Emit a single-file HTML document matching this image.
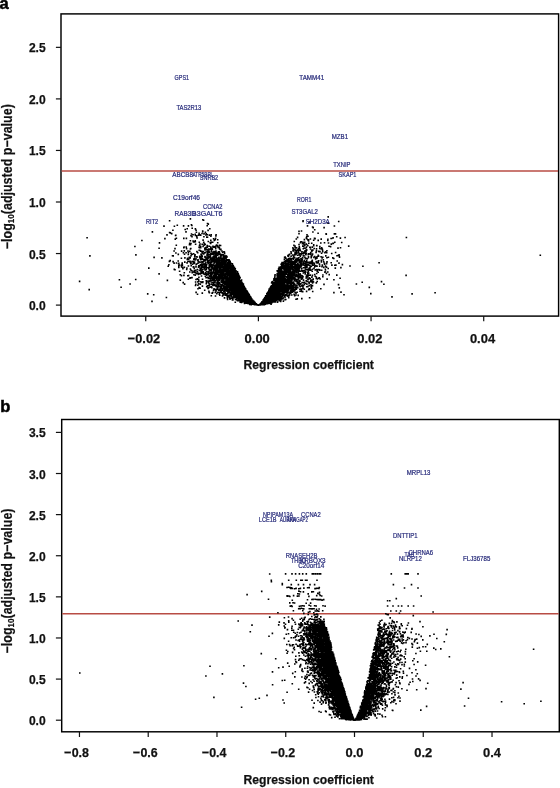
<!DOCTYPE html>
<html><head><meta charset="utf-8"><style>
html,body{margin:0;padding:0;background:#fff;width:560px;height:788px;overflow:hidden}
svg{display:block;will-change:transform}
text{font-family:"Liberation Sans",sans-serif}
.tk{font-size:13.6px;font-weight:bold;fill:#111;stroke:#111;stroke-width:0.25px}
.tt{font-size:13.5px;font-weight:bold;fill:#111;stroke:#111;stroke-width:0.25px}
.yt{font-size:14px;font-weight:bold;fill:#111;stroke:#111;stroke-width:0.2px}
.pl{font-size:16.5px;font-weight:bold;fill:#000;stroke:#000;stroke-width:0.5px}
.gn{font-size:7px;fill:#262a7a;stroke:#262a7a;stroke-width:0.22px}
</style></head><body>
<svg width="560" height="788" viewBox="0 0 560 788">
<rect x="61.0" y="13.9" width="497.60" height="302.20" fill="none" stroke="#000" stroke-width="1.45"/>
<line x1="55.9" x2="61.0" y1="305.10" y2="305.10" stroke="#111" stroke-width="1.2"/>
<text x="45.7" y="310.10" text-anchor="end" class="tk" textLength="16.8" lengthAdjust="spacingAndGlyphs">0.0</text>
<line x1="55.9" x2="61.0" y1="253.55" y2="253.55" stroke="#111" stroke-width="1.2"/>
<text x="45.7" y="258.55" text-anchor="end" class="tk" textLength="16.8" lengthAdjust="spacingAndGlyphs">0.5</text>
<line x1="55.9" x2="61.0" y1="202.00" y2="202.00" stroke="#111" stroke-width="1.2"/>
<text x="45.7" y="207.00" text-anchor="end" class="tk" textLength="16.8" lengthAdjust="spacingAndGlyphs">1.0</text>
<line x1="55.9" x2="61.0" y1="150.45" y2="150.45" stroke="#111" stroke-width="1.2"/>
<text x="45.7" y="155.45" text-anchor="end" class="tk" textLength="16.8" lengthAdjust="spacingAndGlyphs">1.5</text>
<line x1="55.9" x2="61.0" y1="98.90" y2="98.90" stroke="#111" stroke-width="1.2"/>
<text x="45.7" y="103.90" text-anchor="end" class="tk" textLength="16.8" lengthAdjust="spacingAndGlyphs">2.0</text>
<line x1="55.9" x2="61.0" y1="47.35" y2="47.35" stroke="#111" stroke-width="1.2"/>
<text x="45.7" y="52.35" text-anchor="end" class="tk" textLength="16.8" lengthAdjust="spacingAndGlyphs">2.5</text>
<line x1="145.74" x2="145.74" y1="316.1" y2="321.30" stroke="#111" stroke-width="1.2"/>
<text x="143.94" y="343.3" text-anchor="middle" class="tk" textLength="32.4" lengthAdjust="spacingAndGlyphs">−0.02</text>
<line x1="258.40" x2="258.40" y1="316.1" y2="321.30" stroke="#111" stroke-width="1.2"/>
<text x="257.20" y="343.3" text-anchor="middle" class="tk" textLength="25.2" lengthAdjust="spacingAndGlyphs">0.00</text>
<line x1="371.06" x2="371.06" y1="316.1" y2="321.30" stroke="#111" stroke-width="1.2"/>
<text x="369.86" y="343.3" text-anchor="middle" class="tk" textLength="25.2" lengthAdjust="spacingAndGlyphs">0.02</text>
<line x1="483.72" x2="483.72" y1="316.1" y2="321.30" stroke="#111" stroke-width="1.2"/>
<text x="482.52" y="343.3" text-anchor="middle" class="tk" textLength="25.2" lengthAdjust="spacingAndGlyphs">0.04</text>
<text x="308.7" y="369.3" text-anchor="middle" class="tt" textLength="130.4" lengthAdjust="spacingAndGlyphs">Regression coefficient</text>
<text transform="translate(11.7 176.7) rotate(-90)" x="0" y="0" text-anchor="middle" class="yt" textLength="145" lengthAdjust="spacingAndGlyphs">−log<tspan font-size="9px" dy="2.4">10</tspan><tspan dy="-2.4">(adjusted p−value)</tspan></text>
<line x1="61.6" x2="558.0" y1="170.96" y2="170.96" stroke="#b84c44" stroke-width="1.6"/>
<rect x="61.7" y="419.5" width="497.60" height="312.30" fill="none" stroke="#000" stroke-width="1.45"/>
<line x1="55.9" x2="61.7" y1="720.20" y2="720.20" stroke="#111" stroke-width="1.2"/>
<text x="45.7" y="725.20" text-anchor="end" class="tk" textLength="16.8" lengthAdjust="spacingAndGlyphs">0.0</text>
<line x1="55.9" x2="61.7" y1="679.09" y2="679.09" stroke="#111" stroke-width="1.2"/>
<text x="45.7" y="684.09" text-anchor="end" class="tk" textLength="16.8" lengthAdjust="spacingAndGlyphs">0.5</text>
<line x1="55.9" x2="61.7" y1="637.97" y2="637.97" stroke="#111" stroke-width="1.2"/>
<text x="45.7" y="642.97" text-anchor="end" class="tk" textLength="16.8" lengthAdjust="spacingAndGlyphs">1.0</text>
<line x1="55.9" x2="61.7" y1="596.86" y2="596.86" stroke="#111" stroke-width="1.2"/>
<text x="45.7" y="601.86" text-anchor="end" class="tk" textLength="16.8" lengthAdjust="spacingAndGlyphs">1.5</text>
<line x1="55.9" x2="61.7" y1="555.74" y2="555.74" stroke="#111" stroke-width="1.2"/>
<text x="45.7" y="560.74" text-anchor="end" class="tk" textLength="16.8" lengthAdjust="spacingAndGlyphs">2.0</text>
<line x1="55.9" x2="61.7" y1="514.62" y2="514.62" stroke="#111" stroke-width="1.2"/>
<text x="45.7" y="519.62" text-anchor="end" class="tk" textLength="16.8" lengthAdjust="spacingAndGlyphs">2.5</text>
<line x1="55.9" x2="61.7" y1="473.51" y2="473.51" stroke="#111" stroke-width="1.2"/>
<text x="45.7" y="478.51" text-anchor="end" class="tk" textLength="16.8" lengthAdjust="spacingAndGlyphs">3.0</text>
<line x1="55.9" x2="61.7" y1="432.40" y2="432.40" stroke="#111" stroke-width="1.2"/>
<text x="45.7" y="437.40" text-anchor="end" class="tk" textLength="16.8" lengthAdjust="spacingAndGlyphs">3.5</text>
<line x1="79.46" x2="79.46" y1="731.8" y2="737.00" stroke="#111" stroke-width="1.2"/>
<text x="76.66" y="756.9" text-anchor="middle" class="tk" textLength="24.6" lengthAdjust="spacingAndGlyphs">−0.8</text>
<line x1="148.22" x2="148.22" y1="731.8" y2="737.00" stroke="#111" stroke-width="1.2"/>
<text x="145.42" y="756.9" text-anchor="middle" class="tk" textLength="24.6" lengthAdjust="spacingAndGlyphs">−0.6</text>
<line x1="216.98" x2="216.98" y1="731.8" y2="737.00" stroke="#111" stroke-width="1.2"/>
<text x="214.18" y="756.9" text-anchor="middle" class="tk" textLength="24.6" lengthAdjust="spacingAndGlyphs">−0.4</text>
<line x1="285.74" x2="285.74" y1="731.8" y2="737.00" stroke="#111" stroke-width="1.2"/>
<text x="282.94" y="756.9" text-anchor="middle" class="tk" textLength="24.6" lengthAdjust="spacingAndGlyphs">−0.2</text>
<line x1="354.50" x2="354.50" y1="731.8" y2="737.00" stroke="#111" stroke-width="1.2"/>
<text x="354.50" y="756.9" text-anchor="middle" class="tk" textLength="18.0" lengthAdjust="spacingAndGlyphs">0.0</text>
<line x1="423.26" x2="423.26" y1="731.8" y2="737.00" stroke="#111" stroke-width="1.2"/>
<text x="423.26" y="756.9" text-anchor="middle" class="tk" textLength="18.0" lengthAdjust="spacingAndGlyphs">0.2</text>
<line x1="492.02" x2="492.02" y1="731.8" y2="737.00" stroke="#111" stroke-width="1.2"/>
<text x="492.02" y="756.9" text-anchor="middle" class="tk" textLength="18.0" lengthAdjust="spacingAndGlyphs">0.4</text>
<text x="308.7" y="783.6" text-anchor="middle" class="tt" textLength="130.4" lengthAdjust="spacingAndGlyphs">Regression coefficient</text>
<text transform="translate(11.7 581.0) rotate(-90)" x="0" y="0" text-anchor="middle" class="yt" textLength="145" lengthAdjust="spacingAndGlyphs">−log<tspan font-size="9px" dy="2.4">10</tspan><tspan dy="-2.4">(adjusted p−value)</tspan></text>
<line x1="62.300000000000004" x2="558.6999999999999" y1="613.72" y2="613.72" stroke="#b84c44" stroke-width="1.6"/>
<text x="-0.6" y="8.8" class="pl">a</text>
<text x="0.2" y="411.6" class="pl">b</text>
<path d="M212.8 277.6h1.6v1.6h-1.6zM215.4 258.9h1.6v1.6h-1.6zM205.6 268.3h1.6v1.6h-1.6zM240.6 296.2h1.6v1.6h-1.6zM230.8 293.2h1.6v1.6h-1.6zM202.5 261.2h1.6v1.6h-1.6zM256.8 304.2h1.6v1.6h-1.6zM226.9 265.2h1.6v1.6h-1.6zM225.4 266.9h1.6v1.6h-1.6zM230.9 285.7h1.6v1.6h-1.6zM245.8 293.1h1.6v1.6h-1.6zM245.5 294.1h1.6v1.6h-1.6zM242.5 295.0h1.6v1.6h-1.6zM198.3 286.8h1.6v1.6h-1.6zM223.7 283.9h1.6v1.6h-1.6zM241.1 281.4h1.6v1.6h-1.6zM186.4 227.9h1.6v1.6h-1.6zM215.3 267.2h1.6v1.6h-1.6zM231.4 277.7h1.6v1.6h-1.6zM210.1 235.5h1.6v1.6h-1.6zM243.0 296.6h1.6v1.6h-1.6zM234.7 298.7h1.6v1.6h-1.6zM216.2 278.3h1.6v1.6h-1.6zM253.8 302.9h1.6v1.6h-1.6zM254.4 303.1h1.6v1.6h-1.6zM227.2 283.4h1.6v1.6h-1.6zM230.3 285.8h1.6v1.6h-1.6zM188.5 256.5h1.6v1.6h-1.6zM228.1 277.3h1.6v1.6h-1.6zM234.7 283.5h1.6v1.6h-1.6zM237.8 284.3h1.6v1.6h-1.6zM245.2 295.3h1.6v1.6h-1.6zM256.3 303.9h1.6v1.6h-1.6zM248.5 297.5h1.6v1.6h-1.6zM236.7 273.7h1.6v1.6h-1.6zM247.8 297.2h1.6v1.6h-1.6zM234.7 290.2h1.6v1.6h-1.6zM256.4 304.2h1.6v1.6h-1.6zM220.6 264.5h1.6v1.6h-1.6zM235.7 298.9h1.6v1.6h-1.6zM229.5 294.5h1.6v1.6h-1.6zM229.4 260.6h1.6v1.6h-1.6zM231.3 283.7h1.6v1.6h-1.6zM217.1 263.3h1.6v1.6h-1.6zM220.2 276.7h1.6v1.6h-1.6zM205.6 270.6h1.6v1.6h-1.6zM251.5 301.2h1.6v1.6h-1.6zM219.0 282.1h1.6v1.6h-1.6zM242.1 283.8h1.6v1.6h-1.6zM208.3 261.4h1.6v1.6h-1.6zM244.5 290.6h1.6v1.6h-1.6zM237.8 279.1h1.6v1.6h-1.6zM249.7 302.3h1.6v1.6h-1.6zM241.7 289.4h1.6v1.6h-1.6zM235.2 292.2h1.6v1.6h-1.6zM247.9 299.1h1.6v1.6h-1.6zM216.7 265.5h1.6v1.6h-1.6zM240.4 289.8h1.6v1.6h-1.6zM216.9 241.9h1.6v1.6h-1.6zM211.1 279.5h1.6v1.6h-1.6zM210.1 278.7h1.6v1.6h-1.6zM226.6 276.8h1.6v1.6h-1.6zM227.6 274.6h1.6v1.6h-1.6zM249.8 299.0h1.6v1.6h-1.6zM241.2 287.0h1.6v1.6h-1.6zM247.4 295.6h1.6v1.6h-1.6zM243.7 288.8h1.6v1.6h-1.6zM250.6 301.0h1.6v1.6h-1.6zM183.3 246.2h1.6v1.6h-1.6zM246.6 296.6h1.6v1.6h-1.6zM221.1 274.9h1.6v1.6h-1.6zM237.4 293.2h1.6v1.6h-1.6zM224.1 261.1h1.6v1.6h-1.6zM218.1 275.4h1.6v1.6h-1.6zM248.6 299.7h1.6v1.6h-1.6zM191.7 263.4h1.6v1.6h-1.6zM185.3 252.0h1.6v1.6h-1.6zM217.7 258.1h1.6v1.6h-1.6zM232.6 280.6h1.6v1.6h-1.6zM236.8 299.2h1.6v1.6h-1.6zM171.7 254.9h1.6v1.6h-1.6zM212.8 281.5h1.6v1.6h-1.6zM247.9 297.9h1.6v1.6h-1.6zM217.3 260.2h1.6v1.6h-1.6zM215.3 276.6h1.6v1.6h-1.6zM238.2 280.6h1.6v1.6h-1.6zM243.3 289.9h1.6v1.6h-1.6zM227.5 288.4h1.6v1.6h-1.6zM241.5 295.6h1.6v1.6h-1.6zM252.8 303.1h1.6v1.6h-1.6zM232.1 285.7h1.6v1.6h-1.6zM234.9 281.7h1.6v1.6h-1.6zM230.8 292.3h1.6v1.6h-1.6zM214.7 269.9h1.6v1.6h-1.6zM255.1 303.5h1.6v1.6h-1.6zM243.2 290.1h1.6v1.6h-1.6zM253.4 303.3h1.6v1.6h-1.6zM250.0 300.1h1.6v1.6h-1.6zM214.7 246.5h1.6v1.6h-1.6zM232.8 275.7h1.6v1.6h-1.6zM219.3 287.6h1.6v1.6h-1.6zM233.6 283.0h1.6v1.6h-1.6zM213.6 261.2h1.6v1.6h-1.6zM245.5 291.3h1.6v1.6h-1.6zM238.3 279.5h1.6v1.6h-1.6zM237.2 274.2h1.6v1.6h-1.6zM238.0 290.8h1.6v1.6h-1.6zM237.2 283.2h1.6v1.6h-1.6zM174.2 269.0h1.6v1.6h-1.6zM213.4 257.5h1.6v1.6h-1.6zM194.3 254.1h1.6v1.6h-1.6zM218.4 269.8h1.6v1.6h-1.6zM192.9 265.9h1.6v1.6h-1.6zM228.6 288.0h1.6v1.6h-1.6zM228.0 265.6h1.6v1.6h-1.6zM236.0 277.4h1.6v1.6h-1.6zM217.7 267.1h1.6v1.6h-1.6zM232.2 283.5h1.6v1.6h-1.6zM229.3 271.6h1.6v1.6h-1.6zM241.6 296.2h1.6v1.6h-1.6zM237.8 297.2h1.6v1.6h-1.6zM242.7 298.0h1.6v1.6h-1.6zM230.4 291.3h1.6v1.6h-1.6zM204.9 251.4h1.6v1.6h-1.6zM223.6 280.4h1.6v1.6h-1.6zM241.2 291.5h1.6v1.6h-1.6zM247.0 294.4h1.6v1.6h-1.6zM189.0 250.5h1.6v1.6h-1.6zM240.3 286.8h1.6v1.6h-1.6zM193.4 241.1h1.6v1.6h-1.6zM212.0 283.4h1.6v1.6h-1.6zM218.1 283.1h1.6v1.6h-1.6zM212.3 258.9h1.6v1.6h-1.6zM220.9 270.5h1.6v1.6h-1.6zM214.0 280.0h1.6v1.6h-1.6zM220.4 287.7h1.6v1.6h-1.6zM225.5 260.8h1.6v1.6h-1.6zM243.7 288.3h1.6v1.6h-1.6zM208.2 255.7h1.6v1.6h-1.6zM235.4 287.5h1.6v1.6h-1.6zM231.4 283.2h1.6v1.6h-1.6zM214.2 250.7h1.6v1.6h-1.6zM241.6 295.2h1.6v1.6h-1.6zM231.6 266.2h1.6v1.6h-1.6zM219.7 274.6h1.6v1.6h-1.6zM210.8 272.1h1.6v1.6h-1.6zM221.1 277.3h1.6v1.6h-1.6zM215.3 244.9h1.6v1.6h-1.6zM242.2 291.8h1.6v1.6h-1.6zM234.8 289.0h1.6v1.6h-1.6zM245.6 297.1h1.6v1.6h-1.6zM252.2 302.6h1.6v1.6h-1.6zM242.6 296.7h1.6v1.6h-1.6zM222.9 256.7h1.6v1.6h-1.6zM212.2 263.8h1.6v1.6h-1.6zM234.9 278.7h1.6v1.6h-1.6zM230.8 285.2h1.6v1.6h-1.6zM227.4 279.2h1.6v1.6h-1.6zM212.7 275.6h1.6v1.6h-1.6zM235.7 292.9h1.6v1.6h-1.6zM189.6 248.2h1.6v1.6h-1.6zM237.3 285.8h1.6v1.6h-1.6zM214.5 277.4h1.6v1.6h-1.6zM218.2 277.0h1.6v1.6h-1.6zM237.7 297.8h1.6v1.6h-1.6zM247.3 302.2h1.6v1.6h-1.6zM241.5 288.4h1.6v1.6h-1.6zM230.7 269.1h1.6v1.6h-1.6zM225.0 265.6h1.6v1.6h-1.6zM200.2 271.3h1.6v1.6h-1.6zM248.0 300.4h1.6v1.6h-1.6zM225.1 257.0h1.6v1.6h-1.6zM222.6 266.5h1.6v1.6h-1.6zM228.0 260.8h1.6v1.6h-1.6zM197.8 283.0h1.6v1.6h-1.6zM204.6 256.7h1.6v1.6h-1.6zM254.6 302.8h1.6v1.6h-1.6zM253.5 303.3h1.6v1.6h-1.6zM249.0 303.7h1.6v1.6h-1.6zM239.8 295.1h1.6v1.6h-1.6zM248.0 295.3h1.6v1.6h-1.6zM247.2 297.7h1.6v1.6h-1.6zM221.1 280.7h1.6v1.6h-1.6zM248.5 303.0h1.6v1.6h-1.6zM218.6 279.5h1.6v1.6h-1.6zM243.2 298.5h1.6v1.6h-1.6zM234.6 274.5h1.6v1.6h-1.6zM253.9 303.6h1.6v1.6h-1.6zM223.9 292.8h1.6v1.6h-1.6zM219.2 253.2h1.6v1.6h-1.6zM237.5 282.2h1.6v1.6h-1.6zM227.8 265.9h1.6v1.6h-1.6zM221.6 275.7h1.6v1.6h-1.6zM229.6 278.4h1.6v1.6h-1.6zM231.4 297.5h1.6v1.6h-1.6zM208.4 280.3h1.6v1.6h-1.6zM251.9 303.0h1.6v1.6h-1.6zM215.5 266.5h1.6v1.6h-1.6zM220.1 248.5h1.6v1.6h-1.6zM220.2 262.8h1.6v1.6h-1.6zM252.7 302.6h1.6v1.6h-1.6zM220.4 291.6h1.6v1.6h-1.6zM239.6 292.4h1.6v1.6h-1.6zM243.5 300.4h1.6v1.6h-1.6zM221.8 277.5h1.6v1.6h-1.6zM210.4 266.8h1.6v1.6h-1.6zM242.5 292.6h1.6v1.6h-1.6zM228.4 262.1h1.6v1.6h-1.6zM207.0 266.9h1.6v1.6h-1.6zM242.4 299.8h1.6v1.6h-1.6zM234.2 268.9h1.6v1.6h-1.6zM221.0 260.3h1.6v1.6h-1.6zM220.3 280.4h1.6v1.6h-1.6zM236.6 276.8h1.6v1.6h-1.6zM187.5 278.4h1.6v1.6h-1.6zM220.1 275.5h1.6v1.6h-1.6zM227.4 277.2h1.6v1.6h-1.6zM198.0 265.0h1.6v1.6h-1.6zM208.4 266.4h1.6v1.6h-1.6zM229.0 292.1h1.6v1.6h-1.6zM227.6 271.8h1.6v1.6h-1.6zM211.0 261.7h1.6v1.6h-1.6zM204.1 259.3h1.6v1.6h-1.6zM226.8 298.6h1.6v1.6h-1.6zM226.2 276.1h1.6v1.6h-1.6zM232.2 296.6h1.6v1.6h-1.6zM234.7 280.9h1.6v1.6h-1.6zM202.1 252.0h1.6v1.6h-1.6zM233.8 289.8h1.6v1.6h-1.6zM244.6 295.1h1.6v1.6h-1.6zM235.8 286.3h1.6v1.6h-1.6zM219.6 275.7h1.6v1.6h-1.6zM252.8 300.9h1.6v1.6h-1.6zM236.0 289.7h1.6v1.6h-1.6zM252.2 299.7h1.6v1.6h-1.6zM238.5 275.4h1.6v1.6h-1.6zM201.2 264.5h1.6v1.6h-1.6zM237.8 289.9h1.6v1.6h-1.6zM230.5 290.1h1.6v1.6h-1.6zM226.6 282.2h1.6v1.6h-1.6zM233.8 296.6h1.6v1.6h-1.6zM243.7 295.3h1.6v1.6h-1.6zM236.5 286.2h1.6v1.6h-1.6zM253.8 301.5h1.6v1.6h-1.6zM210.6 269.8h1.6v1.6h-1.6zM240.3 280.1h1.6v1.6h-1.6zM248.5 301.7h1.6v1.6h-1.6zM232.0 269.2h1.6v1.6h-1.6zM251.2 299.8h1.6v1.6h-1.6zM251.5 299.7h1.6v1.6h-1.6zM250.9 299.8h1.6v1.6h-1.6zM251.7 301.6h1.6v1.6h-1.6zM221.3 257.8h1.6v1.6h-1.6zM244.6 294.5h1.6v1.6h-1.6zM245.1 292.9h1.6v1.6h-1.6zM181.6 264.3h1.6v1.6h-1.6zM227.4 277.9h1.6v1.6h-1.6zM248.2 297.7h1.6v1.6h-1.6zM241.9 287.3h1.6v1.6h-1.6zM208.1 260.2h1.6v1.6h-1.6zM237.4 290.0h1.6v1.6h-1.6zM211.9 272.5h1.6v1.6h-1.6zM250.1 301.0h1.6v1.6h-1.6zM213.7 271.5h1.6v1.6h-1.6zM228.0 268.3h1.6v1.6h-1.6zM225.3 264.8h1.6v1.6h-1.6zM221.6 269.5h1.6v1.6h-1.6zM238.2 294.6h1.6v1.6h-1.6zM233.1 282.3h1.6v1.6h-1.6zM220.9 270.1h1.6v1.6h-1.6zM203.1 258.9h1.6v1.6h-1.6zM249.6 300.0h1.6v1.6h-1.6zM202.7 266.7h1.6v1.6h-1.6zM231.2 276.5h1.6v1.6h-1.6zM225.2 271.9h1.6v1.6h-1.6zM173.6 225.5h1.6v1.6h-1.6zM213.7 253.1h1.6v1.6h-1.6zM223.6 263.6h1.6v1.6h-1.6zM189.6 268.2h1.6v1.6h-1.6zM231.3 289.1h1.6v1.6h-1.6zM235.4 276.7h1.6v1.6h-1.6zM245.6 297.8h1.6v1.6h-1.6zM227.9 269.4h1.6v1.6h-1.6zM224.9 269.5h1.6v1.6h-1.6zM200.4 271.9h1.6v1.6h-1.6zM243.4 286.8h1.6v1.6h-1.6zM245.0 289.8h1.6v1.6h-1.6zM230.9 288.0h1.6v1.6h-1.6zM254.8 303.2h1.6v1.6h-1.6zM225.8 263.5h1.6v1.6h-1.6zM240.1 282.0h1.6v1.6h-1.6zM221.4 289.4h1.6v1.6h-1.6zM213.8 281.7h1.6v1.6h-1.6zM226.6 271.8h1.6v1.6h-1.6zM241.6 289.7h1.6v1.6h-1.6zM209.6 264.5h1.6v1.6h-1.6zM196.4 256.2h1.6v1.6h-1.6zM248.3 299.5h1.6v1.6h-1.6zM231.9 269.3h1.6v1.6h-1.6zM195.6 231.5h1.6v1.6h-1.6zM232.1 299.1h1.6v1.6h-1.6zM232.5 272.4h1.6v1.6h-1.6zM230.8 264.9h1.6v1.6h-1.6zM214.9 256.0h1.6v1.6h-1.6zM243.3 300.0h1.6v1.6h-1.6zM245.5 301.2h1.6v1.6h-1.6zM206.7 236.4h1.6v1.6h-1.6zM250.6 300.3h1.6v1.6h-1.6zM235.7 298.1h1.6v1.6h-1.6zM227.7 280.3h1.6v1.6h-1.6zM225.7 286.7h1.6v1.6h-1.6zM224.4 270.0h1.6v1.6h-1.6zM241.2 297.5h1.6v1.6h-1.6zM212.2 256.8h1.6v1.6h-1.6zM234.2 296.5h1.6v1.6h-1.6zM229.8 268.8h1.6v1.6h-1.6zM253.8 302.0h1.6v1.6h-1.6zM228.5 285.5h1.6v1.6h-1.6zM255.6 303.2h1.6v1.6h-1.6zM236.6 292.6h1.6v1.6h-1.6zM230.0 292.7h1.6v1.6h-1.6zM217.9 272.0h1.6v1.6h-1.6zM233.1 286.3h1.6v1.6h-1.6zM250.6 302.4h1.6v1.6h-1.6zM194.6 228.1h1.6v1.6h-1.6zM227.1 259.7h1.6v1.6h-1.6zM214.4 256.6h1.6v1.6h-1.6zM246.9 295.4h1.6v1.6h-1.6zM218.9 289.1h1.6v1.6h-1.6zM238.8 296.1h1.6v1.6h-1.6zM249.1 300.0h1.6v1.6h-1.6zM235.0 284.0h1.6v1.6h-1.6zM240.8 300.1h1.6v1.6h-1.6zM249.0 298.1h1.6v1.6h-1.6zM197.2 262.3h1.6v1.6h-1.6zM240.0 284.9h1.6v1.6h-1.6zM222.9 275.0h1.6v1.6h-1.6zM217.4 282.8h1.6v1.6h-1.6zM243.8 293.9h1.6v1.6h-1.6zM238.4 283.3h1.6v1.6h-1.6zM227.7 277.4h1.6v1.6h-1.6zM239.8 289.1h1.6v1.6h-1.6zM230.4 267.3h1.6v1.6h-1.6zM242.0 298.0h1.6v1.6h-1.6zM246.0 300.4h1.6v1.6h-1.6zM202.9 241.5h1.6v1.6h-1.6zM217.3 252.6h1.6v1.6h-1.6zM240.3 296.0h1.6v1.6h-1.6zM217.0 245.5h1.6v1.6h-1.6zM247.8 296.9h1.6v1.6h-1.6zM220.5 283.8h1.6v1.6h-1.6zM231.3 284.3h1.6v1.6h-1.6zM199.9 256.8h1.6v1.6h-1.6zM245.9 292.6h1.6v1.6h-1.6zM232.7 279.0h1.6v1.6h-1.6zM248.2 302.1h1.6v1.6h-1.6zM244.1 295.8h1.6v1.6h-1.6zM224.9 285.9h1.6v1.6h-1.6zM215.2 260.5h1.6v1.6h-1.6zM204.2 264.6h1.6v1.6h-1.6zM225.7 269.3h1.6v1.6h-1.6zM196.8 272.7h1.6v1.6h-1.6zM219.6 263.1h1.6v1.6h-1.6zM231.3 274.3h1.6v1.6h-1.6zM227.9 270.9h1.6v1.6h-1.6zM238.7 293.1h1.6v1.6h-1.6zM251.1 298.4h1.6v1.6h-1.6zM226.8 269.6h1.6v1.6h-1.6zM241.1 298.5h1.6v1.6h-1.6zM212.2 256.2h1.6v1.6h-1.6zM216.0 279.1h1.6v1.6h-1.6zM221.0 292.0h1.6v1.6h-1.6zM218.1 253.5h1.6v1.6h-1.6zM241.7 298.9h1.6v1.6h-1.6zM238.5 283.4h1.6v1.6h-1.6zM253.5 301.2h1.6v1.6h-1.6zM198.7 247.0h1.6v1.6h-1.6zM236.3 280.3h1.6v1.6h-1.6zM183.6 266.4h1.6v1.6h-1.6zM236.1 293.9h1.6v1.6h-1.6zM233.0 266.5h1.6v1.6h-1.6zM225.0 273.0h1.6v1.6h-1.6zM232.9 276.5h1.6v1.6h-1.6zM196.1 250.8h1.6v1.6h-1.6zM237.4 287.3h1.6v1.6h-1.6zM221.8 288.2h1.6v1.6h-1.6zM216.6 273.7h1.6v1.6h-1.6zM235.5 291.7h1.6v1.6h-1.6zM232.0 275.0h1.6v1.6h-1.6zM245.0 296.8h1.6v1.6h-1.6zM236.9 281.5h1.6v1.6h-1.6zM231.3 268.8h1.6v1.6h-1.6zM251.3 302.1h1.6v1.6h-1.6zM216.6 271.4h1.6v1.6h-1.6zM255.7 303.8h1.6v1.6h-1.6zM207.2 249.0h1.6v1.6h-1.6zM240.5 285.7h1.6v1.6h-1.6zM240.8 288.5h1.6v1.6h-1.6zM241.7 283.0h1.6v1.6h-1.6zM229.6 271.3h1.6v1.6h-1.6zM253.0 301.4h1.6v1.6h-1.6zM234.2 281.0h1.6v1.6h-1.6zM206.2 254.3h1.6v1.6h-1.6zM250.4 303.0h1.6v1.6h-1.6zM236.3 286.4h1.6v1.6h-1.6zM222.7 277.2h1.6v1.6h-1.6zM230.6 281.6h1.6v1.6h-1.6zM249.1 301.8h1.6v1.6h-1.6zM229.3 279.3h1.6v1.6h-1.6zM249.2 296.3h1.6v1.6h-1.6zM232.1 297.4h1.6v1.6h-1.6zM242.2 297.3h1.6v1.6h-1.6zM226.5 286.4h1.6v1.6h-1.6zM233.4 270.0h1.6v1.6h-1.6zM229.9 272.7h1.6v1.6h-1.6zM219.7 266.2h1.6v1.6h-1.6zM226.3 285.8h1.6v1.6h-1.6zM237.6 277.8h1.6v1.6h-1.6zM222.6 265.3h1.6v1.6h-1.6zM214.3 274.5h1.6v1.6h-1.6zM214.1 276.6h1.6v1.6h-1.6zM226.0 288.6h1.6v1.6h-1.6zM194.8 281.2h1.6v1.6h-1.6zM239.1 289.0h1.6v1.6h-1.6zM232.3 270.4h1.6v1.6h-1.6zM226.6 289.7h1.6v1.6h-1.6zM235.8 285.8h1.6v1.6h-1.6zM212.9 269.7h1.6v1.6h-1.6zM239.7 284.0h1.6v1.6h-1.6zM246.2 291.6h1.6v1.6h-1.6zM214.6 264.8h1.6v1.6h-1.6zM219.8 289.7h1.6v1.6h-1.6zM224.3 263.5h1.6v1.6h-1.6zM231.8 267.7h1.6v1.6h-1.6zM230.8 286.7h1.6v1.6h-1.6zM220.5 272.4h1.6v1.6h-1.6zM244.5 289.3h1.6v1.6h-1.6zM190.1 262.3h1.6v1.6h-1.6zM234.0 280.1h1.6v1.6h-1.6zM210.4 281.2h1.6v1.6h-1.6zM237.0 275.3h1.6v1.6h-1.6zM223.5 274.5h1.6v1.6h-1.6zM236.4 279.8h1.6v1.6h-1.6zM238.4 287.9h1.6v1.6h-1.6zM243.6 297.8h1.6v1.6h-1.6zM243.2 293.5h1.6v1.6h-1.6zM233.8 287.5h1.6v1.6h-1.6zM202.8 219.5h1.6v1.6h-1.6zM245.1 291.0h1.6v1.6h-1.6zM241.2 286.7h1.6v1.6h-1.6zM237.9 280.0h1.6v1.6h-1.6zM223.7 251.4h1.6v1.6h-1.6zM204.4 259.7h1.6v1.6h-1.6zM228.1 289.9h1.6v1.6h-1.6zM247.4 294.6h1.6v1.6h-1.6zM207.7 260.2h1.6v1.6h-1.6zM238.4 284.5h1.6v1.6h-1.6zM235.1 274.1h1.6v1.6h-1.6zM250.0 301.8h1.6v1.6h-1.6zM226.8 261.8h1.6v1.6h-1.6zM236.2 292.7h1.6v1.6h-1.6zM234.7 284.4h1.6v1.6h-1.6zM249.4 297.3h1.6v1.6h-1.6zM226.7 288.0h1.6v1.6h-1.6zM226.7 264.7h1.6v1.6h-1.6zM223.6 264.7h1.6v1.6h-1.6zM228.7 285.4h1.6v1.6h-1.6zM204.4 268.8h1.6v1.6h-1.6zM238.8 286.2h1.6v1.6h-1.6zM238.5 290.1h1.6v1.6h-1.6zM238.2 281.8h1.6v1.6h-1.6zM243.6 297.1h1.6v1.6h-1.6zM205.8 272.8h1.6v1.6h-1.6zM224.7 268.7h1.6v1.6h-1.6zM245.4 302.4h1.6v1.6h-1.6zM232.0 271.1h1.6v1.6h-1.6zM233.2 286.8h1.6v1.6h-1.6zM254.4 302.2h1.6v1.6h-1.6zM220.5 274.2h1.6v1.6h-1.6zM244.0 295.4h1.6v1.6h-1.6zM244.9 289.9h1.6v1.6h-1.6zM239.9 294.9h1.6v1.6h-1.6zM227.9 285.3h1.6v1.6h-1.6zM231.4 282.9h1.6v1.6h-1.6zM218.9 277.2h1.6v1.6h-1.6zM226.5 297.1h1.6v1.6h-1.6zM209.9 248.0h1.6v1.6h-1.6zM246.7 293.6h1.6v1.6h-1.6zM216.0 292.9h1.6v1.6h-1.6zM247.6 302.0h1.6v1.6h-1.6zM232.5 287.8h1.6v1.6h-1.6zM214.6 272.6h1.6v1.6h-1.6zM230.3 297.4h1.6v1.6h-1.6zM238.0 292.3h1.6v1.6h-1.6zM221.3 268.8h1.6v1.6h-1.6zM212.7 284.7h1.6v1.6h-1.6zM201.3 255.6h1.6v1.6h-1.6zM221.4 275.8h1.6v1.6h-1.6zM217.9 277.8h1.6v1.6h-1.6zM226.8 268.9h1.6v1.6h-1.6zM225.4 270.0h1.6v1.6h-1.6zM244.6 291.3h1.6v1.6h-1.6zM238.0 295.0h1.6v1.6h-1.6zM235.3 287.1h1.6v1.6h-1.6zM225.5 284.7h1.6v1.6h-1.6zM249.0 299.4h1.6v1.6h-1.6zM240.7 287.0h1.6v1.6h-1.6zM233.3 276.7h1.6v1.6h-1.6zM236.5 299.6h1.6v1.6h-1.6zM241.3 299.5h1.6v1.6h-1.6zM240.4 298.2h1.6v1.6h-1.6zM230.7 293.9h1.6v1.6h-1.6zM210.0 248.1h1.6v1.6h-1.6zM254.6 303.5h1.6v1.6h-1.6zM250.0 297.8h1.6v1.6h-1.6zM219.6 285.4h1.6v1.6h-1.6zM209.4 286.2h1.6v1.6h-1.6zM249.9 298.6h1.6v1.6h-1.6zM242.9 294.4h1.6v1.6h-1.6zM219.2 267.2h1.6v1.6h-1.6zM238.8 297.8h1.6v1.6h-1.6zM209.0 278.0h1.6v1.6h-1.6zM241.4 288.6h1.6v1.6h-1.6zM248.9 298.7h1.6v1.6h-1.6zM200.0 255.6h1.6v1.6h-1.6zM217.7 259.3h1.6v1.6h-1.6zM214.1 275.1h1.6v1.6h-1.6zM253.3 302.7h1.6v1.6h-1.6zM235.1 278.9h1.6v1.6h-1.6zM219.3 268.6h1.6v1.6h-1.6zM240.5 296.7h1.6v1.6h-1.6zM208.1 250.2h1.6v1.6h-1.6zM221.9 260.0h1.6v1.6h-1.6zM242.4 292.6h1.6v1.6h-1.6zM221.7 264.5h1.6v1.6h-1.6zM206.6 256.8h1.6v1.6h-1.6zM194.6 234.7h1.6v1.6h-1.6zM231.4 278.3h1.6v1.6h-1.6zM225.9 275.2h1.6v1.6h-1.6zM235.5 274.5h1.6v1.6h-1.6zM232.1 280.6h1.6v1.6h-1.6zM210.4 250.4h1.6v1.6h-1.6zM227.9 278.5h1.6v1.6h-1.6zM243.7 291.7h1.6v1.6h-1.6zM237.5 283.5h1.6v1.6h-1.6zM230.3 271.7h1.6v1.6h-1.6zM234.0 273.5h1.6v1.6h-1.6zM244.8 287.9h1.6v1.6h-1.6zM224.3 263.0h1.6v1.6h-1.6zM209.0 269.7h1.6v1.6h-1.6zM221.3 291.7h1.6v1.6h-1.6zM254.0 301.7h1.6v1.6h-1.6zM239.0 299.7h1.6v1.6h-1.6zM235.4 286.7h1.6v1.6h-1.6zM214.3 254.9h1.6v1.6h-1.6zM234.8 294.1h1.6v1.6h-1.6zM217.3 258.7h1.6v1.6h-1.6zM228.5 274.4h1.6v1.6h-1.6zM217.5 262.8h1.6v1.6h-1.6zM231.7 288.7h1.6v1.6h-1.6zM220.1 267.6h1.6v1.6h-1.6zM239.1 295.4h1.6v1.6h-1.6zM242.9 299.3h1.6v1.6h-1.6zM211.2 266.7h1.6v1.6h-1.6zM224.3 274.0h1.6v1.6h-1.6zM218.2 253.1h1.6v1.6h-1.6zM227.7 294.5h1.6v1.6h-1.6zM236.1 273.0h1.6v1.6h-1.6zM242.9 299.8h1.6v1.6h-1.6zM200.6 265.6h1.6v1.6h-1.6zM247.1 300.3h1.6v1.6h-1.6zM236.1 283.4h1.6v1.6h-1.6zM225.6 281.6h1.6v1.6h-1.6zM216.8 263.3h1.6v1.6h-1.6zM224.9 269.1h1.6v1.6h-1.6zM238.0 292.7h1.6v1.6h-1.6zM210.3 286.3h1.6v1.6h-1.6zM221.2 262.1h1.6v1.6h-1.6zM242.1 293.5h1.6v1.6h-1.6zM193.6 269.5h1.6v1.6h-1.6zM215.2 277.0h1.6v1.6h-1.6zM231.6 270.6h1.6v1.6h-1.6zM230.8 289.8h1.6v1.6h-1.6zM231.5 271.6h1.6v1.6h-1.6zM219.4 273.3h1.6v1.6h-1.6zM203.9 289.4h1.6v1.6h-1.6zM190.0 247.7h1.6v1.6h-1.6zM216.1 272.3h1.6v1.6h-1.6zM233.2 297.0h1.6v1.6h-1.6zM228.4 271.3h1.6v1.6h-1.6zM240.8 294.1h1.6v1.6h-1.6zM226.5 285.6h1.6v1.6h-1.6zM181.4 262.3h1.6v1.6h-1.6zM238.5 286.7h1.6v1.6h-1.6zM238.9 293.7h1.6v1.6h-1.6zM233.7 293.0h1.6v1.6h-1.6zM247.3 296.4h1.6v1.6h-1.6zM240.1 294.4h1.6v1.6h-1.6zM245.5 298.2h1.6v1.6h-1.6zM238.7 285.8h1.6v1.6h-1.6zM245.8 296.6h1.6v1.6h-1.6zM193.4 270.7h1.6v1.6h-1.6zM215.4 255.7h1.6v1.6h-1.6zM233.2 280.5h1.6v1.6h-1.6zM235.9 283.8h1.6v1.6h-1.6zM252.2 301.8h1.6v1.6h-1.6zM240.0 300.0h1.6v1.6h-1.6zM222.2 260.1h1.6v1.6h-1.6zM241.7 285.4h1.6v1.6h-1.6zM197.7 266.3h1.6v1.6h-1.6zM222.1 279.2h1.6v1.6h-1.6zM213.5 261.9h1.6v1.6h-1.6zM209.4 261.7h1.6v1.6h-1.6zM228.7 283.1h1.6v1.6h-1.6zM244.8 290.3h1.6v1.6h-1.6zM221.1 269.4h1.6v1.6h-1.6zM253.1 301.8h1.6v1.6h-1.6zM240.0 294.6h1.6v1.6h-1.6zM218.3 265.8h1.6v1.6h-1.6zM215.6 285.6h1.6v1.6h-1.6zM240.1 286.4h1.6v1.6h-1.6zM215.0 246.0h1.6v1.6h-1.6zM244.7 292.4h1.6v1.6h-1.6zM242.7 289.2h1.6v1.6h-1.6zM250.1 298.9h1.6v1.6h-1.6zM248.3 301.5h1.6v1.6h-1.6zM221.1 250.2h1.6v1.6h-1.6zM236.8 280.1h1.6v1.6h-1.6zM225.6 276.3h1.6v1.6h-1.6zM245.7 292.2h1.6v1.6h-1.6zM229.5 280.5h1.6v1.6h-1.6zM229.2 269.9h1.6v1.6h-1.6zM217.2 279.5h1.6v1.6h-1.6zM222.3 266.5h1.6v1.6h-1.6zM201.9 281.6h1.6v1.6h-1.6zM235.8 279.9h1.6v1.6h-1.6zM232.4 284.6h1.6v1.6h-1.6zM247.5 298.5h1.6v1.6h-1.6zM232.8 277.9h1.6v1.6h-1.6zM167.4 265.5h1.6v1.6h-1.6zM217.3 281.9h1.6v1.6h-1.6zM207.3 271.1h1.6v1.6h-1.6zM242.0 288.7h1.6v1.6h-1.6zM244.7 294.4h1.6v1.6h-1.6zM243.8 290.1h1.6v1.6h-1.6zM216.6 282.0h1.6v1.6h-1.6zM193.1 274.0h1.6v1.6h-1.6zM233.6 281.1h1.6v1.6h-1.6zM249.6 300.6h1.6v1.6h-1.6zM223.5 265.4h1.6v1.6h-1.6zM207.1 255.5h1.6v1.6h-1.6zM249.2 300.8h1.6v1.6h-1.6zM240.8 295.3h1.6v1.6h-1.6zM243.5 298.2h1.6v1.6h-1.6zM215.7 263.1h1.6v1.6h-1.6zM216.3 257.4h1.6v1.6h-1.6zM249.6 302.8h1.6v1.6h-1.6zM236.0 291.8h1.6v1.6h-1.6zM215.4 285.6h1.6v1.6h-1.6zM213.2 255.9h1.6v1.6h-1.6zM246.5 298.3h1.6v1.6h-1.6zM208.4 284.8h1.6v1.6h-1.6zM205.5 283.0h1.6v1.6h-1.6zM222.3 270.3h1.6v1.6h-1.6zM236.1 287.1h1.6v1.6h-1.6zM248.7 299.4h1.6v1.6h-1.6zM234.1 290.9h1.6v1.6h-1.6zM192.3 240.2h1.6v1.6h-1.6zM234.7 270.0h1.6v1.6h-1.6zM251.3 300.3h1.6v1.6h-1.6zM195.2 266.1h1.6v1.6h-1.6zM238.9 292.7h1.6v1.6h-1.6zM233.7 267.9h1.6v1.6h-1.6zM223.8 261.4h1.6v1.6h-1.6zM248.2 298.6h1.6v1.6h-1.6zM240.5 286.3h1.6v1.6h-1.6zM230.3 275.5h1.6v1.6h-1.6zM239.5 283.8h1.6v1.6h-1.6zM250.3 299.5h1.6v1.6h-1.6zM234.4 293.8h1.6v1.6h-1.6zM236.9 290.8h1.6v1.6h-1.6zM233.4 279.7h1.6v1.6h-1.6zM232.8 294.0h1.6v1.6h-1.6zM208.6 291.9h1.6v1.6h-1.6zM219.6 269.7h1.6v1.6h-1.6zM235.0 288.7h1.6v1.6h-1.6zM200.5 269.7h1.6v1.6h-1.6zM234.6 288.6h1.6v1.6h-1.6zM219.9 259.9h1.6v1.6h-1.6zM223.3 256.4h1.6v1.6h-1.6zM222.0 292.8h1.6v1.6h-1.6zM201.8 270.9h1.6v1.6h-1.6zM229.0 295.1h1.6v1.6h-1.6zM225.1 278.8h1.6v1.6h-1.6zM219.9 253.7h1.6v1.6h-1.6zM204.4 272.4h1.6v1.6h-1.6zM237.5 285.4h1.6v1.6h-1.6zM203.2 244.5h1.6v1.6h-1.6zM236.5 273.4h1.6v1.6h-1.6zM246.0 299.8h1.6v1.6h-1.6zM223.0 257.9h1.6v1.6h-1.6zM243.3 300.8h1.6v1.6h-1.6zM252.9 301.2h1.6v1.6h-1.6zM245.2 291.9h1.6v1.6h-1.6zM215.9 253.3h1.6v1.6h-1.6zM255.3 303.2h1.6v1.6h-1.6zM221.8 278.3h1.6v1.6h-1.6zM252.2 302.1h1.6v1.6h-1.6zM224.6 280.6h1.6v1.6h-1.6zM232.8 286.2h1.6v1.6h-1.6zM230.5 280.9h1.6v1.6h-1.6zM228.9 274.5h1.6v1.6h-1.6zM176.5 224.5h1.6v1.6h-1.6zM242.1 298.8h1.6v1.6h-1.6zM211.5 265.8h1.6v1.6h-1.6zM241.3 288.4h1.6v1.6h-1.6zM200.4 267.8h1.6v1.6h-1.6zM222.4 259.4h1.6v1.6h-1.6zM198.3 232.5h1.6v1.6h-1.6zM226.2 294.6h1.6v1.6h-1.6zM243.4 286.4h1.6v1.6h-1.6zM209.9 252.4h1.6v1.6h-1.6zM196.9 251.8h1.6v1.6h-1.6zM240.1 290.1h1.6v1.6h-1.6zM223.8 252.9h1.6v1.6h-1.6zM227.5 288.6h1.6v1.6h-1.6zM225.0 290.0h1.6v1.6h-1.6zM194.9 269.6h1.6v1.6h-1.6zM242.9 286.7h1.6v1.6h-1.6zM234.9 289.5h1.6v1.6h-1.6zM207.2 287.4h1.6v1.6h-1.6zM248.9 302.3h1.6v1.6h-1.6zM228.4 269.8h1.6v1.6h-1.6zM223.1 280.9h1.6v1.6h-1.6zM215.6 274.9h1.6v1.6h-1.6zM224.4 266.5h1.6v1.6h-1.6zM228.1 296.0h1.6v1.6h-1.6zM222.8 294.1h1.6v1.6h-1.6zM244.1 293.0h1.6v1.6h-1.6zM245.4 290.0h1.6v1.6h-1.6zM229.8 292.2h1.6v1.6h-1.6zM224.6 276.9h1.6v1.6h-1.6zM251.4 300.7h1.6v1.6h-1.6zM230.1 273.4h1.6v1.6h-1.6zM200.1 269.6h1.6v1.6h-1.6zM236.6 293.3h1.6v1.6h-1.6zM239.3 276.9h1.6v1.6h-1.6zM244.1 288.7h1.6v1.6h-1.6zM225.9 280.1h1.6v1.6h-1.6zM242.0 295.1h1.6v1.6h-1.6zM232.6 278.4h1.6v1.6h-1.6zM232.5 279.5h1.6v1.6h-1.6zM249.3 298.9h1.6v1.6h-1.6zM212.1 245.6h1.6v1.6h-1.6zM250.2 297.1h1.6v1.6h-1.6zM237.2 295.1h1.6v1.6h-1.6zM249.5 297.2h1.6v1.6h-1.6zM205.5 233.1h1.6v1.6h-1.6zM241.8 293.8h1.6v1.6h-1.6zM232.5 278.7h1.6v1.6h-1.6zM215.3 234.0h1.6v1.6h-1.6zM201.3 250.9h1.6v1.6h-1.6zM251.5 302.9h1.6v1.6h-1.6zM230.8 283.1h1.6v1.6h-1.6zM226.1 273.0h1.6v1.6h-1.6zM212.0 291.7h1.6v1.6h-1.6zM244.0 292.0h1.6v1.6h-1.6zM257.1 304.2h1.6v1.6h-1.6zM252.0 303.2h1.6v1.6h-1.6zM201.1 281.6h1.6v1.6h-1.6zM247.2 301.7h1.6v1.6h-1.6zM244.9 297.1h1.6v1.6h-1.6zM218.7 291.8h1.6v1.6h-1.6zM252.6 301.9h1.6v1.6h-1.6zM225.2 255.1h1.6v1.6h-1.6zM225.8 287.3h1.6v1.6h-1.6zM245.0 297.0h1.6v1.6h-1.6zM202.5 272.7h1.6v1.6h-1.6zM208.0 248.3h1.6v1.6h-1.6zM224.3 277.0h1.6v1.6h-1.6zM251.0 301.1h1.6v1.6h-1.6zM233.3 292.4h1.6v1.6h-1.6zM241.2 296.4h1.6v1.6h-1.6zM252.4 303.5h1.6v1.6h-1.6zM189.7 277.1h1.6v1.6h-1.6zM205.7 258.2h1.6v1.6h-1.6zM235.0 291.7h1.6v1.6h-1.6zM236.8 291.8h1.6v1.6h-1.6zM207.5 266.9h1.6v1.6h-1.6zM196.5 278.0h1.6v1.6h-1.6zM250.1 300.9h1.6v1.6h-1.6zM239.0 279.8h1.6v1.6h-1.6zM200.9 250.5h1.6v1.6h-1.6zM229.2 265.5h1.6v1.6h-1.6zM237.5 276.7h1.6v1.6h-1.6zM222.0 259.5h1.6v1.6h-1.6zM210.0 273.6h1.6v1.6h-1.6zM219.8 265.8h1.6v1.6h-1.6zM216.4 267.6h1.6v1.6h-1.6zM240.8 286.5h1.6v1.6h-1.6zM249.9 298.1h1.6v1.6h-1.6zM221.2 263.0h1.6v1.6h-1.6zM188.9 242.4h1.6v1.6h-1.6zM244.6 295.5h1.6v1.6h-1.6zM216.2 261.8h1.6v1.6h-1.6zM229.6 288.8h1.6v1.6h-1.6zM247.4 292.7h1.6v1.6h-1.6zM246.0 297.2h1.6v1.6h-1.6zM235.2 272.4h1.6v1.6h-1.6zM226.0 284.0h1.6v1.6h-1.6zM238.6 294.0h1.6v1.6h-1.6zM202.9 253.1h1.6v1.6h-1.6zM225.3 284.0h1.6v1.6h-1.6zM205.1 234.2h1.6v1.6h-1.6zM217.8 280.1h1.6v1.6h-1.6zM250.3 302.5h1.6v1.6h-1.6zM227.2 283.6h1.6v1.6h-1.6zM221.7 283.9h1.6v1.6h-1.6zM199.0 287.3h1.6v1.6h-1.6zM212.2 251.2h1.6v1.6h-1.6zM248.6 300.0h1.6v1.6h-1.6zM250.6 299.0h1.6v1.6h-1.6zM233.7 288.5h1.6v1.6h-1.6zM215.0 264.2h1.6v1.6h-1.6zM210.1 277.6h1.6v1.6h-1.6zM218.8 271.3h1.6v1.6h-1.6zM238.1 280.2h1.6v1.6h-1.6zM244.3 296.8h1.6v1.6h-1.6zM218.4 265.4h1.6v1.6h-1.6zM223.9 273.3h1.6v1.6h-1.6zM247.2 297.4h1.6v1.6h-1.6zM232.6 285.6h1.6v1.6h-1.6zM201.4 243.5h1.6v1.6h-1.6zM238.2 282.2h1.6v1.6h-1.6zM234.5 287.6h1.6v1.6h-1.6zM210.9 275.6h1.6v1.6h-1.6zM251.9 302.4h1.6v1.6h-1.6zM230.3 282.1h1.6v1.6h-1.6zM236.5 284.0h1.6v1.6h-1.6zM230.1 293.4h1.6v1.6h-1.6zM225.0 275.8h1.6v1.6h-1.6zM211.7 257.8h1.6v1.6h-1.6zM208.8 248.5h1.6v1.6h-1.6zM197.1 284.5h1.6v1.6h-1.6zM239.9 285.8h1.6v1.6h-1.6zM207.8 262.3h1.6v1.6h-1.6zM230.4 293.6h1.6v1.6h-1.6zM210.6 266.4h1.6v1.6h-1.6zM246.0 293.7h1.6v1.6h-1.6zM222.1 271.9h1.6v1.6h-1.6zM232.0 278.8h1.6v1.6h-1.6zM201.5 255.3h1.6v1.6h-1.6zM204.8 266.2h1.6v1.6h-1.6zM205.7 282.0h1.6v1.6h-1.6zM229.9 289.8h1.6v1.6h-1.6zM240.6 291.1h1.6v1.6h-1.6zM244.3 302.0h1.6v1.6h-1.6zM238.5 277.7h1.6v1.6h-1.6zM252.1 301.0h1.6v1.6h-1.6zM222.0 275.0h1.6v1.6h-1.6zM204.6 247.9h1.6v1.6h-1.6zM193.0 240.9h1.6v1.6h-1.6zM208.0 259.7h1.6v1.6h-1.6zM227.0 266.2h1.6v1.6h-1.6zM247.6 298.0h1.6v1.6h-1.6zM199.7 245.4h1.6v1.6h-1.6zM228.8 297.1h1.6v1.6h-1.6zM199.1 261.6h1.6v1.6h-1.6zM191.2 260.8h1.6v1.6h-1.6zM218.4 277.7h1.6v1.6h-1.6zM232.9 283.1h1.6v1.6h-1.6zM240.0 283.2h1.6v1.6h-1.6zM241.2 293.6h1.6v1.6h-1.6zM232.0 266.6h1.6v1.6h-1.6zM226.1 255.8h1.6v1.6h-1.6zM251.8 299.4h1.6v1.6h-1.6zM226.8 294.7h1.6v1.6h-1.6zM243.2 299.6h1.6v1.6h-1.6zM241.9 297.6h1.6v1.6h-1.6zM222.7 279.9h1.6v1.6h-1.6zM242.9 287.9h1.6v1.6h-1.6zM199.3 287.5h1.6v1.6h-1.6zM224.6 275.3h1.6v1.6h-1.6zM231.1 285.9h1.6v1.6h-1.6zM195.2 258.1h1.6v1.6h-1.6zM234.3 272.0h1.6v1.6h-1.6zM222.9 292.8h1.6v1.6h-1.6zM194.3 259.2h1.6v1.6h-1.6zM243.9 289.1h1.6v1.6h-1.6zM172.3 260.8h1.6v1.6h-1.6zM229.5 274.8h1.6v1.6h-1.6zM247.4 299.6h1.6v1.6h-1.6zM192.3 233.9h1.6v1.6h-1.6zM232.5 293.2h1.6v1.6h-1.6zM210.7 248.8h1.6v1.6h-1.6zM251.1 298.6h1.6v1.6h-1.6zM239.4 301.4h1.6v1.6h-1.6zM227.5 285.5h1.6v1.6h-1.6zM210.5 279.4h1.6v1.6h-1.6zM237.3 292.4h1.6v1.6h-1.6zM248.2 300.6h1.6v1.6h-1.6zM232.7 265.9h1.6v1.6h-1.6zM225.5 266.4h1.6v1.6h-1.6zM232.6 281.0h1.6v1.6h-1.6zM244.1 299.5h1.6v1.6h-1.6zM232.7 282.0h1.6v1.6h-1.6zM238.3 277.3h1.6v1.6h-1.6zM244.0 287.6h1.6v1.6h-1.6zM220.1 262.0h1.6v1.6h-1.6zM236.3 289.3h1.6v1.6h-1.6zM195.0 283.6h1.6v1.6h-1.6zM251.9 300.4h1.6v1.6h-1.6zM235.3 280.9h1.6v1.6h-1.6zM227.7 268.9h1.6v1.6h-1.6zM192.2 271.2h1.6v1.6h-1.6zM201.2 232.7h1.6v1.6h-1.6zM217.1 271.9h1.6v1.6h-1.6zM223.2 287.8h1.6v1.6h-1.6zM235.5 288.2h1.6v1.6h-1.6zM212.2 268.1h1.6v1.6h-1.6zM250.7 298.1h1.6v1.6h-1.6zM210.6 276.7h1.6v1.6h-1.6zM213.1 272.0h1.6v1.6h-1.6zM183.8 283.3h1.6v1.6h-1.6zM216.8 261.2h1.6v1.6h-1.6zM216.1 285.7h1.6v1.6h-1.6zM223.2 285.9h1.6v1.6h-1.6zM226.2 256.2h1.6v1.6h-1.6zM231.5 292.5h1.6v1.6h-1.6zM224.9 273.5h1.6v1.6h-1.6zM215.8 288.4h1.6v1.6h-1.6zM209.8 253.7h1.6v1.6h-1.6zM221.8 251.4h1.6v1.6h-1.6zM195.3 229.4h1.6v1.6h-1.6zM222.3 278.7h1.6v1.6h-1.6zM232.6 284.3h1.6v1.6h-1.6zM239.1 281.7h1.6v1.6h-1.6zM245.3 297.7h1.6v1.6h-1.6zM226.5 278.8h1.6v1.6h-1.6zM201.5 265.1h1.6v1.6h-1.6zM206.7 253.6h1.6v1.6h-1.6zM241.7 292.0h1.6v1.6h-1.6zM198.1 280.6h1.6v1.6h-1.6zM238.2 290.1h1.6v1.6h-1.6zM204.1 248.4h1.6v1.6h-1.6zM219.2 261.5h1.6v1.6h-1.6zM223.4 276.0h1.6v1.6h-1.6zM244.1 293.5h1.6v1.6h-1.6zM214.7 268.2h1.6v1.6h-1.6zM248.1 293.6h1.6v1.6h-1.6zM221.5 259.1h1.6v1.6h-1.6zM226.9 270.0h1.6v1.6h-1.6zM222.8 286.6h1.6v1.6h-1.6zM243.5 299.2h1.6v1.6h-1.6zM238.8 283.5h1.6v1.6h-1.6zM208.0 281.7h1.6v1.6h-1.6zM228.6 270.4h1.6v1.6h-1.6zM220.6 262.6h1.6v1.6h-1.6zM238.3 279.4h1.6v1.6h-1.6zM202.3 239.3h1.6v1.6h-1.6zM217.3 286.1h1.6v1.6h-1.6zM185.9 268.7h1.6v1.6h-1.6zM193.7 261.2h1.6v1.6h-1.6zM237.7 279.9h1.6v1.6h-1.6zM169.4 259.8h1.6v1.6h-1.6zM211.9 267.6h1.6v1.6h-1.6zM217.2 261.5h1.6v1.6h-1.6zM252.8 302.4h1.6v1.6h-1.6zM214.9 272.2h1.6v1.6h-1.6zM236.6 294.6h1.6v1.6h-1.6zM227.1 292.2h1.6v1.6h-1.6zM212.3 279.4h1.6v1.6h-1.6zM212.0 277.4h1.6v1.6h-1.6zM254.1 303.9h1.6v1.6h-1.6zM233.6 290.6h1.6v1.6h-1.6zM230.0 265.4h1.6v1.6h-1.6zM240.0 281.6h1.6v1.6h-1.6zM233.9 283.6h1.6v1.6h-1.6zM220.3 269.4h1.6v1.6h-1.6zM228.8 275.9h1.6v1.6h-1.6zM245.4 301.3h1.6v1.6h-1.6zM229.6 286.0h1.6v1.6h-1.6zM215.7 279.1h1.6v1.6h-1.6zM233.5 287.0h1.6v1.6h-1.6zM221.4 279.7h1.6v1.6h-1.6zM213.2 250.7h1.6v1.6h-1.6zM238.8 291.6h1.6v1.6h-1.6zM224.8 288.5h1.6v1.6h-1.6zM225.2 278.2h1.6v1.6h-1.6zM212.9 260.0h1.6v1.6h-1.6zM195.3 272.8h1.6v1.6h-1.6zM234.6 285.6h1.6v1.6h-1.6zM198.6 265.6h1.6v1.6h-1.6zM228.8 284.9h1.6v1.6h-1.6zM211.2 247.6h1.6v1.6h-1.6zM245.0 299.9h1.6v1.6h-1.6zM180.4 264.5h1.6v1.6h-1.6zM244.6 293.3h1.6v1.6h-1.6zM227.1 263.3h1.6v1.6h-1.6zM201.7 278.4h1.6v1.6h-1.6zM219.5 283.7h1.6v1.6h-1.6zM249.2 301.4h1.6v1.6h-1.6zM218.6 247.1h1.6v1.6h-1.6zM198.0 260.9h1.6v1.6h-1.6zM241.2 293.1h1.6v1.6h-1.6zM247.6 299.9h1.6v1.6h-1.6zM218.4 260.0h1.6v1.6h-1.6zM238.6 285.1h1.6v1.6h-1.6zM224.3 284.2h1.6v1.6h-1.6zM248.9 295.4h1.6v1.6h-1.6zM243.3 288.5h1.6v1.6h-1.6zM214.8 276.7h1.6v1.6h-1.6zM178.0 266.6h1.6v1.6h-1.6zM239.4 285.3h1.6v1.6h-1.6zM195.9 235.0h1.6v1.6h-1.6zM228.3 283.6h1.6v1.6h-1.6zM198.9 256.8h1.6v1.6h-1.6zM244.6 288.9h1.6v1.6h-1.6zM242.8 292.4h1.6v1.6h-1.6zM172.4 255.1h1.6v1.6h-1.6zM234.5 301.5h1.6v1.6h-1.6zM226.7 272.4h1.6v1.6h-1.6zM240.1 293.5h1.6v1.6h-1.6zM213.7 258.5h1.6v1.6h-1.6zM211.1 259.2h1.6v1.6h-1.6zM177.5 253.6h1.6v1.6h-1.6zM234.4 295.0h1.6v1.6h-1.6zM257.6 304.3h1.6v1.6h-1.6zM235.6 289.4h1.6v1.6h-1.6zM214.9 247.8h1.6v1.6h-1.6zM215.2 269.1h1.6v1.6h-1.6zM231.1 273.0h1.6v1.6h-1.6zM209.7 256.5h1.6v1.6h-1.6zM212.8 246.3h1.6v1.6h-1.6zM234.5 272.2h1.6v1.6h-1.6zM217.1 262.1h1.6v1.6h-1.6zM226.7 263.7h1.6v1.6h-1.6zM232.3 290.7h1.6v1.6h-1.6zM248.7 300.9h1.6v1.6h-1.6zM233.5 271.5h1.6v1.6h-1.6zM245.7 299.6h1.6v1.6h-1.6zM229.4 289.6h1.6v1.6h-1.6zM191.4 227.5h1.6v1.6h-1.6zM231.2 281.1h1.6v1.6h-1.6zM234.6 283.1h1.6v1.6h-1.6zM239.5 293.9h1.6v1.6h-1.6zM189.6 218.1h1.6v1.6h-1.6zM215.6 257.1h1.6v1.6h-1.6zM243.8 290.5h1.6v1.6h-1.6zM242.0 292.1h1.6v1.6h-1.6zM206.4 256.7h1.6v1.6h-1.6zM243.3 297.7h1.6v1.6h-1.6zM223.0 259.6h1.6v1.6h-1.6zM226.6 279.1h1.6v1.6h-1.6zM209.5 274.9h1.6v1.6h-1.6zM222.5 271.1h1.6v1.6h-1.6zM255.3 302.9h1.6v1.6h-1.6zM238.6 284.2h1.6v1.6h-1.6zM243.7 302.6h1.6v1.6h-1.6zM235.3 283.9h1.6v1.6h-1.6zM230.6 270.9h1.6v1.6h-1.6zM237.2 275.7h1.6v1.6h-1.6zM248.9 302.8h1.6v1.6h-1.6zM246.7 295.8h1.6v1.6h-1.6zM206.4 258.8h1.6v1.6h-1.6zM235.5 282.5h1.6v1.6h-1.6zM250.5 302.6h1.6v1.6h-1.6zM214.4 253.1h1.6v1.6h-1.6zM248.8 298.3h1.6v1.6h-1.6zM240.2 288.4h1.6v1.6h-1.6zM226.9 281.8h1.6v1.6h-1.6zM183.5 272.0h1.6v1.6h-1.6zM191.5 253.4h1.6v1.6h-1.6zM229.5 270.9h1.6v1.6h-1.6zM237.7 291.2h1.6v1.6h-1.6zM232.2 272.7h1.6v1.6h-1.6zM218.7 244.6h1.6v1.6h-1.6zM226.6 268.4h1.6v1.6h-1.6zM236.6 278.2h1.6v1.6h-1.6zM190.2 235.0h1.6v1.6h-1.6zM233.8 273.9h1.6v1.6h-1.6zM242.4 289.2h1.6v1.6h-1.6zM208.3 272.2h1.6v1.6h-1.6zM233.9 285.8h1.6v1.6h-1.6zM217.2 288.3h1.6v1.6h-1.6zM230.1 284.5h1.6v1.6h-1.6zM233.1 294.0h1.6v1.6h-1.6zM240.3 295.5h1.6v1.6h-1.6zM235.0 293.5h1.6v1.6h-1.6zM229.5 264.0h1.6v1.6h-1.6zM229.8 263.2h1.6v1.6h-1.6zM243.7 291.3h1.6v1.6h-1.6zM187.9 258.3h1.6v1.6h-1.6zM240.0 290.7h1.6v1.6h-1.6zM217.1 281.4h1.6v1.6h-1.6zM230.9 276.1h1.6v1.6h-1.6zM211.6 248.6h1.6v1.6h-1.6zM183.0 247.0h1.6v1.6h-1.6zM236.6 275.2h1.6v1.6h-1.6zM200.6 267.0h1.6v1.6h-1.6zM223.4 277.0h1.6v1.6h-1.6zM205.1 261.4h1.6v1.6h-1.6zM243.8 292.1h1.6v1.6h-1.6zM248.2 294.7h1.6v1.6h-1.6zM233.2 283.7h1.6v1.6h-1.6zM221.2 274.3h1.6v1.6h-1.6zM228.7 267.3h1.6v1.6h-1.6zM223.4 266.0h1.6v1.6h-1.6zM230.6 275.2h1.6v1.6h-1.6zM247.1 292.3h1.6v1.6h-1.6zM217.5 275.7h1.6v1.6h-1.6zM235.6 280.2h1.6v1.6h-1.6zM238.6 278.0h1.6v1.6h-1.6zM225.4 286.7h1.6v1.6h-1.6zM245.0 296.2h1.6v1.6h-1.6zM218.6 271.6h1.6v1.6h-1.6zM229.7 285.9h1.6v1.6h-1.6zM219.0 270.3h1.6v1.6h-1.6zM242.6 290.5h1.6v1.6h-1.6zM248.9 301.3h1.6v1.6h-1.6zM233.9 277.7h1.6v1.6h-1.6zM222.6 255.8h1.6v1.6h-1.6zM221.8 259.8h1.6v1.6h-1.6zM249.0 302.4h1.6v1.6h-1.6zM222.8 268.6h1.6v1.6h-1.6zM229.5 273.3h1.6v1.6h-1.6zM237.3 289.8h1.6v1.6h-1.6zM224.4 292.3h1.6v1.6h-1.6zM208.6 284.7h1.6v1.6h-1.6zM222.6 282.6h1.6v1.6h-1.6zM226.4 274.5h1.6v1.6h-1.6zM205.8 274.5h1.6v1.6h-1.6zM235.5 291.3h1.6v1.6h-1.6zM235.5 278.5h1.6v1.6h-1.6zM241.4 286.1h1.6v1.6h-1.6zM227.7 281.0h1.6v1.6h-1.6zM220.9 284.2h1.6v1.6h-1.6zM246.3 296.4h1.6v1.6h-1.6zM243.9 289.5h1.6v1.6h-1.6zM249.5 301.8h1.6v1.6h-1.6zM234.0 275.7h1.6v1.6h-1.6zM216.6 259.3h1.6v1.6h-1.6zM237.2 290.9h1.6v1.6h-1.6zM251.9 300.7h1.6v1.6h-1.6zM222.7 277.8h1.6v1.6h-1.6zM196.8 259.5h1.6v1.6h-1.6zM230.8 290.6h1.6v1.6h-1.6zM240.0 284.4h1.6v1.6h-1.6zM246.4 294.2h1.6v1.6h-1.6zM222.0 272.4h1.6v1.6h-1.6zM185.6 237.6h1.6v1.6h-1.6zM186.1 267.3h1.6v1.6h-1.6zM243.0 287.4h1.6v1.6h-1.6zM217.4 265.1h1.6v1.6h-1.6zM230.4 270.3h1.6v1.6h-1.6zM225.1 293.5h1.6v1.6h-1.6zM224.6 265.3h1.6v1.6h-1.6zM169.5 232.1h1.6v1.6h-1.6zM218.1 278.3h1.6v1.6h-1.6zM218.4 261.3h1.6v1.6h-1.6zM216.9 238.9h1.6v1.6h-1.6zM224.6 270.6h1.6v1.6h-1.6zM233.9 276.5h1.6v1.6h-1.6zM242.1 296.4h1.6v1.6h-1.6zM241.3 290.2h1.6v1.6h-1.6zM229.8 277.7h1.6v1.6h-1.6zM219.7 255.2h1.6v1.6h-1.6zM243.8 293.1h1.6v1.6h-1.6zM233.1 289.1h1.6v1.6h-1.6zM206.6 273.4h1.6v1.6h-1.6zM228.7 286.9h1.6v1.6h-1.6zM232.9 266.8h1.6v1.6h-1.6zM231.8 274.8h1.6v1.6h-1.6zM246.3 297.6h1.6v1.6h-1.6zM241.8 288.7h1.6v1.6h-1.6zM228.1 270.3h1.6v1.6h-1.6zM224.0 286.0h1.6v1.6h-1.6zM213.5 266.6h1.6v1.6h-1.6zM230.4 265.5h1.6v1.6h-1.6zM218.4 251.9h1.6v1.6h-1.6zM221.3 263.8h1.6v1.6h-1.6zM238.8 276.3h1.6v1.6h-1.6zM249.8 297.7h1.6v1.6h-1.6zM190.4 265.0h1.6v1.6h-1.6zM212.2 271.4h1.6v1.6h-1.6zM208.5 270.2h1.6v1.6h-1.6zM217.1 273.3h1.6v1.6h-1.6zM224.9 264.5h1.6v1.6h-1.6zM222.5 293.3h1.6v1.6h-1.6zM180.7 274.8h1.6v1.6h-1.6zM239.7 283.3h1.6v1.6h-1.6zM239.5 291.6h1.6v1.6h-1.6zM240.6 292.1h1.6v1.6h-1.6zM247.4 298.9h1.6v1.6h-1.6zM221.9 284.6h1.6v1.6h-1.6zM235.6 274.3h1.6v1.6h-1.6zM194.5 274.4h1.6v1.6h-1.6zM214.5 239.0h1.6v1.6h-1.6zM234.3 283.8h1.6v1.6h-1.6zM223.2 250.9h1.6v1.6h-1.6zM231.3 269.5h1.6v1.6h-1.6zM210.2 261.9h1.6v1.6h-1.6zM229.8 283.7h1.6v1.6h-1.6zM233.7 266.8h1.6v1.6h-1.6zM242.5 287.0h1.6v1.6h-1.6zM239.3 290.9h1.6v1.6h-1.6zM225.3 283.9h1.6v1.6h-1.6zM240.2 297.4h1.6v1.6h-1.6zM237.5 292.9h1.6v1.6h-1.6zM196.0 235.9h1.6v1.6h-1.6zM204.8 246.9h1.6v1.6h-1.6zM204.9 262.8h1.6v1.6h-1.6zM232.0 276.3h1.6v1.6h-1.6zM236.4 287.6h1.6v1.6h-1.6zM242.5 288.5h1.6v1.6h-1.6zM214.3 255.6h1.6v1.6h-1.6zM225.4 282.3h1.6v1.6h-1.6zM206.5 234.0h1.6v1.6h-1.6zM223.2 271.9h1.6v1.6h-1.6zM231.6 299.2h1.6v1.6h-1.6zM236.1 281.4h1.6v1.6h-1.6zM175.1 252.2h1.6v1.6h-1.6zM237.7 291.6h1.6v1.6h-1.6zM234.5 276.0h1.6v1.6h-1.6zM235.3 286.0h1.6v1.6h-1.6zM255.2 304.0h1.6v1.6h-1.6zM222.5 272.2h1.6v1.6h-1.6zM247.0 295.0h1.6v1.6h-1.6zM232.8 268.0h1.6v1.6h-1.6zM228.4 282.4h1.6v1.6h-1.6zM239.2 286.2h1.6v1.6h-1.6zM232.2 274.6h1.6v1.6h-1.6zM199.9 234.5h1.6v1.6h-1.6zM205.6 266.8h1.6v1.6h-1.6zM248.5 295.9h1.6v1.6h-1.6zM206.1 248.6h1.6v1.6h-1.6zM214.6 270.4h1.6v1.6h-1.6zM219.3 262.8h1.6v1.6h-1.6zM224.3 273.2h1.6v1.6h-1.6zM221.8 292.5h1.6v1.6h-1.6zM229.9 289.3h1.6v1.6h-1.6zM220.7 287.0h1.6v1.6h-1.6zM218.5 293.5h1.6v1.6h-1.6zM173.5 268.6h1.6v1.6h-1.6zM230.0 294.2h1.6v1.6h-1.6zM235.2 285.2h1.6v1.6h-1.6zM183.1 274.6h1.6v1.6h-1.6zM206.5 276.4h1.6v1.6h-1.6zM231.4 271.6h1.6v1.6h-1.6zM247.2 300.7h1.6v1.6h-1.6zM242.4 297.9h1.6v1.6h-1.6zM243.9 292.8h1.6v1.6h-1.6zM239.8 294.0h1.6v1.6h-1.6zM228.5 269.7h1.6v1.6h-1.6zM202.0 231.0h1.6v1.6h-1.6zM226.5 274.2h1.6v1.6h-1.6zM181.4 266.5h1.6v1.6h-1.6zM224.1 255.5h1.6v1.6h-1.6zM242.5 291.1h1.6v1.6h-1.6zM224.0 290.9h1.6v1.6h-1.6zM231.7 277.1h1.6v1.6h-1.6zM221.8 262.0h1.6v1.6h-1.6zM217.6 291.5h1.6v1.6h-1.6zM210.0 263.0h1.6v1.6h-1.6zM225.1 277.6h1.6v1.6h-1.6zM210.4 234.0h1.6v1.6h-1.6zM214.6 267.0h1.6v1.6h-1.6zM235.4 275.5h1.6v1.6h-1.6zM225.7 288.8h1.6v1.6h-1.6zM234.7 276.9h1.6v1.6h-1.6zM226.3 273.9h1.6v1.6h-1.6zM228.0 286.5h1.6v1.6h-1.6zM205.0 246.8h1.6v1.6h-1.6zM245.6 301.6h1.6v1.6h-1.6zM241.1 295.8h1.6v1.6h-1.6zM249.2 297.5h1.6v1.6h-1.6zM241.2 297.2h1.6v1.6h-1.6zM211.4 292.3h1.6v1.6h-1.6zM235.5 290.5h1.6v1.6h-1.6zM201.2 265.5h1.6v1.6h-1.6zM241.7 300.8h1.6v1.6h-1.6zM215.0 266.1h1.6v1.6h-1.6zM232.9 287.1h1.6v1.6h-1.6zM243.8 294.5h1.6v1.6h-1.6zM228.9 282.0h1.6v1.6h-1.6zM217.7 262.4h1.6v1.6h-1.6zM225.0 265.0h1.6v1.6h-1.6zM218.4 259.9h1.6v1.6h-1.6zM231.5 293.3h1.6v1.6h-1.6zM214.9 275.7h1.6v1.6h-1.6zM230.3 266.8h1.6v1.6h-1.6zM192.8 262.1h1.6v1.6h-1.6zM236.4 284.7h1.6v1.6h-1.6zM228.5 263.6h1.6v1.6h-1.6zM239.5 286.0h1.6v1.6h-1.6zM215.1 285.1h1.6v1.6h-1.6zM231.7 291.7h1.6v1.6h-1.6zM220.5 268.9h1.6v1.6h-1.6zM229.4 264.4h1.6v1.6h-1.6zM202.1 252.6h1.6v1.6h-1.6zM214.0 246.5h1.6v1.6h-1.6zM221.5 271.3h1.6v1.6h-1.6zM233.5 274.6h1.6v1.6h-1.6zM245.9 290.1h1.6v1.6h-1.6zM215.8 264.3h1.6v1.6h-1.6zM235.5 294.2h1.6v1.6h-1.6zM211.3 292.5h1.6v1.6h-1.6zM221.5 271.7h1.6v1.6h-1.6zM210.1 258.9h1.6v1.6h-1.6zM229.1 262.7h1.6v1.6h-1.6zM229.2 277.3h1.6v1.6h-1.6zM225.1 281.2h1.6v1.6h-1.6zM248.0 296.3h1.6v1.6h-1.6zM201.3 261.0h1.6v1.6h-1.6zM240.1 283.5h1.6v1.6h-1.6zM238.1 289.8h1.6v1.6h-1.6zM234.2 291.9h1.6v1.6h-1.6zM237.2 293.7h1.6v1.6h-1.6zM225.5 289.6h1.6v1.6h-1.6zM236.6 289.9h1.6v1.6h-1.6zM230.0 277.9h1.6v1.6h-1.6zM212.1 284.3h1.6v1.6h-1.6zM238.3 297.3h1.6v1.6h-1.6zM231.2 267.0h1.6v1.6h-1.6zM236.7 283.5h1.6v1.6h-1.6zM219.5 272.4h1.6v1.6h-1.6zM221.6 263.1h1.6v1.6h-1.6zM231.3 265.9h1.6v1.6h-1.6zM221.0 275.0h1.6v1.6h-1.6zM232.3 271.9h1.6v1.6h-1.6zM243.7 298.8h1.6v1.6h-1.6zM233.0 273.2h1.6v1.6h-1.6zM221.7 295.1h1.6v1.6h-1.6zM230.0 294.9h1.6v1.6h-1.6zM241.3 300.2h1.6v1.6h-1.6zM245.0 289.0h1.6v1.6h-1.6zM208.7 275.7h1.6v1.6h-1.6zM222.2 268.3h1.6v1.6h-1.6zM249.9 299.8h1.6v1.6h-1.6zM168.1 263.9h1.6v1.6h-1.6zM241.9 298.2h1.6v1.6h-1.6zM234.4 282.2h1.6v1.6h-1.6zM235.3 291.3h1.6v1.6h-1.6zM213.5 275.9h1.6v1.6h-1.6zM229.4 282.6h1.6v1.6h-1.6zM210.7 274.0h1.6v1.6h-1.6zM234.2 272.7h1.6v1.6h-1.6zM221.3 271.0h1.6v1.6h-1.6zM233.3 271.8h1.6v1.6h-1.6zM201.3 251.8h1.6v1.6h-1.6zM229.9 280.2h1.6v1.6h-1.6zM239.1 294.3h1.6v1.6h-1.6zM242.6 283.3h1.6v1.6h-1.6zM234.2 283.3h1.6v1.6h-1.6zM227.1 268.0h1.6v1.6h-1.6zM224.8 287.2h1.6v1.6h-1.6zM227.8 286.5h1.6v1.6h-1.6zM190.2 242.7h1.6v1.6h-1.6zM247.0 293.5h1.6v1.6h-1.6zM226.0 282.3h1.6v1.6h-1.6zM223.5 290.7h1.6v1.6h-1.6zM193.0 258.5h1.6v1.6h-1.6zM220.4 253.7h1.6v1.6h-1.6zM226.3 288.1h1.6v1.6h-1.6zM229.2 275.5h1.6v1.6h-1.6zM208.0 267.9h1.6v1.6h-1.6zM219.1 269.4h1.6v1.6h-1.6zM236.4 296.0h1.6v1.6h-1.6zM216.6 283.4h1.6v1.6h-1.6zM207.9 273.0h1.6v1.6h-1.6zM220.5 263.8h1.6v1.6h-1.6zM242.5 293.6h1.6v1.6h-1.6zM168.8 231.7h1.6v1.6h-1.6zM227.3 296.1h1.6v1.6h-1.6zM244.1 288.1h1.6v1.6h-1.6zM233.3 276.2h1.6v1.6h-1.6zM246.1 298.9h1.6v1.6h-1.6zM181.2 263.8h1.6v1.6h-1.6zM235.1 272.9h1.6v1.6h-1.6zM250.5 298.6h1.6v1.6h-1.6zM192.6 260.4h1.6v1.6h-1.6zM227.2 271.2h1.6v1.6h-1.6zM210.4 263.9h1.6v1.6h-1.6zM235.4 279.7h1.6v1.6h-1.6zM218.3 285.2h1.6v1.6h-1.6zM227.2 267.9h1.6v1.6h-1.6zM227.2 285.9h1.6v1.6h-1.6zM240.5 284.8h1.6v1.6h-1.6zM231.6 286.4h1.6v1.6h-1.6zM246.6 298.7h1.6v1.6h-1.6zM232.0 293.4h1.6v1.6h-1.6zM246.2 295.3h1.6v1.6h-1.6zM203.4 267.8h1.6v1.6h-1.6zM231.9 282.8h1.6v1.6h-1.6zM234.5 292.7h1.6v1.6h-1.6zM239.3 295.6h1.6v1.6h-1.6zM227.1 284.1h1.6v1.6h-1.6zM227.0 274.7h1.6v1.6h-1.6zM216.4 244.7h1.6v1.6h-1.6zM230.4 286.5h1.6v1.6h-1.6zM243.1 288.2h1.6v1.6h-1.6zM230.5 295.7h1.6v1.6h-1.6zM206.3 250.6h1.6v1.6h-1.6zM246.5 297.0h1.6v1.6h-1.6zM225.9 275.5h1.6v1.6h-1.6zM211.2 253.5h1.6v1.6h-1.6zM236.4 288.4h1.6v1.6h-1.6zM240.8 279.2h1.6v1.6h-1.6zM244.5 301.2h1.6v1.6h-1.6zM222.7 259.5h1.6v1.6h-1.6zM246.1 300.8h1.6v1.6h-1.6zM224.1 289.1h1.6v1.6h-1.6zM211.1 260.1h1.6v1.6h-1.6zM215.7 252.0h1.6v1.6h-1.6zM206.2 258.1h1.6v1.6h-1.6zM224.0 264.7h1.6v1.6h-1.6zM248.0 295.9h1.6v1.6h-1.6zM233.9 286.5h1.6v1.6h-1.6zM246.8 302.2h1.6v1.6h-1.6zM208.8 248.4h1.6v1.6h-1.6zM238.8 292.1h1.6v1.6h-1.6zM223.8 258.6h1.6v1.6h-1.6zM228.8 273.9h1.6v1.6h-1.6zM215.2 290.2h1.6v1.6h-1.6zM216.3 263.7h1.6v1.6h-1.6zM227.4 266.9h1.6v1.6h-1.6zM246.2 292.1h1.6v1.6h-1.6zM195.8 263.3h1.6v1.6h-1.6zM194.0 254.7h1.6v1.6h-1.6zM223.6 277.9h1.6v1.6h-1.6zM241.6 291.0h1.6v1.6h-1.6zM205.0 258.5h1.6v1.6h-1.6zM190.2 252.4h1.6v1.6h-1.6zM238.0 291.2h1.6v1.6h-1.6zM221.5 261.7h1.6v1.6h-1.6zM226.8 275.3h1.6v1.6h-1.6zM247.5 295.9h1.6v1.6h-1.6zM227.3 280.7h1.6v1.6h-1.6zM220.1 256.2h1.6v1.6h-1.6zM219.3 291.4h1.6v1.6h-1.6zM215.1 235.1h1.6v1.6h-1.6zM244.7 296.5h1.6v1.6h-1.6zM206.4 244.7h1.6v1.6h-1.6zM241.9 293.4h1.6v1.6h-1.6zM249.9 301.0h1.6v1.6h-1.6zM207.3 254.9h1.6v1.6h-1.6zM221.0 264.2h1.6v1.6h-1.6zM248.1 299.3h1.6v1.6h-1.6zM236.1 279.4h1.6v1.6h-1.6zM235.9 281.3h1.6v1.6h-1.6zM229.0 273.6h1.6v1.6h-1.6zM241.4 292.9h1.6v1.6h-1.6zM235.6 289.6h1.6v1.6h-1.6zM240.5 298.1h1.6v1.6h-1.6zM209.5 258.1h1.6v1.6h-1.6zM216.9 259.9h1.6v1.6h-1.6zM238.9 290.6h1.6v1.6h-1.6zM228.2 284.6h1.6v1.6h-1.6zM248.5 294.0h1.6v1.6h-1.6zM246.6 291.1h1.6v1.6h-1.6zM243.2 291.4h1.6v1.6h-1.6zM232.3 280.1h1.6v1.6h-1.6zM218.5 252.0h1.6v1.6h-1.6zM236.4 293.3h1.6v1.6h-1.6zM229.4 266.0h1.6v1.6h-1.6zM219.1 271.1h1.6v1.6h-1.6zM192.4 266.2h1.6v1.6h-1.6zM202.2 264.0h1.6v1.6h-1.6zM204.4 243.6h1.6v1.6h-1.6zM214.1 272.5h1.6v1.6h-1.6zM209.9 242.6h1.6v1.6h-1.6zM242.1 294.1h1.6v1.6h-1.6zM223.7 283.1h1.6v1.6h-1.6zM238.5 287.1h1.6v1.6h-1.6zM218.7 272.0h1.6v1.6h-1.6zM213.3 268.1h1.6v1.6h-1.6zM212.8 252.5h1.6v1.6h-1.6zM213.3 264.4h1.6v1.6h-1.6zM221.3 259.2h1.6v1.6h-1.6zM226.4 270.9h1.6v1.6h-1.6zM238.0 286.0h1.6v1.6h-1.6zM227.4 264.2h1.6v1.6h-1.6zM241.1 290.8h1.6v1.6h-1.6zM223.7 266.3h1.6v1.6h-1.6zM240.3 285.7h1.6v1.6h-1.6zM227.8 258.9h1.6v1.6h-1.6zM220.4 270.0h1.6v1.6h-1.6zM233.3 291.9h1.6v1.6h-1.6zM232.2 282.6h1.6v1.6h-1.6zM236.0 278.6h1.6v1.6h-1.6zM224.0 282.3h1.6v1.6h-1.6zM203.2 233.1h1.6v1.6h-1.6zM217.3 246.6h1.6v1.6h-1.6zM204.0 252.1h1.6v1.6h-1.6zM246.6 300.0h1.6v1.6h-1.6zM219.0 265.2h1.6v1.6h-1.6zM197.7 272.4h1.6v1.6h-1.6zM216.5 264.7h1.6v1.6h-1.6zM217.8 282.2h1.6v1.6h-1.6zM210.2 265.1h1.6v1.6h-1.6zM214.9 273.5h1.6v1.6h-1.6zM222.3 257.4h1.6v1.6h-1.6zM247.5 294.4h1.6v1.6h-1.6zM214.2 267.7h1.6v1.6h-1.6zM202.3 261.2h1.6v1.6h-1.6zM239.4 288.4h1.6v1.6h-1.6zM241.7 291.9h1.6v1.6h-1.6zM241.4 287.6h1.6v1.6h-1.6zM245.3 293.8h1.6v1.6h-1.6zM230.0 269.8h1.6v1.6h-1.6zM212.8 279.1h1.6v1.6h-1.6zM236.8 287.8h1.6v1.6h-1.6zM236.8 281.3h1.6v1.6h-1.6zM200.0 258.8h1.6v1.6h-1.6zM239.3 294.5h1.6v1.6h-1.6zM217.8 283.2h1.6v1.6h-1.6zM227.3 274.0h1.6v1.6h-1.6zM227.5 284.2h1.6v1.6h-1.6zM243.0 295.4h1.6v1.6h-1.6zM226.9 269.3h1.6v1.6h-1.6zM229.7 265.6h1.6v1.6h-1.6zM234.4 277.3h1.6v1.6h-1.6zM218.0 256.6h1.6v1.6h-1.6zM226.8 282.8h1.6v1.6h-1.6zM225.7 270.5h1.6v1.6h-1.6zM200.6 256.5h1.6v1.6h-1.6zM198.1 276.6h1.6v1.6h-1.6zM226.0 280.5h1.6v1.6h-1.6zM213.6 258.0h1.6v1.6h-1.6zM232.5 264.7h1.6v1.6h-1.6zM207.9 270.8h1.6v1.6h-1.6zM210.6 268.7h1.6v1.6h-1.6zM231.9 269.9h1.6v1.6h-1.6zM246.4 293.4h1.6v1.6h-1.6zM233.4 285.7h1.6v1.6h-1.6zM231.2 264.9h1.6v1.6h-1.6zM225.9 293.6h1.6v1.6h-1.6zM234.9 284.7h1.6v1.6h-1.6zM220.5 263.0h1.6v1.6h-1.6zM241.0 294.4h1.6v1.6h-1.6zM178.0 265.0h1.6v1.6h-1.6zM226.2 281.4h1.6v1.6h-1.6zM232.0 275.9h1.6v1.6h-1.6zM203.1 260.6h1.6v1.6h-1.6zM168.6 260.6h1.6v1.6h-1.6zM237.5 295.2h1.6v1.6h-1.6zM229.7 270.3h1.6v1.6h-1.6zM226.0 277.0h1.6v1.6h-1.6zM239.3 289.5h1.6v1.6h-1.6zM231.1 268.3h1.6v1.6h-1.6zM204.6 258.8h1.6v1.6h-1.6zM216.9 285.2h1.6v1.6h-1.6zM204.3 256.6h1.6v1.6h-1.6zM237.9 299.9h1.6v1.6h-1.6zM224.3 269.1h1.6v1.6h-1.6zM246.5 293.0h1.6v1.6h-1.6zM228.3 279.8h1.6v1.6h-1.6zM214.8 284.3h1.6v1.6h-1.6zM212.6 270.6h1.6v1.6h-1.6zM240.2 299.2h1.6v1.6h-1.6zM241.2 294.8h1.6v1.6h-1.6zM221.5 266.6h1.6v1.6h-1.6zM189.4 257.1h1.6v1.6h-1.6zM213.8 284.1h1.6v1.6h-1.6zM242.0 290.3h1.6v1.6h-1.6zM248.4 298.1h1.6v1.6h-1.6zM241.7 284.4h1.6v1.6h-1.6zM247.9 296.0h1.6v1.6h-1.6zM228.8 289.7h1.6v1.6h-1.6zM203.4 273.4h1.6v1.6h-1.6zM194.8 243.5h1.6v1.6h-1.6zM226.1 260.0h1.6v1.6h-1.6zM212.5 258.8h1.6v1.6h-1.6zM235.8 286.8h1.6v1.6h-1.6zM211.9 241.4h1.6v1.6h-1.6zM197.8 279.0h1.6v1.6h-1.6zM226.8 283.8h1.6v1.6h-1.6zM226.8 267.5h1.6v1.6h-1.6zM219.6 264.5h1.6v1.6h-1.6zM246.2 294.9h1.6v1.6h-1.6zM238.2 293.2h1.6v1.6h-1.6zM227.0 280.3h1.6v1.6h-1.6zM208.3 273.0h1.6v1.6h-1.6zM208.6 268.5h1.6v1.6h-1.6zM242.9 289.6h1.6v1.6h-1.6zM238.1 296.4h1.6v1.6h-1.6zM177.8 262.9h1.6v1.6h-1.6zM244.1 296.0h1.6v1.6h-1.6zM232.5 271.4h1.6v1.6h-1.6zM229.0 280.9h1.6v1.6h-1.6zM239.4 283.1h1.6v1.6h-1.6zM227.4 273.6h1.6v1.6h-1.6zM214.1 277.5h1.6v1.6h-1.6zM239.3 291.7h1.6v1.6h-1.6zM214.9 267.9h1.6v1.6h-1.6zM213.2 266.9h1.6v1.6h-1.6zM211.8 258.5h1.6v1.6h-1.6zM190.1 255.2h1.6v1.6h-1.6zM230.1 279.3h1.6v1.6h-1.6zM240.6 281.8h1.6v1.6h-1.6zM195.2 278.7h1.6v1.6h-1.6zM220.3 290.8h1.6v1.6h-1.6zM245.2 301.8h1.6v1.6h-1.6zM221.2 285.1h1.6v1.6h-1.6zM235.4 294.7h1.6v1.6h-1.6zM232.8 269.0h1.6v1.6h-1.6zM182.8 225.1h1.6v1.6h-1.6zM232.5 292.7h1.6v1.6h-1.6zM241.7 283.7h1.6v1.6h-1.6zM237.6 296.8h1.6v1.6h-1.6zM241.6 296.8h1.6v1.6h-1.6zM233.0 288.8h1.6v1.6h-1.6zM224.2 267.4h1.6v1.6h-1.6zM202.8 264.0h1.6v1.6h-1.6zM208.6 234.3h1.6v1.6h-1.6zM238.3 281.1h1.6v1.6h-1.6zM227.3 290.6h1.6v1.6h-1.6zM249.5 295.9h1.6v1.6h-1.6zM218.7 262.9h1.6v1.6h-1.6zM199.9 267.6h1.6v1.6h-1.6zM236.7 271.0h1.6v1.6h-1.6zM220.0 274.8h1.6v1.6h-1.6zM175.7 262.2h1.6v1.6h-1.6zM207.4 287.6h1.6v1.6h-1.6zM210.6 276.4h1.6v1.6h-1.6zM246.8 301.4h1.6v1.6h-1.6zM243.2 298.0h1.6v1.6h-1.6zM231.8 278.6h1.6v1.6h-1.6zM244.4 297.3h1.6v1.6h-1.6zM227.5 273.3h1.6v1.6h-1.6zM243.4 294.4h1.6v1.6h-1.6zM223.1 286.7h1.6v1.6h-1.6zM240.8 300.7h1.6v1.6h-1.6zM218.4 276.0h1.6v1.6h-1.6zM201.1 270.5h1.6v1.6h-1.6zM229.7 290.2h1.6v1.6h-1.6zM237.0 296.9h1.6v1.6h-1.6zM226.5 280.0h1.6v1.6h-1.6zM207.1 254.0h1.6v1.6h-1.6zM250.8 303.0h1.6v1.6h-1.6zM225.3 257.6h1.6v1.6h-1.6zM198.2 233.9h1.6v1.6h-1.6zM232.4 291.2h1.6v1.6h-1.6zM210.1 271.6h1.6v1.6h-1.6zM236.0 276.1h1.6v1.6h-1.6zM237.7 293.7h1.6v1.6h-1.6zM237.3 277.7h1.6v1.6h-1.6zM214.0 260.9h1.6v1.6h-1.6zM201.0 263.4h1.6v1.6h-1.6zM213.6 268.1h1.6v1.6h-1.6zM251.0 302.8h1.6v1.6h-1.6zM223.5 270.3h1.6v1.6h-1.6zM219.4 273.7h1.6v1.6h-1.6zM246.8 299.9h1.6v1.6h-1.6zM235.4 282.9h1.6v1.6h-1.6zM222.6 273.8h1.6v1.6h-1.6zM216.6 291.7h1.6v1.6h-1.6zM232.2 284.0h1.6v1.6h-1.6zM199.2 243.2h1.6v1.6h-1.6zM234.6 277.0h1.6v1.6h-1.6zM238.2 284.1h1.6v1.6h-1.6zM189.9 263.0h1.6v1.6h-1.6zM221.5 270.5h1.6v1.6h-1.6zM231.6 264.2h1.6v1.6h-1.6zM209.3 280.1h1.6v1.6h-1.6zM238.1 282.6h1.6v1.6h-1.6zM196.6 271.0h1.6v1.6h-1.6zM238.2 291.9h1.6v1.6h-1.6zM229.3 284.3h1.6v1.6h-1.6zM238.3 285.6h1.6v1.6h-1.6zM231.9 275.5h1.6v1.6h-1.6zM247.9 301.3h1.6v1.6h-1.6zM246.3 298.0h1.6v1.6h-1.6zM178.0 262.5h1.6v1.6h-1.6zM228.8 272.1h1.6v1.6h-1.6zM216.4 270.0h1.6v1.6h-1.6zM207.2 286.8h1.6v1.6h-1.6zM210.8 285.8h1.6v1.6h-1.6zM186.3 262.1h1.6v1.6h-1.6zM232.9 283.7h1.6v1.6h-1.6zM230.9 277.2h1.6v1.6h-1.6zM246.0 290.0h1.6v1.6h-1.6zM246.9 299.1h1.6v1.6h-1.6zM227.9 277.5h1.6v1.6h-1.6zM229.0 284.9h1.6v1.6h-1.6zM243.1 294.9h1.6v1.6h-1.6zM227.3 273.4h1.6v1.6h-1.6zM230.4 280.3h1.6v1.6h-1.6zM244.3 294.8h1.6v1.6h-1.6zM220.7 255.0h1.6v1.6h-1.6zM203.3 263.8h1.6v1.6h-1.6zM227.4 289.5h1.6v1.6h-1.6zM203.1 236.0h1.6v1.6h-1.6zM209.5 264.4h1.6v1.6h-1.6zM202.5 271.1h1.6v1.6h-1.6zM239.6 300.0h1.6v1.6h-1.6zM191.2 235.8h1.6v1.6h-1.6zM247.1 299.4h1.6v1.6h-1.6zM245.3 295.5h1.6v1.6h-1.6zM210.5 248.4h1.6v1.6h-1.6zM184.4 228.7h1.6v1.6h-1.6zM232.0 269.9h1.6v1.6h-1.6zM237.6 290.5h1.6v1.6h-1.6zM189.1 277.3h1.6v1.6h-1.6zM223.5 268.5h1.6v1.6h-1.6zM207.3 257.7h1.6v1.6h-1.6zM244.1 290.4h1.6v1.6h-1.6zM242.4 293.3h1.6v1.6h-1.6zM192.9 253.0h1.6v1.6h-1.6zM208.4 256.3h1.6v1.6h-1.6zM222.3 262.2h1.6v1.6h-1.6zM237.5 272.9h1.6v1.6h-1.6zM195.4 273.0h1.6v1.6h-1.6zM208.9 263.8h1.6v1.6h-1.6zM222.6 282.3h1.6v1.6h-1.6zM236.2 283.8h1.6v1.6h-1.6zM239.6 290.3h1.6v1.6h-1.6zM220.1 261.9h1.6v1.6h-1.6zM224.1 258.4h1.6v1.6h-1.6zM242.6 298.7h1.6v1.6h-1.6zM234.6 280.4h1.6v1.6h-1.6zM238.7 295.5h1.6v1.6h-1.6zM244.7 300.9h1.6v1.6h-1.6zM227.5 268.4h1.6v1.6h-1.6zM231.9 285.0h1.6v1.6h-1.6zM225.5 293.4h1.6v1.6h-1.6zM201.8 257.8h1.6v1.6h-1.6zM207.3 229.6h1.6v1.6h-1.6zM231.6 263.1h1.6v1.6h-1.6zM234.7 286.5h1.6v1.6h-1.6zM229.2 298.3h1.6v1.6h-1.6zM222.3 285.1h1.6v1.6h-1.6zM208.5 255.7h1.6v1.6h-1.6zM214.8 260.8h1.6v1.6h-1.6zM244.4 289.3h1.6v1.6h-1.6zM175.6 237.5h1.6v1.6h-1.6zM212.0 283.6h1.6v1.6h-1.6zM246.8 296.2h1.6v1.6h-1.6zM224.1 281.9h1.6v1.6h-1.6zM237.4 273.4h1.6v1.6h-1.6zM242.4 285.0h1.6v1.6h-1.6zM234.7 291.0h1.6v1.6h-1.6zM236.4 295.3h1.6v1.6h-1.6zM249.3 302.7h1.6v1.6h-1.6zM187.2 250.3h1.6v1.6h-1.6zM199.3 267.4h1.6v1.6h-1.6zM219.9 288.7h1.6v1.6h-1.6zM235.6 279.2h1.6v1.6h-1.6zM232.3 296.4h1.6v1.6h-1.6zM220.0 275.1h1.6v1.6h-1.6zM232.8 272.7h1.6v1.6h-1.6zM230.3 271.0h1.6v1.6h-1.6zM232.9 284.6h1.6v1.6h-1.6zM206.8 245.3h1.6v1.6h-1.6zM201.4 261.8h1.6v1.6h-1.6zM231.6 280.4h1.6v1.6h-1.6zM236.5 274.2h1.6v1.6h-1.6zM233.7 294.2h1.6v1.6h-1.6zM238.0 276.4h1.6v1.6h-1.6zM197.3 259.1h1.6v1.6h-1.6zM189.6 240.0h1.6v1.6h-1.6zM239.1 282.6h1.6v1.6h-1.6zM189.9 269.1h1.6v1.6h-1.6zM234.0 289.6h1.6v1.6h-1.6zM244.8 297.5h1.6v1.6h-1.6zM203.1 263.1h1.6v1.6h-1.6zM214.5 291.7h1.6v1.6h-1.6zM213.2 262.6h1.6v1.6h-1.6zM221.6 274.0h1.6v1.6h-1.6zM223.1 273.0h1.6v1.6h-1.6zM194.4 233.4h1.6v1.6h-1.6zM229.6 275.3h1.6v1.6h-1.6zM225.5 270.4h1.6v1.6h-1.6zM217.8 270.1h1.6v1.6h-1.6zM207.6 272.3h1.6v1.6h-1.6zM250.9 301.5h1.6v1.6h-1.6zM214.1 268.5h1.6v1.6h-1.6zM213.7 278.3h1.6v1.6h-1.6zM237.8 294.7h1.6v1.6h-1.6zM254.1 304.0h1.6v1.6h-1.6zM229.8 282.5h1.6v1.6h-1.6zM227.6 270.1h1.6v1.6h-1.6zM242.9 291.5h1.6v1.6h-1.6zM218.6 268.0h1.6v1.6h-1.6zM197.1 281.1h1.6v1.6h-1.6zM236.6 295.8h1.6v1.6h-1.6zM185.8 247.8h1.6v1.6h-1.6zM221.0 262.7h1.6v1.6h-1.6zM223.5 289.8h1.6v1.6h-1.6zM218.8 252.5h1.6v1.6h-1.6zM239.5 293.3h1.6v1.6h-1.6zM235.5 293.6h1.6v1.6h-1.6zM243.2 287.8h1.6v1.6h-1.6zM205.3 276.9h1.6v1.6h-1.6zM244.8 296.3h1.6v1.6h-1.6zM229.3 270.7h1.6v1.6h-1.6zM250.0 296.4h1.6v1.6h-1.6zM215.5 284.2h1.6v1.6h-1.6zM190.7 253.8h1.6v1.6h-1.6zM225.9 283.8h1.6v1.6h-1.6zM233.5 276.1h1.6v1.6h-1.6zM240.7 301.6h1.6v1.6h-1.6zM213.0 256.1h1.6v1.6h-1.6zM225.1 269.3h1.6v1.6h-1.6zM236.7 282.5h1.6v1.6h-1.6zM194.4 240.1h1.6v1.6h-1.6zM223.2 255.1h1.6v1.6h-1.6zM208.6 264.8h1.6v1.6h-1.6zM222.3 282.6h1.6v1.6h-1.6zM239.4 293.2h1.6v1.6h-1.6zM232.9 276.0h1.6v1.6h-1.6zM226.9 278.0h1.6v1.6h-1.6zM219.0 268.0h1.6v1.6h-1.6zM211.4 264.2h1.6v1.6h-1.6zM225.4 263.3h1.6v1.6h-1.6zM209.7 255.0h1.6v1.6h-1.6zM214.8 258.9h1.6v1.6h-1.6zM245.0 294.5h1.6v1.6h-1.6zM250.1 298.1h1.6v1.6h-1.6zM229.7 269.4h1.6v1.6h-1.6zM206.5 246.3h1.6v1.6h-1.6zM217.7 269.2h1.6v1.6h-1.6zM249.4 299.6h1.6v1.6h-1.6zM224.6 294.5h1.6v1.6h-1.6zM207.5 240.7h1.6v1.6h-1.6zM213.2 267.3h1.6v1.6h-1.6zM236.3 272.8h1.6v1.6h-1.6zM227.9 262.3h1.6v1.6h-1.6zM208.8 259.5h1.6v1.6h-1.6zM223.5 274.2h1.6v1.6h-1.6zM235.5 270.2h1.6v1.6h-1.6zM239.8 290.9h1.6v1.6h-1.6zM215.6 258.6h1.6v1.6h-1.6zM214.8 237.5h1.6v1.6h-1.6zM234.0 286.9h1.6v1.6h-1.6zM216.2 268.3h1.6v1.6h-1.6zM200.7 254.1h1.6v1.6h-1.6zM206.4 225.0h1.6v1.6h-1.6zM196.7 293.4h1.6v1.6h-1.6zM215.7 275.9h1.6v1.6h-1.6zM227.4 289.3h1.6v1.6h-1.6zM205.9 285.9h1.6v1.6h-1.6zM233.8 268.9h1.6v1.6h-1.6zM226.5 273.4h1.6v1.6h-1.6zM220.8 279.2h1.6v1.6h-1.6zM200.2 253.5h1.6v1.6h-1.6zM236.4 285.5h1.6v1.6h-1.6zM223.0 279.2h1.6v1.6h-1.6zM204.3 249.2h1.6v1.6h-1.6zM228.1 261.6h1.6v1.6h-1.6zM218.4 258.7h1.6v1.6h-1.6zM239.5 288.4h1.6v1.6h-1.6zM230.6 294.7h1.6v1.6h-1.6zM224.7 261.4h1.6v1.6h-1.6zM222.7 267.5h1.6v1.6h-1.6zM227.3 295.6h1.6v1.6h-1.6zM217.6 261.4h1.6v1.6h-1.6zM205.4 256.2h1.6v1.6h-1.6zM235.6 290.3h1.6v1.6h-1.6zM220.9 261.1h1.6v1.6h-1.6zM220.1 286.7h1.6v1.6h-1.6zM239.0 280.8h1.6v1.6h-1.6zM225.6 283.4h1.6v1.6h-1.6zM182.1 268.0h1.6v1.6h-1.6zM216.6 286.9h1.6v1.6h-1.6zM218.3 276.6h1.6v1.6h-1.6zM237.3 288.5h1.6v1.6h-1.6zM230.1 280.9h1.6v1.6h-1.6zM206.4 259.4h1.6v1.6h-1.6zM228.9 264.3h1.6v1.6h-1.6zM205.8 281.6h1.6v1.6h-1.6zM243.4 285.5h1.6v1.6h-1.6zM216.2 273.2h1.6v1.6h-1.6zM204.7 266.8h1.6v1.6h-1.6zM249.9 296.5h1.6v1.6h-1.6zM200.2 264.3h1.6v1.6h-1.6zM229.2 275.1h1.6v1.6h-1.6zM224.7 263.0h1.6v1.6h-1.6zM231.4 288.6h1.6v1.6h-1.6zM195.7 256.1h1.6v1.6h-1.6zM215.5 260.5h1.6v1.6h-1.6zM232.5 282.7h1.6v1.6h-1.6zM245.2 298.2h1.6v1.6h-1.6zM210.8 259.5h1.6v1.6h-1.6zM244.5 298.7h1.6v1.6h-1.6zM235.3 273.5h1.6v1.6h-1.6zM224.2 256.5h1.6v1.6h-1.6zM234.7 285.2h1.6v1.6h-1.6zM233.7 294.5h1.6v1.6h-1.6zM234.5 267.9h1.6v1.6h-1.6zM244.2 291.6h1.6v1.6h-1.6zM230.0 283.5h1.6v1.6h-1.6zM231.8 289.0h1.6v1.6h-1.6zM200.7 275.2h1.6v1.6h-1.6zM211.1 271.8h1.6v1.6h-1.6zM214.7 295.2h1.6v1.6h-1.6zM250.2 302.2h1.6v1.6h-1.6zM212.6 260.6h1.6v1.6h-1.6zM221.8 253.7h1.6v1.6h-1.6zM226.2 276.5h1.6v1.6h-1.6zM209.3 272.8h1.6v1.6h-1.6zM197.2 288.0h1.6v1.6h-1.6zM194.7 284.7h1.6v1.6h-1.6zM238.8 287.6h1.6v1.6h-1.6zM236.8 289.2h1.6v1.6h-1.6zM247.7 293.8h1.6v1.6h-1.6zM219.2 277.1h1.6v1.6h-1.6zM220.9 265.8h1.6v1.6h-1.6zM233.0 278.2h1.6v1.6h-1.6zM230.1 275.3h1.6v1.6h-1.6zM210.5 295.0h1.6v1.6h-1.6zM219.8 263.5h1.6v1.6h-1.6zM214.8 251.8h1.6v1.6h-1.6zM239.6 297.9h1.6v1.6h-1.6zM255.7 304.0h1.6v1.6h-1.6zM229.9 262.3h1.6v1.6h-1.6zM229.3 278.5h1.6v1.6h-1.6zM202.1 265.5h1.6v1.6h-1.6zM193.5 258.0h1.6v1.6h-1.6zM232.2 286.8h1.6v1.6h-1.6zM217.9 274.9h1.6v1.6h-1.6zM225.9 272.3h1.6v1.6h-1.6zM200.4 272.6h1.6v1.6h-1.6zM200.5 266.4h1.6v1.6h-1.6zM216.5 287.8h1.6v1.6h-1.6zM175.0 234.5h1.6v1.6h-1.6zM237.8 277.2h1.6v1.6h-1.6zM215.5 269.6h1.6v1.6h-1.6zM210.1 260.8h1.6v1.6h-1.6zM238.7 277.4h1.6v1.6h-1.6zM237.2 287.5h1.6v1.6h-1.6zM215.1 272.9h1.6v1.6h-1.6zM220.9 275.1h1.6v1.6h-1.6zM232.9 273.5h1.6v1.6h-1.6zM233.6 282.1h1.6v1.6h-1.6zM220.5 264.3h1.6v1.6h-1.6zM246.3 296.7h1.6v1.6h-1.6zM232.9 295.4h1.6v1.6h-1.6zM234.6 279.7h1.6v1.6h-1.6zM219.1 260.8h1.6v1.6h-1.6zM193.2 262.7h1.6v1.6h-1.6zM214.7 245.9h1.6v1.6h-1.6zM225.2 260.2h1.6v1.6h-1.6zM244.2 299.4h1.6v1.6h-1.6zM208.1 249.6h1.6v1.6h-1.6zM239.3 296.1h1.6v1.6h-1.6zM236.4 277.7h1.6v1.6h-1.6zM228.6 265.5h1.6v1.6h-1.6zM248.6 297.2h1.6v1.6h-1.6zM173.3 262.3h1.6v1.6h-1.6zM241.7 292.6h1.6v1.6h-1.6zM229.7 262.5h1.6v1.6h-1.6zM204.3 269.1h1.6v1.6h-1.6zM229.1 271.0h1.6v1.6h-1.6zM191.1 224.7h1.6v1.6h-1.6zM229.3 281.1h1.6v1.6h-1.6zM197.0 278.4h1.6v1.6h-1.6zM216.5 286.1h1.6v1.6h-1.6zM223.8 280.9h1.6v1.6h-1.6zM217.5 266.0h1.6v1.6h-1.6zM195.2 265.4h1.6v1.6h-1.6zM223.2 262.3h1.6v1.6h-1.6zM224.7 268.4h1.6v1.6h-1.6zM239.5 281.5h1.6v1.6h-1.6zM199.7 258.6h1.6v1.6h-1.6zM241.1 300.7h1.6v1.6h-1.6zM228.7 294.3h1.6v1.6h-1.6zM223.9 275.7h1.6v1.6h-1.6zM235.2 289.8h1.6v1.6h-1.6zM240.4 287.8h1.6v1.6h-1.6zM247.1 302.7h1.6v1.6h-1.6zM234.3 292.2h1.6v1.6h-1.6zM209.0 253.8h1.6v1.6h-1.6zM222.3 277.5h1.6v1.6h-1.6zM210.4 269.2h1.6v1.6h-1.6zM183.5 250.1h1.6v1.6h-1.6zM217.6 251.0h1.6v1.6h-1.6zM223.7 285.9h1.6v1.6h-1.6zM215.1 251.4h1.6v1.6h-1.6zM244.4 297.8h1.6v1.6h-1.6zM226.6 259.1h1.6v1.6h-1.6zM237.5 288.4h1.6v1.6h-1.6zM199.9 246.1h1.6v1.6h-1.6zM238.4 295.9h1.6v1.6h-1.6zM232.1 283.2h1.6v1.6h-1.6zM213.5 260.0h1.6v1.6h-1.6zM250.2 299.0h1.6v1.6h-1.6zM212.0 278.6h1.6v1.6h-1.6zM218.7 267.9h1.6v1.6h-1.6zM232.2 285.1h1.6v1.6h-1.6zM253.3 303.7h1.6v1.6h-1.6zM207.5 223.3h1.6v1.6h-1.6zM214.0 251.7h1.6v1.6h-1.6zM241.3 284.5h1.6v1.6h-1.6zM236.4 281.7h1.6v1.6h-1.6zM236.6 285.4h1.6v1.6h-1.6zM247.5 294.5h1.6v1.6h-1.6zM220.4 271.0h1.6v1.6h-1.6zM198.2 272.8h1.6v1.6h-1.6zM234.7 291.8h1.6v1.6h-1.6zM242.7 290.2h1.6v1.6h-1.6zM235.5 283.3h1.6v1.6h-1.6zM200.8 257.4h1.6v1.6h-1.6zM233.0 279.2h1.6v1.6h-1.6zM241.9 299.0h1.6v1.6h-1.6zM234.4 288.6h1.6v1.6h-1.6zM250.5 303.8h1.6v1.6h-1.6zM199.9 246.9h1.6v1.6h-1.6zM197.2 260.1h1.6v1.6h-1.6zM174.5 238.3h1.6v1.6h-1.6zM216.1 265.5h1.6v1.6h-1.6zM238.7 282.9h1.6v1.6h-1.6zM217.4 260.7h1.6v1.6h-1.6zM198.3 246.4h1.6v1.6h-1.6zM210.6 257.3h1.6v1.6h-1.6zM236.5 291.4h1.6v1.6h-1.6zM250.8 300.5h1.6v1.6h-1.6zM244.6 292.8h1.6v1.6h-1.6zM207.8 272.9h1.6v1.6h-1.6zM220.9 275.8h1.6v1.6h-1.6zM187.8 274.8h1.6v1.6h-1.6zM210.4 272.5h1.6v1.6h-1.6zM204.9 271.9h1.6v1.6h-1.6zM204.5 275.4h1.6v1.6h-1.6zM225.3 281.5h1.6v1.6h-1.6zM246.7 301.5h1.6v1.6h-1.6zM248.6 296.7h1.6v1.6h-1.6zM227.7 282.6h1.6v1.6h-1.6zM242.0 287.4h1.6v1.6h-1.6zM178.4 264.2h1.6v1.6h-1.6zM233.0 287.0h1.6v1.6h-1.6zM189.4 261.5h1.6v1.6h-1.6zM231.7 273.6h1.6v1.6h-1.6zM194.5 241.0h1.6v1.6h-1.6zM207.7 281.6h1.6v1.6h-1.6zM204.5 263.6h1.6v1.6h-1.6zM233.0 278.6h1.6v1.6h-1.6zM211.8 267.4h1.6v1.6h-1.6zM209.2 272.2h1.6v1.6h-1.6zM214.8 253.6h1.6v1.6h-1.6zM218.5 285.7h1.6v1.6h-1.6zM219.5 257.2h1.6v1.6h-1.6zM230.3 288.4h1.6v1.6h-1.6zM224.9 264.2h1.6v1.6h-1.6zM230.1 287.9h1.6v1.6h-1.6zM195.3 291.6h1.6v1.6h-1.6zM235.0 294.1h1.6v1.6h-1.6zM247.2 296.7h1.6v1.6h-1.6zM234.4 287.4h1.6v1.6h-1.6zM245.3 298.6h1.6v1.6h-1.6zM218.9 264.7h1.6v1.6h-1.6zM188.7 243.8h1.6v1.6h-1.6zM219.7 254.3h1.6v1.6h-1.6zM238.0 274.4h1.6v1.6h-1.6zM215.3 261.9h1.6v1.6h-1.6zM227.0 275.9h1.6v1.6h-1.6zM216.5 277.3h1.6v1.6h-1.6zM206.9 257.3h1.6v1.6h-1.6zM236.7 282.2h1.6v1.6h-1.6zM200.8 263.8h1.6v1.6h-1.6zM222.0 276.7h1.6v1.6h-1.6zM239.9 284.7h1.6v1.6h-1.6zM234.9 274.3h1.6v1.6h-1.6zM213.4 284.6h1.6v1.6h-1.6zM236.2 271.6h1.6v1.6h-1.6zM201.5 292.3h1.6v1.6h-1.6zM200.3 261.2h1.6v1.6h-1.6zM214.6 289.1h1.6v1.6h-1.6zM208.4 263.6h1.6v1.6h-1.6zM207.7 253.3h1.6v1.6h-1.6zM222.7 280.1h1.6v1.6h-1.6zM252.4 300.8h1.6v1.6h-1.6zM234.2 275.2h1.6v1.6h-1.6zM243.1 296.1h1.6v1.6h-1.6zM218.6 278.4h1.6v1.6h-1.6zM207.4 277.7h1.6v1.6h-1.6zM207.9 287.0h1.6v1.6h-1.6zM187.6 265.2h1.6v1.6h-1.6zM193.9 256.2h1.6v1.6h-1.6zM218.5 246.4h1.6v1.6h-1.6zM227.5 279.6h1.6v1.6h-1.6zM199.4 249.7h1.6v1.6h-1.6zM221.7 283.4h1.6v1.6h-1.6zM215.5 289.0h1.6v1.6h-1.6zM241.5 294.4h1.6v1.6h-1.6zM211.6 281.4h1.6v1.6h-1.6zM243.8 286.8h1.6v1.6h-1.6zM236.2 272.4h1.6v1.6h-1.6zM215.2 250.3h1.6v1.6h-1.6zM212.7 289.6h1.6v1.6h-1.6zM210.4 275.5h1.6v1.6h-1.6zM202.2 266.3h1.6v1.6h-1.6zM228.9 289.0h1.6v1.6h-1.6zM220.6 277.2h1.6v1.6h-1.6zM253.1 300.5h1.6v1.6h-1.6zM241.6 282.6h1.6v1.6h-1.6zM198.7 244.7h1.6v1.6h-1.6zM242.0 294.8h1.6v1.6h-1.6zM246.0 299.2h1.6v1.6h-1.6zM211.4 283.2h1.6v1.6h-1.6zM239.6 287.0h1.6v1.6h-1.6zM244.2 289.8h1.6v1.6h-1.6zM196.6 268.8h1.6v1.6h-1.6zM237.0 272.6h1.6v1.6h-1.6zM239.8 281.0h1.6v1.6h-1.6zM236.8 277.8h1.6v1.6h-1.6zM218.0 279.9h1.6v1.6h-1.6zM212.9 274.6h1.6v1.6h-1.6zM187.7 251.7h1.6v1.6h-1.6zM211.0 241.5h1.6v1.6h-1.6zM219.1 262.3h1.6v1.6h-1.6zM223.1 278.6h1.6v1.6h-1.6zM239.6 297.0h1.6v1.6h-1.6zM237.5 288.9h1.6v1.6h-1.6zM237.5 287.8h1.6v1.6h-1.6zM193.6 262.2h1.6v1.6h-1.6zM226.9 292.4h1.6v1.6h-1.6zM226.7 281.1h1.6v1.6h-1.6zM227.6 278.4h1.6v1.6h-1.6zM243.1 297.2h1.6v1.6h-1.6zM234.1 284.4h1.6v1.6h-1.6zM219.0 294.5h1.6v1.6h-1.6zM200.1 281.1h1.6v1.6h-1.6zM187.1 260.7h1.6v1.6h-1.6zM180.7 265.9h1.6v1.6h-1.6zM207.3 273.4h1.6v1.6h-1.6zM208.3 256.7h1.6v1.6h-1.6zM251.0 301.8h1.6v1.6h-1.6zM223.4 286.3h1.6v1.6h-1.6zM225.9 258.9h1.6v1.6h-1.6zM182.4 281.8h1.6v1.6h-1.6zM254.1 302.6h1.6v1.6h-1.6zM239.4 287.5h1.6v1.6h-1.6zM236.4 290.0h1.6v1.6h-1.6zM209.0 227.9h1.6v1.6h-1.6zM219.4 288.6h1.6v1.6h-1.6zM201.9 268.9h1.6v1.6h-1.6zM213.5 265.5h1.6v1.6h-1.6zM187.0 274.9h1.6v1.6h-1.6zM223.4 289.0h1.6v1.6h-1.6zM240.6 299.3h1.6v1.6h-1.6zM231.4 288.1h1.6v1.6h-1.6zM212.2 264.9h1.6v1.6h-1.6zM217.4 284.1h1.6v1.6h-1.6zM209.4 241.8h1.6v1.6h-1.6zM193.2 258.3h1.6v1.6h-1.6zM213.0 279.6h1.6v1.6h-1.6zM225.8 279.9h1.6v1.6h-1.6zM233.3 290.6h1.6v1.6h-1.6zM237.4 295.7h1.6v1.6h-1.6zM223.0 290.2h1.6v1.6h-1.6zM209.5 268.7h1.6v1.6h-1.6zM222.3 281.5h1.6v1.6h-1.6zM219.0 265.7h1.6v1.6h-1.6zM217.0 254.4h1.6v1.6h-1.6zM233.0 281.3h1.6v1.6h-1.6zM228.7 264.9h1.6v1.6h-1.6zM213.0 283.1h1.6v1.6h-1.6zM237.7 293.3h1.6v1.6h-1.6zM230.0 288.8h1.6v1.6h-1.6zM210.0 239.6h1.6v1.6h-1.6zM230.2 274.5h1.6v1.6h-1.6zM246.6 300.9h1.6v1.6h-1.6zM215.0 270.8h1.6v1.6h-1.6zM190.7 233.2h1.6v1.6h-1.6zM237.8 290.1h1.6v1.6h-1.6zM220.2 259.1h1.6v1.6h-1.6zM208.2 282.9h1.6v1.6h-1.6zM233.8 272.3h1.6v1.6h-1.6zM240.6 284.3h1.6v1.6h-1.6zM212.9 259.3h1.6v1.6h-1.6zM223.1 285.3h1.6v1.6h-1.6zM244.0 300.1h1.6v1.6h-1.6zM211.0 259.9h1.6v1.6h-1.6zM224.4 275.9h1.6v1.6h-1.6zM215.0 256.7h1.6v1.6h-1.6zM247.9 295.1h1.6v1.6h-1.6zM230.2 292.1h1.6v1.6h-1.6zM236.6 279.8h1.6v1.6h-1.6zM228.1 290.2h1.6v1.6h-1.6zM228.9 280.6h1.6v1.6h-1.6zM193.5 271.7h1.6v1.6h-1.6zM234.9 272.9h1.6v1.6h-1.6zM231.7 284.7h1.6v1.6h-1.6zM226.1 292.9h1.6v1.6h-1.6zM236.6 277.4h1.6v1.6h-1.6zM219.7 248.8h1.6v1.6h-1.6zM239.1 297.1h1.6v1.6h-1.6zM209.2 265.7h1.6v1.6h-1.6zM186.5 258.6h1.6v1.6h-1.6zM198.9 255.4h1.6v1.6h-1.6zM223.2 255.8h1.6v1.6h-1.6zM232.6 274.4h1.6v1.6h-1.6zM199.9 250.3h1.6v1.6h-1.6zM225.2 279.2h1.6v1.6h-1.6zM205.4 279.9h1.6v1.6h-1.6zM243.9 295.6h1.6v1.6h-1.6zM217.8 289.4h1.6v1.6h-1.6zM215.7 244.3h1.6v1.6h-1.6zM191.2 276.8h1.6v1.6h-1.6zM239.0 298.2h1.6v1.6h-1.6zM242.6 293.0h1.6v1.6h-1.6zM207.1 260.8h1.6v1.6h-1.6zM245.7 300.2h1.6v1.6h-1.6zM180.8 250.3h1.6v1.6h-1.6zM239.6 287.6h1.6v1.6h-1.6zM235.0 283.4h1.6v1.6h-1.6zM217.7 285.6h1.6v1.6h-1.6zM211.5 273.1h1.6v1.6h-1.6zM232.5 286.7h1.6v1.6h-1.6zM224.3 267.7h1.6v1.6h-1.6zM227.7 289.0h1.6v1.6h-1.6zM229.6 268.0h1.6v1.6h-1.6zM244.5 291.6h1.6v1.6h-1.6zM199.8 264.1h1.6v1.6h-1.6zM215.8 268.9h1.6v1.6h-1.6zM236.4 282.8h1.6v1.6h-1.6zM197.7 234.5h1.6v1.6h-1.6zM234.2 274.7h1.6v1.6h-1.6zM237.1 281.8h1.6v1.6h-1.6zM231.8 287.5h1.6v1.6h-1.6zM231.1 279.2h1.6v1.6h-1.6zM208.4 251.3h1.6v1.6h-1.6zM212.8 278.6h1.6v1.6h-1.6zM185.2 231.1h1.6v1.6h-1.6zM243.8 296.1h1.6v1.6h-1.6zM220.9 281.5h1.6v1.6h-1.6zM216.9 272.4h1.6v1.6h-1.6zM197.5 273.7h1.6v1.6h-1.6zM219.8 244.7h1.6v1.6h-1.6zM211.3 257.3h1.6v1.6h-1.6zM217.1 266.9h1.6v1.6h-1.6zM235.3 277.3h1.6v1.6h-1.6zM240.1 292.6h1.6v1.6h-1.6zM204.3 264.0h1.6v1.6h-1.6zM200.6 258.2h1.6v1.6h-1.6zM222.8 281.2h1.6v1.6h-1.6zM235.9 287.8h1.6v1.6h-1.6zM203.4 242.8h1.6v1.6h-1.6zM239.3 291.0h1.6v1.6h-1.6zM226.1 271.5h1.6v1.6h-1.6zM199.8 269.6h1.6v1.6h-1.6zM233.3 269.9h1.6v1.6h-1.6zM211.6 264.7h1.6v1.6h-1.6zM237.8 284.9h1.6v1.6h-1.6zM234.5 296.3h1.6v1.6h-1.6zM233.9 277.2h1.6v1.6h-1.6zM221.1 257.4h1.6v1.6h-1.6zM232.0 292.8h1.6v1.6h-1.6zM216.2 254.2h1.6v1.6h-1.6zM232.8 289.6h1.6v1.6h-1.6zM217.9 273.7h1.6v1.6h-1.6zM213.7 272.8h1.6v1.6h-1.6zM239.0 287.3h1.6v1.6h-1.6zM189.0 271.2h1.6v1.6h-1.6zM239.4 282.0h1.6v1.6h-1.6zM179.5 279.3h1.6v1.6h-1.6zM222.3 260.7h1.6v1.6h-1.6zM236.1 282.2h1.6v1.6h-1.6zM238.5 291.1h1.6v1.6h-1.6zM212.1 278.3h1.6v1.6h-1.6zM244.3 294.0h1.6v1.6h-1.6zM183.0 237.6h1.6v1.6h-1.6zM238.1 283.9h1.6v1.6h-1.6zM242.5 296.2h1.6v1.6h-1.6zM223.1 256.8h1.6v1.6h-1.6zM244.9 298.3h1.6v1.6h-1.6zM234.1 278.8h1.6v1.6h-1.6zM227.2 288.6h1.6v1.6h-1.6zM225.3 276.6h1.6v1.6h-1.6zM228.9 260.9h1.6v1.6h-1.6zM207.0 260.3h1.6v1.6h-1.6zM225.8 278.4h1.6v1.6h-1.6zM232.2 287.8h1.6v1.6h-1.6zM237.1 294.9h1.6v1.6h-1.6zM178.8 270.4h1.6v1.6h-1.6zM246.8 291.9h1.6v1.6h-1.6zM223.8 290.4h1.6v1.6h-1.6zM180.6 257.5h1.6v1.6h-1.6zM224.4 259.9h1.6v1.6h-1.6zM237.0 294.2h1.6v1.6h-1.6zM228.2 260.4h1.6v1.6h-1.6zM246.5 292.3h1.6v1.6h-1.6zM187.6 225.1h1.6v1.6h-1.6zM217.9 263.3h1.6v1.6h-1.6zM235.9 296.5h1.6v1.6h-1.6zM226.0 269.9h1.6v1.6h-1.6zM218.4 264.8h1.6v1.6h-1.6zM231.4 296.2h1.6v1.6h-1.6zM241.9 297.0h1.6v1.6h-1.6zM238.4 299.5h1.6v1.6h-1.6zM222.2 277.4h1.6v1.6h-1.6zM244.7 300.3h1.6v1.6h-1.6zM187.5 253.6h1.6v1.6h-1.6zM208.6 275.2h1.6v1.6h-1.6zM175.5 244.4h1.6v1.6h-1.6zM219.5 267.1h1.6v1.6h-1.6zM221.0 276.3h1.6v1.6h-1.6zM231.9 289.8h1.6v1.6h-1.6zM247.6 293.1h1.6v1.6h-1.6zM211.3 266.2h1.6v1.6h-1.6zM224.0 266.4h1.6v1.6h-1.6zM209.6 276.0h1.6v1.6h-1.6zM249.2 295.6h1.6v1.6h-1.6zM245.9 296.1h1.6v1.6h-1.6zM184.1 257.1h1.6v1.6h-1.6zM183.2 266.6h1.6v1.6h-1.6zM201.7 258.6h1.6v1.6h-1.6zM222.4 266.3h1.6v1.6h-1.6zM244.1 287.2h1.6v1.6h-1.6zM198.9 246.9h1.6v1.6h-1.6zM189.3 260.6h1.6v1.6h-1.6zM239.2 298.5h1.6v1.6h-1.6zM213.8 268.8h1.6v1.6h-1.6zM208.4 265.0h1.6v1.6h-1.6zM240.6 288.0h1.6v1.6h-1.6zM191.4 271.8h1.6v1.6h-1.6zM202.1 281.0h1.6v1.6h-1.6zM226.5 295.7h1.6v1.6h-1.6zM218.8 248.2h1.6v1.6h-1.6zM229.6 276.4h1.6v1.6h-1.6zM216.1 269.3h1.6v1.6h-1.6zM218.7 261.5h1.6v1.6h-1.6zM221.3 269.7h1.6v1.6h-1.6zM244.8 293.5h1.6v1.6h-1.6zM217.5 252.0h1.6v1.6h-1.6zM233.4 277.4h1.6v1.6h-1.6zM223.0 263.5h1.6v1.6h-1.6zM201.6 285.3h1.6v1.6h-1.6zM221.4 287.7h1.6v1.6h-1.6zM221.8 292.1h1.6v1.6h-1.6zM238.2 298.0h1.6v1.6h-1.6zM236.0 285.4h1.6v1.6h-1.6zM228.4 259.3h1.6v1.6h-1.6zM206.3 246.3h1.6v1.6h-1.6zM242.1 289.6h1.6v1.6h-1.6zM239.3 280.0h1.6v1.6h-1.6zM217.4 285.8h1.6v1.6h-1.6zM227.0 264.5h1.6v1.6h-1.6zM223.7 297.1h1.6v1.6h-1.6zM219.8 257.9h1.6v1.6h-1.6zM251.2 303.3h1.6v1.6h-1.6zM238.3 285.0h1.6v1.6h-1.6zM227.4 285.2h1.6v1.6h-1.6zM206.1 285.7h1.6v1.6h-1.6zM225.0 256.3h1.6v1.6h-1.6zM208.2 291.2h1.6v1.6h-1.6zM236.9 288.9h1.6v1.6h-1.6zM201.5 272.1h1.6v1.6h-1.6zM201.0 271.1h1.6v1.6h-1.6zM205.6 265.2h1.6v1.6h-1.6zM219.0 266.1h1.6v1.6h-1.6zM233.7 278.5h1.6v1.6h-1.6zM238.2 288.2h1.6v1.6h-1.6zM242.1 284.7h1.6v1.6h-1.6zM182.6 252.0h1.6v1.6h-1.6zM229.2 286.6h1.6v1.6h-1.6zM198.9 264.7h1.6v1.6h-1.6zM228.4 289.2h1.6v1.6h-1.6zM248.1 296.5h1.6v1.6h-1.6zM236.8 284.9h1.6v1.6h-1.6zM226.7 271.4h1.6v1.6h-1.6zM247.2 298.4h1.6v1.6h-1.6zM228.3 290.6h1.6v1.6h-1.6zM229.6 263.5h1.6v1.6h-1.6zM234.4 270.6h1.6v1.6h-1.6zM194.8 271.4h1.6v1.6h-1.6zM225.7 268.6h1.6v1.6h-1.6zM198.6 269.6h1.6v1.6h-1.6zM212.5 251.9h1.6v1.6h-1.6zM216.7 280.7h1.6v1.6h-1.6zM212.0 276.4h1.6v1.6h-1.6zM233.6 292.3h1.6v1.6h-1.6zM217.0 270.4h1.6v1.6h-1.6zM231.1 265.2h1.6v1.6h-1.6zM211.7 277.5h1.6v1.6h-1.6zM230.3 290.4h1.6v1.6h-1.6zM204.0 247.4h1.6v1.6h-1.6zM211.3 267.3h1.6v1.6h-1.6zM214.7 256.6h1.6v1.6h-1.6zM231.5 279.0h1.6v1.6h-1.6zM227.2 269.6h1.6v1.6h-1.6zM210.5 250.7h1.6v1.6h-1.6zM233.4 267.0h1.6v1.6h-1.6zM245.7 295.9h1.6v1.6h-1.6zM225.0 276.1h1.6v1.6h-1.6zM231.5 274.4h1.6v1.6h-1.6zM218.8 257.5h1.6v1.6h-1.6zM184.0 261.3h1.6v1.6h-1.6zM220.4 287.1h1.6v1.6h-1.6zM207.6 273.8h1.6v1.6h-1.6zM239.4 297.9h1.6v1.6h-1.6zM218.1 257.8h1.6v1.6h-1.6zM236.7 283.3h1.6v1.6h-1.6zM218.2 271.3h1.6v1.6h-1.6zM207.8 280.6h1.6v1.6h-1.6zM226.9 290.5h1.6v1.6h-1.6zM230.2 263.0h1.6v1.6h-1.6zM239.0 290.2h1.6v1.6h-1.6zM210.7 258.1h1.6v1.6h-1.6zM225.9 266.7h1.6v1.6h-1.6zM215.8 267.1h1.6v1.6h-1.6zM225.7 264.3h1.6v1.6h-1.6zM196.3 237.2h1.6v1.6h-1.6zM174.8 234.7h1.6v1.6h-1.6zM230.4 284.1h1.6v1.6h-1.6zM225.9 271.1h1.6v1.6h-1.6zM185.4 246.2h1.6v1.6h-1.6zM236.6 285.9h1.6v1.6h-1.6zM228.1 259.9h1.6v1.6h-1.6zM231.7 290.0h1.6v1.6h-1.6zM210.9 283.3h1.6v1.6h-1.6zM209.1 283.5h1.6v1.6h-1.6zM241.2 301.1h1.6v1.6h-1.6zM207.0 262.0h1.6v1.6h-1.6zM246.8 297.9h1.6v1.6h-1.6zM216.5 262.9h1.6v1.6h-1.6zM215.3 282.2h1.6v1.6h-1.6zM233.4 272.7h1.6v1.6h-1.6zM208.6 245.5h1.6v1.6h-1.6zM213.9 276.5h1.6v1.6h-1.6zM238.9 300.0h1.6v1.6h-1.6zM253.0 302.1h1.6v1.6h-1.6zM224.7 270.2h1.6v1.6h-1.6zM203.1 266.2h1.6v1.6h-1.6zM212.8 254.2h1.6v1.6h-1.6zM218.5 260.6h1.6v1.6h-1.6zM222.4 254.1h1.6v1.6h-1.6zM221.5 268.8h1.6v1.6h-1.6zM218.1 257.1h1.6v1.6h-1.6zM232.5 288.0h1.6v1.6h-1.6zM226.5 284.7h1.6v1.6h-1.6zM221.2 273.3h1.6v1.6h-1.6zM179.5 273.9h1.6v1.6h-1.6zM214.4 273.6h1.6v1.6h-1.6zM215.6 277.6h1.6v1.6h-1.6zM214.5 268.9h1.6v1.6h-1.6zM241.6 294.7h1.6v1.6h-1.6zM217.5 257.5h1.6v1.6h-1.6zM195.4 263.4h1.6v1.6h-1.6zM204.1 255.8h1.6v1.6h-1.6zM211.1 252.4h1.6v1.6h-1.6zM221.8 277.3h1.6v1.6h-1.6zM227.9 272.9h1.6v1.6h-1.6zM245.2 290.6h1.6v1.6h-1.6zM227.6 266.2h1.6v1.6h-1.6zM223.8 257.0h1.6v1.6h-1.6zM218.1 273.9h1.6v1.6h-1.6zM206.8 285.0h1.6v1.6h-1.6zM213.1 259.0h1.6v1.6h-1.6zM201.9 230.3h1.6v1.6h-1.6zM240.2 281.3h1.6v1.6h-1.6zM215.9 278.4h1.6v1.6h-1.6zM222.9 291.0h1.6v1.6h-1.6zM217.6 264.4h1.6v1.6h-1.6zM223.7 268.3h1.6v1.6h-1.6zM238.8 299.5h1.6v1.6h-1.6zM200.6 264.4h1.6v1.6h-1.6zM229.2 282.2h1.6v1.6h-1.6zM212.8 238.0h1.6v1.6h-1.6zM239.8 291.4h1.6v1.6h-1.6zM226.6 277.9h1.6v1.6h-1.6zM240.1 288.7h1.6v1.6h-1.6zM229.0 261.8h1.6v1.6h-1.6zM225.9 288.3h1.6v1.6h-1.6zM210.1 257.6h1.6v1.6h-1.6zM202.3 245.6h1.6v1.6h-1.6zM221.3 270.4h1.6v1.6h-1.6zM236.6 297.3h1.6v1.6h-1.6zM213.1 245.7h1.6v1.6h-1.6zM231.2 275.7h1.6v1.6h-1.6zM210.8 252.5h1.6v1.6h-1.6zM188.9 257.1h1.6v1.6h-1.6zM234.5 296.7h1.6v1.6h-1.6zM206.0 236.3h1.6v1.6h-1.6zM191.1 270.0h1.6v1.6h-1.6zM225.6 279.3h1.6v1.6h-1.6zM206.5 253.1h1.6v1.6h-1.6zM251.2 303.5h1.6v1.6h-1.6zM227.5 267.6h1.6v1.6h-1.6zM228.5 291.9h1.6v1.6h-1.6zM207.3 271.5h1.6v1.6h-1.6zM233.0 287.9h1.6v1.6h-1.6zM226.1 263.8h1.6v1.6h-1.6zM221.2 264.5h1.6v1.6h-1.6zM249.2 296.5h1.6v1.6h-1.6zM206.9 251.3h1.6v1.6h-1.6zM246.6 294.6h1.6v1.6h-1.6zM244.3 298.4h1.6v1.6h-1.6zM193.4 267.4h1.6v1.6h-1.6zM228.7 278.2h1.6v1.6h-1.6zM183.7 253.5h1.6v1.6h-1.6zM231.4 287.1h1.6v1.6h-1.6zM198.4 249.5h1.6v1.6h-1.6zM232.3 273.9h1.6v1.6h-1.6zM199.4 273.1h1.6v1.6h-1.6zM233.2 295.1h1.6v1.6h-1.6zM215.5 254.2h1.6v1.6h-1.6zM172.1 229.4h1.6v1.6h-1.6zM231.3 278.7h1.6v1.6h-1.6zM237.0 300.0h1.6v1.6h-1.6zM232.2 289.3h1.6v1.6h-1.6zM248.3 297.4h1.6v1.6h-1.6zM230.0 276.3h1.6v1.6h-1.6zM225.2 267.2h1.6v1.6h-1.6zM235.7 293.2h1.6v1.6h-1.6zM214.0 288.4h1.6v1.6h-1.6zM225.0 261.8h1.6v1.6h-1.6zM243.1 289.3h1.6v1.6h-1.6zM232.0 268.9h1.6v1.6h-1.6zM206.0 263.7h1.6v1.6h-1.6zM210.0 246.3h1.6v1.6h-1.6zM213.7 277.8h1.6v1.6h-1.6zM215.0 277.7h1.6v1.6h-1.6zM199.2 234.1h1.6v1.6h-1.6zM250.5 297.9h1.6v1.6h-1.6zM230.6 281.1h1.6v1.6h-1.6zM222.4 274.7h1.6v1.6h-1.6zM219.3 289.5h1.6v1.6h-1.6zM198.5 241.4h1.6v1.6h-1.6zM231.1 293.9h1.6v1.6h-1.6zM226.3 263.2h1.6v1.6h-1.6zM228.1 280.6h1.6v1.6h-1.6zM238.8 289.6h1.6v1.6h-1.6zM218.5 275.6h1.6v1.6h-1.6zM192.7 241.2h1.6v1.6h-1.6zM214.7 280.1h1.6v1.6h-1.6zM223.0 267.6h1.6v1.6h-1.6zM188.1 260.4h1.6v1.6h-1.6zM221.7 264.4h1.6v1.6h-1.6zM174.2 247.8h1.6v1.6h-1.6zM219.9 278.2h1.6v1.6h-1.6zM202.0 219.0h1.6v1.6h-1.6zM200.9 267.9h1.6v1.6h-1.6zM245.1 293.2h1.6v1.6h-1.6zM213.2 288.0h1.6v1.6h-1.6zM244.5 299.8h1.6v1.6h-1.6zM247.2 293.2h1.6v1.6h-1.6zM213.0 275.1h1.6v1.6h-1.6zM228.5 280.2h1.6v1.6h-1.6zM205.1 248.6h1.6v1.6h-1.6zM240.8 282.8h1.6v1.6h-1.6zM228.8 277.9h1.6v1.6h-1.6zM235.6 287.0h1.6v1.6h-1.6zM228.4 288.4h1.6v1.6h-1.6zM203.9 265.8h1.6v1.6h-1.6zM216.6 276.2h1.6v1.6h-1.6zM247.9 300.7h1.6v1.6h-1.6zM224.8 266.3h1.6v1.6h-1.6zM242.4 287.9h1.6v1.6h-1.6zM237.2 289.0h1.6v1.6h-1.6zM189.7 244.0h1.6v1.6h-1.6zM199.8 268.9h1.6v1.6h-1.6zM227.4 282.0h1.6v1.6h-1.6zM204.6 231.6h1.6v1.6h-1.6zM242.0 295.7h1.6v1.6h-1.6zM240.5 293.8h1.6v1.6h-1.6zM199.5 283.3h1.6v1.6h-1.6zM228.6 279.5h1.6v1.6h-1.6zM202.6 250.7h1.6v1.6h-1.6zM232.7 291.2h1.6v1.6h-1.6zM208.0 276.7h1.6v1.6h-1.6zM247.4 301.2h1.6v1.6h-1.6zM211.1 287.0h1.6v1.6h-1.6zM220.6 286.3h1.6v1.6h-1.6zM237.4 292.7h1.6v1.6h-1.6zM221.0 284.8h1.6v1.6h-1.6zM190.6 223.9h1.6v1.6h-1.6zM230.5 287.5h1.6v1.6h-1.6zM215.6 255.7h1.6v1.6h-1.6zM214.6 257.1h1.6v1.6h-1.6zM219.4 263.3h1.6v1.6h-1.6zM208.1 290.6h1.6v1.6h-1.6zM240.6 291.9h1.6v1.6h-1.6zM242.1 286.4h1.6v1.6h-1.6zM244.7 301.5h1.6v1.6h-1.6zM215.5 255.2h1.6v1.6h-1.6zM233.3 285.3h1.6v1.6h-1.6zM226.3 290.4h1.6v1.6h-1.6zM229.0 273.3h1.6v1.6h-1.6zM232.1 297.6h1.6v1.6h-1.6zM222.6 262.2h1.6v1.6h-1.6zM245.7 298.7h1.6v1.6h-1.6zM206.7 222.7h1.6v1.6h-1.6zM222.1 278.2h1.6v1.6h-1.6zM238.8 294.7h1.6v1.6h-1.6zM241.0 284.4h1.6v1.6h-1.6zM225.8 278.7h1.6v1.6h-1.6zM222.9 287.2h1.6v1.6h-1.6zM218.6 250.9h1.6v1.6h-1.6zM234.6 295.7h1.6v1.6h-1.6zM244.0 292.6h1.6v1.6h-1.6zM204.8 273.4h1.6v1.6h-1.6zM186.8 257.6h1.6v1.6h-1.6zM212.3 252.8h1.6v1.6h-1.6zM177.4 260.2h1.6v1.6h-1.6zM221.1 272.6h1.6v1.6h-1.6zM173.3 250.2h1.6v1.6h-1.6zM234.7 295.3h1.6v1.6h-1.6zM216.1 257.6h1.6v1.6h-1.6zM213.5 239.6h1.6v1.6h-1.6zM207.2 280.3h1.6v1.6h-1.6zM219.7 287.8h1.6v1.6h-1.6zM220.7 280.1h1.6v1.6h-1.6zM271.1 292.9h1.6v1.6h-1.6zM271.4 289.5h1.6v1.6h-1.6zM278.4 272.1h1.6v1.6h-1.6zM264.7 300.8h1.6v1.6h-1.6zM272.3 294.7h1.6v1.6h-1.6zM302.0 245.3h1.6v1.6h-1.6zM305.8 290.6h1.6v1.6h-1.6zM259.8 303.6h1.6v1.6h-1.6zM305.2 261.5h1.6v1.6h-1.6zM258.3 304.1h1.6v1.6h-1.6zM275.1 289.8h1.6v1.6h-1.6zM282.7 272.4h1.6v1.6h-1.6zM305.7 252.7h1.6v1.6h-1.6zM295.5 259.4h1.6v1.6h-1.6zM311.2 253.6h1.6v1.6h-1.6zM273.5 279.3h1.6v1.6h-1.6zM309.0 246.5h1.6v1.6h-1.6zM271.9 295.9h1.6v1.6h-1.6zM279.5 292.3h1.6v1.6h-1.6zM286.3 276.0h1.6v1.6h-1.6zM339.3 277.4h1.6v1.6h-1.6zM290.1 265.2h1.6v1.6h-1.6zM269.9 300.1h1.6v1.6h-1.6zM269.2 290.1h1.6v1.6h-1.6zM276.1 277.5h1.6v1.6h-1.6zM262.6 301.4h1.6v1.6h-1.6zM278.7 283.9h1.6v1.6h-1.6zM288.4 260.8h1.6v1.6h-1.6zM260.5 303.5h1.6v1.6h-1.6zM307.4 264.2h1.6v1.6h-1.6zM285.1 272.0h1.6v1.6h-1.6zM277.2 287.5h1.6v1.6h-1.6zM276.6 296.5h1.6v1.6h-1.6zM284.2 267.9h1.6v1.6h-1.6zM290.5 290.8h1.6v1.6h-1.6zM276.2 277.4h1.6v1.6h-1.6zM269.0 299.9h1.6v1.6h-1.6zM304.1 256.4h1.6v1.6h-1.6zM307.7 256.0h1.6v1.6h-1.6zM300.1 240.9h1.6v1.6h-1.6zM262.6 302.2h1.6v1.6h-1.6zM325.1 265.9h1.6v1.6h-1.6zM270.3 295.5h1.6v1.6h-1.6zM261.9 300.6h1.6v1.6h-1.6zM280.8 267.0h1.6v1.6h-1.6zM301.4 259.1h1.6v1.6h-1.6zM260.7 302.0h1.6v1.6h-1.6zM265.0 296.9h1.6v1.6h-1.6zM283.3 285.4h1.6v1.6h-1.6zM282.6 261.8h1.6v1.6h-1.6zM275.2 286.0h1.6v1.6h-1.6zM260.8 302.7h1.6v1.6h-1.6zM278.5 271.2h1.6v1.6h-1.6zM292.7 250.1h1.6v1.6h-1.6zM265.4 298.7h1.6v1.6h-1.6zM300.1 265.0h1.6v1.6h-1.6zM321.8 249.4h1.6v1.6h-1.6zM285.0 288.1h1.6v1.6h-1.6zM331.1 264.3h1.6v1.6h-1.6zM318.5 277.0h1.6v1.6h-1.6zM340.9 241.7h1.6v1.6h-1.6zM291.8 274.9h1.6v1.6h-1.6zM281.5 293.6h1.6v1.6h-1.6zM282.5 272.7h1.6v1.6h-1.6zM283.0 291.8h1.6v1.6h-1.6zM283.0 290.9h1.6v1.6h-1.6zM267.2 301.6h1.6v1.6h-1.6zM269.7 297.7h1.6v1.6h-1.6zM290.8 275.1h1.6v1.6h-1.6zM277.1 283.2h1.6v1.6h-1.6zM271.7 289.0h1.6v1.6h-1.6zM279.4 278.4h1.6v1.6h-1.6zM286.3 292.4h1.6v1.6h-1.6zM268.1 292.0h1.6v1.6h-1.6zM295.1 278.4h1.6v1.6h-1.6zM294.4 270.1h1.6v1.6h-1.6zM278.0 270.7h1.6v1.6h-1.6zM280.9 281.5h1.6v1.6h-1.6zM299.6 241.8h1.6v1.6h-1.6zM306.2 234.1h1.6v1.6h-1.6zM337.3 254.7h1.6v1.6h-1.6zM274.3 293.4h1.6v1.6h-1.6zM311.4 270.5h1.6v1.6h-1.6zM262.6 300.6h1.6v1.6h-1.6zM298.2 232.9h1.6v1.6h-1.6zM278.0 280.5h1.6v1.6h-1.6zM266.4 299.9h1.6v1.6h-1.6zM277.1 276.3h1.6v1.6h-1.6zM336.0 274.3h1.6v1.6h-1.6zM283.4 290.2h1.6v1.6h-1.6zM289.6 286.7h1.6v1.6h-1.6zM305.2 266.0h1.6v1.6h-1.6zM280.4 267.8h1.6v1.6h-1.6zM287.4 269.6h1.6v1.6h-1.6zM276.9 289.9h1.6v1.6h-1.6zM275.3 291.1h1.6v1.6h-1.6zM292.1 275.6h1.6v1.6h-1.6zM263.0 301.1h1.6v1.6h-1.6zM307.3 274.6h1.6v1.6h-1.6zM279.7 273.9h1.6v1.6h-1.6zM286.9 268.9h1.6v1.6h-1.6zM271.0 295.4h1.6v1.6h-1.6zM284.2 291.4h1.6v1.6h-1.6zM266.2 295.5h1.6v1.6h-1.6zM273.7 287.0h1.6v1.6h-1.6zM273.9 276.9h1.6v1.6h-1.6zM274.4 286.3h1.6v1.6h-1.6zM287.0 260.6h1.6v1.6h-1.6zM299.0 279.8h1.6v1.6h-1.6zM284.1 267.0h1.6v1.6h-1.6zM292.5 248.1h1.6v1.6h-1.6zM302.6 266.9h1.6v1.6h-1.6zM278.1 296.6h1.6v1.6h-1.6zM281.4 291.5h1.6v1.6h-1.6zM261.0 302.7h1.6v1.6h-1.6zM280.8 288.7h1.6v1.6h-1.6zM271.9 286.8h1.6v1.6h-1.6zM273.1 292.2h1.6v1.6h-1.6zM282.4 289.9h1.6v1.6h-1.6zM278.9 297.1h1.6v1.6h-1.6zM283.1 265.2h1.6v1.6h-1.6zM272.5 289.1h1.6v1.6h-1.6zM260.1 303.7h1.6v1.6h-1.6zM291.6 286.8h1.6v1.6h-1.6zM279.8 290.3h1.6v1.6h-1.6zM267.7 297.9h1.6v1.6h-1.6zM282.5 273.1h1.6v1.6h-1.6zM294.7 288.2h1.6v1.6h-1.6zM298.0 268.0h1.6v1.6h-1.6zM316.7 278.2h1.6v1.6h-1.6zM296.2 249.6h1.6v1.6h-1.6zM265.6 303.0h1.6v1.6h-1.6zM266.9 297.8h1.6v1.6h-1.6zM268.8 297.4h1.6v1.6h-1.6zM277.3 279.3h1.6v1.6h-1.6zM265.3 300.4h1.6v1.6h-1.6zM311.3 262.7h1.6v1.6h-1.6zM274.8 289.5h1.6v1.6h-1.6zM271.5 293.5h1.6v1.6h-1.6zM297.6 259.7h1.6v1.6h-1.6zM289.3 273.0h1.6v1.6h-1.6zM282.7 278.8h1.6v1.6h-1.6zM306.4 257.9h1.6v1.6h-1.6zM281.9 266.2h1.6v1.6h-1.6zM258.7 304.1h1.6v1.6h-1.6zM271.8 297.3h1.6v1.6h-1.6zM317.4 271.5h1.6v1.6h-1.6zM270.5 293.2h1.6v1.6h-1.6zM275.6 293.3h1.6v1.6h-1.6zM282.4 287.8h1.6v1.6h-1.6zM259.3 304.1h1.6v1.6h-1.6zM280.3 263.5h1.6v1.6h-1.6zM273.5 294.6h1.6v1.6h-1.6zM300.5 276.9h1.6v1.6h-1.6zM269.5 299.3h1.6v1.6h-1.6zM261.8 301.0h1.6v1.6h-1.6zM259.1 303.7h1.6v1.6h-1.6zM283.5 284.8h1.6v1.6h-1.6zM287.6 288.1h1.6v1.6h-1.6zM289.2 271.9h1.6v1.6h-1.6zM273.1 283.8h1.6v1.6h-1.6zM285.0 280.6h1.6v1.6h-1.6zM272.7 299.2h1.6v1.6h-1.6zM287.8 290.0h1.6v1.6h-1.6zM335.1 264.3h1.6v1.6h-1.6zM305.9 236.1h1.6v1.6h-1.6zM272.3 284.8h1.6v1.6h-1.6zM268.5 292.7h1.6v1.6h-1.6zM288.0 262.8h1.6v1.6h-1.6zM271.0 281.8h1.6v1.6h-1.6zM261.7 302.9h1.6v1.6h-1.6zM281.7 276.7h1.6v1.6h-1.6zM282.9 282.7h1.6v1.6h-1.6zM294.3 246.6h1.6v1.6h-1.6zM272.4 283.2h1.6v1.6h-1.6zM273.2 286.4h1.6v1.6h-1.6zM286.5 282.9h1.6v1.6h-1.6zM300.2 264.0h1.6v1.6h-1.6zM258.6 303.9h1.6v1.6h-1.6zM290.4 263.6h1.6v1.6h-1.6zM269.4 298.5h1.6v1.6h-1.6zM265.9 296.5h1.6v1.6h-1.6zM316.4 280.7h1.6v1.6h-1.6zM306.3 274.2h1.6v1.6h-1.6zM288.8 267.0h1.6v1.6h-1.6zM277.3 285.1h1.6v1.6h-1.6zM280.1 270.0h1.6v1.6h-1.6zM269.4 290.7h1.6v1.6h-1.6zM285.0 290.8h1.6v1.6h-1.6zM304.8 282.4h1.6v1.6h-1.6zM280.3 275.6h1.6v1.6h-1.6zM289.7 268.7h1.6v1.6h-1.6zM269.9 291.7h1.6v1.6h-1.6zM273.2 277.9h1.6v1.6h-1.6zM265.8 295.0h1.6v1.6h-1.6zM278.1 273.0h1.6v1.6h-1.6zM274.0 288.7h1.6v1.6h-1.6zM325.0 255.1h1.6v1.6h-1.6zM277.7 271.3h1.6v1.6h-1.6zM262.1 301.7h1.6v1.6h-1.6zM298.1 276.8h1.6v1.6h-1.6zM276.0 289.8h1.6v1.6h-1.6zM267.4 292.2h1.6v1.6h-1.6zM266.7 296.8h1.6v1.6h-1.6zM304.4 273.1h1.6v1.6h-1.6zM280.9 262.8h1.6v1.6h-1.6zM297.0 286.8h1.6v1.6h-1.6zM301.7 284.3h1.6v1.6h-1.6zM273.9 291.8h1.6v1.6h-1.6zM280.4 265.9h1.6v1.6h-1.6zM330.3 237.7h1.6v1.6h-1.6zM274.9 286.5h1.6v1.6h-1.6zM294.4 286.6h1.6v1.6h-1.6zM270.7 297.6h1.6v1.6h-1.6zM269.1 293.8h1.6v1.6h-1.6zM276.2 289.2h1.6v1.6h-1.6zM288.1 288.2h1.6v1.6h-1.6zM266.8 298.4h1.6v1.6h-1.6zM277.1 290.7h1.6v1.6h-1.6zM268.0 302.3h1.6v1.6h-1.6zM275.3 294.0h1.6v1.6h-1.6zM290.7 275.8h1.6v1.6h-1.6zM333.0 257.7h1.6v1.6h-1.6zM272.7 296.5h1.6v1.6h-1.6zM286.5 273.2h1.6v1.6h-1.6zM265.3 296.0h1.6v1.6h-1.6zM325.1 251.1h1.6v1.6h-1.6zM287.1 295.3h1.6v1.6h-1.6zM321.9 251.0h1.6v1.6h-1.6zM271.8 291.2h1.6v1.6h-1.6zM273.5 286.3h1.6v1.6h-1.6zM307.5 263.5h1.6v1.6h-1.6zM273.9 289.2h1.6v1.6h-1.6zM289.4 286.2h1.6v1.6h-1.6zM291.5 272.4h1.6v1.6h-1.6zM273.1 279.4h1.6v1.6h-1.6zM275.9 290.8h1.6v1.6h-1.6zM328.2 245.5h1.6v1.6h-1.6zM263.7 301.8h1.6v1.6h-1.6zM311.1 279.3h1.6v1.6h-1.6zM281.4 274.6h1.6v1.6h-1.6zM263.1 299.0h1.6v1.6h-1.6zM297.2 263.5h1.6v1.6h-1.6zM272.9 287.2h1.6v1.6h-1.6zM288.2 291.7h1.6v1.6h-1.6zM302.5 272.2h1.6v1.6h-1.6zM272.6 288.5h1.6v1.6h-1.6zM274.0 298.6h1.6v1.6h-1.6zM269.5 287.5h1.6v1.6h-1.6zM264.9 303.0h1.6v1.6h-1.6zM275.5 292.8h1.6v1.6h-1.6zM283.6 279.8h1.6v1.6h-1.6zM261.3 301.6h1.6v1.6h-1.6zM277.2 287.2h1.6v1.6h-1.6zM271.1 285.1h1.6v1.6h-1.6zM259.8 303.1h1.6v1.6h-1.6zM271.5 296.8h1.6v1.6h-1.6zM266.1 302.8h1.6v1.6h-1.6zM279.1 283.1h1.6v1.6h-1.6zM280.1 276.7h1.6v1.6h-1.6zM295.2 280.7h1.6v1.6h-1.6zM316.3 262.1h1.6v1.6h-1.6zM275.4 279.3h1.6v1.6h-1.6zM280.2 292.3h1.6v1.6h-1.6zM264.5 299.3h1.6v1.6h-1.6zM308.2 261.5h1.6v1.6h-1.6zM323.8 263.3h1.6v1.6h-1.6zM290.0 258.3h1.6v1.6h-1.6zM273.4 295.2h1.6v1.6h-1.6zM302.6 261.2h1.6v1.6h-1.6zM289.1 257.4h1.6v1.6h-1.6zM286.0 260.2h1.6v1.6h-1.6zM279.7 277.0h1.6v1.6h-1.6zM283.5 282.8h1.6v1.6h-1.6zM282.8 262.6h1.6v1.6h-1.6zM292.4 263.0h1.6v1.6h-1.6zM300.2 259.7h1.6v1.6h-1.6zM278.3 283.4h1.6v1.6h-1.6zM267.9 300.8h1.6v1.6h-1.6zM273.2 291.4h1.6v1.6h-1.6zM266.2 293.3h1.6v1.6h-1.6zM291.5 277.6h1.6v1.6h-1.6zM271.2 294.5h1.6v1.6h-1.6zM290.2 281.2h1.6v1.6h-1.6zM307.0 285.8h1.6v1.6h-1.6zM284.0 276.7h1.6v1.6h-1.6zM291.6 265.5h1.6v1.6h-1.6zM261.7 303.0h1.6v1.6h-1.6zM283.2 286.5h1.6v1.6h-1.6zM289.7 292.2h1.6v1.6h-1.6zM293.2 277.3h1.6v1.6h-1.6zM280.7 272.0h1.6v1.6h-1.6zM292.2 272.4h1.6v1.6h-1.6zM268.5 298.8h1.6v1.6h-1.6zM262.5 299.1h1.6v1.6h-1.6zM287.6 261.9h1.6v1.6h-1.6zM272.3 292.7h1.6v1.6h-1.6zM290.6 273.4h1.6v1.6h-1.6zM262.6 303.8h1.6v1.6h-1.6zM280.4 279.1h1.6v1.6h-1.6zM267.2 295.9h1.6v1.6h-1.6zM299.4 275.1h1.6v1.6h-1.6zM298.4 260.3h1.6v1.6h-1.6zM278.2 273.9h1.6v1.6h-1.6zM284.0 285.5h1.6v1.6h-1.6zM289.2 267.0h1.6v1.6h-1.6zM279.7 287.1h1.6v1.6h-1.6zM276.6 289.1h1.6v1.6h-1.6zM302.1 286.1h1.6v1.6h-1.6zM289.8 266.5h1.6v1.6h-1.6zM288.9 276.6h1.6v1.6h-1.6zM264.1 301.3h1.6v1.6h-1.6zM262.7 303.2h1.6v1.6h-1.6zM277.8 298.2h1.6v1.6h-1.6zM293.4 277.5h1.6v1.6h-1.6zM268.3 293.0h1.6v1.6h-1.6zM275.9 295.4h1.6v1.6h-1.6zM310.4 261.3h1.6v1.6h-1.6zM260.0 304.0h1.6v1.6h-1.6zM282.0 265.2h1.6v1.6h-1.6zM272.2 291.1h1.6v1.6h-1.6zM300.3 266.1h1.6v1.6h-1.6zM293.5 293.6h1.6v1.6h-1.6zM281.7 283.3h1.6v1.6h-1.6zM263.9 299.4h1.6v1.6h-1.6zM277.1 294.1h1.6v1.6h-1.6zM281.7 276.4h1.6v1.6h-1.6zM283.6 274.5h1.6v1.6h-1.6zM265.7 298.3h1.6v1.6h-1.6zM300.2 276.7h1.6v1.6h-1.6zM320.0 242.2h1.6v1.6h-1.6zM285.2 278.7h1.6v1.6h-1.6zM267.1 294.0h1.6v1.6h-1.6zM279.4 274.3h1.6v1.6h-1.6zM279.5 279.7h1.6v1.6h-1.6zM297.3 275.6h1.6v1.6h-1.6zM307.7 264.0h1.6v1.6h-1.6zM294.7 253.8h1.6v1.6h-1.6zM267.8 299.0h1.6v1.6h-1.6zM269.6 295.4h1.6v1.6h-1.6zM267.5 299.7h1.6v1.6h-1.6zM323.3 226.8h1.6v1.6h-1.6zM312.9 239.5h1.6v1.6h-1.6zM298.7 269.8h1.6v1.6h-1.6zM279.7 277.6h1.6v1.6h-1.6zM278.4 293.0h1.6v1.6h-1.6zM271.3 299.7h1.6v1.6h-1.6zM286.5 290.6h1.6v1.6h-1.6zM261.1 302.4h1.6v1.6h-1.6zM275.1 286.9h1.6v1.6h-1.6zM272.0 298.6h1.6v1.6h-1.6zM267.5 302.4h1.6v1.6h-1.6zM284.7 269.8h1.6v1.6h-1.6zM288.6 269.1h1.6v1.6h-1.6zM296.4 252.2h1.6v1.6h-1.6zM295.5 266.5h1.6v1.6h-1.6zM304.1 251.3h1.6v1.6h-1.6zM292.3 276.0h1.6v1.6h-1.6zM276.6 282.6h1.6v1.6h-1.6zM270.8 288.2h1.6v1.6h-1.6zM276.9 291.8h1.6v1.6h-1.6zM262.4 303.8h1.6v1.6h-1.6zM283.7 272.6h1.6v1.6h-1.6zM290.0 292.4h1.6v1.6h-1.6zM292.6 271.1h1.6v1.6h-1.6zM320.8 252.5h1.6v1.6h-1.6zM293.8 267.3h1.6v1.6h-1.6zM337.7 283.8h1.6v1.6h-1.6zM280.6 281.2h1.6v1.6h-1.6zM284.8 260.0h1.6v1.6h-1.6zM271.3 295.6h1.6v1.6h-1.6zM291.1 279.6h1.6v1.6h-1.6zM291.2 279.1h1.6v1.6h-1.6zM294.7 278.8h1.6v1.6h-1.6zM288.5 293.6h1.6v1.6h-1.6zM288.8 286.2h1.6v1.6h-1.6zM281.3 283.9h1.6v1.6h-1.6zM298.2 267.2h1.6v1.6h-1.6zM298.7 247.2h1.6v1.6h-1.6zM290.6 266.9h1.6v1.6h-1.6zM311.7 284.8h1.6v1.6h-1.6zM281.3 276.4h1.6v1.6h-1.6zM290.5 282.1h1.6v1.6h-1.6zM309.3 266.4h1.6v1.6h-1.6zM287.6 288.5h1.6v1.6h-1.6zM271.3 289.0h1.6v1.6h-1.6zM287.7 281.6h1.6v1.6h-1.6zM319.0 245.8h1.6v1.6h-1.6zM273.4 287.9h1.6v1.6h-1.6zM269.3 287.8h1.6v1.6h-1.6zM272.0 283.8h1.6v1.6h-1.6zM311.8 226.2h1.6v1.6h-1.6zM264.9 298.7h1.6v1.6h-1.6zM279.7 279.0h1.6v1.6h-1.6zM286.4 278.4h1.6v1.6h-1.6zM320.5 259.6h1.6v1.6h-1.6zM273.9 291.2h1.6v1.6h-1.6zM279.8 278.1h1.6v1.6h-1.6zM274.2 295.1h1.6v1.6h-1.6zM290.9 289.4h1.6v1.6h-1.6zM262.7 301.8h1.6v1.6h-1.6zM273.7 294.0h1.6v1.6h-1.6zM286.2 289.4h1.6v1.6h-1.6zM267.6 293.3h1.6v1.6h-1.6zM273.0 288.2h1.6v1.6h-1.6zM271.3 293.7h1.6v1.6h-1.6zM272.6 295.0h1.6v1.6h-1.6zM296.3 291.4h1.6v1.6h-1.6zM301.3 274.9h1.6v1.6h-1.6zM315.5 277.7h1.6v1.6h-1.6zM334.0 241.5h1.6v1.6h-1.6zM265.4 299.6h1.6v1.6h-1.6zM266.7 301.6h1.6v1.6h-1.6zM264.8 296.1h1.6v1.6h-1.6zM284.4 284.2h1.6v1.6h-1.6zM261.6 303.9h1.6v1.6h-1.6zM291.7 276.4h1.6v1.6h-1.6zM315.5 276.2h1.6v1.6h-1.6zM263.8 301.1h1.6v1.6h-1.6zM274.5 277.8h1.6v1.6h-1.6zM279.1 287.6h1.6v1.6h-1.6zM307.6 261.6h1.6v1.6h-1.6zM286.5 280.2h1.6v1.6h-1.6zM281.5 282.9h1.6v1.6h-1.6zM333.6 233.1h1.6v1.6h-1.6zM278.4 294.2h1.6v1.6h-1.6zM289.1 268.5h1.6v1.6h-1.6zM277.6 271.7h1.6v1.6h-1.6zM288.9 294.1h1.6v1.6h-1.6zM316.1 245.0h1.6v1.6h-1.6zM263.5 302.1h1.6v1.6h-1.6zM316.3 256.0h1.6v1.6h-1.6zM269.0 292.5h1.6v1.6h-1.6zM294.5 262.1h1.6v1.6h-1.6zM274.3 289.0h1.6v1.6h-1.6zM275.6 288.1h1.6v1.6h-1.6zM281.3 271.3h1.6v1.6h-1.6zM266.7 294.6h1.6v1.6h-1.6zM272.9 291.7h1.6v1.6h-1.6zM278.8 273.9h1.6v1.6h-1.6zM267.1 301.2h1.6v1.6h-1.6zM284.9 286.7h1.6v1.6h-1.6zM278.1 269.5h1.6v1.6h-1.6zM309.5 246.4h1.6v1.6h-1.6zM286.2 283.8h1.6v1.6h-1.6zM277.1 298.4h1.6v1.6h-1.6zM271.0 298.0h1.6v1.6h-1.6zM283.6 282.2h1.6v1.6h-1.6zM267.6 301.2h1.6v1.6h-1.6zM269.9 298.6h1.6v1.6h-1.6zM315.7 249.8h1.6v1.6h-1.6zM320.6 261.1h1.6v1.6h-1.6zM280.5 278.1h1.6v1.6h-1.6zM280.9 270.1h1.6v1.6h-1.6zM295.2 294.2h1.6v1.6h-1.6zM265.0 300.7h1.6v1.6h-1.6zM312.4 226.8h1.6v1.6h-1.6zM327.1 238.6h1.6v1.6h-1.6zM283.1 282.2h1.6v1.6h-1.6zM302.7 284.7h1.6v1.6h-1.6zM264.5 299.9h1.6v1.6h-1.6zM272.3 289.1h1.6v1.6h-1.6zM279.1 291.1h1.6v1.6h-1.6zM284.7 273.4h1.6v1.6h-1.6zM307.8 240.2h1.6v1.6h-1.6zM277.0 292.2h1.6v1.6h-1.6zM292.1 247.1h1.6v1.6h-1.6zM274.4 284.9h1.6v1.6h-1.6zM275.1 288.4h1.6v1.6h-1.6zM296.8 269.4h1.6v1.6h-1.6zM291.9 276.6h1.6v1.6h-1.6zM275.8 282.2h1.6v1.6h-1.6zM296.6 266.8h1.6v1.6h-1.6zM267.4 295.4h1.6v1.6h-1.6zM300.6 278.5h1.6v1.6h-1.6zM264.1 297.6h1.6v1.6h-1.6zM268.8 295.9h1.6v1.6h-1.6zM284.3 277.6h1.6v1.6h-1.6zM298.6 270.3h1.6v1.6h-1.6zM315.9 244.8h1.6v1.6h-1.6zM322.1 274.2h1.6v1.6h-1.6zM277.9 276.9h1.6v1.6h-1.6zM284.5 279.0h1.6v1.6h-1.6zM268.0 293.6h1.6v1.6h-1.6zM307.6 256.8h1.6v1.6h-1.6zM287.8 280.0h1.6v1.6h-1.6zM263.2 302.5h1.6v1.6h-1.6zM281.6 285.3h1.6v1.6h-1.6zM291.6 291.5h1.6v1.6h-1.6zM284.3 298.8h1.6v1.6h-1.6zM279.2 273.7h1.6v1.6h-1.6zM285.5 266.1h1.6v1.6h-1.6zM298.6 258.9h1.6v1.6h-1.6zM301.8 261.2h1.6v1.6h-1.6zM313.7 237.6h1.6v1.6h-1.6zM286.9 280.6h1.6v1.6h-1.6zM295.6 288.5h1.6v1.6h-1.6zM287.2 271.5h1.6v1.6h-1.6zM328.4 273.8h1.6v1.6h-1.6zM269.4 301.8h1.6v1.6h-1.6zM276.2 296.4h1.6v1.6h-1.6zM264.7 301.9h1.6v1.6h-1.6zM268.2 294.3h1.6v1.6h-1.6zM273.3 285.1h1.6v1.6h-1.6zM272.6 292.7h1.6v1.6h-1.6zM270.2 299.1h1.6v1.6h-1.6zM270.1 302.1h1.6v1.6h-1.6zM281.5 295.5h1.6v1.6h-1.6zM278.6 274.2h1.6v1.6h-1.6zM271.1 288.6h1.6v1.6h-1.6zM265.7 301.7h1.6v1.6h-1.6zM298.4 253.5h1.6v1.6h-1.6zM294.3 264.8h1.6v1.6h-1.6zM276.4 288.1h1.6v1.6h-1.6zM284.9 264.5h1.6v1.6h-1.6zM268.6 294.1h1.6v1.6h-1.6zM260.9 301.8h1.6v1.6h-1.6zM284.0 262.9h1.6v1.6h-1.6zM274.0 289.9h1.6v1.6h-1.6zM281.1 285.0h1.6v1.6h-1.6zM272.2 293.8h1.6v1.6h-1.6zM283.4 291.1h1.6v1.6h-1.6zM307.1 239.1h1.6v1.6h-1.6zM287.2 285.8h1.6v1.6h-1.6zM280.1 299.4h1.6v1.6h-1.6zM319.1 269.3h1.6v1.6h-1.6zM264.6 296.7h1.6v1.6h-1.6zM286.2 282.4h1.6v1.6h-1.6zM283.3 267.7h1.6v1.6h-1.6zM291.5 271.3h1.6v1.6h-1.6zM287.2 255.2h1.6v1.6h-1.6zM290.7 274.6h1.6v1.6h-1.6zM291.6 254.2h1.6v1.6h-1.6zM273.3 285.8h1.6v1.6h-1.6zM273.9 297.0h1.6v1.6h-1.6zM287.9 291.8h1.6v1.6h-1.6zM283.5 266.9h1.6v1.6h-1.6zM288.7 253.7h1.6v1.6h-1.6zM282.1 294.5h1.6v1.6h-1.6zM284.1 265.1h1.6v1.6h-1.6zM320.9 269.4h1.6v1.6h-1.6zM271.8 296.2h1.6v1.6h-1.6zM291.0 265.0h1.6v1.6h-1.6zM275.3 287.9h1.6v1.6h-1.6zM285.2 281.0h1.6v1.6h-1.6zM274.6 295.1h1.6v1.6h-1.6zM270.8 282.2h1.6v1.6h-1.6zM304.8 249.9h1.6v1.6h-1.6zM267.4 297.2h1.6v1.6h-1.6zM281.1 281.5h1.6v1.6h-1.6zM280.8 283.5h1.6v1.6h-1.6zM270.5 298.3h1.6v1.6h-1.6zM283.0 278.5h1.6v1.6h-1.6zM275.2 295.3h1.6v1.6h-1.6zM288.6 257.8h1.6v1.6h-1.6zM296.6 262.6h1.6v1.6h-1.6zM273.4 282.7h1.6v1.6h-1.6zM265.0 299.3h1.6v1.6h-1.6zM277.5 296.0h1.6v1.6h-1.6zM273.9 282.8h1.6v1.6h-1.6zM275.6 279.8h1.6v1.6h-1.6zM288.7 270.1h1.6v1.6h-1.6zM305.9 243.7h1.6v1.6h-1.6zM282.8 289.1h1.6v1.6h-1.6zM295.1 286.0h1.6v1.6h-1.6zM287.2 267.3h1.6v1.6h-1.6zM299.1 288.4h1.6v1.6h-1.6zM277.8 267.9h1.6v1.6h-1.6zM287.6 282.2h1.6v1.6h-1.6zM268.7 300.3h1.6v1.6h-1.6zM314.8 258.1h1.6v1.6h-1.6zM292.5 258.6h1.6v1.6h-1.6zM271.7 299.9h1.6v1.6h-1.6zM270.7 291.9h1.6v1.6h-1.6zM306.3 280.7h1.6v1.6h-1.6zM268.8 300.7h1.6v1.6h-1.6zM277.0 288.7h1.6v1.6h-1.6zM286.3 285.0h1.6v1.6h-1.6zM338.3 254.9h1.6v1.6h-1.6zM325.8 266.4h1.6v1.6h-1.6zM299.6 274.3h1.6v1.6h-1.6zM292.4 249.2h1.6v1.6h-1.6zM272.4 295.1h1.6v1.6h-1.6zM271.9 284.4h1.6v1.6h-1.6zM259.5 304.0h1.6v1.6h-1.6zM283.5 285.1h1.6v1.6h-1.6zM262.3 302.2h1.6v1.6h-1.6zM280.6 282.6h1.6v1.6h-1.6zM264.3 297.2h1.6v1.6h-1.6zM264.9 297.2h1.6v1.6h-1.6zM330.9 252.7h1.6v1.6h-1.6zM280.2 287.2h1.6v1.6h-1.6zM277.4 281.8h1.6v1.6h-1.6zM317.9 250.6h1.6v1.6h-1.6zM278.4 279.7h1.6v1.6h-1.6zM280.8 293.4h1.6v1.6h-1.6zM305.5 275.4h1.6v1.6h-1.6zM286.2 276.5h1.6v1.6h-1.6zM286.8 284.9h1.6v1.6h-1.6zM302.6 287.7h1.6v1.6h-1.6zM272.5 301.1h1.6v1.6h-1.6zM298.1 269.4h1.6v1.6h-1.6zM261.6 302.2h1.6v1.6h-1.6zM282.7 277.6h1.6v1.6h-1.6zM288.5 261.2h1.6v1.6h-1.6zM283.6 258.6h1.6v1.6h-1.6zM288.5 265.6h1.6v1.6h-1.6zM270.4 297.5h1.6v1.6h-1.6zM282.7 286.0h1.6v1.6h-1.6zM296.4 282.6h1.6v1.6h-1.6zM315.0 256.8h1.6v1.6h-1.6zM290.6 284.3h1.6v1.6h-1.6zM300.8 290.6h1.6v1.6h-1.6zM285.1 286.0h1.6v1.6h-1.6zM301.0 297.8h1.6v1.6h-1.6zM284.5 271.9h1.6v1.6h-1.6zM269.9 298.1h1.6v1.6h-1.6zM282.7 285.0h1.6v1.6h-1.6zM262.3 301.2h1.6v1.6h-1.6zM292.2 271.8h1.6v1.6h-1.6zM280.6 290.5h1.6v1.6h-1.6zM327.4 267.7h1.6v1.6h-1.6zM264.0 298.4h1.6v1.6h-1.6zM288.4 261.2h1.6v1.6h-1.6zM269.6 296.9h1.6v1.6h-1.6zM276.7 279.1h1.6v1.6h-1.6zM303.9 241.6h1.6v1.6h-1.6zM290.3 273.0h1.6v1.6h-1.6zM283.1 274.3h1.6v1.6h-1.6zM332.6 242.4h1.6v1.6h-1.6zM277.8 288.6h1.6v1.6h-1.6zM316.1 257.4h1.6v1.6h-1.6zM277.3 296.6h1.6v1.6h-1.6zM308.3 276.9h1.6v1.6h-1.6zM286.5 258.5h1.6v1.6h-1.6zM270.8 287.7h1.6v1.6h-1.6zM288.0 257.7h1.6v1.6h-1.6zM273.5 278.2h1.6v1.6h-1.6zM317.3 232.5h1.6v1.6h-1.6zM300.9 268.1h1.6v1.6h-1.6zM294.2 275.3h1.6v1.6h-1.6zM286.2 285.5h1.6v1.6h-1.6zM298.0 265.1h1.6v1.6h-1.6zM267.9 290.8h1.6v1.6h-1.6zM260.3 302.4h1.6v1.6h-1.6zM294.5 270.7h1.6v1.6h-1.6zM306.0 238.0h1.6v1.6h-1.6zM288.6 270.9h1.6v1.6h-1.6zM268.1 298.2h1.6v1.6h-1.6zM294.3 291.4h1.6v1.6h-1.6zM268.9 293.0h1.6v1.6h-1.6zM288.4 271.8h1.6v1.6h-1.6zM271.9 294.1h1.6v1.6h-1.6zM278.2 294.9h1.6v1.6h-1.6zM306.4 275.8h1.6v1.6h-1.6zM284.9 266.6h1.6v1.6h-1.6zM302.5 248.0h1.6v1.6h-1.6zM300.6 252.7h1.6v1.6h-1.6zM313.4 247.7h1.6v1.6h-1.6zM309.2 267.9h1.6v1.6h-1.6zM273.3 290.2h1.6v1.6h-1.6zM279.1 270.3h1.6v1.6h-1.6zM305.6 246.3h1.6v1.6h-1.6zM289.9 291.0h1.6v1.6h-1.6zM300.1 257.8h1.6v1.6h-1.6zM306.2 266.9h1.6v1.6h-1.6zM268.3 300.1h1.6v1.6h-1.6zM269.6 293.6h1.6v1.6h-1.6zM276.2 291.2h1.6v1.6h-1.6zM290.5 252.5h1.6v1.6h-1.6zM266.0 292.7h1.6v1.6h-1.6zM298.4 280.2h1.6v1.6h-1.6zM307.5 270.4h1.6v1.6h-1.6zM278.4 272.7h1.6v1.6h-1.6zM268.3 291.2h1.6v1.6h-1.6zM314.8 264.7h1.6v1.6h-1.6zM296.5 298.1h1.6v1.6h-1.6zM285.6 286.5h1.6v1.6h-1.6zM289.1 267.5h1.6v1.6h-1.6zM266.1 297.0h1.6v1.6h-1.6zM272.6 284.7h1.6v1.6h-1.6zM304.2 250.6h1.6v1.6h-1.6zM264.6 303.5h1.6v1.6h-1.6zM306.2 266.3h1.6v1.6h-1.6zM274.2 282.6h1.6v1.6h-1.6zM289.3 278.1h1.6v1.6h-1.6zM272.5 294.8h1.6v1.6h-1.6zM281.6 272.9h1.6v1.6h-1.6zM265.9 302.2h1.6v1.6h-1.6zM295.7 251.8h1.6v1.6h-1.6zM273.0 293.6h1.6v1.6h-1.6zM279.8 287.9h1.6v1.6h-1.6zM275.8 295.9h1.6v1.6h-1.6zM269.2 294.0h1.6v1.6h-1.6zM285.9 263.7h1.6v1.6h-1.6zM304.9 271.5h1.6v1.6h-1.6zM272.0 297.8h1.6v1.6h-1.6zM284.1 290.0h1.6v1.6h-1.6zM285.0 298.7h1.6v1.6h-1.6zM326.1 257.0h1.6v1.6h-1.6zM268.5 302.5h1.6v1.6h-1.6zM290.3 277.9h1.6v1.6h-1.6zM312.8 264.5h1.6v1.6h-1.6zM287.7 258.8h1.6v1.6h-1.6zM278.6 280.3h1.6v1.6h-1.6zM292.9 270.5h1.6v1.6h-1.6zM296.6 259.2h1.6v1.6h-1.6zM304.7 270.6h1.6v1.6h-1.6zM270.3 285.9h1.6v1.6h-1.6zM296.3 264.7h1.6v1.6h-1.6zM278.1 277.4h1.6v1.6h-1.6zM261.2 303.3h1.6v1.6h-1.6zM295.1 269.1h1.6v1.6h-1.6zM281.2 267.4h1.6v1.6h-1.6zM286.0 268.0h1.6v1.6h-1.6zM281.5 297.5h1.6v1.6h-1.6zM290.0 262.6h1.6v1.6h-1.6zM284.0 281.2h1.6v1.6h-1.6zM297.5 250.3h1.6v1.6h-1.6zM311.5 254.1h1.6v1.6h-1.6zM299.6 265.7h1.6v1.6h-1.6zM291.7 282.8h1.6v1.6h-1.6zM279.6 283.6h1.6v1.6h-1.6zM284.6 291.2h1.6v1.6h-1.6zM294.1 289.5h1.6v1.6h-1.6zM270.3 300.5h1.6v1.6h-1.6zM280.0 278.6h1.6v1.6h-1.6zM300.2 264.6h1.6v1.6h-1.6zM269.1 289.5h1.6v1.6h-1.6zM276.9 292.5h1.6v1.6h-1.6zM297.2 258.1h1.6v1.6h-1.6zM283.9 277.2h1.6v1.6h-1.6zM330.5 243.3h1.6v1.6h-1.6zM279.9 273.2h1.6v1.6h-1.6zM279.0 298.8h1.6v1.6h-1.6zM299.6 276.8h1.6v1.6h-1.6zM269.6 296.0h1.6v1.6h-1.6zM329.8 245.8h1.6v1.6h-1.6zM279.1 293.4h1.6v1.6h-1.6zM291.2 272.1h1.6v1.6h-1.6zM315.9 272.7h1.6v1.6h-1.6zM277.3 282.1h1.6v1.6h-1.6zM341.6 263.8h1.6v1.6h-1.6zM272.5 297.1h1.6v1.6h-1.6zM292.2 267.1h1.6v1.6h-1.6zM281.9 291.3h1.6v1.6h-1.6zM275.0 297.2h1.6v1.6h-1.6zM306.1 283.3h1.6v1.6h-1.6zM289.1 273.9h1.6v1.6h-1.6zM281.1 266.6h1.6v1.6h-1.6zM338.7 256.3h1.6v1.6h-1.6zM290.1 279.9h1.6v1.6h-1.6zM300.7 274.8h1.6v1.6h-1.6zM289.0 280.5h1.6v1.6h-1.6zM276.1 293.2h1.6v1.6h-1.6zM268.3 295.3h1.6v1.6h-1.6zM307.0 271.8h1.6v1.6h-1.6zM308.9 288.6h1.6v1.6h-1.6zM290.4 290.1h1.6v1.6h-1.6zM285.5 259.5h1.6v1.6h-1.6zM273.3 282.3h1.6v1.6h-1.6zM267.3 294.6h1.6v1.6h-1.6zM264.9 302.3h1.6v1.6h-1.6zM287.1 274.2h1.6v1.6h-1.6zM276.8 293.2h1.6v1.6h-1.6zM293.5 257.0h1.6v1.6h-1.6zM272.2 294.4h1.6v1.6h-1.6zM283.7 280.3h1.6v1.6h-1.6zM334.7 233.1h1.6v1.6h-1.6zM294.1 266.6h1.6v1.6h-1.6zM292.9 272.5h1.6v1.6h-1.6zM271.8 299.3h1.6v1.6h-1.6zM269.3 302.3h1.6v1.6h-1.6zM264.5 300.0h1.6v1.6h-1.6zM300.7 258.6h1.6v1.6h-1.6zM282.3 298.0h1.6v1.6h-1.6zM293.5 273.7h1.6v1.6h-1.6zM264.3 301.7h1.6v1.6h-1.6zM305.9 259.8h1.6v1.6h-1.6zM284.6 268.7h1.6v1.6h-1.6zM294.2 263.5h1.6v1.6h-1.6zM327.7 242.2h1.6v1.6h-1.6zM290.0 276.2h1.6v1.6h-1.6zM336.4 260.2h1.6v1.6h-1.6zM306.7 225.1h1.6v1.6h-1.6zM274.7 301.2h1.6v1.6h-1.6zM285.7 270.5h1.6v1.6h-1.6zM278.7 279.8h1.6v1.6h-1.6zM268.8 295.4h1.6v1.6h-1.6zM311.6 274.6h1.6v1.6h-1.6zM279.2 275.6h1.6v1.6h-1.6zM262.4 302.6h1.6v1.6h-1.6zM330.7 237.7h1.6v1.6h-1.6zM273.6 282.0h1.6v1.6h-1.6zM265.9 301.0h1.6v1.6h-1.6zM340.1 266.8h1.6v1.6h-1.6zM292.4 260.9h1.6v1.6h-1.6zM271.9 290.1h1.6v1.6h-1.6zM288.5 273.1h1.6v1.6h-1.6zM305.4 243.3h1.6v1.6h-1.6zM273.1 294.5h1.6v1.6h-1.6zM278.8 289.1h1.6v1.6h-1.6zM288.8 274.9h1.6v1.6h-1.6zM286.3 287.2h1.6v1.6h-1.6zM300.7 230.2h1.6v1.6h-1.6zM284.7 267.8h1.6v1.6h-1.6zM282.8 287.4h1.6v1.6h-1.6zM278.6 273.0h1.6v1.6h-1.6zM274.8 291.8h1.6v1.6h-1.6zM269.1 291.5h1.6v1.6h-1.6zM285.9 284.8h1.6v1.6h-1.6zM266.0 298.7h1.6v1.6h-1.6zM274.1 278.9h1.6v1.6h-1.6zM297.9 251.8h1.6v1.6h-1.6zM279.5 285.0h1.6v1.6h-1.6zM273.2 284.3h1.6v1.6h-1.6zM299.5 255.3h1.6v1.6h-1.6zM273.6 298.4h1.6v1.6h-1.6zM299.5 285.8h1.6v1.6h-1.6zM321.2 266.0h1.6v1.6h-1.6zM289.3 282.6h1.6v1.6h-1.6zM267.4 291.8h1.6v1.6h-1.6zM280.2 289.9h1.6v1.6h-1.6zM270.3 297.3h1.6v1.6h-1.6zM282.7 275.0h1.6v1.6h-1.6zM306.2 263.5h1.6v1.6h-1.6zM278.4 271.4h1.6v1.6h-1.6zM265.7 302.7h1.6v1.6h-1.6zM297.5 270.2h1.6v1.6h-1.6zM321.5 248.2h1.6v1.6h-1.6zM308.4 282.0h1.6v1.6h-1.6zM279.3 273.0h1.6v1.6h-1.6zM293.9 256.7h1.6v1.6h-1.6zM283.6 268.5h1.6v1.6h-1.6zM317.5 261.8h1.6v1.6h-1.6zM307.0 244.7h1.6v1.6h-1.6zM262.3 303.1h1.6v1.6h-1.6zM301.0 260.3h1.6v1.6h-1.6zM283.3 282.6h1.6v1.6h-1.6zM263.6 304.0h1.6v1.6h-1.6zM332.3 237.1h1.6v1.6h-1.6zM273.1 299.1h1.6v1.6h-1.6zM280.3 277.8h1.6v1.6h-1.6zM273.1 278.4h1.6v1.6h-1.6zM265.4 302.8h1.6v1.6h-1.6zM304.0 244.5h1.6v1.6h-1.6zM327.2 222.3h1.6v1.6h-1.6zM277.5 283.1h1.6v1.6h-1.6zM282.6 263.6h1.6v1.6h-1.6zM276.9 279.9h1.6v1.6h-1.6zM330.4 262.0h1.6v1.6h-1.6zM276.2 287.5h1.6v1.6h-1.6zM311.1 281.1h1.6v1.6h-1.6zM339.7 246.9h1.6v1.6h-1.6zM282.7 282.1h1.6v1.6h-1.6zM284.6 265.4h1.6v1.6h-1.6zM294.3 251.4h1.6v1.6h-1.6zM282.7 263.1h1.6v1.6h-1.6zM269.2 296.8h1.6v1.6h-1.6zM272.6 297.5h1.6v1.6h-1.6zM278.9 270.6h1.6v1.6h-1.6zM293.0 274.6h1.6v1.6h-1.6zM304.3 250.0h1.6v1.6h-1.6zM272.5 290.7h1.6v1.6h-1.6zM273.7 288.0h1.6v1.6h-1.6zM280.1 281.8h1.6v1.6h-1.6zM274.1 292.6h1.6v1.6h-1.6zM287.7 271.2h1.6v1.6h-1.6zM269.6 300.7h1.6v1.6h-1.6zM288.0 273.1h1.6v1.6h-1.6zM282.0 287.2h1.6v1.6h-1.6zM315.4 260.8h1.6v1.6h-1.6zM278.8 266.4h1.6v1.6h-1.6zM316.0 268.8h1.6v1.6h-1.6zM262.5 302.7h1.6v1.6h-1.6zM280.6 282.4h1.6v1.6h-1.6zM270.0 290.9h1.6v1.6h-1.6zM278.1 284.6h1.6v1.6h-1.6zM295.3 269.9h1.6v1.6h-1.6zM311.8 268.4h1.6v1.6h-1.6zM287.7 269.7h1.6v1.6h-1.6zM289.0 271.2h1.6v1.6h-1.6zM260.2 303.0h1.6v1.6h-1.6zM288.9 280.1h1.6v1.6h-1.6zM320.9 247.1h1.6v1.6h-1.6zM277.4 283.6h1.6v1.6h-1.6zM305.9 285.9h1.6v1.6h-1.6zM294.0 262.2h1.6v1.6h-1.6zM268.9 290.1h1.6v1.6h-1.6zM266.9 296.3h1.6v1.6h-1.6zM319.2 250.8h1.6v1.6h-1.6zM265.2 298.1h1.6v1.6h-1.6zM273.6 295.3h1.6v1.6h-1.6zM302.2 252.9h1.6v1.6h-1.6zM286.8 274.8h1.6v1.6h-1.6zM291.4 281.7h1.6v1.6h-1.6zM264.1 300.6h1.6v1.6h-1.6zM292.7 255.2h1.6v1.6h-1.6zM292.3 287.2h1.6v1.6h-1.6zM262.1 300.9h1.6v1.6h-1.6zM286.9 281.8h1.6v1.6h-1.6zM293.9 262.9h1.6v1.6h-1.6zM273.3 288.6h1.6v1.6h-1.6zM274.1 293.6h1.6v1.6h-1.6zM268.4 296.9h1.6v1.6h-1.6zM278.3 297.5h1.6v1.6h-1.6zM281.9 278.8h1.6v1.6h-1.6zM302.5 281.8h1.6v1.6h-1.6zM284.3 260.9h1.6v1.6h-1.6zM285.1 270.8h1.6v1.6h-1.6zM275.0 282.1h1.6v1.6h-1.6zM292.7 287.5h1.6v1.6h-1.6zM267.7 291.3h1.6v1.6h-1.6zM283.6 288.0h1.6v1.6h-1.6zM276.7 281.6h1.6v1.6h-1.6zM279.0 293.5h1.6v1.6h-1.6zM281.5 286.8h1.6v1.6h-1.6zM279.9 286.5h1.6v1.6h-1.6zM282.2 291.2h1.6v1.6h-1.6zM284.9 281.6h1.6v1.6h-1.6zM286.8 270.6h1.6v1.6h-1.6zM292.0 273.1h1.6v1.6h-1.6zM294.0 271.5h1.6v1.6h-1.6zM300.1 283.0h1.6v1.6h-1.6zM290.1 264.5h1.6v1.6h-1.6zM305.4 280.1h1.6v1.6h-1.6zM311.8 264.4h1.6v1.6h-1.6zM286.9 271.1h1.6v1.6h-1.6zM305.6 249.3h1.6v1.6h-1.6zM299.6 275.6h1.6v1.6h-1.6zM278.9 267.5h1.6v1.6h-1.6zM283.6 288.8h1.6v1.6h-1.6zM295.1 286.9h1.6v1.6h-1.6zM285.3 265.0h1.6v1.6h-1.6zM272.0 296.2h1.6v1.6h-1.6zM324.7 270.2h1.6v1.6h-1.6zM279.9 281.6h1.6v1.6h-1.6zM275.6 283.3h1.6v1.6h-1.6zM325.9 252.0h1.6v1.6h-1.6zM263.8 299.7h1.6v1.6h-1.6zM283.2 283.1h1.6v1.6h-1.6zM276.0 299.7h1.6v1.6h-1.6zM334.8 251.7h1.6v1.6h-1.6zM283.7 283.8h1.6v1.6h-1.6zM268.7 294.9h1.6v1.6h-1.6zM275.5 292.1h1.6v1.6h-1.6zM271.6 297.9h1.6v1.6h-1.6zM313.4 263.8h1.6v1.6h-1.6zM281.2 281.1h1.6v1.6h-1.6zM290.2 286.5h1.6v1.6h-1.6zM285.7 269.5h1.6v1.6h-1.6zM288.2 275.5h1.6v1.6h-1.6zM310.1 284.1h1.6v1.6h-1.6zM284.2 288.2h1.6v1.6h-1.6zM280.0 271.3h1.6v1.6h-1.6zM298.2 243.7h1.6v1.6h-1.6zM280.4 284.1h1.6v1.6h-1.6zM279.2 281.7h1.6v1.6h-1.6zM307.9 272.3h1.6v1.6h-1.6zM286.3 267.6h1.6v1.6h-1.6zM266.4 300.3h1.6v1.6h-1.6zM277.7 291.6h1.6v1.6h-1.6zM279.5 284.5h1.6v1.6h-1.6zM281.1 280.1h1.6v1.6h-1.6zM283.6 284.4h1.6v1.6h-1.6zM298.5 264.8h1.6v1.6h-1.6zM266.4 298.1h1.6v1.6h-1.6zM310.9 249.5h1.6v1.6h-1.6zM283.5 269.5h1.6v1.6h-1.6zM270.7 300.6h1.6v1.6h-1.6zM319.3 278.2h1.6v1.6h-1.6zM282.3 280.9h1.6v1.6h-1.6zM284.5 295.0h1.6v1.6h-1.6zM281.9 274.7h1.6v1.6h-1.6zM294.9 267.5h1.6v1.6h-1.6zM327.0 271.2h1.6v1.6h-1.6zM263.2 302.0h1.6v1.6h-1.6zM294.2 278.2h1.6v1.6h-1.6zM286.2 280.6h1.6v1.6h-1.6zM283.1 275.1h1.6v1.6h-1.6zM268.7 299.1h1.6v1.6h-1.6zM290.2 268.7h1.6v1.6h-1.6zM274.9 288.8h1.6v1.6h-1.6zM300.8 277.3h1.6v1.6h-1.6zM299.3 283.3h1.6v1.6h-1.6zM281.4 272.3h1.6v1.6h-1.6zM297.7 283.1h1.6v1.6h-1.6zM271.0 298.8h1.6v1.6h-1.6zM290.9 277.3h1.6v1.6h-1.6zM285.9 288.1h1.6v1.6h-1.6zM288.2 268.2h1.6v1.6h-1.6zM303.9 262.6h1.6v1.6h-1.6zM281.1 263.5h1.6v1.6h-1.6zM277.8 270.6h1.6v1.6h-1.6zM298.5 245.8h1.6v1.6h-1.6zM307.2 235.4h1.6v1.6h-1.6zM279.5 274.7h1.6v1.6h-1.6zM268.2 298.8h1.6v1.6h-1.6zM277.7 277.3h1.6v1.6h-1.6zM286.6 261.1h1.6v1.6h-1.6zM278.6 298.6h1.6v1.6h-1.6zM272.1 281.1h1.6v1.6h-1.6zM297.8 277.8h1.6v1.6h-1.6zM274.2 279.3h1.6v1.6h-1.6zM307.3 279.0h1.6v1.6h-1.6zM275.0 287.1h1.6v1.6h-1.6zM295.6 264.8h1.6v1.6h-1.6zM283.3 271.0h1.6v1.6h-1.6zM296.6 275.9h1.6v1.6h-1.6zM263.2 298.7h1.6v1.6h-1.6zM290.1 261.5h1.6v1.6h-1.6zM290.3 285.6h1.6v1.6h-1.6zM267.2 293.4h1.6v1.6h-1.6zM291.4 277.5h1.6v1.6h-1.6zM283.7 286.9h1.6v1.6h-1.6zM318.9 265.3h1.6v1.6h-1.6zM267.3 300.1h1.6v1.6h-1.6zM285.6 262.8h1.6v1.6h-1.6zM267.8 297.3h1.6v1.6h-1.6zM277.4 292.9h1.6v1.6h-1.6zM288.3 270.8h1.6v1.6h-1.6zM259.1 303.4h1.6v1.6h-1.6zM293.7 283.2h1.6v1.6h-1.6zM295.2 292.3h1.6v1.6h-1.6zM311.8 253.3h1.6v1.6h-1.6zM282.8 283.4h1.6v1.6h-1.6zM283.8 276.5h1.6v1.6h-1.6zM299.1 266.6h1.6v1.6h-1.6zM285.9 279.5h1.6v1.6h-1.6zM274.4 296.7h1.6v1.6h-1.6zM289.5 272.0h1.6v1.6h-1.6zM297.8 271.0h1.6v1.6h-1.6zM302.2 241.4h1.6v1.6h-1.6zM309.9 251.7h1.6v1.6h-1.6zM266.5 295.8h1.6v1.6h-1.6zM273.4 289.6h1.6v1.6h-1.6zM284.8 270.2h1.6v1.6h-1.6zM263.4 303.7h1.6v1.6h-1.6zM282.9 275.8h1.6v1.6h-1.6zM279.1 292.9h1.6v1.6h-1.6zM295.8 260.7h1.6v1.6h-1.6zM288.1 285.8h1.6v1.6h-1.6zM314.0 265.8h1.6v1.6h-1.6zM313.1 256.6h1.6v1.6h-1.6zM275.4 299.2h1.6v1.6h-1.6zM324.1 251.8h1.6v1.6h-1.6zM274.3 274.0h1.6v1.6h-1.6zM285.0 284.6h1.6v1.6h-1.6zM289.5 261.4h1.6v1.6h-1.6zM325.5 233.5h1.6v1.6h-1.6zM277.6 286.3h1.6v1.6h-1.6zM288.4 261.9h1.6v1.6h-1.6zM274.9 298.3h1.6v1.6h-1.6zM308.4 285.0h1.6v1.6h-1.6zM298.3 264.2h1.6v1.6h-1.6zM283.4 266.3h1.6v1.6h-1.6zM287.6 276.0h1.6v1.6h-1.6zM272.7 286.4h1.6v1.6h-1.6zM281.0 275.1h1.6v1.6h-1.6zM272.4 291.5h1.6v1.6h-1.6zM336.2 255.0h1.6v1.6h-1.6zM283.1 273.8h1.6v1.6h-1.6zM288.1 277.2h1.6v1.6h-1.6zM323.2 283.6h1.6v1.6h-1.6zM272.4 293.4h1.6v1.6h-1.6zM278.0 287.0h1.6v1.6h-1.6zM287.4 259.5h1.6v1.6h-1.6zM280.9 263.1h1.6v1.6h-1.6zM283.5 267.6h1.6v1.6h-1.6zM296.3 275.0h1.6v1.6h-1.6zM290.0 275.9h1.6v1.6h-1.6zM268.6 292.3h1.6v1.6h-1.6zM299.2 253.0h1.6v1.6h-1.6zM272.1 280.8h1.6v1.6h-1.6zM281.8 263.5h1.6v1.6h-1.6zM271.8 283.9h1.6v1.6h-1.6zM266.9 291.9h1.6v1.6h-1.6zM274.3 299.7h1.6v1.6h-1.6zM288.1 286.7h1.6v1.6h-1.6zM272.9 292.2h1.6v1.6h-1.6zM297.7 274.2h1.6v1.6h-1.6zM267.6 295.3h1.6v1.6h-1.6zM270.8 291.3h1.6v1.6h-1.6zM277.0 297.7h1.6v1.6h-1.6zM322.9 260.9h1.6v1.6h-1.6zM291.4 290.0h1.6v1.6h-1.6zM276.4 270.0h1.6v1.6h-1.6zM267.1 299.4h1.6v1.6h-1.6zM295.2 278.8h1.6v1.6h-1.6zM274.9 298.5h1.6v1.6h-1.6zM274.2 290.4h1.6v1.6h-1.6zM309.5 277.7h1.6v1.6h-1.6zM267.1 298.5h1.6v1.6h-1.6zM283.7 289.3h1.6v1.6h-1.6zM276.9 280.7h1.6v1.6h-1.6zM287.6 255.3h1.6v1.6h-1.6zM279.3 268.9h1.6v1.6h-1.6zM294.4 269.3h1.6v1.6h-1.6zM291.7 275.5h1.6v1.6h-1.6zM298.2 282.7h1.6v1.6h-1.6zM280.4 296.8h1.6v1.6h-1.6zM290.2 280.7h1.6v1.6h-1.6zM290.2 250.9h1.6v1.6h-1.6zM299.5 282.9h1.6v1.6h-1.6zM275.7 285.2h1.6v1.6h-1.6zM301.2 251.1h1.6v1.6h-1.6zM269.8 293.4h1.6v1.6h-1.6zM300.3 253.9h1.6v1.6h-1.6zM332.0 257.1h1.6v1.6h-1.6zM271.7 298.4h1.6v1.6h-1.6zM291.6 287.5h1.6v1.6h-1.6zM286.0 289.5h1.6v1.6h-1.6zM312.7 281.2h1.6v1.6h-1.6zM275.2 288.7h1.6v1.6h-1.6zM314.4 275.4h1.6v1.6h-1.6zM297.4 277.7h1.6v1.6h-1.6zM289.8 284.1h1.6v1.6h-1.6zM274.3 294.7h1.6v1.6h-1.6zM272.0 289.9h1.6v1.6h-1.6zM283.4 272.3h1.6v1.6h-1.6zM292.4 290.6h1.6v1.6h-1.6zM282.1 272.6h1.6v1.6h-1.6zM272.8 282.9h1.6v1.6h-1.6zM283.6 260.7h1.6v1.6h-1.6zM301.6 277.7h1.6v1.6h-1.6zM300.7 264.6h1.6v1.6h-1.6zM266.3 297.9h1.6v1.6h-1.6zM288.7 288.1h1.6v1.6h-1.6zM273.9 296.9h1.6v1.6h-1.6zM263.6 300.2h1.6v1.6h-1.6zM282.1 273.6h1.6v1.6h-1.6zM284.5 288.7h1.6v1.6h-1.6zM303.5 288.4h1.6v1.6h-1.6zM293.3 263.6h1.6v1.6h-1.6zM276.5 296.1h1.6v1.6h-1.6zM261.0 303.7h1.6v1.6h-1.6zM264.8 297.5h1.6v1.6h-1.6zM295.9 271.0h1.6v1.6h-1.6zM303.5 281.6h1.6v1.6h-1.6zM307.5 254.0h1.6v1.6h-1.6zM311.5 259.4h1.6v1.6h-1.6zM265.4 302.4h1.6v1.6h-1.6zM294.9 252.4h1.6v1.6h-1.6zM276.7 270.7h1.6v1.6h-1.6zM277.0 286.4h1.6v1.6h-1.6zM269.9 286.2h1.6v1.6h-1.6zM271.7 291.8h1.6v1.6h-1.6zM284.8 278.2h1.6v1.6h-1.6zM292.3 274.2h1.6v1.6h-1.6zM281.3 273.7h1.6v1.6h-1.6zM283.5 277.9h1.6v1.6h-1.6zM278.9 292.3h1.6v1.6h-1.6zM288.6 274.2h1.6v1.6h-1.6zM292.5 289.5h1.6v1.6h-1.6zM306.1 276.5h1.6v1.6h-1.6zM285.9 276.1h1.6v1.6h-1.6zM267.9 298.3h1.6v1.6h-1.6zM287.7 264.2h1.6v1.6h-1.6zM324.7 265.2h1.6v1.6h-1.6zM282.7 281.5h1.6v1.6h-1.6zM274.5 294.9h1.6v1.6h-1.6zM285.9 291.4h1.6v1.6h-1.6zM279.1 299.1h1.6v1.6h-1.6zM295.0 270.3h1.6v1.6h-1.6zM294.6 249.5h1.6v1.6h-1.6zM282.6 300.3h1.6v1.6h-1.6zM265.1 301.9h1.6v1.6h-1.6zM292.8 287.3h1.6v1.6h-1.6zM306.9 244.9h1.6v1.6h-1.6zM273.3 296.9h1.6v1.6h-1.6zM268.4 297.0h1.6v1.6h-1.6zM289.3 280.3h1.6v1.6h-1.6zM263.3 300.6h1.6v1.6h-1.6zM273.2 301.2h1.6v1.6h-1.6zM292.8 284.5h1.6v1.6h-1.6zM302.9 251.4h1.6v1.6h-1.6zM270.5 296.1h1.6v1.6h-1.6zM267.1 296.2h1.6v1.6h-1.6zM264.7 301.4h1.6v1.6h-1.6zM277.2 279.6h1.6v1.6h-1.6zM270.3 298.6h1.6v1.6h-1.6zM305.1 257.4h1.6v1.6h-1.6zM299.2 280.6h1.6v1.6h-1.6zM280.0 266.4h1.6v1.6h-1.6zM267.2 299.9h1.6v1.6h-1.6zM296.9 265.5h1.6v1.6h-1.6zM275.9 288.5h1.6v1.6h-1.6zM270.0 291.9h1.6v1.6h-1.6zM294.2 260.7h1.6v1.6h-1.6zM287.9 287.0h1.6v1.6h-1.6zM285.2 293.5h1.6v1.6h-1.6zM284.2 279.5h1.6v1.6h-1.6zM283.6 295.5h1.6v1.6h-1.6zM274.3 292.0h1.6v1.6h-1.6zM264.3 299.9h1.6v1.6h-1.6zM260.9 303.4h1.6v1.6h-1.6zM321.6 265.0h1.6v1.6h-1.6zM286.4 258.8h1.6v1.6h-1.6zM280.0 293.8h1.6v1.6h-1.6zM316.7 269.1h1.6v1.6h-1.6zM290.7 288.5h1.6v1.6h-1.6zM272.7 291.1h1.6v1.6h-1.6zM277.2 291.9h1.6v1.6h-1.6zM276.8 290.9h1.6v1.6h-1.6zM286.9 265.0h1.6v1.6h-1.6zM286.0 287.8h1.6v1.6h-1.6zM300.2 288.3h1.6v1.6h-1.6zM280.3 285.3h1.6v1.6h-1.6zM301.0 270.0h1.6v1.6h-1.6zM274.2 284.2h1.6v1.6h-1.6zM308.3 269.1h1.6v1.6h-1.6zM294.4 265.7h1.6v1.6h-1.6zM272.2 299.0h1.6v1.6h-1.6zM275.1 290.4h1.6v1.6h-1.6zM276.4 273.0h1.6v1.6h-1.6zM307.1 275.5h1.6v1.6h-1.6zM282.3 276.6h1.6v1.6h-1.6zM266.3 293.5h1.6v1.6h-1.6zM274.1 297.9h1.6v1.6h-1.6zM281.4 290.0h1.6v1.6h-1.6zM292.2 250.0h1.6v1.6h-1.6zM293.1 256.2h1.6v1.6h-1.6zM295.4 263.9h1.6v1.6h-1.6zM323.0 266.6h1.6v1.6h-1.6zM290.6 257.9h1.6v1.6h-1.6zM272.2 284.2h1.6v1.6h-1.6zM288.0 267.7h1.6v1.6h-1.6zM300.7 253.0h1.6v1.6h-1.6zM269.0 291.2h1.6v1.6h-1.6zM273.7 297.6h1.6v1.6h-1.6zM306.6 269.0h1.6v1.6h-1.6zM293.0 266.4h1.6v1.6h-1.6zM277.8 289.1h1.6v1.6h-1.6zM290.3 255.6h1.6v1.6h-1.6zM291.2 260.6h1.6v1.6h-1.6zM303.2 254.7h1.6v1.6h-1.6zM305.3 264.3h1.6v1.6h-1.6zM298.3 265.7h1.6v1.6h-1.6zM267.5 294.6h1.6v1.6h-1.6zM293.6 279.0h1.6v1.6h-1.6zM266.1 299.2h1.6v1.6h-1.6zM295.0 261.3h1.6v1.6h-1.6zM281.1 298.2h1.6v1.6h-1.6zM279.6 276.0h1.6v1.6h-1.6zM277.5 272.5h1.6v1.6h-1.6zM291.0 282.6h1.6v1.6h-1.6zM277.3 284.1h1.6v1.6h-1.6zM277.8 274.3h1.6v1.6h-1.6zM337.2 247.3h1.6v1.6h-1.6zM285.2 278.4h1.6v1.6h-1.6zM287.7 285.3h1.6v1.6h-1.6zM284.9 294.3h1.6v1.6h-1.6zM309.5 278.0h1.6v1.6h-1.6zM271.4 297.5h1.6v1.6h-1.6zM292.8 273.1h1.6v1.6h-1.6zM266.7 301.4h1.6v1.6h-1.6zM295.7 273.4h1.6v1.6h-1.6zM303.4 259.8h1.6v1.6h-1.6zM274.8 289.4h1.6v1.6h-1.6zM265.2 295.6h1.6v1.6h-1.6zM298.7 275.8h1.6v1.6h-1.6zM305.0 263.0h1.6v1.6h-1.6zM281.9 283.9h1.6v1.6h-1.6zM276.9 274.3h1.6v1.6h-1.6zM290.9 280.8h1.6v1.6h-1.6zM308.4 277.8h1.6v1.6h-1.6zM334.5 267.3h1.6v1.6h-1.6zM274.4 287.5h1.6v1.6h-1.6zM284.6 287.4h1.6v1.6h-1.6zM277.8 287.6h1.6v1.6h-1.6zM286.9 290.2h1.6v1.6h-1.6zM302.5 255.1h1.6v1.6h-1.6zM276.3 274.4h1.6v1.6h-1.6zM283.7 290.0h1.6v1.6h-1.6zM316.2 265.3h1.6v1.6h-1.6zM271.7 288.1h1.6v1.6h-1.6zM295.3 280.4h1.6v1.6h-1.6zM284.4 286.4h1.6v1.6h-1.6zM285.6 269.3h1.6v1.6h-1.6zM288.1 259.0h1.6v1.6h-1.6zM268.1 289.7h1.6v1.6h-1.6zM277.1 297.1h1.6v1.6h-1.6zM285.0 294.0h1.6v1.6h-1.6zM284.4 275.3h1.6v1.6h-1.6zM317.9 268.8h1.6v1.6h-1.6zM278.0 286.4h1.6v1.6h-1.6zM289.3 269.5h1.6v1.6h-1.6zM307.2 273.3h1.6v1.6h-1.6zM298.9 280.4h1.6v1.6h-1.6zM338.3 253.9h1.6v1.6h-1.6zM323.5 262.5h1.6v1.6h-1.6zM287.1 263.8h1.6v1.6h-1.6zM307.7 239.0h1.6v1.6h-1.6zM305.1 253.9h1.6v1.6h-1.6zM306.3 261.6h1.6v1.6h-1.6zM273.5 300.1h1.6v1.6h-1.6zM295.8 275.7h1.6v1.6h-1.6zM315.8 261.6h1.6v1.6h-1.6zM308.4 264.5h1.6v1.6h-1.6zM268.4 288.3h1.6v1.6h-1.6zM271.0 290.8h1.6v1.6h-1.6zM280.9 273.2h1.6v1.6h-1.6zM310.7 262.9h1.6v1.6h-1.6zM276.4 294.0h1.6v1.6h-1.6zM300.4 263.2h1.6v1.6h-1.6zM279.3 290.5h1.6v1.6h-1.6zM268.6 296.3h1.6v1.6h-1.6zM309.7 248.2h1.6v1.6h-1.6zM267.6 295.8h1.6v1.6h-1.6zM338.2 262.3h1.6v1.6h-1.6zM262.8 300.4h1.6v1.6h-1.6zM270.3 303.4h1.6v1.6h-1.6zM293.1 284.7h1.6v1.6h-1.6zM334.0 264.5h1.6v1.6h-1.6zM280.0 281.3h1.6v1.6h-1.6zM292.0 285.1h1.6v1.6h-1.6zM295.3 253.1h1.6v1.6h-1.6zM281.9 288.0h1.6v1.6h-1.6zM307.8 274.5h1.6v1.6h-1.6zM308.4 268.8h1.6v1.6h-1.6zM295.7 246.9h1.6v1.6h-1.6zM263.2 298.3h1.6v1.6h-1.6zM317.4 254.6h1.6v1.6h-1.6zM274.8 284.2h1.6v1.6h-1.6zM317.4 239.6h1.6v1.6h-1.6zM304.6 257.9h1.6v1.6h-1.6zM280.5 284.8h1.6v1.6h-1.6zM304.2 266.2h1.6v1.6h-1.6zM277.7 273.9h1.6v1.6h-1.6zM296.1 268.2h1.6v1.6h-1.6zM284.2 296.7h1.6v1.6h-1.6zM274.2 280.6h1.6v1.6h-1.6zM301.9 257.1h1.6v1.6h-1.6zM284.7 289.1h1.6v1.6h-1.6zM296.5 268.2h1.6v1.6h-1.6zM292.5 278.1h1.6v1.6h-1.6zM317.6 277.5h1.6v1.6h-1.6zM290.9 263.9h1.6v1.6h-1.6zM293.2 282.8h1.6v1.6h-1.6zM290.3 276.7h1.6v1.6h-1.6zM297.5 273.3h1.6v1.6h-1.6zM271.3 290.4h1.6v1.6h-1.6zM275.3 283.3h1.6v1.6h-1.6zM291.0 294.2h1.6v1.6h-1.6zM294.1 259.9h1.6v1.6h-1.6zM289.3 291.4h1.6v1.6h-1.6zM277.6 297.0h1.6v1.6h-1.6zM297.3 279.2h1.6v1.6h-1.6zM299.4 270.5h1.6v1.6h-1.6zM285.3 273.3h1.6v1.6h-1.6zM284.2 285.3h1.6v1.6h-1.6zM296.8 236.6h1.6v1.6h-1.6zM269.2 299.0h1.6v1.6h-1.6zM301.3 270.5h1.6v1.6h-1.6zM271.4 300.1h1.6v1.6h-1.6zM292.8 258.4h1.6v1.6h-1.6zM261.6 301.5h1.6v1.6h-1.6zM274.3 300.7h1.6v1.6h-1.6zM291.9 263.6h1.6v1.6h-1.6zM273.9 285.2h1.6v1.6h-1.6zM321.5 264.3h1.6v1.6h-1.6zM296.0 278.9h1.6v1.6h-1.6zM288.1 268.8h1.6v1.6h-1.6zM279.4 299.8h1.6v1.6h-1.6zM294.1 276.9h1.6v1.6h-1.6zM278.3 266.6h1.6v1.6h-1.6zM280.8 264.5h1.6v1.6h-1.6zM290.5 260.8h1.6v1.6h-1.6zM309.0 264.6h1.6v1.6h-1.6zM270.5 287.2h1.6v1.6h-1.6zM301.7 277.2h1.6v1.6h-1.6zM281.3 280.5h1.6v1.6h-1.6zM279.4 276.6h1.6v1.6h-1.6zM290.8 278.2h1.6v1.6h-1.6zM278.9 276.2h1.6v1.6h-1.6zM263.5 303.3h1.6v1.6h-1.6zM285.2 270.0h1.6v1.6h-1.6zM289.0 281.3h1.6v1.6h-1.6zM285.0 267.6h1.6v1.6h-1.6zM276.4 291.6h1.6v1.6h-1.6zM279.1 283.8h1.6v1.6h-1.6zM275.0 296.1h1.6v1.6h-1.6zM282.3 279.5h1.6v1.6h-1.6zM280.2 273.8h1.6v1.6h-1.6zM281.3 267.5h1.6v1.6h-1.6zM267.6 300.1h1.6v1.6h-1.6zM308.4 288.1h1.6v1.6h-1.6zM300.6 241.1h1.6v1.6h-1.6zM290.3 266.9h1.6v1.6h-1.6zM310.4 257.0h1.6v1.6h-1.6zM272.9 284.1h1.6v1.6h-1.6zM326.2 261.1h1.6v1.6h-1.6zM302.9 262.6h1.6v1.6h-1.6zM297.5 284.0h1.6v1.6h-1.6zM271.9 295.1h1.6v1.6h-1.6zM286.1 282.7h1.6v1.6h-1.6zM299.1 261.9h1.6v1.6h-1.6zM297.4 272.0h1.6v1.6h-1.6zM291.0 278.7h1.6v1.6h-1.6zM301.6 287.9h1.6v1.6h-1.6zM288.5 259.7h1.6v1.6h-1.6zM279.4 285.3h1.6v1.6h-1.6zM288.8 253.4h1.6v1.6h-1.6zM275.0 285.2h1.6v1.6h-1.6zM290.5 271.2h1.6v1.6h-1.6zM291.0 273.6h1.6v1.6h-1.6zM273.2 287.3h1.6v1.6h-1.6zM279.1 280.4h1.6v1.6h-1.6zM305.2 265.5h1.6v1.6h-1.6zM274.3 295.7h1.6v1.6h-1.6zM295.2 284.7h1.6v1.6h-1.6zM271.5 290.6h1.6v1.6h-1.6zM299.2 290.4h1.6v1.6h-1.6zM284.6 280.7h1.6v1.6h-1.6zM263.8 302.7h1.6v1.6h-1.6zM284.6 263.0h1.6v1.6h-1.6zM278.2 275.7h1.6v1.6h-1.6zM264.3 303.4h1.6v1.6h-1.6zM287.2 261.0h1.6v1.6h-1.6zM280.6 285.2h1.6v1.6h-1.6zM323.7 241.9h1.6v1.6h-1.6zM285.7 260.2h1.6v1.6h-1.6zM286.5 279.9h1.6v1.6h-1.6zM276.5 286.8h1.6v1.6h-1.6zM295.5 284.4h1.6v1.6h-1.6zM279.0 296.7h1.6v1.6h-1.6zM295.5 238.2h1.6v1.6h-1.6zM288.2 294.9h1.6v1.6h-1.6zM276.3 284.3h1.6v1.6h-1.6zM298.2 268.6h1.6v1.6h-1.6zM282.8 283.6h1.6v1.6h-1.6zM269.6 286.9h1.6v1.6h-1.6zM266.7 299.1h1.6v1.6h-1.6zM290.7 267.2h1.6v1.6h-1.6zM268.8 293.5h1.6v1.6h-1.6zM301.5 276.2h1.6v1.6h-1.6zM276.4 279.4h1.6v1.6h-1.6zM281.2 273.2h1.6v1.6h-1.6zM270.8 294.3h1.6v1.6h-1.6zM266.9 298.7h1.6v1.6h-1.6zM294.0 261.5h1.6v1.6h-1.6zM278.5 284.5h1.6v1.6h-1.6zM288.5 272.2h1.6v1.6h-1.6zM279.0 286.9h1.6v1.6h-1.6zM274.1 299.2h1.6v1.6h-1.6zM277.5 272.2h1.6v1.6h-1.6zM305.5 248.5h1.6v1.6h-1.6zM294.2 245.3h1.6v1.6h-1.6zM275.7 291.1h1.6v1.6h-1.6zM322.5 259.1h1.6v1.6h-1.6zM313.9 229.0h1.6v1.6h-1.6zM266.5 293.4h1.6v1.6h-1.6zM273.1 293.4h1.6v1.6h-1.6zM277.4 277.2h1.6v1.6h-1.6zM277.2 288.0h1.6v1.6h-1.6zM276.0 283.1h1.6v1.6h-1.6zM281.4 262.0h1.6v1.6h-1.6zM297.5 276.5h1.6v1.6h-1.6zM298.5 261.9h1.6v1.6h-1.6zM298.5 254.1h1.6v1.6h-1.6zM280.6 292.9h1.6v1.6h-1.6zM267.9 296.5h1.6v1.6h-1.6zM278.4 288.3h1.6v1.6h-1.6zM308.4 274.5h1.6v1.6h-1.6zM271.1 291.7h1.6v1.6h-1.6zM278.3 274.8h1.6v1.6h-1.6zM311.9 290.7h1.6v1.6h-1.6zM273.0 294.2h1.6v1.6h-1.6zM277.9 293.7h1.6v1.6h-1.6zM274.6 287.3h1.6v1.6h-1.6zM283.4 294.3h1.6v1.6h-1.6zM304.5 250.2h1.6v1.6h-1.6zM287.9 254.3h1.6v1.6h-1.6zM310.3 286.1h1.6v1.6h-1.6zM306.0 249.2h1.6v1.6h-1.6zM274.8 278.3h1.6v1.6h-1.6zM309.1 262.4h1.6v1.6h-1.6zM282.6 281.1h1.6v1.6h-1.6zM298.3 281.1h1.6v1.6h-1.6zM286.8 277.5h1.6v1.6h-1.6zM289.5 263.8h1.6v1.6h-1.6zM279.1 272.3h1.6v1.6h-1.6zM302.3 220.1h1.6v1.6h-1.6zM292.2 273.9h1.6v1.6h-1.6zM276.6 290.2h1.6v1.6h-1.6zM302.7 279.3h1.6v1.6h-1.6zM315.6 265.2h1.6v1.6h-1.6zM309.9 252.1h1.6v1.6h-1.6zM290.1 271.7h1.6v1.6h-1.6zM312.5 262.2h1.6v1.6h-1.6zM303.6 269.5h1.6v1.6h-1.6zM290.4 258.8h1.6v1.6h-1.6zM302.2 275.8h1.6v1.6h-1.6zM289.0 272.2h1.6v1.6h-1.6zM290.5 287.3h1.6v1.6h-1.6zM287.7 262.9h1.6v1.6h-1.6zM297.5 264.0h1.6v1.6h-1.6zM295.7 268.3h1.6v1.6h-1.6zM305.0 253.1h1.6v1.6h-1.6zM310.1 269.3h1.6v1.6h-1.6zM325.8 262.8h1.6v1.6h-1.6zM287.6 277.7h1.6v1.6h-1.6zM271.1 297.4h1.6v1.6h-1.6zM291.9 268.6h1.6v1.6h-1.6zM324.1 271.3h1.6v1.6h-1.6zM283.0 268.0h1.6v1.6h-1.6zM332.2 242.6h1.6v1.6h-1.6zM285.8 278.7h1.6v1.6h-1.6zM320.4 238.3h1.6v1.6h-1.6zM337.9 220.7h1.6v1.6h-1.6zM276.7 284.1h1.6v1.6h-1.6zM277.2 274.1h1.6v1.6h-1.6zM279.9 294.1h1.6v1.6h-1.6zM302.9 269.9h1.6v1.6h-1.6zM289.5 264.4h1.6v1.6h-1.6zM279.4 289.0h1.6v1.6h-1.6zM310.9 260.4h1.6v1.6h-1.6zM287.9 259.6h1.6v1.6h-1.6zM293.0 290.5h1.6v1.6h-1.6zM269.3 297.1h1.6v1.6h-1.6zM299.8 262.2h1.6v1.6h-1.6zM266.5 294.0h1.6v1.6h-1.6zM289.3 276.1h1.6v1.6h-1.6zM296.8 254.4h1.6v1.6h-1.6zM284.3 269.2h1.6v1.6h-1.6zM291.3 267.7h1.6v1.6h-1.6zM276.7 291.1h1.6v1.6h-1.6zM298.8 265.4h1.6v1.6h-1.6zM268.9 296.8h1.6v1.6h-1.6zM286.3 271.5h1.6v1.6h-1.6zM286.8 266.0h1.6v1.6h-1.6zM278.9 297.6h1.6v1.6h-1.6zM310.9 242.4h1.6v1.6h-1.6zM322.0 276.0h1.6v1.6h-1.6zM290.1 287.3h1.6v1.6h-1.6zM286.0 266.0h1.6v1.6h-1.6zM278.8 276.8h1.6v1.6h-1.6zM270.5 285.2h1.6v1.6h-1.6zM320.5 248.2h1.6v1.6h-1.6zM311.1 250.7h1.6v1.6h-1.6zM274.9 282.7h1.6v1.6h-1.6zM270.2 293.4h1.6v1.6h-1.6zM306.2 264.9h1.6v1.6h-1.6zM278.6 290.6h1.6v1.6h-1.6zM291.3 275.7h1.6v1.6h-1.6zM293.5 240.7h1.6v1.6h-1.6zM308.5 267.2h1.6v1.6h-1.6zM282.1 292.5h1.6v1.6h-1.6zM317.8 255.3h1.6v1.6h-1.6zM287.9 296.8h1.6v1.6h-1.6zM280.2 280.9h1.6v1.6h-1.6zM270.1 292.7h1.6v1.6h-1.6zM312.9 243.9h1.6v1.6h-1.6zM305.1 268.7h1.6v1.6h-1.6zM291.6 288.3h1.6v1.6h-1.6zM267.5 298.5h1.6v1.6h-1.6zM260.2 302.8h1.6v1.6h-1.6zM272.9 295.7h1.6v1.6h-1.6zM296.9 282.3h1.6v1.6h-1.6zM271.2 301.2h1.6v1.6h-1.6zM296.4 260.2h1.6v1.6h-1.6zM299.2 248.7h1.6v1.6h-1.6zM287.9 254.7h1.6v1.6h-1.6zM273.9 283.6h1.6v1.6h-1.6zM289.1 260.0h1.6v1.6h-1.6zM280.2 269.8h1.6v1.6h-1.6zM282.4 282.6h1.6v1.6h-1.6zM312.4 278.3h1.6v1.6h-1.6zM327.4 216.1h1.6v1.6h-1.6zM320.3 256.0h1.6v1.6h-1.6zM275.6 289.2h1.6v1.6h-1.6zM302.0 270.1h1.6v1.6h-1.6zM287.1 265.3h1.6v1.6h-1.6zM282.5 288.5h1.6v1.6h-1.6zM274.6 281.8h1.6v1.6h-1.6zM288.2 282.3h1.6v1.6h-1.6zM287.0 281.4h1.6v1.6h-1.6zM267.5 292.4h1.6v1.6h-1.6zM270.3 301.2h1.6v1.6h-1.6zM274.2 282.1h1.6v1.6h-1.6zM303.6 238.8h1.6v1.6h-1.6zM274.5 293.2h1.6v1.6h-1.6zM292.9 285.7h1.6v1.6h-1.6zM290.4 280.1h1.6v1.6h-1.6zM298.2 256.9h1.6v1.6h-1.6zM272.0 296.6h1.6v1.6h-1.6zM271.5 294.7h1.6v1.6h-1.6zM264.9 294.9h1.6v1.6h-1.6zM268.9 291.0h1.6v1.6h-1.6zM295.4 250.7h1.6v1.6h-1.6zM263.5 298.0h1.6v1.6h-1.6zM271.1 302.0h1.6v1.6h-1.6zM300.2 261.9h1.6v1.6h-1.6zM273.7 293.7h1.6v1.6h-1.6zM302.4 264.1h1.6v1.6h-1.6zM293.3 293.6h1.6v1.6h-1.6zM272.6 300.8h1.6v1.6h-1.6zM326.3 278.3h1.6v1.6h-1.6zM293.1 244.6h1.6v1.6h-1.6zM279.5 276.9h1.6v1.6h-1.6zM290.4 283.5h1.6v1.6h-1.6zM310.8 255.6h1.6v1.6h-1.6zM290.9 262.5h1.6v1.6h-1.6zM335.9 236.0h1.6v1.6h-1.6zM296.8 263.5h1.6v1.6h-1.6zM294.1 264.4h1.6v1.6h-1.6zM285.9 259.2h1.6v1.6h-1.6zM306.1 274.5h1.6v1.6h-1.6zM266.0 301.6h1.6v1.6h-1.6zM274.4 287.1h1.6v1.6h-1.6zM311.5 246.3h1.6v1.6h-1.6zM279.1 288.9h1.6v1.6h-1.6zM317.9 259.9h1.6v1.6h-1.6zM290.0 290.7h1.6v1.6h-1.6zM269.9 289.2h1.6v1.6h-1.6zM280.3 282.3h1.6v1.6h-1.6zM297.0 274.6h1.6v1.6h-1.6zM274.8 280.5h1.6v1.6h-1.6zM271.4 281.0h1.6v1.6h-1.6zM274.5 291.0h1.6v1.6h-1.6zM289.6 275.0h1.6v1.6h-1.6zM307.9 281.2h1.6v1.6h-1.6zM266.8 300.6h1.6v1.6h-1.6zM305.3 277.2h1.6v1.6h-1.6zM307.9 253.0h1.6v1.6h-1.6zM277.5 277.7h1.6v1.6h-1.6zM267.6 301.8h1.6v1.6h-1.6zM292.8 281.5h1.6v1.6h-1.6zM265.8 298.5h1.6v1.6h-1.6zM322.0 256.4h1.6v1.6h-1.6zM324.6 268.5h1.6v1.6h-1.6zM310.4 280.5h1.6v1.6h-1.6zM279.9 293.3h1.6v1.6h-1.6zM325.6 272.6h1.6v1.6h-1.6zM273.1 295.6h1.6v1.6h-1.6zM296.2 257.6h1.6v1.6h-1.6zM285.4 260.8h1.6v1.6h-1.6zM264.3 298.6h1.6v1.6h-1.6zM333.6 225.2h1.6v1.6h-1.6zM303.0 245.9h1.6v1.6h-1.6zM303.7 283.6h1.6v1.6h-1.6zM272.8 293.6h1.6v1.6h-1.6zM276.8 277.3h1.6v1.6h-1.6zM305.6 263.8h1.6v1.6h-1.6zM270.3 290.4h1.6v1.6h-1.6zM279.0 272.6h1.6v1.6h-1.6zM265.6 300.5h1.6v1.6h-1.6zM270.4 294.4h1.6v1.6h-1.6zM280.7 268.9h1.6v1.6h-1.6zM308.9 281.5h1.6v1.6h-1.6zM286.2 280.2h1.6v1.6h-1.6zM279.2 279.4h1.6v1.6h-1.6zM293.5 279.8h1.6v1.6h-1.6zM274.8 296.4h1.6v1.6h-1.6zM295.7 271.7h1.6v1.6h-1.6zM270.9 300.0h1.6v1.6h-1.6zM278.1 282.5h1.6v1.6h-1.6zM318.7 263.3h1.6v1.6h-1.6zM284.4 288.8h1.6v1.6h-1.6zM318.9 247.7h1.6v1.6h-1.6zM272.5 286.6h1.6v1.6h-1.6zM307.8 268.4h1.6v1.6h-1.6zM298.3 284.0h1.6v1.6h-1.6zM270.6 292.4h1.6v1.6h-1.6zM289.2 279.7h1.6v1.6h-1.6zM284.8 267.1h1.6v1.6h-1.6zM294.1 283.7h1.6v1.6h-1.6zM271.1 296.5h1.6v1.6h-1.6zM277.1 291.3h1.6v1.6h-1.6zM270.0 293.7h1.6v1.6h-1.6zM281.3 270.6h1.6v1.6h-1.6zM303.6 264.4h1.6v1.6h-1.6zM308.0 242.4h1.6v1.6h-1.6zM283.3 292.4h1.6v1.6h-1.6zM309.4 274.3h1.6v1.6h-1.6zM294.2 252.7h1.6v1.6h-1.6zM295.5 279.5h1.6v1.6h-1.6zM293.9 289.0h1.6v1.6h-1.6zM278.5 296.0h1.6v1.6h-1.6zM290.4 275.1h1.6v1.6h-1.6zM308.3 283.0h1.6v1.6h-1.6zM313.9 255.8h1.6v1.6h-1.6zM292.5 262.3h1.6v1.6h-1.6zM267.4 298.1h1.6v1.6h-1.6zM267.3 302.2h1.6v1.6h-1.6zM311.1 276.3h1.6v1.6h-1.6zM282.3 296.8h1.6v1.6h-1.6zM327.6 256.5h1.6v1.6h-1.6zM293.0 271.2h1.6v1.6h-1.6zM276.5 275.7h1.6v1.6h-1.6zM296.0 270.4h1.6v1.6h-1.6zM289.8 269.9h1.6v1.6h-1.6zM312.0 249.3h1.6v1.6h-1.6zM298.8 285.1h1.6v1.6h-1.6zM310.7 285.6h1.6v1.6h-1.6zM312.1 231.2h1.6v1.6h-1.6zM289.9 266.1h1.6v1.6h-1.6zM299.5 260.7h1.6v1.6h-1.6zM285.1 294.9h1.6v1.6h-1.6zM266.9 302.8h1.6v1.6h-1.6zM264.2 302.0h1.6v1.6h-1.6zM286.8 294.6h1.6v1.6h-1.6zM272.8 282.0h1.6v1.6h-1.6zM292.0 257.6h1.6v1.6h-1.6zM292.4 261.4h1.6v1.6h-1.6zM262.4 300.4h1.6v1.6h-1.6zM291.6 264.4h1.6v1.6h-1.6zM275.7 290.4h1.6v1.6h-1.6zM282.6 268.1h1.6v1.6h-1.6zM325.3 233.1h1.6v1.6h-1.6zM272.0 282.1h1.6v1.6h-1.6zM269.8 288.6h1.6v1.6h-1.6zM280.6 295.5h1.6v1.6h-1.6zM289.4 272.9h1.6v1.6h-1.6zM276.0 297.7h1.6v1.6h-1.6zM278.9 277.6h1.6v1.6h-1.6zM316.4 270.3h1.6v1.6h-1.6zM266.2 302.1h1.6v1.6h-1.6zM266.2 300.7h1.6v1.6h-1.6zM278.9 268.2h1.6v1.6h-1.6zM309.4 269.4h1.6v1.6h-1.6zM279.9 289.4h1.6v1.6h-1.6zM282.9 274.3h1.6v1.6h-1.6zM287.2 283.7h1.6v1.6h-1.6zM274.7 296.9h1.6v1.6h-1.6zM320.0 287.9h1.6v1.6h-1.6zM281.6 264.0h1.6v1.6h-1.6zM282.4 271.5h1.6v1.6h-1.6zM268.3 297.9h1.6v1.6h-1.6zM292.4 277.4h1.6v1.6h-1.6zM264.3 300.2h1.6v1.6h-1.6zM296.7 262.4h1.6v1.6h-1.6zM293.0 290.4h1.6v1.6h-1.6zM278.5 278.8h1.6v1.6h-1.6zM310.0 279.8h1.6v1.6h-1.6zM297.4 294.6h1.6v1.6h-1.6zM313.2 267.4h1.6v1.6h-1.6zM309.6 261.3h1.6v1.6h-1.6zM303.3 252.4h1.6v1.6h-1.6zM277.8 278.7h1.6v1.6h-1.6zM299.3 272.9h1.6v1.6h-1.6zM295.3 247.2h1.6v1.6h-1.6zM273.4 286.7h1.6v1.6h-1.6zM286.8 283.6h1.6v1.6h-1.6zM269.9 291.1h1.6v1.6h-1.6zM300.5 289.0h1.6v1.6h-1.6zM276.8 301.3h1.6v1.6h-1.6zM309.4 253.3h1.6v1.6h-1.6zM308.2 221.9h1.6v1.6h-1.6zM281.3 261.7h1.6v1.6h-1.6zM277.1 278.0h1.6v1.6h-1.6zM294.1 248.7h1.6v1.6h-1.6zM289.2 268.1h1.6v1.6h-1.6zM279.3 284.1h1.6v1.6h-1.6zM289.9 277.3h1.6v1.6h-1.6zM303.4 271.5h1.6v1.6h-1.6zM283.4 281.7h1.6v1.6h-1.6zM278.2 290.9h1.6v1.6h-1.6zM263.1 301.7h1.6v1.6h-1.6zM270.2 289.0h1.6v1.6h-1.6zM279.9 289.7h1.6v1.6h-1.6zM290.6 261.2h1.6v1.6h-1.6zM293.5 266.6h1.6v1.6h-1.6zM299.1 273.7h1.6v1.6h-1.6zM310.8 287.6h1.6v1.6h-1.6zM296.6 281.1h1.6v1.6h-1.6zM267.8 294.0h1.6v1.6h-1.6zM293.2 268.9h1.6v1.6h-1.6zM270.0 289.7h1.6v1.6h-1.6zM291.9 288.8h1.6v1.6h-1.6zM275.5 298.6h1.6v1.6h-1.6zM287.8 260.9h1.6v1.6h-1.6zM290.8 280.3h1.6v1.6h-1.6zM309.6 238.2h1.6v1.6h-1.6zM314.4 269.1h1.6v1.6h-1.6zM298.3 282.0h1.6v1.6h-1.6zM264.1 299.2h1.6v1.6h-1.6zM274.1 275.3h1.6v1.6h-1.6zM288.0 275.1h1.6v1.6h-1.6zM307.9 289.0h1.6v1.6h-1.6zM268.4 296.2h1.6v1.6h-1.6zM293.5 254.1h1.6v1.6h-1.6zM284.9 280.2h1.6v1.6h-1.6zM282.5 276.0h1.6v1.6h-1.6zM300.3 260.6h1.6v1.6h-1.6zM303.1 242.7h1.6v1.6h-1.6zM273.6 295.7h1.6v1.6h-1.6zM279.3 295.8h1.6v1.6h-1.6zM301.2 263.0h1.6v1.6h-1.6zM284.0 283.7h1.6v1.6h-1.6zM279.0 297.4h1.6v1.6h-1.6zM312.9 244.9h1.6v1.6h-1.6zM281.6 290.1h1.6v1.6h-1.6zM268.3 290.7h1.6v1.6h-1.6zM269.4 296.1h1.6v1.6h-1.6zM275.7 286.5h1.6v1.6h-1.6zM295.4 279.0h1.6v1.6h-1.6zM286.8 291.5h1.6v1.6h-1.6zM277.8 269.4h1.6v1.6h-1.6zM296.9 281.9h1.6v1.6h-1.6zM274.2 291.4h1.6v1.6h-1.6zM289.4 284.7h1.6v1.6h-1.6zM274.4 300.3h1.6v1.6h-1.6zM279.3 295.1h1.6v1.6h-1.6zM284.4 256.3h1.6v1.6h-1.6zM270.6 299.4h1.6v1.6h-1.6zM291.8 270.7h1.6v1.6h-1.6zM288.9 277.0h1.6v1.6h-1.6zM308.3 268.1h1.6v1.6h-1.6zM263.1 299.7h1.6v1.6h-1.6zM270.2 296.3h1.6v1.6h-1.6zM264.7 295.9h1.6v1.6h-1.6zM297.7 247.7h1.6v1.6h-1.6zM287.3 289.7h1.6v1.6h-1.6zM283.7 270.1h1.6v1.6h-1.6zM288.3 284.6h1.6v1.6h-1.6zM282.1 283.7h1.6v1.6h-1.6zM267.0 297.9h1.6v1.6h-1.6zM307.0 272.4h1.6v1.6h-1.6zM292.9 261.5h1.6v1.6h-1.6zM312.2 280.5h1.6v1.6h-1.6zM311.6 261.1h1.6v1.6h-1.6zM261.2 301.0h1.6v1.6h-1.6zM275.4 293.6h1.6v1.6h-1.6zM294.0 273.1h1.6v1.6h-1.6zM298.2 259.8h1.6v1.6h-1.6zM272.7 285.4h1.6v1.6h-1.6zM305.5 266.4h1.6v1.6h-1.6zM267.3 291.3h1.6v1.6h-1.6zM299.7 263.5h1.6v1.6h-1.6zM308.8 296.9h1.6v1.6h-1.6zM281.6 288.6h1.6v1.6h-1.6zM303.3 244.0h1.6v1.6h-1.6zM270.7 301.9h1.6v1.6h-1.6zM305.5 237.2h1.6v1.6h-1.6zM269.7 294.2h1.6v1.6h-1.6zM287.1 288.1h1.6v1.6h-1.6zM286.6 262.9h1.6v1.6h-1.6zM278.4 299.8h1.6v1.6h-1.6zM313.9 273.7h1.6v1.6h-1.6zM282.0 286.5h1.6v1.6h-1.6zM327.6 222.5h1.6v1.6h-1.6zM274.4 288.4h1.6v1.6h-1.6zM294.0 273.5h1.6v1.6h-1.6zM289.4 270.2h1.6v1.6h-1.6zM270.7 295.6h1.6v1.6h-1.6zM275.3 289.3h1.6v1.6h-1.6zM317.4 260.3h1.6v1.6h-1.6zM304.7 264.0h1.6v1.6h-1.6zM298.1 275.9h1.6v1.6h-1.6zM301.9 290.8h1.6v1.6h-1.6zM275.5 289.5h1.6v1.6h-1.6zM277.7 285.9h1.6v1.6h-1.6zM284.5 291.5h1.6v1.6h-1.6zM286.1 269.8h1.6v1.6h-1.6zM304.3 260.7h1.6v1.6h-1.6zM291.5 261.1h1.6v1.6h-1.6zM295.9 280.0h1.6v1.6h-1.6zM280.0 298.2h1.6v1.6h-1.6zM284.5 260.7h1.6v1.6h-1.6zM293.2 265.8h1.6v1.6h-1.6zM313.6 262.4h1.6v1.6h-1.6zM298.4 259.1h1.6v1.6h-1.6zM309.0 221.3h1.6v1.6h-1.6zM284.2 279.0h1.6v1.6h-1.6zM282.8 267.3h1.6v1.6h-1.6zM269.6 288.3h1.6v1.6h-1.6zM282.8 264.2h1.6v1.6h-1.6zM298.6 267.6h1.6v1.6h-1.6zM275.4 292.6h1.6v1.6h-1.6zM298.9 264.3h1.6v1.6h-1.6zM270.3 294.6h1.6v1.6h-1.6zM270.7 302.0h1.6v1.6h-1.6zM278.4 299.4h1.6v1.6h-1.6zM268.0 290.3h1.6v1.6h-1.6zM285.8 287.9h1.6v1.6h-1.6zM267.6 291.6h1.6v1.6h-1.6zM281.1 283.4h1.6v1.6h-1.6zM295.1 252.1h1.6v1.6h-1.6zM287.5 274.1h1.6v1.6h-1.6zM272.1 290.3h1.6v1.6h-1.6zM278.2 277.8h1.6v1.6h-1.6zM277.0 294.7h1.6v1.6h-1.6zM295.2 298.4h1.6v1.6h-1.6zM296.0 285.1h1.6v1.6h-1.6zM263.3 300.0h1.6v1.6h-1.6zM273.2 297.5h1.6v1.6h-1.6zM279.6 271.4h1.6v1.6h-1.6zM277.8 274.8h1.6v1.6h-1.6zM277.0 278.7h1.6v1.6h-1.6zM289.8 280.7h1.6v1.6h-1.6zM293.7 263.3h1.6v1.6h-1.6zM282.9 292.6h1.6v1.6h-1.6zM289.9 261.7h1.6v1.6h-1.6zM283.9 283.1h1.6v1.6h-1.6zM280.0 278.2h1.6v1.6h-1.6zM277.3 275.0h1.6v1.6h-1.6zM326.1 249.9h1.6v1.6h-1.6zM310.4 255.3h1.6v1.6h-1.6zM268.7 299.5h1.6v1.6h-1.6zM288.0 263.3h1.6v1.6h-1.6zM281.9 262.2h1.6v1.6h-1.6zM288.4 273.9h1.6v1.6h-1.6zM282.6 267.9h1.6v1.6h-1.6zM287.1 254.8h1.6v1.6h-1.6zM289.9 289.3h1.6v1.6h-1.6zM315.3 251.6h1.6v1.6h-1.6zM299.6 249.9h1.6v1.6h-1.6zM270.3 299.5h1.6v1.6h-1.6zM297.9 257.2h1.6v1.6h-1.6zM287.9 278.7h1.6v1.6h-1.6zM264.5 302.5h1.6v1.6h-1.6zM290.7 285.4h1.6v1.6h-1.6zM282.8 293.6h1.6v1.6h-1.6zM283.6 264.7h1.6v1.6h-1.6zM279.7 297.4h1.6v1.6h-1.6zM285.0 257.3h1.6v1.6h-1.6zM295.2 260.8h1.6v1.6h-1.6zM315.7 247.9h1.6v1.6h-1.6zM275.4 284.9h1.6v1.6h-1.6zM284.5 262.4h1.6v1.6h-1.6zM265.6 294.9h1.6v1.6h-1.6zM279.6 299.5h1.6v1.6h-1.6zM282.4 270.8h1.6v1.6h-1.6zM275.2 280.6h1.6v1.6h-1.6zM311.5 262.9h1.6v1.6h-1.6zM281.9 281.5h1.6v1.6h-1.6zM314.3 237.8h1.6v1.6h-1.6zM318.4 268.9h1.6v1.6h-1.6zM298.2 230.6h1.6v1.6h-1.6zM277.9 292.1h1.6v1.6h-1.6zM310.1 265.7h1.6v1.6h-1.6zM277.1 298.8h1.6v1.6h-1.6zM278.5 280.9h1.6v1.6h-1.6zM272.8 293.4h1.6v1.6h-1.6zM279.9 300.6h1.6v1.6h-1.6zM281.1 277.8h1.6v1.6h-1.6zM270.8 289.2h1.6v1.6h-1.6zM276.0 292.9h1.6v1.6h-1.6zM286.9 273.5h1.6v1.6h-1.6zM292.4 287.9h1.6v1.6h-1.6zM273.2 292.6h1.6v1.6h-1.6zM283.8 256.6h1.6v1.6h-1.6zM265.9 300.1h1.6v1.6h-1.6zM297.2 249.0h1.6v1.6h-1.6zM293.1 261.2h1.6v1.6h-1.6zM278.6 267.4h1.6v1.6h-1.6zM301.7 243.0h1.6v1.6h-1.6zM305.4 243.5h1.6v1.6h-1.6zM286.6 283.4h1.6v1.6h-1.6zM295.0 258.4h1.6v1.6h-1.6zM289.5 280.1h1.6v1.6h-1.6zM274.8 285.8h1.6v1.6h-1.6zM283.3 270.2h1.6v1.6h-1.6zM282.7 279.6h1.6v1.6h-1.6zM292.2 269.5h1.6v1.6h-1.6zM300.9 285.1h1.6v1.6h-1.6zM305.3 251.0h1.6v1.6h-1.6zM287.3 278.4h1.6v1.6h-1.6zM285.7 285.9h1.6v1.6h-1.6zM288.7 285.8h1.6v1.6h-1.6zM294.7 278.3h1.6v1.6h-1.6zM273.7 290.2h1.6v1.6h-1.6zM301.3 281.7h1.6v1.6h-1.6zM275.7 278.5h1.6v1.6h-1.6zM295.8 287.1h1.6v1.6h-1.6zM269.4 302.6h1.6v1.6h-1.6zM291.3 273.2h1.6v1.6h-1.6zM304.2 247.5h1.6v1.6h-1.6zM278.6 291.4h1.6v1.6h-1.6zM294.7 274.4h1.6v1.6h-1.6zM306.7 278.2h1.6v1.6h-1.6zM285.7 272.4h1.6v1.6h-1.6zM293.7 284.1h1.6v1.6h-1.6zM273.6 284.9h1.6v1.6h-1.6zM270.6 295.1h1.6v1.6h-1.6zM279.7 266.2h1.6v1.6h-1.6zM298.4 249.5h1.6v1.6h-1.6zM311.8 282.2h1.6v1.6h-1.6zM286.0 293.9h1.6v1.6h-1.6zM276.4 293.9h1.6v1.6h-1.6zM304.3 267.2h1.6v1.6h-1.6zM300.8 278.0h1.6v1.6h-1.6zM289.3 261.5h1.6v1.6h-1.6zM300.6 257.7h1.6v1.6h-1.6zM315.5 282.1h1.6v1.6h-1.6zM321.3 257.1h1.6v1.6h-1.6zM327.0 239.7h1.6v1.6h-1.6zM291.0 272.5h1.6v1.6h-1.6zM293.9 295.0h1.6v1.6h-1.6zM263.9 297.1h1.6v1.6h-1.6zM310.6 265.5h1.6v1.6h-1.6zM275.3 280.3h1.6v1.6h-1.6zM275.4 294.5h1.6v1.6h-1.6zM86.3 236.9h1.6v1.6h-1.6zM89.1 255.1h1.6v1.6h-1.6zM78.8 280.6h1.6v1.6h-1.6zM88.4 288.8h1.6v1.6h-1.6zM141.1 239.7h1.6v1.6h-1.6zM134.1 245.7h1.6v1.6h-1.6zM135.1 254.1h1.6v1.6h-1.6zM118.6 278.9h1.6v1.6h-1.6zM120.3 286.4h1.6v1.6h-1.6zM129.3 283.2h1.6v1.6h-1.6zM134.9 278.7h1.6v1.6h-1.6zM148.0 267.3h1.6v1.6h-1.6zM153.3 256.6h1.6v1.6h-1.6zM151.6 231.1h1.6v1.6h-1.6zM158.7 242.1h1.6v1.6h-1.6zM158.3 247.4h1.6v1.6h-1.6zM163.2 225.3h1.6v1.6h-1.6zM168.8 220.0h1.6v1.6h-1.6zM158.3 273.1h1.6v1.6h-1.6zM146.9 293.1h1.6v1.6h-1.6zM152.9 293.9h1.6v1.6h-1.6zM151.2 300.6h1.6v1.6h-1.6zM165.6 296.7h1.6v1.6h-1.6zM166.6 279.6h1.6v1.6h-1.6zM161.1 257.1h1.6v1.6h-1.6zM164.1 237.8h1.6v1.6h-1.6zM166.2 234.1h1.6v1.6h-1.6zM170.9 232.8h1.6v1.6h-1.6zM405.6 236.7h1.6v1.6h-1.6zM405.3 274.6h1.6v1.6h-1.6zM378.3 262.0h1.6v1.6h-1.6zM362.1 265.4h1.6v1.6h-1.6zM349.2 265.2h1.6v1.6h-1.6zM355.6 283.2h1.6v1.6h-1.6zM361.4 281.5h1.6v1.6h-1.6zM368.5 286.6h1.6v1.6h-1.6zM370.0 292.8h1.6v1.6h-1.6zM380.7 280.8h1.6v1.6h-1.6zM383.1 283.4h1.6v1.6h-1.6zM391.2 296.1h1.6v1.6h-1.6zM411.3 293.1h1.6v1.6h-1.6zM434.3 292.0h1.6v1.6h-1.6zM539.5 254.4h1.6v1.6h-1.6zM344.3 236.7h1.6v1.6h-1.6zM347.9 245.3h1.6v1.6h-1.6zM339.6 237.3h1.6v1.6h-1.6zM333.1 278.9h1.6v1.6h-1.6zM338.5 287.1h1.6v1.6h-1.6zM340.2 291.3h1.6v1.6h-1.6zM343.2 293.9h1.6v1.6h-1.6zM333.1 291.8h1.6v1.6h-1.6zM302.2 220.7h1.6v1.6h-1.6z" fill="#000"/>
<path d="M334.8 691.5h1.6v1.6h-1.6zM334.1 673.9h1.6v1.6h-1.6zM337.4 671.3h1.6v1.6h-1.6zM307.8 629.3h1.6v1.6h-1.6zM344.4 697.4h1.6v1.6h-1.6zM334.8 675.1h1.6v1.6h-1.6zM330.6 682.1h1.6v1.6h-1.6zM319.5 635.5h1.6v1.6h-1.6zM322.9 627.2h1.6v1.6h-1.6zM336.2 704.2h1.6v1.6h-1.6zM334.7 668.6h1.6v1.6h-1.6zM331.1 672.3h1.6v1.6h-1.6zM347.5 707.9h1.6v1.6h-1.6zM337.0 679.3h1.6v1.6h-1.6zM345.7 706.5h1.6v1.6h-1.6zM345.1 697.6h1.6v1.6h-1.6zM341.2 682.8h1.6v1.6h-1.6zM347.5 711.3h1.6v1.6h-1.6zM344.3 696.8h1.6v1.6h-1.6zM339.5 690.3h1.6v1.6h-1.6zM345.7 716.9h1.6v1.6h-1.6zM319.2 634.9h1.6v1.6h-1.6zM317.2 626.3h1.6v1.6h-1.6zM327.6 661.7h1.6v1.6h-1.6zM328.4 652.0h1.6v1.6h-1.6zM345.7 704.9h1.6v1.6h-1.6zM336.7 678.8h1.6v1.6h-1.6zM340.8 715.6h1.6v1.6h-1.6zM321.3 700.0h1.6v1.6h-1.6zM349.3 713.1h1.6v1.6h-1.6zM308.4 647.8h1.6v1.6h-1.6zM320.2 638.5h1.6v1.6h-1.6zM342.8 706.3h1.6v1.6h-1.6zM320.2 711.5h1.6v1.6h-1.6zM347.0 709.2h1.6v1.6h-1.6zM318.3 630.8h1.6v1.6h-1.6zM336.8 697.3h1.6v1.6h-1.6zM321.4 684.9h1.6v1.6h-1.6zM326.3 638.1h1.6v1.6h-1.6zM350.7 718.8h1.6v1.6h-1.6zM333.4 670.2h1.6v1.6h-1.6zM336.1 676.5h1.6v1.6h-1.6zM346.0 705.4h1.6v1.6h-1.6zM333.2 667.3h1.6v1.6h-1.6zM326.0 641.4h1.6v1.6h-1.6zM334.3 707.0h1.6v1.6h-1.6zM343.9 706.9h1.6v1.6h-1.6zM337.3 671.7h1.6v1.6h-1.6zM333.1 656.6h1.6v1.6h-1.6zM324.6 647.4h1.6v1.6h-1.6zM318.1 625.2h1.6v1.6h-1.6zM329.9 642.1h1.6v1.6h-1.6zM331.1 676.9h1.6v1.6h-1.6zM337.0 678.3h1.6v1.6h-1.6zM331.5 673.4h1.6v1.6h-1.6zM326.3 686.6h1.6v1.6h-1.6zM321.0 646.7h1.6v1.6h-1.6zM330.1 654.5h1.6v1.6h-1.6zM348.1 708.2h1.6v1.6h-1.6zM332.5 696.9h1.6v1.6h-1.6zM333.8 678.9h1.6v1.6h-1.6zM312.5 632.8h1.6v1.6h-1.6zM318.1 627.7h1.6v1.6h-1.6zM318.7 646.3h1.6v1.6h-1.6zM333.1 674.4h1.6v1.6h-1.6zM331.9 661.9h1.6v1.6h-1.6zM347.5 705.7h1.6v1.6h-1.6zM299.1 666.1h1.6v1.6h-1.6zM301.3 638.7h1.6v1.6h-1.6zM330.9 666.5h1.6v1.6h-1.6zM332.2 678.8h1.6v1.6h-1.6zM340.6 690.2h1.6v1.6h-1.6zM339.1 683.8h1.6v1.6h-1.6zM336.2 686.5h1.6v1.6h-1.6zM335.4 672.1h1.6v1.6h-1.6zM320.7 630.4h1.6v1.6h-1.6zM337.2 687.0h1.6v1.6h-1.6zM304.5 675.4h1.6v1.6h-1.6zM329.6 654.7h1.6v1.6h-1.6zM342.1 702.3h1.6v1.6h-1.6zM331.2 668.4h1.6v1.6h-1.6zM335.5 673.4h1.6v1.6h-1.6zM285.6 649.5h1.6v1.6h-1.6zM325.7 658.1h1.6v1.6h-1.6zM350.9 717.5h1.6v1.6h-1.6zM336.8 695.6h1.6v1.6h-1.6zM342.7 717.8h1.6v1.6h-1.6zM327.9 658.8h1.6v1.6h-1.6zM322.4 662.5h1.6v1.6h-1.6zM334.5 669.1h1.6v1.6h-1.6zM310.1 644.0h1.6v1.6h-1.6zM324.7 635.9h1.6v1.6h-1.6zM341.8 692.4h1.6v1.6h-1.6zM321.4 642.4h1.6v1.6h-1.6zM336.9 676.6h1.6v1.6h-1.6zM292.9 631.4h1.6v1.6h-1.6zM349.0 714.8h1.6v1.6h-1.6zM348.4 707.9h1.6v1.6h-1.6zM334.6 662.8h1.6v1.6h-1.6zM347.3 706.0h1.6v1.6h-1.6zM325.9 662.9h1.6v1.6h-1.6zM342.7 708.5h1.6v1.6h-1.6zM302.0 640.8h1.6v1.6h-1.6zM327.6 675.0h1.6v1.6h-1.6zM349.8 717.0h1.6v1.6h-1.6zM334.1 694.4h1.6v1.6h-1.6zM327.2 678.8h1.6v1.6h-1.6zM321.2 657.7h1.6v1.6h-1.6zM341.7 695.7h1.6v1.6h-1.6zM326.7 659.1h1.6v1.6h-1.6zM329.4 662.9h1.6v1.6h-1.6zM319.5 638.3h1.6v1.6h-1.6zM322.1 686.8h1.6v1.6h-1.6zM345.5 709.4h1.6v1.6h-1.6zM337.5 701.2h1.6v1.6h-1.6zM329.5 646.3h1.6v1.6h-1.6zM337.5 679.0h1.6v1.6h-1.6zM331.6 672.1h1.6v1.6h-1.6zM342.1 692.9h1.6v1.6h-1.6zM316.2 645.1h1.6v1.6h-1.6zM349.2 715.1h1.6v1.6h-1.6zM318.3 618.1h1.6v1.6h-1.6zM328.0 654.0h1.6v1.6h-1.6zM336.3 701.0h1.6v1.6h-1.6zM323.4 659.7h1.6v1.6h-1.6zM346.2 699.8h1.6v1.6h-1.6zM338.0 696.2h1.6v1.6h-1.6zM337.6 670.4h1.6v1.6h-1.6zM321.4 673.3h1.6v1.6h-1.6zM308.8 648.4h1.6v1.6h-1.6zM327.8 663.1h1.6v1.6h-1.6zM353.2 719.3h1.6v1.6h-1.6zM344.7 705.4h1.6v1.6h-1.6zM351.4 718.2h1.6v1.6h-1.6zM318.1 657.2h1.6v1.6h-1.6zM319.1 665.4h1.6v1.6h-1.6zM314.6 627.7h1.6v1.6h-1.6zM336.0 674.2h1.6v1.6h-1.6zM310.2 667.2h1.6v1.6h-1.6zM322.2 660.2h1.6v1.6h-1.6zM345.9 701.6h1.6v1.6h-1.6zM338.1 684.4h1.6v1.6h-1.6zM309.7 660.9h1.6v1.6h-1.6zM339.5 684.9h1.6v1.6h-1.6zM325.2 674.5h1.6v1.6h-1.6zM351.7 718.1h1.6v1.6h-1.6zM329.4 687.9h1.6v1.6h-1.6zM336.5 686.0h1.6v1.6h-1.6zM318.6 654.1h1.6v1.6h-1.6zM331.2 652.3h1.6v1.6h-1.6zM325.2 642.7h1.6v1.6h-1.6zM322.9 658.8h1.6v1.6h-1.6zM332.1 680.5h1.6v1.6h-1.6zM305.4 662.0h1.6v1.6h-1.6zM332.7 678.5h1.6v1.6h-1.6zM337.9 682.9h1.6v1.6h-1.6zM338.3 690.1h1.6v1.6h-1.6zM329.2 640.3h1.6v1.6h-1.6zM342.5 698.6h1.6v1.6h-1.6zM345.5 713.0h1.6v1.6h-1.6zM347.7 717.2h1.6v1.6h-1.6zM334.8 696.4h1.6v1.6h-1.6zM349.3 715.5h1.6v1.6h-1.6zM321.1 654.5h1.6v1.6h-1.6zM343.8 697.2h1.6v1.6h-1.6zM330.4 659.6h1.6v1.6h-1.6zM321.3 640.0h1.6v1.6h-1.6zM330.0 653.0h1.6v1.6h-1.6zM325.0 665.6h1.6v1.6h-1.6zM328.8 657.6h1.6v1.6h-1.6zM341.1 692.9h1.6v1.6h-1.6zM320.3 626.1h1.6v1.6h-1.6zM317.0 684.5h1.6v1.6h-1.6zM319.5 662.3h1.6v1.6h-1.6zM333.8 677.6h1.6v1.6h-1.6zM334.4 684.5h1.6v1.6h-1.6zM345.2 702.0h1.6v1.6h-1.6zM315.5 624.7h1.6v1.6h-1.6zM332.8 664.5h1.6v1.6h-1.6zM323.8 649.0h1.6v1.6h-1.6zM335.6 672.9h1.6v1.6h-1.6zM340.9 691.5h1.6v1.6h-1.6zM330.7 674.1h1.6v1.6h-1.6zM327.5 667.1h1.6v1.6h-1.6zM333.6 690.0h1.6v1.6h-1.6zM348.5 716.2h1.6v1.6h-1.6zM314.4 640.1h1.6v1.6h-1.6zM326.9 692.9h1.6v1.6h-1.6zM317.5 630.5h1.6v1.6h-1.6zM326.5 639.4h1.6v1.6h-1.6zM310.8 632.7h1.6v1.6h-1.6zM337.8 714.6h1.6v1.6h-1.6zM336.5 670.7h1.6v1.6h-1.6zM316.5 652.3h1.6v1.6h-1.6zM347.9 709.0h1.6v1.6h-1.6zM318.7 666.3h1.6v1.6h-1.6zM322.5 640.5h1.6v1.6h-1.6zM324.0 647.8h1.6v1.6h-1.6zM320.0 616.1h1.6v1.6h-1.6zM320.9 642.5h1.6v1.6h-1.6zM348.7 706.5h1.6v1.6h-1.6zM337.4 672.8h1.6v1.6h-1.6zM332.5 684.6h1.6v1.6h-1.6zM325.5 659.9h1.6v1.6h-1.6zM329.3 652.9h1.6v1.6h-1.6zM331.5 655.8h1.6v1.6h-1.6zM317.0 614.2h1.6v1.6h-1.6zM336.7 674.0h1.6v1.6h-1.6zM321.5 641.7h1.6v1.6h-1.6zM336.1 665.4h1.6v1.6h-1.6zM327.4 663.0h1.6v1.6h-1.6zM344.4 709.9h1.6v1.6h-1.6zM330.2 656.5h1.6v1.6h-1.6zM318.2 648.0h1.6v1.6h-1.6zM321.4 695.5h1.6v1.6h-1.6zM311.7 666.3h1.6v1.6h-1.6zM329.1 670.5h1.6v1.6h-1.6zM349.6 712.5h1.6v1.6h-1.6zM336.2 689.4h1.6v1.6h-1.6zM331.6 655.0h1.6v1.6h-1.6zM345.2 707.2h1.6v1.6h-1.6zM339.7 680.8h1.6v1.6h-1.6zM317.1 663.8h1.6v1.6h-1.6zM313.1 664.2h1.6v1.6h-1.6zM343.1 700.0h1.6v1.6h-1.6zM340.6 685.3h1.6v1.6h-1.6zM327.7 658.3h1.6v1.6h-1.6zM331.5 668.4h1.6v1.6h-1.6zM332.0 651.4h1.6v1.6h-1.6zM327.9 666.2h1.6v1.6h-1.6zM322.3 653.8h1.6v1.6h-1.6zM340.0 692.5h1.6v1.6h-1.6zM332.2 661.2h1.6v1.6h-1.6zM323.9 652.8h1.6v1.6h-1.6zM334.0 684.2h1.6v1.6h-1.6zM348.5 708.9h1.6v1.6h-1.6zM318.5 647.5h1.6v1.6h-1.6zM326.6 664.9h1.6v1.6h-1.6zM321.8 672.2h1.6v1.6h-1.6zM341.0 699.3h1.6v1.6h-1.6zM320.3 664.0h1.6v1.6h-1.6zM341.8 701.9h1.6v1.6h-1.6zM325.8 639.7h1.6v1.6h-1.6zM339.6 711.0h1.6v1.6h-1.6zM320.1 637.4h1.6v1.6h-1.6zM351.3 719.0h1.6v1.6h-1.6zM307.6 640.0h1.6v1.6h-1.6zM345.8 702.9h1.6v1.6h-1.6zM340.1 711.3h1.6v1.6h-1.6zM345.9 703.6h1.6v1.6h-1.6zM310.2 652.1h1.6v1.6h-1.6zM329.0 653.5h1.6v1.6h-1.6zM345.8 710.6h1.6v1.6h-1.6zM326.8 686.7h1.6v1.6h-1.6zM339.4 700.2h1.6v1.6h-1.6zM319.4 655.2h1.6v1.6h-1.6zM326.5 667.4h1.6v1.6h-1.6zM317.8 632.4h1.6v1.6h-1.6zM325.9 660.1h1.6v1.6h-1.6zM330.9 670.8h1.6v1.6h-1.6zM319.2 628.4h1.6v1.6h-1.6zM345.0 701.0h1.6v1.6h-1.6zM346.8 711.7h1.6v1.6h-1.6zM324.2 689.8h1.6v1.6h-1.6zM332.7 662.1h1.6v1.6h-1.6zM334.0 699.4h1.6v1.6h-1.6zM307.9 642.9h1.6v1.6h-1.6zM341.4 695.7h1.6v1.6h-1.6zM347.8 708.7h1.6v1.6h-1.6zM324.1 638.3h1.6v1.6h-1.6zM336.6 701.5h1.6v1.6h-1.6zM345.8 706.0h1.6v1.6h-1.6zM322.7 657.1h1.6v1.6h-1.6zM327.4 652.4h1.6v1.6h-1.6zM319.8 675.8h1.6v1.6h-1.6zM326.5 689.4h1.6v1.6h-1.6zM317.2 623.3h1.6v1.6h-1.6zM350.3 715.8h1.6v1.6h-1.6zM315.7 666.0h1.6v1.6h-1.6zM346.4 702.5h1.6v1.6h-1.6zM333.5 685.1h1.6v1.6h-1.6zM336.2 688.6h1.6v1.6h-1.6zM338.0 698.2h1.6v1.6h-1.6zM326.2 656.1h1.6v1.6h-1.6zM325.6 671.3h1.6v1.6h-1.6zM326.6 638.7h1.6v1.6h-1.6zM319.4 654.2h1.6v1.6h-1.6zM330.6 681.8h1.6v1.6h-1.6zM335.8 671.9h1.6v1.6h-1.6zM309.7 645.7h1.6v1.6h-1.6zM344.0 709.1h1.6v1.6h-1.6zM352.7 719.1h1.6v1.6h-1.6zM334.8 677.1h1.6v1.6h-1.6zM326.7 681.1h1.6v1.6h-1.6zM336.4 670.6h1.6v1.6h-1.6zM327.5 674.5h1.6v1.6h-1.6zM336.3 701.5h1.6v1.6h-1.6zM285.5 633.4h1.6v1.6h-1.6zM321.5 628.2h1.6v1.6h-1.6zM343.4 699.1h1.6v1.6h-1.6zM341.1 687.9h1.6v1.6h-1.6zM309.3 632.0h1.6v1.6h-1.6zM327.2 671.0h1.6v1.6h-1.6zM302.1 670.7h1.6v1.6h-1.6zM312.2 639.2h1.6v1.6h-1.6zM339.6 703.7h1.6v1.6h-1.6zM346.8 707.2h1.6v1.6h-1.6zM312.2 663.2h1.6v1.6h-1.6zM340.1 685.8h1.6v1.6h-1.6zM335.7 698.9h1.6v1.6h-1.6zM347.9 705.1h1.6v1.6h-1.6zM346.1 701.6h1.6v1.6h-1.6zM312.8 633.1h1.6v1.6h-1.6zM325.9 686.5h1.6v1.6h-1.6zM346.6 708.8h1.6v1.6h-1.6zM340.8 694.6h1.6v1.6h-1.6zM346.2 705.7h1.6v1.6h-1.6zM324.0 631.1h1.6v1.6h-1.6zM340.1 698.1h1.6v1.6h-1.6zM326.7 689.5h1.6v1.6h-1.6zM338.7 686.8h1.6v1.6h-1.6zM347.7 718.9h1.6v1.6h-1.6zM331.5 669.3h1.6v1.6h-1.6zM336.0 693.0h1.6v1.6h-1.6zM322.0 642.4h1.6v1.6h-1.6zM334.1 687.6h1.6v1.6h-1.6zM344.5 693.5h1.6v1.6h-1.6zM341.5 702.5h1.6v1.6h-1.6zM332.1 681.2h1.6v1.6h-1.6zM312.7 631.8h1.6v1.6h-1.6zM316.0 621.4h1.6v1.6h-1.6zM339.4 679.5h1.6v1.6h-1.6zM327.7 647.1h1.6v1.6h-1.6zM322.6 700.8h1.6v1.6h-1.6zM328.3 638.4h1.6v1.6h-1.6zM337.1 670.7h1.6v1.6h-1.6zM331.8 692.4h1.6v1.6h-1.6zM328.9 656.3h1.6v1.6h-1.6zM337.3 673.1h1.6v1.6h-1.6zM325.3 684.0h1.6v1.6h-1.6zM334.9 673.2h1.6v1.6h-1.6zM311.0 615.7h1.6v1.6h-1.6zM336.6 693.3h1.6v1.6h-1.6zM335.9 700.1h1.6v1.6h-1.6zM310.7 667.4h1.6v1.6h-1.6zM322.9 667.3h1.6v1.6h-1.6zM342.4 700.9h1.6v1.6h-1.6zM338.4 690.9h1.6v1.6h-1.6zM330.2 686.3h1.6v1.6h-1.6zM338.8 695.6h1.6v1.6h-1.6zM350.4 716.8h1.6v1.6h-1.6zM341.2 694.7h1.6v1.6h-1.6zM318.4 632.5h1.6v1.6h-1.6zM324.1 672.0h1.6v1.6h-1.6zM316.6 634.1h1.6v1.6h-1.6zM337.6 677.3h1.6v1.6h-1.6zM334.8 671.1h1.6v1.6h-1.6zM332.5 686.2h1.6v1.6h-1.6zM328.5 655.7h1.6v1.6h-1.6zM328.0 664.7h1.6v1.6h-1.6zM349.8 713.8h1.6v1.6h-1.6zM322.6 690.1h1.6v1.6h-1.6zM314.0 675.3h1.6v1.6h-1.6zM325.7 678.1h1.6v1.6h-1.6zM341.6 715.5h1.6v1.6h-1.6zM338.0 693.8h1.6v1.6h-1.6zM323.8 657.7h1.6v1.6h-1.6zM327.3 684.2h1.6v1.6h-1.6zM323.3 649.3h1.6v1.6h-1.6zM345.7 697.7h1.6v1.6h-1.6zM333.0 660.7h1.6v1.6h-1.6zM324.4 651.6h1.6v1.6h-1.6zM330.9 673.2h1.6v1.6h-1.6zM300.4 621.9h1.6v1.6h-1.6zM306.7 670.8h1.6v1.6h-1.6zM322.6 673.8h1.6v1.6h-1.6zM342.7 706.8h1.6v1.6h-1.6zM316.0 636.7h1.6v1.6h-1.6zM341.0 705.3h1.6v1.6h-1.6zM333.4 685.2h1.6v1.6h-1.6zM316.7 628.0h1.6v1.6h-1.6zM341.3 710.5h1.6v1.6h-1.6zM333.8 660.6h1.6v1.6h-1.6zM332.0 708.7h1.6v1.6h-1.6zM329.9 662.5h1.6v1.6h-1.6zM325.4 668.5h1.6v1.6h-1.6zM312.1 627.8h1.6v1.6h-1.6zM309.9 633.5h1.6v1.6h-1.6zM321.8 621.2h1.6v1.6h-1.6zM333.2 707.7h1.6v1.6h-1.6zM326.0 648.1h1.6v1.6h-1.6zM340.0 684.2h1.6v1.6h-1.6zM319.9 636.6h1.6v1.6h-1.6zM327.7 682.2h1.6v1.6h-1.6zM349.6 715.7h1.6v1.6h-1.6zM324.6 634.6h1.6v1.6h-1.6zM340.5 692.2h1.6v1.6h-1.6zM326.5 658.4h1.6v1.6h-1.6zM318.8 637.9h1.6v1.6h-1.6zM327.9 690.6h1.6v1.6h-1.6zM310.6 659.2h1.6v1.6h-1.6zM338.6 690.9h1.6v1.6h-1.6zM302.6 644.1h1.6v1.6h-1.6zM320.5 621.5h1.6v1.6h-1.6zM343.7 701.3h1.6v1.6h-1.6zM312.1 646.5h1.6v1.6h-1.6zM302.6 628.2h1.6v1.6h-1.6zM326.2 688.1h1.6v1.6h-1.6zM347.6 709.7h1.6v1.6h-1.6zM317.7 670.4h1.6v1.6h-1.6zM333.0 659.6h1.6v1.6h-1.6zM339.2 694.8h1.6v1.6h-1.6zM331.3 670.0h1.6v1.6h-1.6zM336.9 688.1h1.6v1.6h-1.6zM329.2 655.0h1.6v1.6h-1.6zM329.4 708.2h1.6v1.6h-1.6zM322.6 676.4h1.6v1.6h-1.6zM340.3 702.5h1.6v1.6h-1.6zM320.5 664.2h1.6v1.6h-1.6zM330.2 683.3h1.6v1.6h-1.6zM331.2 665.2h1.6v1.6h-1.6zM331.6 697.9h1.6v1.6h-1.6zM313.7 662.8h1.6v1.6h-1.6zM348.3 709.4h1.6v1.6h-1.6zM334.8 669.5h1.6v1.6h-1.6zM349.8 716.4h1.6v1.6h-1.6zM330.6 660.6h1.6v1.6h-1.6zM335.6 679.9h1.6v1.6h-1.6zM323.5 632.2h1.6v1.6h-1.6zM315.9 634.6h1.6v1.6h-1.6zM321.1 664.9h1.6v1.6h-1.6zM323.3 637.9h1.6v1.6h-1.6zM313.7 625.1h1.6v1.6h-1.6zM321.2 688.9h1.6v1.6h-1.6zM324.6 628.1h1.6v1.6h-1.6zM309.8 636.6h1.6v1.6h-1.6zM342.8 696.9h1.6v1.6h-1.6zM343.3 704.0h1.6v1.6h-1.6zM321.2 678.1h1.6v1.6h-1.6zM317.2 641.9h1.6v1.6h-1.6zM340.0 714.2h1.6v1.6h-1.6zM313.1 658.2h1.6v1.6h-1.6zM320.7 683.0h1.6v1.6h-1.6zM300.1 645.7h1.6v1.6h-1.6zM347.4 717.1h1.6v1.6h-1.6zM321.9 663.6h1.6v1.6h-1.6zM343.8 695.1h1.6v1.6h-1.6zM322.1 663.8h1.6v1.6h-1.6zM347.8 713.3h1.6v1.6h-1.6zM318.5 621.0h1.6v1.6h-1.6zM304.0 631.1h1.6v1.6h-1.6zM339.2 688.1h1.6v1.6h-1.6zM317.8 682.2h1.6v1.6h-1.6zM320.4 630.8h1.6v1.6h-1.6zM316.8 678.6h1.6v1.6h-1.6zM346.5 710.2h1.6v1.6h-1.6zM341.4 696.8h1.6v1.6h-1.6zM327.6 665.6h1.6v1.6h-1.6zM295.2 639.2h1.6v1.6h-1.6zM327.8 704.2h1.6v1.6h-1.6zM330.1 664.2h1.6v1.6h-1.6zM339.2 686.7h1.6v1.6h-1.6zM327.2 641.9h1.6v1.6h-1.6zM346.4 711.7h1.6v1.6h-1.6zM341.6 716.4h1.6v1.6h-1.6zM304.6 655.5h1.6v1.6h-1.6zM344.6 710.6h1.6v1.6h-1.6zM323.3 643.9h1.6v1.6h-1.6zM324.8 631.4h1.6v1.6h-1.6zM320.4 660.4h1.6v1.6h-1.6zM308.9 631.8h1.6v1.6h-1.6zM311.9 663.4h1.6v1.6h-1.6zM323.6 631.1h1.6v1.6h-1.6zM318.3 630.2h1.6v1.6h-1.6zM351.5 714.5h1.6v1.6h-1.6zM343.9 712.6h1.6v1.6h-1.6zM351.2 716.4h1.6v1.6h-1.6zM317.8 659.1h1.6v1.6h-1.6zM317.1 621.0h1.6v1.6h-1.6zM327.0 640.8h1.6v1.6h-1.6zM343.5 706.2h1.6v1.6h-1.6zM321.6 622.3h1.6v1.6h-1.6zM323.5 639.3h1.6v1.6h-1.6zM336.2 709.2h1.6v1.6h-1.6zM339.0 699.7h1.6v1.6h-1.6zM313.1 652.4h1.6v1.6h-1.6zM311.8 638.0h1.6v1.6h-1.6zM343.0 701.6h1.6v1.6h-1.6zM315.0 631.3h1.6v1.6h-1.6zM340.9 686.5h1.6v1.6h-1.6zM326.7 654.7h1.6v1.6h-1.6zM323.6 694.1h1.6v1.6h-1.6zM325.0 636.1h1.6v1.6h-1.6zM342.1 695.1h1.6v1.6h-1.6zM316.1 640.2h1.6v1.6h-1.6zM335.5 692.2h1.6v1.6h-1.6zM344.5 694.3h1.6v1.6h-1.6zM343.6 708.0h1.6v1.6h-1.6zM339.9 683.7h1.6v1.6h-1.6zM334.0 672.9h1.6v1.6h-1.6zM339.8 686.1h1.6v1.6h-1.6zM325.9 644.7h1.6v1.6h-1.6zM315.3 625.4h1.6v1.6h-1.6zM338.9 705.9h1.6v1.6h-1.6zM331.3 665.7h1.6v1.6h-1.6zM334.1 713.6h1.6v1.6h-1.6zM314.4 638.6h1.6v1.6h-1.6zM345.7 702.3h1.6v1.6h-1.6zM332.5 685.1h1.6v1.6h-1.6zM345.5 698.5h1.6v1.6h-1.6zM342.4 694.4h1.6v1.6h-1.6zM340.3 699.5h1.6v1.6h-1.6zM327.6 643.5h1.6v1.6h-1.6zM320.7 678.7h1.6v1.6h-1.6zM327.7 655.6h1.6v1.6h-1.6zM328.1 660.7h1.6v1.6h-1.6zM347.0 712.9h1.6v1.6h-1.6zM330.3 657.1h1.6v1.6h-1.6zM350.4 716.4h1.6v1.6h-1.6zM325.9 663.3h1.6v1.6h-1.6zM326.5 656.2h1.6v1.6h-1.6zM316.8 666.4h1.6v1.6h-1.6zM335.1 671.9h1.6v1.6h-1.6zM298.1 652.1h1.6v1.6h-1.6zM303.3 637.2h1.6v1.6h-1.6zM318.5 692.0h1.6v1.6h-1.6zM322.8 655.5h1.6v1.6h-1.6zM325.8 681.9h1.6v1.6h-1.6zM298.5 638.9h1.6v1.6h-1.6zM313.8 620.9h1.6v1.6h-1.6zM338.9 681.9h1.6v1.6h-1.6zM297.5 628.4h1.6v1.6h-1.6zM334.8 685.6h1.6v1.6h-1.6zM307.2 654.9h1.6v1.6h-1.6zM336.4 715.5h1.6v1.6h-1.6zM326.8 647.5h1.6v1.6h-1.6zM347.5 704.0h1.6v1.6h-1.6zM315.0 638.1h1.6v1.6h-1.6zM345.8 714.5h1.6v1.6h-1.6zM323.9 668.8h1.6v1.6h-1.6zM349.6 719.1h1.6v1.6h-1.6zM335.0 678.2h1.6v1.6h-1.6zM339.5 682.6h1.6v1.6h-1.6zM323.5 626.6h1.6v1.6h-1.6zM304.2 633.1h1.6v1.6h-1.6zM331.2 664.7h1.6v1.6h-1.6zM334.5 670.5h1.6v1.6h-1.6zM300.3 637.1h1.6v1.6h-1.6zM323.2 673.9h1.6v1.6h-1.6zM340.1 682.0h1.6v1.6h-1.6zM341.0 714.1h1.6v1.6h-1.6zM321.5 641.1h1.6v1.6h-1.6zM329.4 680.8h1.6v1.6h-1.6zM338.4 700.2h1.6v1.6h-1.6zM347.3 707.0h1.6v1.6h-1.6zM339.3 689.3h1.6v1.6h-1.6zM329.2 671.0h1.6v1.6h-1.6zM320.3 646.6h1.6v1.6h-1.6zM323.6 684.5h1.6v1.6h-1.6zM317.3 629.1h1.6v1.6h-1.6zM352.1 719.0h1.6v1.6h-1.6zM331.7 684.1h1.6v1.6h-1.6zM349.3 708.7h1.6v1.6h-1.6zM332.3 698.4h1.6v1.6h-1.6zM349.1 711.9h1.6v1.6h-1.6zM295.3 635.3h1.6v1.6h-1.6zM339.0 697.2h1.6v1.6h-1.6zM344.4 703.5h1.6v1.6h-1.6zM340.0 694.8h1.6v1.6h-1.6zM314.9 638.1h1.6v1.6h-1.6zM340.2 694.0h1.6v1.6h-1.6zM332.7 702.2h1.6v1.6h-1.6zM328.0 701.5h1.6v1.6h-1.6zM312.2 631.3h1.6v1.6h-1.6zM329.2 667.9h1.6v1.6h-1.6zM330.1 654.2h1.6v1.6h-1.6zM334.2 686.0h1.6v1.6h-1.6zM326.7 651.6h1.6v1.6h-1.6zM350.7 718.1h1.6v1.6h-1.6zM313.6 675.8h1.6v1.6h-1.6zM346.1 716.7h1.6v1.6h-1.6zM336.6 698.3h1.6v1.6h-1.6zM334.8 689.2h1.6v1.6h-1.6zM324.9 660.5h1.6v1.6h-1.6zM330.1 649.4h1.6v1.6h-1.6zM313.1 666.9h1.6v1.6h-1.6zM333.8 668.0h1.6v1.6h-1.6zM317.1 662.3h1.6v1.6h-1.6zM332.1 677.9h1.6v1.6h-1.6zM327.1 674.8h1.6v1.6h-1.6zM310.8 654.7h1.6v1.6h-1.6zM338.8 686.1h1.6v1.6h-1.6zM343.9 713.7h1.6v1.6h-1.6zM329.6 653.8h1.6v1.6h-1.6zM334.5 665.3h1.6v1.6h-1.6zM329.2 675.1h1.6v1.6h-1.6zM316.1 651.0h1.6v1.6h-1.6zM333.5 669.3h1.6v1.6h-1.6zM325.2 632.4h1.6v1.6h-1.6zM345.0 700.1h1.6v1.6h-1.6zM331.0 651.0h1.6v1.6h-1.6zM344.3 693.9h1.6v1.6h-1.6zM326.8 671.3h1.6v1.6h-1.6zM336.9 699.9h1.6v1.6h-1.6zM332.5 682.3h1.6v1.6h-1.6zM336.2 696.3h1.6v1.6h-1.6zM336.9 668.7h1.6v1.6h-1.6zM339.7 679.3h1.6v1.6h-1.6zM318.5 664.2h1.6v1.6h-1.6zM340.0 692.4h1.6v1.6h-1.6zM316.9 653.9h1.6v1.6h-1.6zM339.3 714.0h1.6v1.6h-1.6zM325.5 673.3h1.6v1.6h-1.6zM342.7 702.5h1.6v1.6h-1.6zM334.8 702.1h1.6v1.6h-1.6zM327.2 661.9h1.6v1.6h-1.6zM344.7 697.1h1.6v1.6h-1.6zM343.3 692.8h1.6v1.6h-1.6zM339.6 679.6h1.6v1.6h-1.6zM341.6 700.0h1.6v1.6h-1.6zM339.3 684.4h1.6v1.6h-1.6zM332.1 657.5h1.6v1.6h-1.6zM341.0 702.3h1.6v1.6h-1.6zM338.9 693.6h1.6v1.6h-1.6zM328.3 649.1h1.6v1.6h-1.6zM330.1 694.0h1.6v1.6h-1.6zM330.0 655.8h1.6v1.6h-1.6zM324.1 660.1h1.6v1.6h-1.6zM330.6 662.5h1.6v1.6h-1.6zM303.0 647.3h1.6v1.6h-1.6zM336.2 710.9h1.6v1.6h-1.6zM342.1 702.7h1.6v1.6h-1.6zM322.8 682.0h1.6v1.6h-1.6zM342.4 713.3h1.6v1.6h-1.6zM329.2 661.8h1.6v1.6h-1.6zM347.9 716.2h1.6v1.6h-1.6zM345.4 711.7h1.6v1.6h-1.6zM322.9 668.9h1.6v1.6h-1.6zM336.0 678.2h1.6v1.6h-1.6zM344.5 713.4h1.6v1.6h-1.6zM301.9 623.7h1.6v1.6h-1.6zM342.4 703.0h1.6v1.6h-1.6zM325.7 666.8h1.6v1.6h-1.6zM345.1 717.6h1.6v1.6h-1.6zM321.0 682.9h1.6v1.6h-1.6zM324.5 629.5h1.6v1.6h-1.6zM335.2 695.4h1.6v1.6h-1.6zM331.6 695.1h1.6v1.6h-1.6zM329.9 665.4h1.6v1.6h-1.6zM333.6 695.9h1.6v1.6h-1.6zM351.2 715.4h1.6v1.6h-1.6zM333.4 688.1h1.6v1.6h-1.6zM329.5 673.8h1.6v1.6h-1.6zM342.7 710.1h1.6v1.6h-1.6zM335.0 707.9h1.6v1.6h-1.6zM326.1 658.3h1.6v1.6h-1.6zM322.5 687.7h1.6v1.6h-1.6zM343.3 703.4h1.6v1.6h-1.6zM343.0 701.3h1.6v1.6h-1.6zM311.2 699.4h1.6v1.6h-1.6zM335.6 668.4h1.6v1.6h-1.6zM322.8 631.6h1.6v1.6h-1.6zM314.3 677.7h1.6v1.6h-1.6zM348.9 713.4h1.6v1.6h-1.6zM319.7 655.3h1.6v1.6h-1.6zM331.3 670.5h1.6v1.6h-1.6zM345.9 705.9h1.6v1.6h-1.6zM349.5 712.4h1.6v1.6h-1.6zM346.2 718.7h1.6v1.6h-1.6zM314.1 623.3h1.6v1.6h-1.6zM313.0 611.9h1.6v1.6h-1.6zM329.7 669.2h1.6v1.6h-1.6zM345.2 708.6h1.6v1.6h-1.6zM320.5 629.0h1.6v1.6h-1.6zM342.8 689.2h1.6v1.6h-1.6zM332.6 686.8h1.6v1.6h-1.6zM328.9 649.9h1.6v1.6h-1.6zM338.5 707.5h1.6v1.6h-1.6zM326.8 661.8h1.6v1.6h-1.6zM320.8 660.1h1.6v1.6h-1.6zM321.0 629.2h1.6v1.6h-1.6zM334.7 674.7h1.6v1.6h-1.6zM324.2 686.6h1.6v1.6h-1.6zM334.5 686.6h1.6v1.6h-1.6zM327.3 639.1h1.6v1.6h-1.6zM336.6 685.1h1.6v1.6h-1.6zM337.5 672.2h1.6v1.6h-1.6zM333.0 712.7h1.6v1.6h-1.6zM307.2 626.7h1.6v1.6h-1.6zM342.9 694.6h1.6v1.6h-1.6zM324.4 646.1h1.6v1.6h-1.6zM311.8 657.2h1.6v1.6h-1.6zM346.8 716.7h1.6v1.6h-1.6zM312.9 641.6h1.6v1.6h-1.6zM348.1 716.7h1.6v1.6h-1.6zM336.9 683.8h1.6v1.6h-1.6zM329.0 696.5h1.6v1.6h-1.6zM339.6 678.3h1.6v1.6h-1.6zM328.2 688.3h1.6v1.6h-1.6zM307.6 627.0h1.6v1.6h-1.6zM328.9 664.6h1.6v1.6h-1.6zM319.8 618.9h1.6v1.6h-1.6zM325.8 637.3h1.6v1.6h-1.6zM313.9 667.1h1.6v1.6h-1.6zM338.4 677.9h1.6v1.6h-1.6zM313.3 655.5h1.6v1.6h-1.6zM350.6 715.7h1.6v1.6h-1.6zM333.0 670.5h1.6v1.6h-1.6zM341.4 689.5h1.6v1.6h-1.6zM318.2 680.0h1.6v1.6h-1.6zM339.9 694.4h1.6v1.6h-1.6zM337.3 682.5h1.6v1.6h-1.6zM313.7 633.0h1.6v1.6h-1.6zM325.4 628.0h1.6v1.6h-1.6zM342.2 707.6h1.6v1.6h-1.6zM341.7 696.2h1.6v1.6h-1.6zM320.1 624.6h1.6v1.6h-1.6zM349.7 709.7h1.6v1.6h-1.6zM345.6 707.0h1.6v1.6h-1.6zM341.2 684.4h1.6v1.6h-1.6zM334.6 672.9h1.6v1.6h-1.6zM342.1 688.7h1.6v1.6h-1.6zM333.5 697.4h1.6v1.6h-1.6zM338.8 700.9h1.6v1.6h-1.6zM341.1 709.7h1.6v1.6h-1.6zM338.2 707.5h1.6v1.6h-1.6zM331.6 662.1h1.6v1.6h-1.6zM337.2 680.1h1.6v1.6h-1.6zM312.6 628.4h1.6v1.6h-1.6zM330.6 648.5h1.6v1.6h-1.6zM347.2 708.2h1.6v1.6h-1.6zM329.6 666.5h1.6v1.6h-1.6zM323.5 623.3h1.6v1.6h-1.6zM342.6 705.9h1.6v1.6h-1.6zM322.2 680.0h1.6v1.6h-1.6zM344.7 709.4h1.6v1.6h-1.6zM330.9 664.5h1.6v1.6h-1.6zM316.4 653.1h1.6v1.6h-1.6zM327.7 651.4h1.6v1.6h-1.6zM320.7 648.0h1.6v1.6h-1.6zM347.5 717.5h1.6v1.6h-1.6zM342.0 696.7h1.6v1.6h-1.6zM344.8 711.6h1.6v1.6h-1.6zM337.8 683.2h1.6v1.6h-1.6zM339.6 706.3h1.6v1.6h-1.6zM335.3 683.7h1.6v1.6h-1.6zM346.9 706.8h1.6v1.6h-1.6zM347.5 715.2h1.6v1.6h-1.6zM332.3 663.2h1.6v1.6h-1.6zM307.6 639.4h1.6v1.6h-1.6zM335.9 678.5h1.6v1.6h-1.6zM309.0 640.4h1.6v1.6h-1.6zM317.4 625.9h1.6v1.6h-1.6zM315.5 657.2h1.6v1.6h-1.6zM320.1 653.0h1.6v1.6h-1.6zM316.9 628.9h1.6v1.6h-1.6zM327.3 670.1h1.6v1.6h-1.6zM336.4 698.2h1.6v1.6h-1.6zM315.5 650.8h1.6v1.6h-1.6zM321.7 673.7h1.6v1.6h-1.6zM346.0 706.9h1.6v1.6h-1.6zM327.6 653.6h1.6v1.6h-1.6zM335.4 674.2h1.6v1.6h-1.6zM323.0 653.7h1.6v1.6h-1.6zM328.2 653.3h1.6v1.6h-1.6zM325.4 653.4h1.6v1.6h-1.6zM326.2 654.1h1.6v1.6h-1.6zM346.6 708.4h1.6v1.6h-1.6zM348.0 706.5h1.6v1.6h-1.6zM313.8 654.6h1.6v1.6h-1.6zM323.8 626.0h1.6v1.6h-1.6zM345.4 714.1h1.6v1.6h-1.6zM309.7 626.2h1.6v1.6h-1.6zM346.3 711.3h1.6v1.6h-1.6zM311.4 635.5h1.6v1.6h-1.6zM338.2 674.4h1.6v1.6h-1.6zM338.1 686.1h1.6v1.6h-1.6zM329.5 681.2h1.6v1.6h-1.6zM350.3 712.5h1.6v1.6h-1.6zM308.2 632.0h1.6v1.6h-1.6zM334.3 690.2h1.6v1.6h-1.6zM310.1 680.7h1.6v1.6h-1.6zM333.2 672.9h1.6v1.6h-1.6zM351.6 717.2h1.6v1.6h-1.6zM345.6 696.3h1.6v1.6h-1.6zM306.6 658.4h1.6v1.6h-1.6zM335.7 696.9h1.6v1.6h-1.6zM271.6 632.6h1.6v1.6h-1.6zM305.8 649.4h1.6v1.6h-1.6zM343.1 705.8h1.6v1.6h-1.6zM342.6 700.0h1.6v1.6h-1.6zM330.0 687.8h1.6v1.6h-1.6zM321.2 661.3h1.6v1.6h-1.6zM329.5 678.0h1.6v1.6h-1.6zM330.1 690.8h1.6v1.6h-1.6zM320.3 665.8h1.6v1.6h-1.6zM317.9 675.3h1.6v1.6h-1.6zM342.9 700.8h1.6v1.6h-1.6zM308.4 657.9h1.6v1.6h-1.6zM337.4 684.8h1.6v1.6h-1.6zM320.2 656.1h1.6v1.6h-1.6zM332.9 668.6h1.6v1.6h-1.6zM334.1 662.6h1.6v1.6h-1.6zM301.6 648.3h1.6v1.6h-1.6zM335.8 704.7h1.6v1.6h-1.6zM340.2 696.3h1.6v1.6h-1.6zM348.6 715.4h1.6v1.6h-1.6zM328.0 671.2h1.6v1.6h-1.6zM337.7 684.9h1.6v1.6h-1.6zM344.4 704.7h1.6v1.6h-1.6zM333.7 675.0h1.6v1.6h-1.6zM320.6 643.2h1.6v1.6h-1.6zM324.8 666.7h1.6v1.6h-1.6zM330.3 659.4h1.6v1.6h-1.6zM342.0 705.2h1.6v1.6h-1.6zM325.0 685.8h1.6v1.6h-1.6zM328.2 684.7h1.6v1.6h-1.6zM334.4 680.4h1.6v1.6h-1.6zM325.0 643.4h1.6v1.6h-1.6zM319.1 669.3h1.6v1.6h-1.6zM321.6 683.3h1.6v1.6h-1.6zM323.3 632.7h1.6v1.6h-1.6zM303.6 638.8h1.6v1.6h-1.6zM342.4 695.8h1.6v1.6h-1.6zM331.3 691.2h1.6v1.6h-1.6zM325.8 668.4h1.6v1.6h-1.6zM341.3 690.5h1.6v1.6h-1.6zM344.8 704.3h1.6v1.6h-1.6zM325.9 643.2h1.6v1.6h-1.6zM328.4 650.6h1.6v1.6h-1.6zM337.9 697.0h1.6v1.6h-1.6zM351.5 718.7h1.6v1.6h-1.6zM331.0 671.6h1.6v1.6h-1.6zM298.7 624.1h1.6v1.6h-1.6zM318.7 630.3h1.6v1.6h-1.6zM302.2 647.6h1.6v1.6h-1.6zM333.0 675.3h1.6v1.6h-1.6zM327.5 644.2h1.6v1.6h-1.6zM323.9 641.1h1.6v1.6h-1.6zM344.4 705.9h1.6v1.6h-1.6zM314.0 625.0h1.6v1.6h-1.6zM309.3 624.8h1.6v1.6h-1.6zM311.5 635.5h1.6v1.6h-1.6zM311.9 622.8h1.6v1.6h-1.6zM337.0 677.9h1.6v1.6h-1.6zM313.3 626.2h1.6v1.6h-1.6zM336.1 688.3h1.6v1.6h-1.6zM324.1 644.7h1.6v1.6h-1.6zM348.0 711.5h1.6v1.6h-1.6zM318.8 667.7h1.6v1.6h-1.6zM322.4 659.5h1.6v1.6h-1.6zM294.5 636.6h1.6v1.6h-1.6zM341.3 697.9h1.6v1.6h-1.6zM327.0 662.6h1.6v1.6h-1.6zM337.7 674.6h1.6v1.6h-1.6zM341.9 685.3h1.6v1.6h-1.6zM302.9 644.5h1.6v1.6h-1.6zM342.2 689.7h1.6v1.6h-1.6zM347.5 712.2h1.6v1.6h-1.6zM317.0 638.5h1.6v1.6h-1.6zM313.6 691.2h1.6v1.6h-1.6zM328.2 648.9h1.6v1.6h-1.6zM322.3 668.7h1.6v1.6h-1.6zM346.3 706.3h1.6v1.6h-1.6zM328.2 659.8h1.6v1.6h-1.6zM341.6 690.2h1.6v1.6h-1.6zM319.6 626.6h1.6v1.6h-1.6zM327.4 659.4h1.6v1.6h-1.6zM338.2 706.0h1.6v1.6h-1.6zM320.4 650.8h1.6v1.6h-1.6zM333.2 667.5h1.6v1.6h-1.6zM343.7 698.2h1.6v1.6h-1.6zM325.1 672.2h1.6v1.6h-1.6zM350.0 715.0h1.6v1.6h-1.6zM327.9 699.1h1.6v1.6h-1.6zM322.2 661.4h1.6v1.6h-1.6zM338.7 695.3h1.6v1.6h-1.6zM352.2 718.5h1.6v1.6h-1.6zM345.5 715.8h1.6v1.6h-1.6zM291.9 672.6h1.6v1.6h-1.6zM349.8 713.0h1.6v1.6h-1.6zM325.0 635.8h1.6v1.6h-1.6zM340.6 703.1h1.6v1.6h-1.6zM338.3 681.2h1.6v1.6h-1.6zM325.9 669.8h1.6v1.6h-1.6zM317.5 653.0h1.6v1.6h-1.6zM326.5 665.2h1.6v1.6h-1.6zM335.9 689.6h1.6v1.6h-1.6zM327.4 660.0h1.6v1.6h-1.6zM337.8 704.5h1.6v1.6h-1.6zM346.5 711.1h1.6v1.6h-1.6zM345.1 695.9h1.6v1.6h-1.6zM324.7 680.6h1.6v1.6h-1.6zM320.3 627.4h1.6v1.6h-1.6zM333.4 675.8h1.6v1.6h-1.6zM308.4 682.6h1.6v1.6h-1.6zM336.9 696.9h1.6v1.6h-1.6zM339.9 695.9h1.6v1.6h-1.6zM317.3 660.8h1.6v1.6h-1.6zM336.4 709.5h1.6v1.6h-1.6zM330.7 657.1h1.6v1.6h-1.6zM343.3 694.5h1.6v1.6h-1.6zM349.8 718.1h1.6v1.6h-1.6zM291.6 629.4h1.6v1.6h-1.6zM311.7 647.0h1.6v1.6h-1.6zM316.1 613.3h1.6v1.6h-1.6zM334.4 660.1h1.6v1.6h-1.6zM341.9 691.4h1.6v1.6h-1.6zM322.4 645.5h1.6v1.6h-1.6zM296.9 645.3h1.6v1.6h-1.6zM335.2 687.1h1.6v1.6h-1.6zM340.2 691.3h1.6v1.6h-1.6zM329.8 664.8h1.6v1.6h-1.6zM325.3 671.5h1.6v1.6h-1.6zM342.1 708.6h1.6v1.6h-1.6zM349.4 717.1h1.6v1.6h-1.6zM325.4 679.4h1.6v1.6h-1.6zM326.8 679.4h1.6v1.6h-1.6zM326.7 670.2h1.6v1.6h-1.6zM333.6 661.4h1.6v1.6h-1.6zM322.5 680.6h1.6v1.6h-1.6zM331.3 679.4h1.6v1.6h-1.6zM333.4 679.2h1.6v1.6h-1.6zM333.8 657.9h1.6v1.6h-1.6zM339.0 700.6h1.6v1.6h-1.6zM323.4 630.7h1.6v1.6h-1.6zM320.9 643.5h1.6v1.6h-1.6zM314.5 648.2h1.6v1.6h-1.6zM335.0 701.9h1.6v1.6h-1.6zM338.4 694.4h1.6v1.6h-1.6zM338.4 706.5h1.6v1.6h-1.6zM331.9 680.4h1.6v1.6h-1.6zM335.2 695.5h1.6v1.6h-1.6zM329.9 684.7h1.6v1.6h-1.6zM337.3 673.8h1.6v1.6h-1.6zM325.3 638.7h1.6v1.6h-1.6zM327.6 686.9h1.6v1.6h-1.6zM344.3 698.4h1.6v1.6h-1.6zM322.0 677.4h1.6v1.6h-1.6zM331.1 681.5h1.6v1.6h-1.6zM353.0 718.5h1.6v1.6h-1.6zM322.7 637.7h1.6v1.6h-1.6zM345.4 712.1h1.6v1.6h-1.6zM353.0 718.2h1.6v1.6h-1.6zM313.2 665.4h1.6v1.6h-1.6zM313.8 641.3h1.6v1.6h-1.6zM333.1 710.6h1.6v1.6h-1.6zM327.5 648.2h1.6v1.6h-1.6zM338.8 680.6h1.6v1.6h-1.6zM333.2 693.2h1.6v1.6h-1.6zM301.2 643.0h1.6v1.6h-1.6zM316.0 642.3h1.6v1.6h-1.6zM349.0 707.8h1.6v1.6h-1.6zM316.6 636.6h1.6v1.6h-1.6zM340.1 688.9h1.6v1.6h-1.6zM336.9 675.0h1.6v1.6h-1.6zM348.9 709.3h1.6v1.6h-1.6zM329.7 680.2h1.6v1.6h-1.6zM341.6 715.1h1.6v1.6h-1.6zM311.0 637.4h1.6v1.6h-1.6zM334.8 682.7h1.6v1.6h-1.6zM346.2 700.2h1.6v1.6h-1.6zM314.8 649.9h1.6v1.6h-1.6zM309.8 633.2h1.6v1.6h-1.6zM319.8 630.9h1.6v1.6h-1.6zM325.6 657.7h1.6v1.6h-1.6zM342.5 715.3h1.6v1.6h-1.6zM328.7 680.6h1.6v1.6h-1.6zM332.5 673.4h1.6v1.6h-1.6zM342.0 699.2h1.6v1.6h-1.6zM351.0 718.8h1.6v1.6h-1.6zM330.6 655.8h1.6v1.6h-1.6zM329.3 680.1h1.6v1.6h-1.6zM331.3 658.8h1.6v1.6h-1.6zM320.7 703.3h1.6v1.6h-1.6zM335.3 671.0h1.6v1.6h-1.6zM309.2 630.1h1.6v1.6h-1.6zM332.3 684.0h1.6v1.6h-1.6zM332.1 673.8h1.6v1.6h-1.6zM321.5 693.1h1.6v1.6h-1.6zM332.3 671.4h1.6v1.6h-1.6zM314.2 638.1h1.6v1.6h-1.6zM331.3 692.6h1.6v1.6h-1.6zM323.8 682.6h1.6v1.6h-1.6zM338.8 688.0h1.6v1.6h-1.6zM323.4 641.1h1.6v1.6h-1.6zM344.1 707.9h1.6v1.6h-1.6zM332.2 696.6h1.6v1.6h-1.6zM333.5 693.6h1.6v1.6h-1.6zM336.1 707.2h1.6v1.6h-1.6zM340.6 690.8h1.6v1.6h-1.6zM341.5 695.3h1.6v1.6h-1.6zM332.7 663.3h1.6v1.6h-1.6zM320.6 633.1h1.6v1.6h-1.6zM338.9 703.3h1.6v1.6h-1.6zM348.9 717.3h1.6v1.6h-1.6zM326.4 670.8h1.6v1.6h-1.6zM345.2 712.7h1.6v1.6h-1.6zM333.4 700.2h1.6v1.6h-1.6zM335.3 693.5h1.6v1.6h-1.6zM331.4 658.1h1.6v1.6h-1.6zM336.8 668.2h1.6v1.6h-1.6zM311.5 630.5h1.6v1.6h-1.6zM314.1 654.0h1.6v1.6h-1.6zM334.9 697.0h1.6v1.6h-1.6zM328.8 675.8h1.6v1.6h-1.6zM350.1 713.9h1.6v1.6h-1.6zM318.0 626.5h1.6v1.6h-1.6zM325.7 631.2h1.6v1.6h-1.6zM336.7 681.8h1.6v1.6h-1.6zM334.4 676.6h1.6v1.6h-1.6zM344.8 718.4h1.6v1.6h-1.6zM348.1 718.4h1.6v1.6h-1.6zM345.0 699.5h1.6v1.6h-1.6zM334.5 664.2h1.6v1.6h-1.6zM334.4 709.1h1.6v1.6h-1.6zM310.0 624.5h1.6v1.6h-1.6zM321.6 632.4h1.6v1.6h-1.6zM314.1 621.3h1.6v1.6h-1.6zM344.9 699.0h1.6v1.6h-1.6zM339.1 679.3h1.6v1.6h-1.6zM324.1 629.3h1.6v1.6h-1.6zM337.4 692.1h1.6v1.6h-1.6zM306.9 623.7h1.6v1.6h-1.6zM330.1 657.7h1.6v1.6h-1.6zM344.7 708.3h1.6v1.6h-1.6zM319.3 701.3h1.6v1.6h-1.6zM332.1 657.2h1.6v1.6h-1.6zM341.3 688.1h1.6v1.6h-1.6zM322.5 620.4h1.6v1.6h-1.6zM300.3 634.9h1.6v1.6h-1.6zM338.2 679.6h1.6v1.6h-1.6zM332.2 658.5h1.6v1.6h-1.6zM342.9 702.1h1.6v1.6h-1.6zM333.6 687.0h1.6v1.6h-1.6zM328.4 706.5h1.6v1.6h-1.6zM333.5 691.9h1.6v1.6h-1.6zM336.2 708.1h1.6v1.6h-1.6zM332.9 676.5h1.6v1.6h-1.6zM347.2 710.4h1.6v1.6h-1.6zM347.2 715.3h1.6v1.6h-1.6zM349.6 711.2h1.6v1.6h-1.6zM334.3 694.8h1.6v1.6h-1.6zM336.1 674.9h1.6v1.6h-1.6zM324.6 672.8h1.6v1.6h-1.6zM312.4 629.2h1.6v1.6h-1.6zM322.4 701.9h1.6v1.6h-1.6zM342.4 704.8h1.6v1.6h-1.6zM330.1 686.7h1.6v1.6h-1.6zM294.1 621.5h1.6v1.6h-1.6zM322.7 640.3h1.6v1.6h-1.6zM327.9 643.1h1.6v1.6h-1.6zM350.3 717.8h1.6v1.6h-1.6zM304.9 643.3h1.6v1.6h-1.6zM336.1 702.5h1.6v1.6h-1.6zM304.1 627.0h1.6v1.6h-1.6zM342.3 690.4h1.6v1.6h-1.6zM333.3 661.5h1.6v1.6h-1.6zM345.8 698.1h1.6v1.6h-1.6zM342.3 697.5h1.6v1.6h-1.6zM326.3 645.7h1.6v1.6h-1.6zM324.5 630.9h1.6v1.6h-1.6zM339.3 682.2h1.6v1.6h-1.6zM314.6 667.2h1.6v1.6h-1.6zM353.7 719.4h1.6v1.6h-1.6zM329.4 649.3h1.6v1.6h-1.6zM340.2 712.4h1.6v1.6h-1.6zM321.0 630.7h1.6v1.6h-1.6zM322.9 638.1h1.6v1.6h-1.6zM314.3 647.9h1.6v1.6h-1.6zM339.6 692.3h1.6v1.6h-1.6zM345.8 716.4h1.6v1.6h-1.6zM313.7 627.0h1.6v1.6h-1.6zM341.8 686.2h1.6v1.6h-1.6zM325.3 701.7h1.6v1.6h-1.6zM323.6 649.6h1.6v1.6h-1.6zM311.9 628.0h1.6v1.6h-1.6zM312.4 628.2h1.6v1.6h-1.6zM323.2 665.7h1.6v1.6h-1.6zM333.9 679.6h1.6v1.6h-1.6zM310.9 643.0h1.6v1.6h-1.6zM320.3 638.1h1.6v1.6h-1.6zM306.6 667.5h1.6v1.6h-1.6zM319.9 642.1h1.6v1.6h-1.6zM316.7 645.7h1.6v1.6h-1.6zM329.2 686.4h1.6v1.6h-1.6zM332.4 707.9h1.6v1.6h-1.6zM335.2 680.9h1.6v1.6h-1.6zM346.9 714.7h1.6v1.6h-1.6zM325.0 681.8h1.6v1.6h-1.6zM336.9 680.6h1.6v1.6h-1.6zM322.4 635.1h1.6v1.6h-1.6zM320.5 667.7h1.6v1.6h-1.6zM335.5 677.9h1.6v1.6h-1.6zM320.0 682.4h1.6v1.6h-1.6zM319.5 634.1h1.6v1.6h-1.6zM329.8 642.9h1.6v1.6h-1.6zM337.9 679.5h1.6v1.6h-1.6zM330.7 679.6h1.6v1.6h-1.6zM316.4 680.5h1.6v1.6h-1.6zM346.3 712.3h1.6v1.6h-1.6zM302.1 640.4h1.6v1.6h-1.6zM308.2 625.7h1.6v1.6h-1.6zM322.2 653.2h1.6v1.6h-1.6zM342.8 695.9h1.6v1.6h-1.6zM343.2 707.2h1.6v1.6h-1.6zM303.5 626.3h1.6v1.6h-1.6zM329.8 657.9h1.6v1.6h-1.6zM335.6 687.7h1.6v1.6h-1.6zM326.0 636.6h1.6v1.6h-1.6zM315.1 696.7h1.6v1.6h-1.6zM340.0 700.4h1.6v1.6h-1.6zM346.0 703.4h1.6v1.6h-1.6zM330.5 671.2h1.6v1.6h-1.6zM307.9 633.8h1.6v1.6h-1.6zM337.4 690.7h1.6v1.6h-1.6zM344.6 706.1h1.6v1.6h-1.6zM315.1 639.5h1.6v1.6h-1.6zM336.6 689.2h1.6v1.6h-1.6zM328.8 681.6h1.6v1.6h-1.6zM338.4 685.2h1.6v1.6h-1.6zM337.0 674.5h1.6v1.6h-1.6zM306.9 633.5h1.6v1.6h-1.6zM338.9 697.6h1.6v1.6h-1.6zM325.3 630.4h1.6v1.6h-1.6zM322.7 662.4h1.6v1.6h-1.6zM318.5 622.6h1.6v1.6h-1.6zM321.7 629.1h1.6v1.6h-1.6zM323.2 635.8h1.6v1.6h-1.6zM346.2 710.1h1.6v1.6h-1.6zM319.9 623.4h1.6v1.6h-1.6zM318.4 640.0h1.6v1.6h-1.6zM338.1 697.8h1.6v1.6h-1.6zM345.7 713.6h1.6v1.6h-1.6zM338.5 685.2h1.6v1.6h-1.6zM320.9 650.7h1.6v1.6h-1.6zM339.8 696.6h1.6v1.6h-1.6zM342.3 703.7h1.6v1.6h-1.6zM345.9 701.0h1.6v1.6h-1.6zM339.3 687.1h1.6v1.6h-1.6zM342.5 692.3h1.6v1.6h-1.6zM318.7 618.2h1.6v1.6h-1.6zM344.3 696.4h1.6v1.6h-1.6zM340.6 705.2h1.6v1.6h-1.6zM325.5 685.5h1.6v1.6h-1.6zM316.6 632.8h1.6v1.6h-1.6zM337.0 703.8h1.6v1.6h-1.6zM340.8 699.9h1.6v1.6h-1.6zM344.4 700.4h1.6v1.6h-1.6zM335.6 669.7h1.6v1.6h-1.6zM343.9 700.9h1.6v1.6h-1.6zM328.5 660.3h1.6v1.6h-1.6zM334.9 662.2h1.6v1.6h-1.6zM339.2 704.5h1.6v1.6h-1.6zM341.6 689.0h1.6v1.6h-1.6zM287.9 619.9h1.6v1.6h-1.6zM342.6 699.1h1.6v1.6h-1.6zM292.7 643.9h1.6v1.6h-1.6zM294.5 636.0h1.6v1.6h-1.6zM337.8 686.2h1.6v1.6h-1.6zM334.1 692.9h1.6v1.6h-1.6zM321.6 638.5h1.6v1.6h-1.6zM347.1 713.4h1.6v1.6h-1.6zM332.1 670.5h1.6v1.6h-1.6zM317.0 629.5h1.6v1.6h-1.6zM338.8 679.5h1.6v1.6h-1.6zM319.4 630.8h1.6v1.6h-1.6zM348.3 714.8h1.6v1.6h-1.6zM315.1 668.6h1.6v1.6h-1.6zM326.6 655.8h1.6v1.6h-1.6zM326.2 695.7h1.6v1.6h-1.6zM335.7 681.3h1.6v1.6h-1.6zM343.2 706.4h1.6v1.6h-1.6zM303.1 651.0h1.6v1.6h-1.6zM341.0 707.6h1.6v1.6h-1.6zM322.7 647.4h1.6v1.6h-1.6zM343.8 698.6h1.6v1.6h-1.6zM305.8 677.1h1.6v1.6h-1.6zM340.9 710.7h1.6v1.6h-1.6zM322.1 647.1h1.6v1.6h-1.6zM341.0 691.0h1.6v1.6h-1.6zM320.7 652.8h1.6v1.6h-1.6zM317.9 649.6h1.6v1.6h-1.6zM291.3 625.5h1.6v1.6h-1.6zM339.4 690.8h1.6v1.6h-1.6zM319.7 627.2h1.6v1.6h-1.6zM325.8 631.6h1.6v1.6h-1.6zM341.8 707.4h1.6v1.6h-1.6zM347.0 710.8h1.6v1.6h-1.6zM331.0 668.9h1.6v1.6h-1.6zM319.7 631.8h1.6v1.6h-1.6zM324.7 665.7h1.6v1.6h-1.6zM336.6 689.5h1.6v1.6h-1.6zM321.2 659.1h1.6v1.6h-1.6zM321.1 647.9h1.6v1.6h-1.6zM329.8 667.8h1.6v1.6h-1.6zM344.0 710.4h1.6v1.6h-1.6zM308.1 633.6h1.6v1.6h-1.6zM329.5 659.1h1.6v1.6h-1.6zM347.9 715.9h1.6v1.6h-1.6zM322.7 636.9h1.6v1.6h-1.6zM321.2 661.7h1.6v1.6h-1.6zM330.8 672.7h1.6v1.6h-1.6zM346.1 701.4h1.6v1.6h-1.6zM329.8 667.0h1.6v1.6h-1.6zM346.4 707.0h1.6v1.6h-1.6zM339.8 704.3h1.6v1.6h-1.6zM347.7 707.0h1.6v1.6h-1.6zM339.5 687.2h1.6v1.6h-1.6zM328.9 688.9h1.6v1.6h-1.6zM326.6 650.2h1.6v1.6h-1.6zM346.0 712.6h1.6v1.6h-1.6zM343.9 709.7h1.6v1.6h-1.6zM331.2 687.6h1.6v1.6h-1.6zM319.3 622.8h1.6v1.6h-1.6zM298.0 659.5h1.6v1.6h-1.6zM320.8 674.3h1.6v1.6h-1.6zM338.9 711.2h1.6v1.6h-1.6zM345.8 717.5h1.6v1.6h-1.6zM321.4 627.0h1.6v1.6h-1.6zM337.1 670.3h1.6v1.6h-1.6zM346.7 704.0h1.6v1.6h-1.6zM331.9 677.4h1.6v1.6h-1.6zM338.5 701.6h1.6v1.6h-1.6zM335.7 697.4h1.6v1.6h-1.6zM326.9 652.0h1.6v1.6h-1.6zM331.8 651.4h1.6v1.6h-1.6zM327.2 660.8h1.6v1.6h-1.6zM321.6 627.1h1.6v1.6h-1.6zM338.1 713.2h1.6v1.6h-1.6zM334.8 680.3h1.6v1.6h-1.6zM334.2 662.2h1.6v1.6h-1.6zM341.0 695.0h1.6v1.6h-1.6zM311.7 653.8h1.6v1.6h-1.6zM322.3 671.9h1.6v1.6h-1.6zM316.4 634.8h1.6v1.6h-1.6zM320.4 630.2h1.6v1.6h-1.6zM327.7 634.6h1.6v1.6h-1.6zM316.9 670.4h1.6v1.6h-1.6zM323.0 642.0h1.6v1.6h-1.6zM335.1 662.3h1.6v1.6h-1.6zM320.2 670.2h1.6v1.6h-1.6zM327.8 637.4h1.6v1.6h-1.6zM314.8 637.1h1.6v1.6h-1.6zM317.0 633.9h1.6v1.6h-1.6zM315.9 629.3h1.6v1.6h-1.6zM316.8 660.3h1.6v1.6h-1.6zM313.4 702.3h1.6v1.6h-1.6zM288.7 643.7h1.6v1.6h-1.6zM344.4 717.2h1.6v1.6h-1.6zM313.5 632.5h1.6v1.6h-1.6zM351.9 719.0h1.6v1.6h-1.6zM332.0 694.3h1.6v1.6h-1.6zM349.0 709.6h1.6v1.6h-1.6zM330.3 652.8h1.6v1.6h-1.6zM337.8 680.4h1.6v1.6h-1.6zM326.5 655.3h1.6v1.6h-1.6zM348.1 706.3h1.6v1.6h-1.6zM330.4 661.0h1.6v1.6h-1.6zM318.5 687.6h1.6v1.6h-1.6zM337.3 703.1h1.6v1.6h-1.6zM340.3 683.0h1.6v1.6h-1.6zM327.2 667.8h1.6v1.6h-1.6zM323.9 699.1h1.6v1.6h-1.6zM346.6 716.0h1.6v1.6h-1.6zM329.1 660.9h1.6v1.6h-1.6zM333.0 659.0h1.6v1.6h-1.6zM343.8 696.1h1.6v1.6h-1.6zM327.3 645.6h1.6v1.6h-1.6zM320.9 631.2h1.6v1.6h-1.6zM327.0 655.6h1.6v1.6h-1.6zM341.7 703.6h1.6v1.6h-1.6zM346.2 708.5h1.6v1.6h-1.6zM335.9 676.5h1.6v1.6h-1.6zM318.7 669.9h1.6v1.6h-1.6zM327.8 650.5h1.6v1.6h-1.6zM323.9 637.7h1.6v1.6h-1.6zM310.9 618.4h1.6v1.6h-1.6zM335.7 714.9h1.6v1.6h-1.6zM309.7 634.8h1.6v1.6h-1.6zM320.8 666.8h1.6v1.6h-1.6zM336.3 691.8h1.6v1.6h-1.6zM303.2 634.1h1.6v1.6h-1.6zM325.5 642.6h1.6v1.6h-1.6zM344.2 708.6h1.6v1.6h-1.6zM316.3 626.6h1.6v1.6h-1.6zM320.6 642.1h1.6v1.6h-1.6zM329.2 668.0h1.6v1.6h-1.6zM328.0 667.8h1.6v1.6h-1.6zM329.4 679.3h1.6v1.6h-1.6zM352.8 718.8h1.6v1.6h-1.6zM323.6 672.8h1.6v1.6h-1.6zM304.3 616.6h1.6v1.6h-1.6zM324.2 649.3h1.6v1.6h-1.6zM330.6 676.5h1.6v1.6h-1.6zM344.9 715.8h1.6v1.6h-1.6zM327.2 665.3h1.6v1.6h-1.6zM334.5 665.5h1.6v1.6h-1.6zM322.8 674.4h1.6v1.6h-1.6zM335.0 697.6h1.6v1.6h-1.6zM306.1 673.8h1.6v1.6h-1.6zM330.4 674.3h1.6v1.6h-1.6zM332.7 660.6h1.6v1.6h-1.6zM323.9 665.0h1.6v1.6h-1.6zM311.2 653.3h1.6v1.6h-1.6zM312.5 654.8h1.6v1.6h-1.6zM319.7 624.3h1.6v1.6h-1.6zM310.7 636.7h1.6v1.6h-1.6zM320.6 636.6h1.6v1.6h-1.6zM333.4 680.0h1.6v1.6h-1.6zM313.2 640.3h1.6v1.6h-1.6zM316.9 654.8h1.6v1.6h-1.6zM325.3 652.6h1.6v1.6h-1.6zM321.4 635.9h1.6v1.6h-1.6zM314.8 633.8h1.6v1.6h-1.6zM336.7 692.3h1.6v1.6h-1.6zM330.3 683.6h1.6v1.6h-1.6zM321.7 644.1h1.6v1.6h-1.6zM338.5 689.4h1.6v1.6h-1.6zM324.3 653.2h1.6v1.6h-1.6zM318.2 627.0h1.6v1.6h-1.6zM341.5 688.0h1.6v1.6h-1.6zM304.3 646.4h1.6v1.6h-1.6zM330.7 656.5h1.6v1.6h-1.6zM350.9 713.4h1.6v1.6h-1.6zM341.8 685.5h1.6v1.6h-1.6zM324.2 642.9h1.6v1.6h-1.6zM334.9 690.9h1.6v1.6h-1.6zM338.8 711.5h1.6v1.6h-1.6zM311.8 633.4h1.6v1.6h-1.6zM339.4 696.5h1.6v1.6h-1.6zM330.5 654.8h1.6v1.6h-1.6zM334.1 671.2h1.6v1.6h-1.6zM336.4 683.2h1.6v1.6h-1.6zM336.0 694.8h1.6v1.6h-1.6zM323.9 659.9h1.6v1.6h-1.6zM316.4 649.2h1.6v1.6h-1.6zM338.5 706.5h1.6v1.6h-1.6zM346.3 704.4h1.6v1.6h-1.6zM339.7 688.6h1.6v1.6h-1.6zM302.0 629.6h1.6v1.6h-1.6zM330.0 666.0h1.6v1.6h-1.6zM332.3 697.9h1.6v1.6h-1.6zM331.3 653.9h1.6v1.6h-1.6zM304.0 651.6h1.6v1.6h-1.6zM326.8 650.7h1.6v1.6h-1.6zM313.9 625.7h1.6v1.6h-1.6zM330.5 658.3h1.6v1.6h-1.6zM338.1 703.5h1.6v1.6h-1.6zM313.7 628.3h1.6v1.6h-1.6zM332.3 685.3h1.6v1.6h-1.6zM340.1 681.9h1.6v1.6h-1.6zM325.1 667.1h1.6v1.6h-1.6zM339.0 690.3h1.6v1.6h-1.6zM331.6 680.7h1.6v1.6h-1.6zM324.8 688.5h1.6v1.6h-1.6zM343.2 703.8h1.6v1.6h-1.6zM322.9 623.2h1.6v1.6h-1.6zM343.5 703.6h1.6v1.6h-1.6zM315.6 625.5h1.6v1.6h-1.6zM325.3 652.2h1.6v1.6h-1.6zM317.1 690.7h1.6v1.6h-1.6zM314.2 663.5h1.6v1.6h-1.6zM305.5 627.7h1.6v1.6h-1.6zM339.4 685.0h1.6v1.6h-1.6zM349.5 711.9h1.6v1.6h-1.6zM327.9 657.6h1.6v1.6h-1.6zM317.1 645.0h1.6v1.6h-1.6zM283.2 622.1h1.6v1.6h-1.6zM304.8 678.5h1.6v1.6h-1.6zM339.0 685.7h1.6v1.6h-1.6zM335.7 681.9h1.6v1.6h-1.6zM331.1 673.3h1.6v1.6h-1.6zM335.9 679.0h1.6v1.6h-1.6zM345.9 703.3h1.6v1.6h-1.6zM324.6 658.7h1.6v1.6h-1.6zM344.0 706.3h1.6v1.6h-1.6zM318.8 682.7h1.6v1.6h-1.6zM339.9 690.9h1.6v1.6h-1.6zM322.3 654.0h1.6v1.6h-1.6zM341.5 691.9h1.6v1.6h-1.6zM323.7 689.8h1.6v1.6h-1.6zM317.6 634.2h1.6v1.6h-1.6zM315.4 645.0h1.6v1.6h-1.6zM319.4 620.1h1.6v1.6h-1.6zM336.3 681.7h1.6v1.6h-1.6zM343.1 702.3h1.6v1.6h-1.6zM340.5 714.2h1.6v1.6h-1.6zM319.9 638.7h1.6v1.6h-1.6zM314.0 671.3h1.6v1.6h-1.6zM318.9 678.2h1.6v1.6h-1.6zM332.9 679.9h1.6v1.6h-1.6zM344.5 702.9h1.6v1.6h-1.6zM329.8 655.7h1.6v1.6h-1.6zM330.0 691.0h1.6v1.6h-1.6zM338.4 710.6h1.6v1.6h-1.6zM326.8 640.5h1.6v1.6h-1.6zM323.1 663.1h1.6v1.6h-1.6zM346.5 710.8h1.6v1.6h-1.6zM343.0 715.5h1.6v1.6h-1.6zM302.1 636.9h1.6v1.6h-1.6zM333.5 663.1h1.6v1.6h-1.6zM320.9 649.0h1.6v1.6h-1.6zM330.8 700.3h1.6v1.6h-1.6zM295.0 655.5h1.6v1.6h-1.6zM335.9 674.3h1.6v1.6h-1.6zM310.2 623.2h1.6v1.6h-1.6zM345.3 710.4h1.6v1.6h-1.6zM341.5 694.2h1.6v1.6h-1.6zM331.6 667.1h1.6v1.6h-1.6zM308.2 650.3h1.6v1.6h-1.6zM349.1 709.0h1.6v1.6h-1.6zM320.1 697.6h1.6v1.6h-1.6zM349.9 714.4h1.6v1.6h-1.6zM334.1 691.8h1.6v1.6h-1.6zM339.8 694.5h1.6v1.6h-1.6zM343.5 695.5h1.6v1.6h-1.6zM339.5 691.1h1.6v1.6h-1.6zM329.7 714.2h1.6v1.6h-1.6zM343.9 693.2h1.6v1.6h-1.6zM337.7 699.4h1.6v1.6h-1.6zM342.4 691.1h1.6v1.6h-1.6zM348.1 715.7h1.6v1.6h-1.6zM329.9 684.2h1.6v1.6h-1.6zM319.7 639.8h1.6v1.6h-1.6zM320.3 656.9h1.6v1.6h-1.6zM305.9 644.0h1.6v1.6h-1.6zM314.6 651.8h1.6v1.6h-1.6zM334.9 671.7h1.6v1.6h-1.6zM321.2 636.1h1.6v1.6h-1.6zM349.5 709.1h1.6v1.6h-1.6zM317.4 623.9h1.6v1.6h-1.6zM311.6 630.0h1.6v1.6h-1.6zM325.9 675.3h1.6v1.6h-1.6zM304.8 648.1h1.6v1.6h-1.6zM332.3 679.0h1.6v1.6h-1.6zM339.6 714.0h1.6v1.6h-1.6zM336.3 672.2h1.6v1.6h-1.6zM330.9 695.9h1.6v1.6h-1.6zM331.4 679.6h1.6v1.6h-1.6zM345.4 711.3h1.6v1.6h-1.6zM316.3 632.5h1.6v1.6h-1.6zM326.6 646.1h1.6v1.6h-1.6zM316.3 667.6h1.6v1.6h-1.6zM346.0 708.4h1.6v1.6h-1.6zM322.8 642.0h1.6v1.6h-1.6zM316.0 646.6h1.6v1.6h-1.6zM332.9 707.0h1.6v1.6h-1.6zM326.1 634.9h1.6v1.6h-1.6zM340.8 709.8h1.6v1.6h-1.6zM328.2 655.2h1.6v1.6h-1.6zM336.8 700.5h1.6v1.6h-1.6zM348.4 712.7h1.6v1.6h-1.6zM334.4 661.9h1.6v1.6h-1.6zM307.8 638.1h1.6v1.6h-1.6zM327.6 651.6h1.6v1.6h-1.6zM328.3 641.8h1.6v1.6h-1.6zM330.3 695.2h1.6v1.6h-1.6zM314.8 639.5h1.6v1.6h-1.6zM331.6 668.8h1.6v1.6h-1.6zM347.1 712.3h1.6v1.6h-1.6zM338.2 693.3h1.6v1.6h-1.6zM338.5 690.0h1.6v1.6h-1.6zM319.4 627.7h1.6v1.6h-1.6zM330.1 695.7h1.6v1.6h-1.6zM328.3 673.9h1.6v1.6h-1.6zM326.4 680.8h1.6v1.6h-1.6zM318.6 629.9h1.6v1.6h-1.6zM335.8 677.4h1.6v1.6h-1.6zM328.5 657.1h1.6v1.6h-1.6zM322.8 652.8h1.6v1.6h-1.6zM320.1 629.5h1.6v1.6h-1.6zM332.4 691.4h1.6v1.6h-1.6zM322.0 638.4h1.6v1.6h-1.6zM327.6 679.8h1.6v1.6h-1.6zM320.3 645.4h1.6v1.6h-1.6zM327.4 671.6h1.6v1.6h-1.6zM313.5 672.5h1.6v1.6h-1.6zM346.8 714.0h1.6v1.6h-1.6zM348.3 713.0h1.6v1.6h-1.6zM320.2 625.8h1.6v1.6h-1.6zM313.9 653.3h1.6v1.6h-1.6zM331.5 682.6h1.6v1.6h-1.6zM348.4 711.3h1.6v1.6h-1.6zM325.9 652.8h1.6v1.6h-1.6zM315.7 660.6h1.6v1.6h-1.6zM333.5 673.2h1.6v1.6h-1.6zM336.6 675.9h1.6v1.6h-1.6zM340.5 688.6h1.6v1.6h-1.6zM329.1 648.1h1.6v1.6h-1.6zM317.0 635.4h1.6v1.6h-1.6zM339.1 676.4h1.6v1.6h-1.6zM308.9 674.5h1.6v1.6h-1.6zM324.8 630.2h1.6v1.6h-1.6zM343.1 699.6h1.6v1.6h-1.6zM340.0 698.6h1.6v1.6h-1.6zM327.8 671.9h1.6v1.6h-1.6zM343.2 695.8h1.6v1.6h-1.6zM320.9 646.1h1.6v1.6h-1.6zM348.8 717.6h1.6v1.6h-1.6zM332.6 691.7h1.6v1.6h-1.6zM328.5 684.4h1.6v1.6h-1.6zM351.2 713.8h1.6v1.6h-1.6zM316.1 682.9h1.6v1.6h-1.6zM336.6 704.2h1.6v1.6h-1.6zM345.7 708.6h1.6v1.6h-1.6zM332.6 697.6h1.6v1.6h-1.6zM327.0 643.8h1.6v1.6h-1.6zM332.8 656.2h1.6v1.6h-1.6zM331.4 697.2h1.6v1.6h-1.6zM330.3 668.7h1.6v1.6h-1.6zM338.9 675.8h1.6v1.6h-1.6zM317.1 699.7h1.6v1.6h-1.6zM328.4 698.7h1.6v1.6h-1.6zM334.0 697.4h1.6v1.6h-1.6zM327.6 642.6h1.6v1.6h-1.6zM307.4 648.5h1.6v1.6h-1.6zM321.1 677.8h1.6v1.6h-1.6zM318.3 640.9h1.6v1.6h-1.6zM315.0 632.1h1.6v1.6h-1.6zM330.4 681.8h1.6v1.6h-1.6zM290.4 636.9h1.6v1.6h-1.6zM335.3 704.8h1.6v1.6h-1.6zM331.2 685.5h1.6v1.6h-1.6zM309.2 642.5h1.6v1.6h-1.6zM337.5 690.4h1.6v1.6h-1.6zM340.3 685.2h1.6v1.6h-1.6zM348.3 708.7h1.6v1.6h-1.6zM330.8 666.1h1.6v1.6h-1.6zM317.6 634.6h1.6v1.6h-1.6zM342.7 703.1h1.6v1.6h-1.6zM336.5 693.7h1.6v1.6h-1.6zM287.8 640.5h1.6v1.6h-1.6zM314.4 646.8h1.6v1.6h-1.6zM330.5 683.3h1.6v1.6h-1.6zM319.8 623.8h1.6v1.6h-1.6zM329.5 652.4h1.6v1.6h-1.6zM328.5 644.2h1.6v1.6h-1.6zM320.3 621.5h1.6v1.6h-1.6zM309.1 626.6h1.6v1.6h-1.6zM330.5 661.6h1.6v1.6h-1.6zM311.9 634.8h1.6v1.6h-1.6zM316.1 669.0h1.6v1.6h-1.6zM327.7 659.5h1.6v1.6h-1.6zM307.5 660.9h1.6v1.6h-1.6zM329.8 653.1h1.6v1.6h-1.6zM318.8 677.6h1.6v1.6h-1.6zM350.6 716.5h1.6v1.6h-1.6zM328.6 661.2h1.6v1.6h-1.6zM336.8 677.5h1.6v1.6h-1.6zM341.0 691.5h1.6v1.6h-1.6zM342.5 691.0h1.6v1.6h-1.6zM343.4 702.7h1.6v1.6h-1.6zM313.0 650.7h1.6v1.6h-1.6zM332.0 668.6h1.6v1.6h-1.6zM331.5 666.4h1.6v1.6h-1.6zM332.6 682.8h1.6v1.6h-1.6zM343.5 711.2h1.6v1.6h-1.6zM323.1 635.1h1.6v1.6h-1.6zM334.7 684.3h1.6v1.6h-1.6zM345.8 714.0h1.6v1.6h-1.6zM335.2 682.1h1.6v1.6h-1.6zM326.4 650.6h1.6v1.6h-1.6zM333.6 659.0h1.6v1.6h-1.6zM331.4 656.8h1.6v1.6h-1.6zM312.5 685.2h1.6v1.6h-1.6zM316.4 690.9h1.6v1.6h-1.6zM342.9 710.9h1.6v1.6h-1.6zM319.9 661.1h1.6v1.6h-1.6zM331.1 655.4h1.6v1.6h-1.6zM326.7 685.5h1.6v1.6h-1.6zM322.4 673.8h1.6v1.6h-1.6zM314.2 645.1h1.6v1.6h-1.6zM342.0 701.3h1.6v1.6h-1.6zM321.2 622.7h1.6v1.6h-1.6zM338.1 678.2h1.6v1.6h-1.6zM335.4 688.3h1.6v1.6h-1.6zM317.4 643.8h1.6v1.6h-1.6zM340.9 689.4h1.6v1.6h-1.6zM330.4 665.5h1.6v1.6h-1.6zM324.7 683.8h1.6v1.6h-1.6zM326.6 657.7h1.6v1.6h-1.6zM348.7 714.5h1.6v1.6h-1.6zM318.2 660.2h1.6v1.6h-1.6zM343.2 709.3h1.6v1.6h-1.6zM346.5 703.6h1.6v1.6h-1.6zM326.5 633.7h1.6v1.6h-1.6zM337.5 680.5h1.6v1.6h-1.6zM332.8 658.3h1.6v1.6h-1.6zM336.7 670.1h1.6v1.6h-1.6zM328.3 681.0h1.6v1.6h-1.6zM323.6 632.7h1.6v1.6h-1.6zM286.3 652.5h1.6v1.6h-1.6zM333.3 681.2h1.6v1.6h-1.6zM331.1 659.6h1.6v1.6h-1.6zM331.7 694.1h1.6v1.6h-1.6zM330.0 682.5h1.6v1.6h-1.6zM343.5 709.1h1.6v1.6h-1.6zM326.4 684.4h1.6v1.6h-1.6zM345.4 713.9h1.6v1.6h-1.6zM325.8 650.7h1.6v1.6h-1.6zM335.8 689.2h1.6v1.6h-1.6zM327.7 690.3h1.6v1.6h-1.6zM333.2 663.3h1.6v1.6h-1.6zM340.5 687.5h1.6v1.6h-1.6zM346.6 712.7h1.6v1.6h-1.6zM313.1 632.1h1.6v1.6h-1.6zM337.1 701.6h1.6v1.6h-1.6zM349.2 716.6h1.6v1.6h-1.6zM333.1 694.5h1.6v1.6h-1.6zM332.4 662.6h1.6v1.6h-1.6zM303.8 633.0h1.6v1.6h-1.6zM311.7 634.2h1.6v1.6h-1.6zM328.1 683.9h1.6v1.6h-1.6zM332.1 690.5h1.6v1.6h-1.6zM332.3 675.9h1.6v1.6h-1.6zM322.9 646.0h1.6v1.6h-1.6zM323.5 655.8h1.6v1.6h-1.6zM327.3 652.8h1.6v1.6h-1.6zM318.0 689.3h1.6v1.6h-1.6zM337.0 689.7h1.6v1.6h-1.6zM325.4 629.8h1.6v1.6h-1.6zM335.6 694.7h1.6v1.6h-1.6zM344.5 711.1h1.6v1.6h-1.6zM339.7 681.6h1.6v1.6h-1.6zM326.1 684.5h1.6v1.6h-1.6zM321.6 660.4h1.6v1.6h-1.6zM335.0 669.7h1.6v1.6h-1.6zM339.0 698.4h1.6v1.6h-1.6zM335.7 697.6h1.6v1.6h-1.6zM346.5 713.1h1.6v1.6h-1.6zM327.8 684.7h1.6v1.6h-1.6zM315.7 671.5h1.6v1.6h-1.6zM332.7 691.4h1.6v1.6h-1.6zM326.2 680.2h1.6v1.6h-1.6zM333.1 655.6h1.6v1.6h-1.6zM340.0 714.6h1.6v1.6h-1.6zM351.8 717.6h1.6v1.6h-1.6zM308.2 637.9h1.6v1.6h-1.6zM325.2 650.4h1.6v1.6h-1.6zM339.4 697.8h1.6v1.6h-1.6zM327.9 646.1h1.6v1.6h-1.6zM330.4 681.2h1.6v1.6h-1.6zM325.5 664.7h1.6v1.6h-1.6zM320.1 639.8h1.6v1.6h-1.6zM342.7 716.2h1.6v1.6h-1.6zM343.7 713.1h1.6v1.6h-1.6zM331.1 669.8h1.6v1.6h-1.6zM334.4 681.9h1.6v1.6h-1.6zM334.3 667.1h1.6v1.6h-1.6zM335.9 690.8h1.6v1.6h-1.6zM335.3 710.4h1.6v1.6h-1.6zM340.3 703.8h1.6v1.6h-1.6zM319.2 624.9h1.6v1.6h-1.6zM325.8 651.7h1.6v1.6h-1.6zM307.2 662.9h1.6v1.6h-1.6zM316.0 616.5h1.6v1.6h-1.6zM331.8 660.7h1.6v1.6h-1.6zM337.2 711.6h1.6v1.6h-1.6zM339.5 691.6h1.6v1.6h-1.6zM331.6 658.6h1.6v1.6h-1.6zM315.4 644.7h1.6v1.6h-1.6zM309.4 656.6h1.6v1.6h-1.6zM309.9 642.0h1.6v1.6h-1.6zM324.0 678.2h1.6v1.6h-1.6zM341.0 704.7h1.6v1.6h-1.6zM326.9 673.2h1.6v1.6h-1.6zM326.8 657.1h1.6v1.6h-1.6zM327.5 649.6h1.6v1.6h-1.6zM342.3 712.3h1.6v1.6h-1.6zM341.8 704.0h1.6v1.6h-1.6zM327.4 653.0h1.6v1.6h-1.6zM341.6 693.9h1.6v1.6h-1.6zM350.0 713.0h1.6v1.6h-1.6zM332.3 667.8h1.6v1.6h-1.6zM332.0 662.2h1.6v1.6h-1.6zM347.7 712.5h1.6v1.6h-1.6zM304.8 623.0h1.6v1.6h-1.6zM346.2 698.8h1.6v1.6h-1.6zM324.3 664.3h1.6v1.6h-1.6zM340.2 690.2h1.6v1.6h-1.6zM332.6 704.1h1.6v1.6h-1.6zM327.5 670.3h1.6v1.6h-1.6zM318.9 643.6h1.6v1.6h-1.6zM324.1 633.8h1.6v1.6h-1.6zM336.1 678.9h1.6v1.6h-1.6zM347.1 708.6h1.6v1.6h-1.6zM343.1 688.4h1.6v1.6h-1.6zM333.4 658.7h1.6v1.6h-1.6zM324.8 627.5h1.6v1.6h-1.6zM320.3 683.9h1.6v1.6h-1.6zM329.9 647.2h1.6v1.6h-1.6zM327.1 649.8h1.6v1.6h-1.6zM337.4 701.4h1.6v1.6h-1.6zM324.0 665.4h1.6v1.6h-1.6zM322.5 672.1h1.6v1.6h-1.6zM335.0 703.9h1.6v1.6h-1.6zM342.9 713.4h1.6v1.6h-1.6zM336.5 692.8h1.6v1.6h-1.6zM352.8 718.2h1.6v1.6h-1.6zM310.0 626.1h1.6v1.6h-1.6zM328.0 688.8h1.6v1.6h-1.6zM329.0 679.9h1.6v1.6h-1.6zM327.7 668.0h1.6v1.6h-1.6zM311.6 643.4h1.6v1.6h-1.6zM341.7 699.6h1.6v1.6h-1.6zM329.6 661.0h1.6v1.6h-1.6zM320.9 671.6h1.6v1.6h-1.6zM333.8 676.9h1.6v1.6h-1.6zM328.9 679.9h1.6v1.6h-1.6zM348.1 705.9h1.6v1.6h-1.6zM333.1 677.5h1.6v1.6h-1.6zM318.8 659.8h1.6v1.6h-1.6zM336.6 673.2h1.6v1.6h-1.6zM335.5 690.1h1.6v1.6h-1.6zM323.4 692.0h1.6v1.6h-1.6zM327.0 685.6h1.6v1.6h-1.6zM329.8 677.9h1.6v1.6h-1.6zM324.5 649.5h1.6v1.6h-1.6zM331.8 654.4h1.6v1.6h-1.6zM286.6 629.0h1.6v1.6h-1.6zM324.4 629.8h1.6v1.6h-1.6zM319.8 641.6h1.6v1.6h-1.6zM323.7 633.2h1.6v1.6h-1.6zM342.6 687.3h1.6v1.6h-1.6zM327.1 677.4h1.6v1.6h-1.6zM320.3 659.4h1.6v1.6h-1.6zM324.7 629.4h1.6v1.6h-1.6zM333.1 671.1h1.6v1.6h-1.6zM329.2 682.6h1.6v1.6h-1.6zM341.2 716.8h1.6v1.6h-1.6zM327.5 662.8h1.6v1.6h-1.6zM332.4 665.6h1.6v1.6h-1.6zM312.0 636.6h1.6v1.6h-1.6zM330.8 695.2h1.6v1.6h-1.6zM332.8 703.4h1.6v1.6h-1.6zM319.0 637.2h1.6v1.6h-1.6zM328.9 665.4h1.6v1.6h-1.6zM330.4 706.5h1.6v1.6h-1.6zM333.5 669.7h1.6v1.6h-1.6zM343.8 708.6h1.6v1.6h-1.6zM329.6 663.9h1.6v1.6h-1.6zM326.9 643.5h1.6v1.6h-1.6zM310.7 628.9h1.6v1.6h-1.6zM319.1 632.8h1.6v1.6h-1.6zM326.7 681.6h1.6v1.6h-1.6zM341.3 689.2h1.6v1.6h-1.6zM330.9 656.3h1.6v1.6h-1.6zM294.5 670.9h1.6v1.6h-1.6zM337.6 685.4h1.6v1.6h-1.6zM335.0 683.2h1.6v1.6h-1.6zM313.6 639.7h1.6v1.6h-1.6zM347.1 706.8h1.6v1.6h-1.6zM323.3 629.7h1.6v1.6h-1.6zM335.0 702.6h1.6v1.6h-1.6zM319.5 630.3h1.6v1.6h-1.6zM329.5 658.6h1.6v1.6h-1.6zM311.7 639.7h1.6v1.6h-1.6zM314.0 642.5h1.6v1.6h-1.6zM331.9 693.4h1.6v1.6h-1.6zM328.5 649.2h1.6v1.6h-1.6zM322.0 675.2h1.6v1.6h-1.6zM320.2 631.4h1.6v1.6h-1.6zM319.5 685.3h1.6v1.6h-1.6zM337.2 708.7h1.6v1.6h-1.6zM338.9 698.8h1.6v1.6h-1.6zM322.8 663.0h1.6v1.6h-1.6zM347.3 705.3h1.6v1.6h-1.6zM328.8 707.2h1.6v1.6h-1.6zM299.1 645.1h1.6v1.6h-1.6zM348.5 710.3h1.6v1.6h-1.6zM333.2 689.3h1.6v1.6h-1.6zM306.5 635.6h1.6v1.6h-1.6zM336.5 682.6h1.6v1.6h-1.6zM340.6 698.3h1.6v1.6h-1.6zM327.7 677.4h1.6v1.6h-1.6zM324.6 652.2h1.6v1.6h-1.6zM307.6 611.5h1.6v1.6h-1.6zM347.3 704.3h1.6v1.6h-1.6zM333.6 674.2h1.6v1.6h-1.6zM341.5 699.3h1.6v1.6h-1.6zM343.0 716.2h1.6v1.6h-1.6zM319.2 648.5h1.6v1.6h-1.6zM321.6 633.6h1.6v1.6h-1.6zM319.6 676.8h1.6v1.6h-1.6zM325.2 661.2h1.6v1.6h-1.6zM315.4 663.9h1.6v1.6h-1.6zM324.4 675.8h1.6v1.6h-1.6zM314.6 658.3h1.6v1.6h-1.6zM339.9 688.4h1.6v1.6h-1.6zM302.9 632.9h1.6v1.6h-1.6zM332.4 688.9h1.6v1.6h-1.6zM350.2 711.2h1.6v1.6h-1.6zM317.7 671.8h1.6v1.6h-1.6zM325.7 668.7h1.6v1.6h-1.6zM331.5 653.5h1.6v1.6h-1.6zM324.0 685.1h1.6v1.6h-1.6zM336.9 686.6h1.6v1.6h-1.6zM348.7 719.0h1.6v1.6h-1.6zM322.9 674.9h1.6v1.6h-1.6zM349.1 707.2h1.6v1.6h-1.6zM335.7 696.0h1.6v1.6h-1.6zM324.5 669.2h1.6v1.6h-1.6zM335.4 672.7h1.6v1.6h-1.6zM315.3 671.9h1.6v1.6h-1.6zM320.4 651.6h1.6v1.6h-1.6zM339.7 699.7h1.6v1.6h-1.6zM336.9 687.4h1.6v1.6h-1.6zM327.9 647.8h1.6v1.6h-1.6zM345.5 699.5h1.6v1.6h-1.6zM323.7 681.4h1.6v1.6h-1.6zM331.4 672.9h1.6v1.6h-1.6zM340.5 710.0h1.6v1.6h-1.6zM346.2 717.6h1.6v1.6h-1.6zM322.6 635.5h1.6v1.6h-1.6zM319.6 622.0h1.6v1.6h-1.6zM303.6 630.1h1.6v1.6h-1.6zM345.0 695.4h1.6v1.6h-1.6zM328.6 669.3h1.6v1.6h-1.6zM350.1 719.0h1.6v1.6h-1.6zM336.4 667.0h1.6v1.6h-1.6zM346.7 702.6h1.6v1.6h-1.6zM326.0 653.9h1.6v1.6h-1.6zM346.5 701.9h1.6v1.6h-1.6zM329.9 688.7h1.6v1.6h-1.6zM332.8 665.5h1.6v1.6h-1.6zM327.5 696.4h1.6v1.6h-1.6zM327.3 681.1h1.6v1.6h-1.6zM343.6 692.0h1.6v1.6h-1.6zM331.1 681.2h1.6v1.6h-1.6zM329.3 687.2h1.6v1.6h-1.6zM321.1 645.8h1.6v1.6h-1.6zM329.1 647.9h1.6v1.6h-1.6zM334.3 699.9h1.6v1.6h-1.6zM331.9 707.1h1.6v1.6h-1.6zM341.4 693.4h1.6v1.6h-1.6zM305.0 649.2h1.6v1.6h-1.6zM333.4 673.1h1.6v1.6h-1.6zM340.6 712.6h1.6v1.6h-1.6zM334.1 673.2h1.6v1.6h-1.6zM345.8 711.9h1.6v1.6h-1.6zM321.3 649.2h1.6v1.6h-1.6zM344.4 705.2h1.6v1.6h-1.6zM332.6 684.3h1.6v1.6h-1.6zM344.1 699.0h1.6v1.6h-1.6zM328.6 667.8h1.6v1.6h-1.6zM344.7 712.3h1.6v1.6h-1.6zM343.6 710.6h1.6v1.6h-1.6zM323.2 664.3h1.6v1.6h-1.6zM337.5 692.9h1.6v1.6h-1.6zM333.0 680.6h1.6v1.6h-1.6zM335.3 691.5h1.6v1.6h-1.6zM323.9 689.1h1.6v1.6h-1.6zM342.4 707.1h1.6v1.6h-1.6zM327.7 652.6h1.6v1.6h-1.6zM336.2 680.5h1.6v1.6h-1.6zM335.1 676.4h1.6v1.6h-1.6zM336.4 673.9h1.6v1.6h-1.6zM319.5 665.3h1.6v1.6h-1.6zM341.4 702.7h1.6v1.6h-1.6zM335.0 667.3h1.6v1.6h-1.6zM315.1 626.5h1.6v1.6h-1.6zM322.1 643.9h1.6v1.6h-1.6zM335.3 668.1h1.6v1.6h-1.6zM345.5 712.8h1.6v1.6h-1.6zM312.8 655.0h1.6v1.6h-1.6zM314.8 615.9h1.6v1.6h-1.6zM340.4 695.9h1.6v1.6h-1.6zM338.6 704.9h1.6v1.6h-1.6zM331.3 659.4h1.6v1.6h-1.6zM317.5 631.9h1.6v1.6h-1.6zM326.3 646.5h1.6v1.6h-1.6zM339.0 687.8h1.6v1.6h-1.6zM336.8 695.4h1.6v1.6h-1.6zM323.6 693.3h1.6v1.6h-1.6zM342.9 713.5h1.6v1.6h-1.6zM323.0 638.0h1.6v1.6h-1.6zM345.2 702.8h1.6v1.6h-1.6zM260.5 652.8h1.6v1.6h-1.6zM314.3 631.7h1.6v1.6h-1.6zM330.7 668.8h1.6v1.6h-1.6zM335.2 677.6h1.6v1.6h-1.6zM312.6 630.4h1.6v1.6h-1.6zM321.2 674.5h1.6v1.6h-1.6zM315.9 677.7h1.6v1.6h-1.6zM310.6 644.6h1.6v1.6h-1.6zM319.6 639.1h1.6v1.6h-1.6zM345.1 717.3h1.6v1.6h-1.6zM337.1 688.5h1.6v1.6h-1.6zM337.5 695.3h1.6v1.6h-1.6zM303.6 626.5h1.6v1.6h-1.6zM327.4 658.1h1.6v1.6h-1.6zM314.0 631.1h1.6v1.6h-1.6zM337.5 702.7h1.6v1.6h-1.6zM341.5 692.9h1.6v1.6h-1.6zM320.2 667.4h1.6v1.6h-1.6zM345.0 704.1h1.6v1.6h-1.6zM327.4 675.5h1.6v1.6h-1.6zM284.0 627.2h1.6v1.6h-1.6zM335.8 683.4h1.6v1.6h-1.6zM351.9 715.7h1.6v1.6h-1.6zM337.4 696.5h1.6v1.6h-1.6zM318.2 666.7h1.6v1.6h-1.6zM336.1 679.5h1.6v1.6h-1.6zM329.9 666.3h1.6v1.6h-1.6zM314.9 642.7h1.6v1.6h-1.6zM316.5 658.9h1.6v1.6h-1.6zM313.1 654.1h1.6v1.6h-1.6zM323.1 646.5h1.6v1.6h-1.6zM334.6 672.1h1.6v1.6h-1.6zM344.7 700.8h1.6v1.6h-1.6zM311.0 624.1h1.6v1.6h-1.6zM341.3 686.6h1.6v1.6h-1.6zM346.7 715.4h1.6v1.6h-1.6zM342.3 698.6h1.6v1.6h-1.6zM338.1 680.0h1.6v1.6h-1.6zM318.8 660.0h1.6v1.6h-1.6zM337.3 681.8h1.6v1.6h-1.6zM320.0 634.2h1.6v1.6h-1.6zM316.3 638.6h1.6v1.6h-1.6zM316.2 652.1h1.6v1.6h-1.6zM322.5 653.9h1.6v1.6h-1.6zM339.2 693.0h1.6v1.6h-1.6zM299.4 618.4h1.6v1.6h-1.6zM329.6 682.8h1.6v1.6h-1.6zM335.8 670.9h1.6v1.6h-1.6zM347.5 711.6h1.6v1.6h-1.6zM330.9 678.1h1.6v1.6h-1.6zM334.3 676.3h1.6v1.6h-1.6zM318.5 644.6h1.6v1.6h-1.6zM316.0 640.5h1.6v1.6h-1.6zM322.2 646.8h1.6v1.6h-1.6zM341.1 705.9h1.6v1.6h-1.6zM350.0 711.5h1.6v1.6h-1.6zM337.2 679.8h1.6v1.6h-1.6zM330.4 667.5h1.6v1.6h-1.6zM313.1 632.5h1.6v1.6h-1.6zM325.6 667.1h1.6v1.6h-1.6zM346.0 709.0h1.6v1.6h-1.6zM319.6 653.0h1.6v1.6h-1.6zM319.3 632.0h1.6v1.6h-1.6zM298.9 632.2h1.6v1.6h-1.6zM340.9 702.0h1.6v1.6h-1.6zM316.4 618.6h1.6v1.6h-1.6zM336.8 672.1h1.6v1.6h-1.6zM321.0 658.7h1.6v1.6h-1.6zM308.4 635.6h1.6v1.6h-1.6zM289.3 644.8h1.6v1.6h-1.6zM345.3 713.4h1.6v1.6h-1.6zM331.5 696.3h1.6v1.6h-1.6zM326.4 667.5h1.6v1.6h-1.6zM329.9 683.0h1.6v1.6h-1.6zM342.7 697.8h1.6v1.6h-1.6zM342.1 717.9h1.6v1.6h-1.6zM335.9 683.5h1.6v1.6h-1.6zM318.3 636.0h1.6v1.6h-1.6zM341.4 693.9h1.6v1.6h-1.6zM318.1 647.8h1.6v1.6h-1.6zM337.8 712.3h1.6v1.6h-1.6zM302.5 642.3h1.6v1.6h-1.6zM329.8 695.4h1.6v1.6h-1.6zM332.0 674.6h1.6v1.6h-1.6zM322.9 655.1h1.6v1.6h-1.6zM320.8 684.8h1.6v1.6h-1.6zM334.4 685.0h1.6v1.6h-1.6zM342.2 698.3h1.6v1.6h-1.6zM312.6 686.1h1.6v1.6h-1.6zM310.1 637.7h1.6v1.6h-1.6zM338.0 676.2h1.6v1.6h-1.6zM338.3 675.3h1.6v1.6h-1.6zM298.1 623.3h1.6v1.6h-1.6zM329.3 694.2h1.6v1.6h-1.6zM301.5 629.8h1.6v1.6h-1.6zM321.8 664.7h1.6v1.6h-1.6zM329.4 685.4h1.6v1.6h-1.6zM300.8 624.0h1.6v1.6h-1.6zM324.7 632.8h1.6v1.6h-1.6zM338.3 701.5h1.6v1.6h-1.6zM316.0 666.1h1.6v1.6h-1.6zM329.2 683.3h1.6v1.6h-1.6zM317.7 660.2h1.6v1.6h-1.6zM319.1 650.4h1.6v1.6h-1.6zM313.2 630.6h1.6v1.6h-1.6zM323.8 676.6h1.6v1.6h-1.6zM342.8 701.9h1.6v1.6h-1.6zM318.4 665.7h1.6v1.6h-1.6zM343.0 696.8h1.6v1.6h-1.6zM332.8 693.5h1.6v1.6h-1.6zM343.1 708.8h1.6v1.6h-1.6zM313.6 619.1h1.6v1.6h-1.6zM323.6 650.3h1.6v1.6h-1.6zM315.2 650.9h1.6v1.6h-1.6zM324.8 653.5h1.6v1.6h-1.6zM333.8 704.4h1.6v1.6h-1.6zM327.7 660.7h1.6v1.6h-1.6zM299.9 663.8h1.6v1.6h-1.6zM326.4 666.4h1.6v1.6h-1.6zM333.4 664.3h1.6v1.6h-1.6zM338.0 694.5h1.6v1.6h-1.6zM317.6 620.7h1.6v1.6h-1.6zM333.7 684.3h1.6v1.6h-1.6zM344.5 698.6h1.6v1.6h-1.6zM321.4 677.2h1.6v1.6h-1.6zM335.6 687.1h1.6v1.6h-1.6zM314.5 639.2h1.6v1.6h-1.6zM337.3 691.0h1.6v1.6h-1.6zM319.4 633.7h1.6v1.6h-1.6zM319.2 662.4h1.6v1.6h-1.6zM336.5 691.0h1.6v1.6h-1.6zM345.1 709.8h1.6v1.6h-1.6zM294.7 635.7h1.6v1.6h-1.6zM299.6 646.9h1.6v1.6h-1.6zM328.4 670.2h1.6v1.6h-1.6zM344.5 703.2h1.6v1.6h-1.6zM341.6 709.9h1.6v1.6h-1.6zM330.9 684.2h1.6v1.6h-1.6zM329.9 660.0h1.6v1.6h-1.6zM332.5 683.9h1.6v1.6h-1.6zM332.4 698.9h1.6v1.6h-1.6zM349.2 717.7h1.6v1.6h-1.6zM324.6 697.0h1.6v1.6h-1.6zM319.1 665.5h1.6v1.6h-1.6zM337.9 692.1h1.6v1.6h-1.6zM340.8 695.7h1.6v1.6h-1.6zM322.0 661.8h1.6v1.6h-1.6zM329.4 669.3h1.6v1.6h-1.6zM337.6 687.5h1.6v1.6h-1.6zM333.1 692.8h1.6v1.6h-1.6zM322.1 624.7h1.6v1.6h-1.6zM339.8 684.3h1.6v1.6h-1.6zM316.9 651.8h1.6v1.6h-1.6zM348.5 708.3h1.6v1.6h-1.6zM324.1 685.7h1.6v1.6h-1.6zM340.7 717.8h1.6v1.6h-1.6zM333.4 704.4h1.6v1.6h-1.6zM330.2 645.5h1.6v1.6h-1.6zM328.2 675.3h1.6v1.6h-1.6zM313.4 688.7h1.6v1.6h-1.6zM337.5 676.1h1.6v1.6h-1.6zM345.8 700.2h1.6v1.6h-1.6zM352.1 718.0h1.6v1.6h-1.6zM336.8 694.2h1.6v1.6h-1.6zM332.2 672.6h1.6v1.6h-1.6zM324.5 677.7h1.6v1.6h-1.6zM327.4 682.5h1.6v1.6h-1.6zM337.1 704.2h1.6v1.6h-1.6zM339.4 702.5h1.6v1.6h-1.6zM334.2 678.6h1.6v1.6h-1.6zM324.9 643.4h1.6v1.6h-1.6zM334.9 694.9h1.6v1.6h-1.6zM324.4 663.9h1.6v1.6h-1.6zM338.2 691.8h1.6v1.6h-1.6zM319.6 620.5h1.6v1.6h-1.6zM332.9 679.4h1.6v1.6h-1.6zM334.7 703.5h1.6v1.6h-1.6zM344.6 703.8h1.6v1.6h-1.6zM324.7 663.7h1.6v1.6h-1.6zM341.7 698.7h1.6v1.6h-1.6zM330.8 652.8h1.6v1.6h-1.6zM346.0 715.2h1.6v1.6h-1.6zM315.9 682.8h1.6v1.6h-1.6zM335.6 694.1h1.6v1.6h-1.6zM339.1 686.2h1.6v1.6h-1.6zM324.2 652.2h1.6v1.6h-1.6zM321.7 652.0h1.6v1.6h-1.6zM330.5 707.7h1.6v1.6h-1.6zM311.7 674.4h1.6v1.6h-1.6zM318.4 681.2h1.6v1.6h-1.6zM308.6 627.5h1.6v1.6h-1.6zM351.2 717.6h1.6v1.6h-1.6zM338.0 704.1h1.6v1.6h-1.6zM312.6 660.0h1.6v1.6h-1.6zM333.7 657.3h1.6v1.6h-1.6zM332.2 687.8h1.6v1.6h-1.6zM337.3 695.1h1.6v1.6h-1.6zM317.7 642.1h1.6v1.6h-1.6zM328.1 678.9h1.6v1.6h-1.6zM318.4 636.5h1.6v1.6h-1.6zM243.1 664.9h1.6v1.6h-1.6zM337.9 695.8h1.6v1.6h-1.6zM298.0 645.5h1.6v1.6h-1.6zM340.4 717.6h1.6v1.6h-1.6zM336.9 711.6h1.6v1.6h-1.6zM323.2 633.5h1.6v1.6h-1.6zM344.7 704.9h1.6v1.6h-1.6zM305.7 633.1h1.6v1.6h-1.6zM338.0 684.8h1.6v1.6h-1.6zM314.7 641.5h1.6v1.6h-1.6zM327.8 652.0h1.6v1.6h-1.6zM330.7 650.7h1.6v1.6h-1.6zM331.1 664.2h1.6v1.6h-1.6zM341.9 705.8h1.6v1.6h-1.6zM345.6 710.0h1.6v1.6h-1.6zM321.5 638.3h1.6v1.6h-1.6zM347.6 702.8h1.6v1.6h-1.6zM328.4 656.3h1.6v1.6h-1.6zM332.9 666.6h1.6v1.6h-1.6zM326.4 659.9h1.6v1.6h-1.6zM321.6 656.3h1.6v1.6h-1.6zM325.8 640.6h1.6v1.6h-1.6zM321.3 685.1h1.6v1.6h-1.6zM341.6 701.1h1.6v1.6h-1.6zM321.1 631.5h1.6v1.6h-1.6zM292.7 636.9h1.6v1.6h-1.6zM321.6 654.0h1.6v1.6h-1.6zM321.7 662.2h1.6v1.6h-1.6zM326.8 649.8h1.6v1.6h-1.6zM340.6 692.5h1.6v1.6h-1.6zM340.1 687.9h1.6v1.6h-1.6zM305.8 625.9h1.6v1.6h-1.6zM348.7 711.2h1.6v1.6h-1.6zM340.4 689.5h1.6v1.6h-1.6zM347.4 703.0h1.6v1.6h-1.6zM337.8 684.1h1.6v1.6h-1.6zM339.8 699.2h1.6v1.6h-1.6zM333.0 700.8h1.6v1.6h-1.6zM343.4 696.1h1.6v1.6h-1.6zM330.3 664.8h1.6v1.6h-1.6zM336.2 669.7h1.6v1.6h-1.6zM327.2 668.1h1.6v1.6h-1.6zM320.8 650.2h1.6v1.6h-1.6zM317.2 639.4h1.6v1.6h-1.6zM309.6 631.9h1.6v1.6h-1.6zM305.2 651.7h1.6v1.6h-1.6zM309.2 658.0h1.6v1.6h-1.6zM332.5 674.6h1.6v1.6h-1.6zM331.0 695.6h1.6v1.6h-1.6zM314.4 623.5h1.6v1.6h-1.6zM345.2 718.2h1.6v1.6h-1.6zM350.6 714.5h1.6v1.6h-1.6zM327.4 667.0h1.6v1.6h-1.6zM341.2 682.4h1.6v1.6h-1.6zM329.3 657.2h1.6v1.6h-1.6zM343.0 712.5h1.6v1.6h-1.6zM326.7 631.1h1.6v1.6h-1.6zM323.0 637.4h1.6v1.6h-1.6zM335.2 686.1h1.6v1.6h-1.6zM341.4 694.2h1.6v1.6h-1.6zM329.0 654.7h1.6v1.6h-1.6zM321.5 687.3h1.6v1.6h-1.6zM349.3 713.5h1.6v1.6h-1.6zM309.1 650.4h1.6v1.6h-1.6zM335.1 681.4h1.6v1.6h-1.6zM341.6 709.4h1.6v1.6h-1.6zM295.3 643.4h1.6v1.6h-1.6zM308.3 618.7h1.6v1.6h-1.6zM334.5 678.3h1.6v1.6h-1.6zM311.7 689.7h1.6v1.6h-1.6zM312.6 637.2h1.6v1.6h-1.6zM347.1 707.8h1.6v1.6h-1.6zM334.9 697.7h1.6v1.6h-1.6zM339.7 689.3h1.6v1.6h-1.6zM330.2 643.4h1.6v1.6h-1.6zM310.6 649.1h1.6v1.6h-1.6zM335.9 711.3h1.6v1.6h-1.6zM331.0 673.8h1.6v1.6h-1.6zM348.9 718.0h1.6v1.6h-1.6zM314.9 636.9h1.6v1.6h-1.6zM318.9 638.5h1.6v1.6h-1.6zM339.4 688.5h1.6v1.6h-1.6zM348.3 713.7h1.6v1.6h-1.6zM295.7 661.6h1.6v1.6h-1.6zM312.7 640.3h1.6v1.6h-1.6zM310.4 658.5h1.6v1.6h-1.6zM320.6 654.0h1.6v1.6h-1.6zM301.4 668.2h1.6v1.6h-1.6zM325.1 661.6h1.6v1.6h-1.6zM314.9 694.0h1.6v1.6h-1.6zM341.4 703.9h1.6v1.6h-1.6zM325.0 640.9h1.6v1.6h-1.6zM340.5 696.7h1.6v1.6h-1.6zM348.4 710.5h1.6v1.6h-1.6zM322.1 634.9h1.6v1.6h-1.6zM346.5 707.5h1.6v1.6h-1.6zM323.6 640.3h1.6v1.6h-1.6zM328.1 654.8h1.6v1.6h-1.6zM326.1 675.2h1.6v1.6h-1.6zM326.7 636.1h1.6v1.6h-1.6zM303.3 633.7h1.6v1.6h-1.6zM349.3 718.7h1.6v1.6h-1.6zM330.7 690.4h1.6v1.6h-1.6zM319.5 644.8h1.6v1.6h-1.6zM329.7 670.0h1.6v1.6h-1.6zM298.8 640.3h1.6v1.6h-1.6zM348.4 716.1h1.6v1.6h-1.6zM306.6 649.2h1.6v1.6h-1.6zM319.0 681.9h1.6v1.6h-1.6zM340.8 693.6h1.6v1.6h-1.6zM330.4 653.5h1.6v1.6h-1.6zM333.4 682.9h1.6v1.6h-1.6zM329.2 664.7h1.6v1.6h-1.6zM338.3 680.5h1.6v1.6h-1.6zM310.0 634.6h1.6v1.6h-1.6zM347.7 706.4h1.6v1.6h-1.6zM329.3 646.5h1.6v1.6h-1.6zM322.3 650.2h1.6v1.6h-1.6zM314.1 662.4h1.6v1.6h-1.6zM330.8 679.1h1.6v1.6h-1.6zM328.6 645.8h1.6v1.6h-1.6zM311.8 640.4h1.6v1.6h-1.6zM329.2 682.3h1.6v1.6h-1.6zM329.6 643.5h1.6v1.6h-1.6zM329.4 644.0h1.6v1.6h-1.6zM329.4 675.9h1.6v1.6h-1.6zM305.5 628.6h1.6v1.6h-1.6zM325.4 676.0h1.6v1.6h-1.6zM309.7 632.5h1.6v1.6h-1.6zM303.0 612.6h1.6v1.6h-1.6zM348.9 709.8h1.6v1.6h-1.6zM337.0 705.7h1.6v1.6h-1.6zM324.3 643.7h1.6v1.6h-1.6zM326.1 640.9h1.6v1.6h-1.6zM332.0 671.7h1.6v1.6h-1.6zM328.1 691.8h1.6v1.6h-1.6zM307.5 655.5h1.6v1.6h-1.6zM332.3 682.8h1.6v1.6h-1.6zM314.9 636.4h1.6v1.6h-1.6zM315.2 674.7h1.6v1.6h-1.6zM340.8 687.0h1.6v1.6h-1.6zM326.7 690.9h1.6v1.6h-1.6zM345.8 717.0h1.6v1.6h-1.6zM332.6 654.2h1.6v1.6h-1.6zM325.6 632.7h1.6v1.6h-1.6zM332.0 687.0h1.6v1.6h-1.6zM307.4 657.7h1.6v1.6h-1.6zM328.1 678.4h1.6v1.6h-1.6zM321.3 671.0h1.6v1.6h-1.6zM313.9 648.7h1.6v1.6h-1.6zM333.9 675.6h1.6v1.6h-1.6zM347.1 711.4h1.6v1.6h-1.6zM320.9 632.1h1.6v1.6h-1.6zM339.6 692.9h1.6v1.6h-1.6zM328.9 663.4h1.6v1.6h-1.6zM330.9 680.2h1.6v1.6h-1.6zM315.8 633.0h1.6v1.6h-1.6zM294.0 676.1h1.6v1.6h-1.6zM316.8 692.4h1.6v1.6h-1.6zM339.4 684.7h1.6v1.6h-1.6zM331.2 671.2h1.6v1.6h-1.6zM319.6 627.8h1.6v1.6h-1.6zM324.8 638.7h1.6v1.6h-1.6zM318.6 671.8h1.6v1.6h-1.6zM310.2 627.1h1.6v1.6h-1.6zM343.9 717.1h1.6v1.6h-1.6zM319.5 634.7h1.6v1.6h-1.6zM325.8 645.7h1.6v1.6h-1.6zM307.2 653.4h1.6v1.6h-1.6zM316.2 652.8h1.6v1.6h-1.6zM337.3 683.2h1.6v1.6h-1.6zM325.8 685.2h1.6v1.6h-1.6zM342.6 690.7h1.6v1.6h-1.6zM284.3 626.7h1.6v1.6h-1.6zM344.6 695.2h1.6v1.6h-1.6zM332.1 710.7h1.6v1.6h-1.6zM313.0 629.4h1.6v1.6h-1.6zM326.9 671.6h1.6v1.6h-1.6zM334.3 669.0h1.6v1.6h-1.6zM333.7 662.6h1.6v1.6h-1.6zM340.0 715.6h1.6v1.6h-1.6zM337.0 681.2h1.6v1.6h-1.6zM345.1 708.0h1.6v1.6h-1.6zM321.8 670.7h1.6v1.6h-1.6zM342.3 701.5h1.6v1.6h-1.6zM326.4 639.8h1.6v1.6h-1.6zM309.5 661.2h1.6v1.6h-1.6zM337.5 708.0h1.6v1.6h-1.6zM350.5 713.9h1.6v1.6h-1.6zM309.1 646.9h1.6v1.6h-1.6zM328.2 672.0h1.6v1.6h-1.6zM339.9 707.6h1.6v1.6h-1.6zM319.6 656.7h1.6v1.6h-1.6zM314.6 655.9h1.6v1.6h-1.6zM306.1 629.9h1.6v1.6h-1.6zM323.5 667.0h1.6v1.6h-1.6zM330.2 652.1h1.6v1.6h-1.6zM319.3 628.6h1.6v1.6h-1.6zM333.6 684.6h1.6v1.6h-1.6zM336.5 669.3h1.6v1.6h-1.6zM318.2 661.7h1.6v1.6h-1.6zM323.4 620.6h1.6v1.6h-1.6zM299.7 638.5h1.6v1.6h-1.6zM315.5 640.4h1.6v1.6h-1.6zM331.6 658.3h1.6v1.6h-1.6zM343.9 691.3h1.6v1.6h-1.6zM333.8 664.9h1.6v1.6h-1.6zM335.0 669.4h1.6v1.6h-1.6zM313.1 623.6h1.6v1.6h-1.6zM345.1 705.7h1.6v1.6h-1.6zM330.8 659.6h1.6v1.6h-1.6zM330.0 669.6h1.6v1.6h-1.6zM345.7 708.2h1.6v1.6h-1.6zM317.7 685.8h1.6v1.6h-1.6zM319.8 637.5h1.6v1.6h-1.6zM334.4 680.6h1.6v1.6h-1.6zM342.8 692.8h1.6v1.6h-1.6zM325.4 676.6h1.6v1.6h-1.6zM338.1 683.7h1.6v1.6h-1.6zM340.9 684.8h1.6v1.6h-1.6zM340.9 715.4h1.6v1.6h-1.6zM317.7 646.3h1.6v1.6h-1.6zM345.4 706.0h1.6v1.6h-1.6zM325.9 655.2h1.6v1.6h-1.6zM340.2 701.1h1.6v1.6h-1.6zM332.1 654.9h1.6v1.6h-1.6zM325.5 641.2h1.6v1.6h-1.6zM319.6 688.6h1.6v1.6h-1.6zM327.5 688.1h1.6v1.6h-1.6zM292.6 619.4h1.6v1.6h-1.6zM321.6 634.1h1.6v1.6h-1.6zM336.0 677.1h1.6v1.6h-1.6zM330.0 700.6h1.6v1.6h-1.6zM338.8 685.9h1.6v1.6h-1.6zM321.3 655.6h1.6v1.6h-1.6zM346.0 714.5h1.6v1.6h-1.6zM346.4 715.9h1.6v1.6h-1.6zM331.3 693.7h1.6v1.6h-1.6zM320.7 635.0h1.6v1.6h-1.6zM338.8 699.6h1.6v1.6h-1.6zM329.0 651.6h1.6v1.6h-1.6zM336.3 693.6h1.6v1.6h-1.6zM307.9 659.4h1.6v1.6h-1.6zM344.4 698.9h1.6v1.6h-1.6zM333.9 668.9h1.6v1.6h-1.6zM339.3 701.3h1.6v1.6h-1.6zM324.1 664.6h1.6v1.6h-1.6zM314.5 669.4h1.6v1.6h-1.6zM327.4 645.4h1.6v1.6h-1.6zM337.8 706.2h1.6v1.6h-1.6zM330.7 651.4h1.6v1.6h-1.6zM339.1 699.3h1.6v1.6h-1.6zM328.0 669.0h1.6v1.6h-1.6zM313.9 636.9h1.6v1.6h-1.6zM320.2 639.0h1.6v1.6h-1.6zM318.4 639.9h1.6v1.6h-1.6zM349.6 718.6h1.6v1.6h-1.6zM312.4 641.0h1.6v1.6h-1.6zM336.1 665.8h1.6v1.6h-1.6zM335.0 700.6h1.6v1.6h-1.6zM309.6 621.5h1.6v1.6h-1.6zM323.8 674.9h1.6v1.6h-1.6zM315.6 645.5h1.6v1.6h-1.6zM318.3 710.7h1.6v1.6h-1.6zM330.1 679.2h1.6v1.6h-1.6zM345.6 711.2h1.6v1.6h-1.6zM320.5 655.1h1.6v1.6h-1.6zM347.0 700.6h1.6v1.6h-1.6zM343.0 705.0h1.6v1.6h-1.6zM332.5 670.1h1.6v1.6h-1.6zM329.7 650.8h1.6v1.6h-1.6zM325.9 656.8h1.6v1.6h-1.6zM323.4 643.3h1.6v1.6h-1.6zM317.4 670.9h1.6v1.6h-1.6zM325.5 689.9h1.6v1.6h-1.6zM303.9 677.3h1.6v1.6h-1.6zM304.2 650.7h1.6v1.6h-1.6zM330.9 667.0h1.6v1.6h-1.6zM310.5 654.0h1.6v1.6h-1.6zM307.3 634.8h1.6v1.6h-1.6zM327.5 691.2h1.6v1.6h-1.6zM322.8 629.6h1.6v1.6h-1.6zM313.0 648.8h1.6v1.6h-1.6zM311.0 662.2h1.6v1.6h-1.6zM322.9 628.2h1.6v1.6h-1.6zM303.7 682.1h1.6v1.6h-1.6zM326.5 670.6h1.6v1.6h-1.6zM325.0 671.4h1.6v1.6h-1.6zM327.5 685.5h1.6v1.6h-1.6zM325.9 648.1h1.6v1.6h-1.6zM336.7 684.0h1.6v1.6h-1.6zM322.9 621.5h1.6v1.6h-1.6zM335.8 699.7h1.6v1.6h-1.6zM327.4 683.5h1.6v1.6h-1.6zM333.0 687.7h1.6v1.6h-1.6zM329.9 692.9h1.6v1.6h-1.6zM336.2 667.6h1.6v1.6h-1.6zM302.1 652.4h1.6v1.6h-1.6zM324.7 647.5h1.6v1.6h-1.6zM332.1 676.9h1.6v1.6h-1.6zM323.4 671.2h1.6v1.6h-1.6zM326.2 671.8h1.6v1.6h-1.6zM332.6 655.2h1.6v1.6h-1.6zM330.4 655.2h1.6v1.6h-1.6zM333.3 698.2h1.6v1.6h-1.6zM313.3 636.7h1.6v1.6h-1.6zM317.8 657.9h1.6v1.6h-1.6zM328.1 657.4h1.6v1.6h-1.6zM301.7 658.8h1.6v1.6h-1.6zM316.8 629.2h1.6v1.6h-1.6zM330.9 675.8h1.6v1.6h-1.6zM310.9 634.9h1.6v1.6h-1.6zM339.4 695.9h1.6v1.6h-1.6zM291.7 643.9h1.6v1.6h-1.6zM314.1 630.4h1.6v1.6h-1.6zM316.9 630.4h1.6v1.6h-1.6zM341.0 698.0h1.6v1.6h-1.6zM346.4 710.5h1.6v1.6h-1.6zM328.1 640.6h1.6v1.6h-1.6zM337.5 690.6h1.6v1.6h-1.6zM339.9 693.8h1.6v1.6h-1.6zM315.3 630.8h1.6v1.6h-1.6zM345.6 699.3h1.6v1.6h-1.6zM323.4 657.1h1.6v1.6h-1.6zM332.8 671.2h1.6v1.6h-1.6zM334.3 681.2h1.6v1.6h-1.6zM341.0 706.2h1.6v1.6h-1.6zM343.0 693.1h1.6v1.6h-1.6zM328.4 668.8h1.6v1.6h-1.6zM339.1 682.7h1.6v1.6h-1.6zM328.4 700.3h1.6v1.6h-1.6zM306.2 686.6h1.6v1.6h-1.6zM340.6 686.3h1.6v1.6h-1.6zM314.3 635.9h1.6v1.6h-1.6zM343.6 701.9h1.6v1.6h-1.6zM327.5 672.3h1.6v1.6h-1.6zM325.7 648.8h1.6v1.6h-1.6zM332.4 660.5h1.6v1.6h-1.6zM298.5 626.6h1.6v1.6h-1.6zM325.3 667.7h1.6v1.6h-1.6zM350.1 710.3h1.6v1.6h-1.6zM308.5 648.5h1.6v1.6h-1.6zM335.6 674.5h1.6v1.6h-1.6zM338.9 692.4h1.6v1.6h-1.6zM323.5 665.8h1.6v1.6h-1.6zM341.4 685.0h1.6v1.6h-1.6zM326.6 680.3h1.6v1.6h-1.6zM348.1 717.4h1.6v1.6h-1.6zM317.0 624.2h1.6v1.6h-1.6zM314.5 684.3h1.6v1.6h-1.6zM332.2 653.2h1.6v1.6h-1.6zM334.1 659.6h1.6v1.6h-1.6zM337.5 675.0h1.6v1.6h-1.6zM328.8 640.5h1.6v1.6h-1.6zM317.8 673.8h1.6v1.6h-1.6zM315.1 634.7h1.6v1.6h-1.6zM328.8 694.8h1.6v1.6h-1.6zM330.2 685.2h1.6v1.6h-1.6zM331.1 677.8h1.6v1.6h-1.6zM314.5 624.0h1.6v1.6h-1.6zM320.4 631.8h1.6v1.6h-1.6zM338.6 708.7h1.6v1.6h-1.6zM337.1 692.7h1.6v1.6h-1.6zM306.7 659.3h1.6v1.6h-1.6zM343.1 706.8h1.6v1.6h-1.6zM325.5 657.2h1.6v1.6h-1.6zM327.1 674.4h1.6v1.6h-1.6zM340.4 704.5h1.6v1.6h-1.6zM326.5 645.1h1.6v1.6h-1.6zM341.8 697.0h1.6v1.6h-1.6zM319.8 667.3h1.6v1.6h-1.6zM341.6 712.2h1.6v1.6h-1.6zM322.5 630.8h1.6v1.6h-1.6zM327.3 680.3h1.6v1.6h-1.6zM326.2 662.0h1.6v1.6h-1.6zM305.0 662.8h1.6v1.6h-1.6zM332.4 669.7h1.6v1.6h-1.6zM326.0 645.1h1.6v1.6h-1.6zM339.6 677.1h1.6v1.6h-1.6zM340.8 698.6h1.6v1.6h-1.6zM336.0 671.6h1.6v1.6h-1.6zM303.5 618.4h1.6v1.6h-1.6zM348.7 718.7h1.6v1.6h-1.6zM343.6 707.3h1.6v1.6h-1.6zM337.7 689.8h1.6v1.6h-1.6zM347.8 716.8h1.6v1.6h-1.6zM319.6 669.7h1.6v1.6h-1.6zM338.8 689.6h1.6v1.6h-1.6zM326.3 674.6h1.6v1.6h-1.6zM318.4 634.3h1.6v1.6h-1.6zM332.4 686.1h1.6v1.6h-1.6zM287.7 616.2h1.6v1.6h-1.6zM327.8 676.6h1.6v1.6h-1.6zM338.7 717.9h1.6v1.6h-1.6zM332.5 685.7h1.6v1.6h-1.6zM342.8 693.2h1.6v1.6h-1.6zM327.5 671.4h1.6v1.6h-1.6zM286.9 662.3h1.6v1.6h-1.6zM334.1 697.6h1.6v1.6h-1.6zM303.8 646.8h1.6v1.6h-1.6zM299.9 624.3h1.6v1.6h-1.6zM317.3 665.3h1.6v1.6h-1.6zM345.1 696.8h1.6v1.6h-1.6zM328.9 673.6h1.6v1.6h-1.6zM335.4 686.8h1.6v1.6h-1.6zM321.6 650.0h1.6v1.6h-1.6zM334.2 674.3h1.6v1.6h-1.6zM312.0 636.0h1.6v1.6h-1.6zM333.3 681.5h1.6v1.6h-1.6zM334.5 691.3h1.6v1.6h-1.6zM346.9 702.1h1.6v1.6h-1.6zM337.9 691.5h1.6v1.6h-1.6zM321.4 652.4h1.6v1.6h-1.6zM341.5 696.7h1.6v1.6h-1.6zM330.0 648.9h1.6v1.6h-1.6zM338.5 687.9h1.6v1.6h-1.6zM340.7 681.7h1.6v1.6h-1.6zM323.3 658.5h1.6v1.6h-1.6zM319.8 636.2h1.6v1.6h-1.6zM347.7 710.6h1.6v1.6h-1.6zM333.8 672.9h1.6v1.6h-1.6zM319.7 629.3h1.6v1.6h-1.6zM313.0 659.0h1.6v1.6h-1.6zM322.0 625.2h1.6v1.6h-1.6zM328.0 671.8h1.6v1.6h-1.6zM332.7 670.8h1.6v1.6h-1.6zM349.0 718.3h1.6v1.6h-1.6zM321.4 629.8h1.6v1.6h-1.6zM346.6 709.9h1.6v1.6h-1.6zM310.5 656.5h1.6v1.6h-1.6zM326.2 665.7h1.6v1.6h-1.6zM339.0 692.2h1.6v1.6h-1.6zM331.6 690.5h1.6v1.6h-1.6zM313.2 626.5h1.6v1.6h-1.6zM325.3 696.6h1.6v1.6h-1.6zM311.3 618.4h1.6v1.6h-1.6zM326.3 694.0h1.6v1.6h-1.6zM330.3 676.1h1.6v1.6h-1.6zM322.8 639.9h1.6v1.6h-1.6zM321.3 650.1h1.6v1.6h-1.6zM330.8 688.6h1.6v1.6h-1.6zM328.7 658.9h1.6v1.6h-1.6zM323.6 658.0h1.6v1.6h-1.6zM306.6 650.9h1.6v1.6h-1.6zM328.1 658.1h1.6v1.6h-1.6zM321.1 634.5h1.6v1.6h-1.6zM322.6 696.1h1.6v1.6h-1.6zM306.5 623.4h1.6v1.6h-1.6zM320.2 690.7h1.6v1.6h-1.6zM325.4 693.6h1.6v1.6h-1.6zM319.3 647.8h1.6v1.6h-1.6zM342.8 693.7h1.6v1.6h-1.6zM345.3 703.7h1.6v1.6h-1.6zM322.5 648.1h1.6v1.6h-1.6zM318.6 653.6h1.6v1.6h-1.6zM313.5 643.3h1.6v1.6h-1.6zM341.1 701.4h1.6v1.6h-1.6zM338.7 699.4h1.6v1.6h-1.6zM314.6 621.6h1.6v1.6h-1.6zM322.2 645.4h1.6v1.6h-1.6zM323.4 678.2h1.6v1.6h-1.6zM338.3 674.8h1.6v1.6h-1.6zM341.3 700.1h1.6v1.6h-1.6zM313.9 677.0h1.6v1.6h-1.6zM341.9 703.0h1.6v1.6h-1.6zM301.4 635.6h1.6v1.6h-1.6zM321.8 642.8h1.6v1.6h-1.6zM323.4 682.5h1.6v1.6h-1.6zM331.8 652.8h1.6v1.6h-1.6zM347.2 716.0h1.6v1.6h-1.6zM336.3 690.0h1.6v1.6h-1.6zM351.2 717.2h1.6v1.6h-1.6zM320.4 620.4h1.6v1.6h-1.6zM329.9 652.8h1.6v1.6h-1.6zM324.2 688.3h1.6v1.6h-1.6zM308.7 629.2h1.6v1.6h-1.6zM327.1 690.7h1.6v1.6h-1.6zM343.0 687.9h1.6v1.6h-1.6zM321.4 638.5h1.6v1.6h-1.6zM336.7 673.6h1.6v1.6h-1.6zM306.2 628.5h1.6v1.6h-1.6zM338.6 683.9h1.6v1.6h-1.6zM308.5 624.7h1.6v1.6h-1.6zM337.8 707.9h1.6v1.6h-1.6zM336.1 685.9h1.6v1.6h-1.6zM343.4 691.9h1.6v1.6h-1.6zM326.6 673.9h1.6v1.6h-1.6zM319.0 635.8h1.6v1.6h-1.6zM344.8 706.7h1.6v1.6h-1.6zM312.6 636.5h1.6v1.6h-1.6zM316.5 682.6h1.6v1.6h-1.6zM351.5 716.3h1.6v1.6h-1.6zM336.4 691.2h1.6v1.6h-1.6zM310.4 632.6h1.6v1.6h-1.6zM338.1 671.7h1.6v1.6h-1.6zM311.9 625.3h1.6v1.6h-1.6zM347.8 714.2h1.6v1.6h-1.6zM314.7 640.5h1.6v1.6h-1.6zM342.0 700.2h1.6v1.6h-1.6zM331.6 661.1h1.6v1.6h-1.6zM322.7 676.7h1.6v1.6h-1.6zM326.3 642.0h1.6v1.6h-1.6zM349.9 717.5h1.6v1.6h-1.6zM317.0 641.3h1.6v1.6h-1.6zM348.8 716.9h1.6v1.6h-1.6zM319.9 654.6h1.6v1.6h-1.6zM327.4 654.0h1.6v1.6h-1.6zM345.1 698.3h1.6v1.6h-1.6zM316.1 668.8h1.6v1.6h-1.6zM324.5 652.6h1.6v1.6h-1.6zM305.7 652.6h1.6v1.6h-1.6zM303.1 618.8h1.6v1.6h-1.6zM326.5 665.7h1.6v1.6h-1.6zM313.2 633.6h1.6v1.6h-1.6zM343.6 694.5h1.6v1.6h-1.6zM319.3 633.4h1.6v1.6h-1.6zM286.0 643.7h1.6v1.6h-1.6zM338.6 678.7h1.6v1.6h-1.6zM318.0 629.1h1.6v1.6h-1.6zM335.7 667.7h1.6v1.6h-1.6zM346.0 700.6h1.6v1.6h-1.6zM338.6 700.1h1.6v1.6h-1.6zM336.7 713.5h1.6v1.6h-1.6zM329.2 670.2h1.6v1.6h-1.6zM325.0 699.8h1.6v1.6h-1.6zM322.4 685.2h1.6v1.6h-1.6zM299.1 665.4h1.6v1.6h-1.6zM333.7 671.4h1.6v1.6h-1.6zM329.5 656.5h1.6v1.6h-1.6zM320.2 667.7h1.6v1.6h-1.6zM325.6 683.7h1.6v1.6h-1.6zM312.2 627.1h1.6v1.6h-1.6zM310.8 661.4h1.6v1.6h-1.6zM336.3 673.0h1.6v1.6h-1.6zM331.1 688.3h1.6v1.6h-1.6zM352.0 717.0h1.6v1.6h-1.6zM337.7 693.1h1.6v1.6h-1.6zM319.0 646.6h1.6v1.6h-1.6zM325.1 698.8h1.6v1.6h-1.6zM334.1 688.3h1.6v1.6h-1.6zM321.2 624.0h1.6v1.6h-1.6zM330.0 651.9h1.6v1.6h-1.6zM332.2 678.2h1.6v1.6h-1.6zM313.7 647.4h1.6v1.6h-1.6zM332.5 703.7h1.6v1.6h-1.6zM329.4 651.2h1.6v1.6h-1.6zM330.9 716.8h1.6v1.6h-1.6zM325.6 694.8h1.6v1.6h-1.6zM311.5 626.8h1.6v1.6h-1.6zM335.7 665.7h1.6v1.6h-1.6zM340.7 683.2h1.6v1.6h-1.6zM304.2 623.5h1.6v1.6h-1.6zM339.2 683.2h1.6v1.6h-1.6zM349.5 716.9h1.6v1.6h-1.6zM300.9 651.2h1.6v1.6h-1.6zM331.3 654.1h1.6v1.6h-1.6zM330.2 696.5h1.6v1.6h-1.6zM343.3 692.1h1.6v1.6h-1.6zM317.8 641.2h1.6v1.6h-1.6zM326.7 674.8h1.6v1.6h-1.6zM324.7 692.9h1.6v1.6h-1.6zM325.3 683.8h1.6v1.6h-1.6zM329.9 674.6h1.6v1.6h-1.6zM344.0 706.8h1.6v1.6h-1.6zM330.7 701.8h1.6v1.6h-1.6zM330.2 646.4h1.6v1.6h-1.6zM335.1 692.0h1.6v1.6h-1.6zM347.1 715.5h1.6v1.6h-1.6zM324.0 672.8h1.6v1.6h-1.6zM349.1 714.4h1.6v1.6h-1.6zM345.7 709.7h1.6v1.6h-1.6zM339.4 680.4h1.6v1.6h-1.6zM352.4 717.6h1.6v1.6h-1.6zM321.5 658.0h1.6v1.6h-1.6zM332.2 675.3h1.6v1.6h-1.6zM336.5 677.3h1.6v1.6h-1.6zM322.9 647.6h1.6v1.6h-1.6zM324.6 644.6h1.6v1.6h-1.6zM314.3 659.6h1.6v1.6h-1.6zM337.3 707.3h1.6v1.6h-1.6zM327.7 645.9h1.6v1.6h-1.6zM335.4 689.9h1.6v1.6h-1.6zM309.1 624.2h1.6v1.6h-1.6zM329.9 694.0h1.6v1.6h-1.6zM326.0 637.2h1.6v1.6h-1.6zM314.8 684.6h1.6v1.6h-1.6zM320.3 635.0h1.6v1.6h-1.6zM323.2 649.5h1.6v1.6h-1.6zM320.1 642.2h1.6v1.6h-1.6zM334.5 695.1h1.6v1.6h-1.6zM308.1 632.6h1.6v1.6h-1.6zM306.0 627.3h1.6v1.6h-1.6zM344.5 716.6h1.6v1.6h-1.6zM321.6 650.6h1.6v1.6h-1.6zM329.5 651.4h1.6v1.6h-1.6zM326.3 669.4h1.6v1.6h-1.6zM345.7 700.6h1.6v1.6h-1.6zM333.4 677.0h1.6v1.6h-1.6zM346.2 699.0h1.6v1.6h-1.6zM328.6 665.6h1.6v1.6h-1.6zM324.7 650.4h1.6v1.6h-1.6zM294.7 658.8h1.6v1.6h-1.6zM334.0 675.0h1.6v1.6h-1.6zM321.2 621.8h1.6v1.6h-1.6zM341.2 700.8h1.6v1.6h-1.6zM317.4 640.8h1.6v1.6h-1.6zM337.3 699.7h1.6v1.6h-1.6zM331.3 675.8h1.6v1.6h-1.6zM335.0 703.4h1.6v1.6h-1.6zM314.5 628.2h1.6v1.6h-1.6zM329.2 671.7h1.6v1.6h-1.6zM297.3 639.7h1.6v1.6h-1.6zM327.6 680.0h1.6v1.6h-1.6zM331.7 660.3h1.6v1.6h-1.6zM331.4 684.4h1.6v1.6h-1.6zM331.8 692.7h1.6v1.6h-1.6zM334.8 675.8h1.6v1.6h-1.6zM316.6 615.9h1.6v1.6h-1.6zM343.7 696.5h1.6v1.6h-1.6zM320.2 681.5h1.6v1.6h-1.6zM326.7 642.4h1.6v1.6h-1.6zM314.5 634.3h1.6v1.6h-1.6zM328.3 663.0h1.6v1.6h-1.6zM322.0 690.6h1.6v1.6h-1.6zM324.5 658.3h1.6v1.6h-1.6zM316.6 648.5h1.6v1.6h-1.6zM320.8 668.5h1.6v1.6h-1.6zM339.5 701.7h1.6v1.6h-1.6zM339.7 698.8h1.6v1.6h-1.6zM345.3 715.1h1.6v1.6h-1.6zM300.1 626.0h1.6v1.6h-1.6zM325.3 631.7h1.6v1.6h-1.6zM344.7 698.1h1.6v1.6h-1.6zM313.9 626.7h1.6v1.6h-1.6zM343.3 709.6h1.6v1.6h-1.6zM326.3 693.9h1.6v1.6h-1.6zM320.5 681.2h1.6v1.6h-1.6zM328.6 668.9h1.6v1.6h-1.6zM329.9 675.0h1.6v1.6h-1.6zM329.2 642.1h1.6v1.6h-1.6zM320.1 644.1h1.6v1.6h-1.6zM348.4 712.4h1.6v1.6h-1.6zM347.1 704.8h1.6v1.6h-1.6zM333.0 687.4h1.6v1.6h-1.6zM315.1 662.7h1.6v1.6h-1.6zM331.2 669.0h1.6v1.6h-1.6zM335.5 692.6h1.6v1.6h-1.6zM333.6 682.3h1.6v1.6h-1.6zM321.3 628.4h1.6v1.6h-1.6zM313.8 650.4h1.6v1.6h-1.6zM320.1 643.5h1.6v1.6h-1.6zM314.3 629.4h1.6v1.6h-1.6zM321.8 644.8h1.6v1.6h-1.6zM336.3 675.6h1.6v1.6h-1.6zM288.0 621.4h1.6v1.6h-1.6zM334.1 693.9h1.6v1.6h-1.6zM339.3 706.0h1.6v1.6h-1.6zM342.4 692.2h1.6v1.6h-1.6zM328.7 707.8h1.6v1.6h-1.6zM321.7 688.5h1.6v1.6h-1.6zM307.5 655.3h1.6v1.6h-1.6zM330.1 660.0h1.6v1.6h-1.6zM317.0 643.4h1.6v1.6h-1.6zM338.1 687.6h1.6v1.6h-1.6zM334.4 672.1h1.6v1.6h-1.6zM325.7 687.9h1.6v1.6h-1.6zM313.4 672.2h1.6v1.6h-1.6zM333.0 678.1h1.6v1.6h-1.6zM348.4 710.4h1.6v1.6h-1.6zM331.3 686.1h1.6v1.6h-1.6zM283.5 637.6h1.6v1.6h-1.6zM338.9 696.4h1.6v1.6h-1.6zM326.9 688.7h1.6v1.6h-1.6zM339.3 694.1h1.6v1.6h-1.6zM336.1 675.2h1.6v1.6h-1.6zM320.7 656.1h1.6v1.6h-1.6zM333.4 665.3h1.6v1.6h-1.6zM308.5 628.7h1.6v1.6h-1.6zM317.5 688.1h1.6v1.6h-1.6zM320.7 640.2h1.6v1.6h-1.6zM321.5 658.5h1.6v1.6h-1.6zM334.0 686.5h1.6v1.6h-1.6zM339.7 708.1h1.6v1.6h-1.6zM333.4 705.6h1.6v1.6h-1.6zM352.1 716.6h1.6v1.6h-1.6zM336.7 712.2h1.6v1.6h-1.6zM291.4 645.0h1.6v1.6h-1.6zM310.5 647.8h1.6v1.6h-1.6zM319.0 637.6h1.6v1.6h-1.6zM339.6 682.3h1.6v1.6h-1.6zM328.8 645.3h1.6v1.6h-1.6zM322.8 625.8h1.6v1.6h-1.6zM278.5 621.3h1.6v1.6h-1.6zM334.6 687.1h1.6v1.6h-1.6zM348.5 706.2h1.6v1.6h-1.6zM326.2 657.3h1.6v1.6h-1.6zM321.7 624.2h1.6v1.6h-1.6zM307.4 671.4h1.6v1.6h-1.6zM327.6 678.0h1.6v1.6h-1.6zM306.4 655.0h1.6v1.6h-1.6zM316.9 647.1h1.6v1.6h-1.6zM322.8 648.9h1.6v1.6h-1.6zM340.7 717.4h1.6v1.6h-1.6zM330.0 687.0h1.6v1.6h-1.6zM310.5 622.3h1.6v1.6h-1.6zM310.0 628.0h1.6v1.6h-1.6zM316.6 644.4h1.6v1.6h-1.6zM339.4 691.5h1.6v1.6h-1.6zM348.8 710.8h1.6v1.6h-1.6zM330.2 702.2h1.6v1.6h-1.6zM337.6 678.7h1.6v1.6h-1.6zM329.8 656.1h1.6v1.6h-1.6zM313.0 639.5h1.6v1.6h-1.6zM271.7 671.1h1.6v1.6h-1.6zM308.4 643.7h1.6v1.6h-1.6zM326.4 652.9h1.6v1.6h-1.6zM310.1 667.7h1.6v1.6h-1.6zM342.5 695.0h1.6v1.6h-1.6zM341.9 708.5h1.6v1.6h-1.6zM325.5 640.2h1.6v1.6h-1.6zM332.2 663.8h1.6v1.6h-1.6zM323.4 626.5h1.6v1.6h-1.6zM336.5 715.2h1.6v1.6h-1.6zM332.8 653.6h1.6v1.6h-1.6zM344.2 712.1h1.6v1.6h-1.6zM308.8 666.8h1.6v1.6h-1.6zM331.4 680.2h1.6v1.6h-1.6zM335.6 701.4h1.6v1.6h-1.6zM331.5 681.8h1.6v1.6h-1.6zM328.3 655.9h1.6v1.6h-1.6zM294.7 623.4h1.6v1.6h-1.6zM348.2 718.5h1.6v1.6h-1.6zM302.0 619.2h1.6v1.6h-1.6zM342.9 707.7h1.6v1.6h-1.6zM329.9 676.9h1.6v1.6h-1.6zM329.6 644.7h1.6v1.6h-1.6zM346.6 704.6h1.6v1.6h-1.6zM326.5 644.3h1.6v1.6h-1.6zM321.4 679.9h1.6v1.6h-1.6zM308.4 641.4h1.6v1.6h-1.6zM301.1 669.8h1.6v1.6h-1.6zM340.9 700.4h1.6v1.6h-1.6zM340.8 704.8h1.6v1.6h-1.6zM306.4 676.1h1.6v1.6h-1.6zM321.7 635.0h1.6v1.6h-1.6zM328.6 642.7h1.6v1.6h-1.6zM331.3 662.4h1.6v1.6h-1.6zM332.8 678.0h1.6v1.6h-1.6zM343.7 704.9h1.6v1.6h-1.6zM309.2 669.2h1.6v1.6h-1.6zM312.2 637.0h1.6v1.6h-1.6zM328.1 677.3h1.6v1.6h-1.6zM329.2 683.7h1.6v1.6h-1.6zM309.6 639.8h1.6v1.6h-1.6zM328.5 661.7h1.6v1.6h-1.6zM310.7 622.9h1.6v1.6h-1.6zM337.3 689.0h1.6v1.6h-1.6zM308.8 688.4h1.6v1.6h-1.6zM344.0 716.1h1.6v1.6h-1.6zM334.4 698.3h1.6v1.6h-1.6zM321.6 655.8h1.6v1.6h-1.6zM332.4 679.9h1.6v1.6h-1.6zM305.1 635.6h1.6v1.6h-1.6zM325.2 663.0h1.6v1.6h-1.6zM329.3 643.7h1.6v1.6h-1.6zM318.3 668.7h1.6v1.6h-1.6zM324.4 660.5h1.6v1.6h-1.6zM326.1 661.7h1.6v1.6h-1.6zM318.5 632.1h1.6v1.6h-1.6zM332.2 666.3h1.6v1.6h-1.6zM327.3 693.8h1.6v1.6h-1.6zM316.9 646.6h1.6v1.6h-1.6zM326.9 632.7h1.6v1.6h-1.6zM342.5 709.0h1.6v1.6h-1.6zM316.1 629.3h1.6v1.6h-1.6zM327.1 678.2h1.6v1.6h-1.6zM340.1 705.5h1.6v1.6h-1.6zM302.9 646.8h1.6v1.6h-1.6zM314.1 624.0h1.6v1.6h-1.6zM336.0 694.3h1.6v1.6h-1.6zM320.6 622.2h1.6v1.6h-1.6zM319.7 669.1h1.6v1.6h-1.6zM338.9 682.2h1.6v1.6h-1.6zM327.3 669.6h1.6v1.6h-1.6zM313.8 641.5h1.6v1.6h-1.6zM334.5 666.0h1.6v1.6h-1.6zM349.1 710.9h1.6v1.6h-1.6zM311.3 637.8h1.6v1.6h-1.6zM332.0 677.1h1.6v1.6h-1.6zM344.0 697.6h1.6v1.6h-1.6zM325.2 634.4h1.6v1.6h-1.6zM333.4 674.8h1.6v1.6h-1.6zM321.2 640.9h1.6v1.6h-1.6zM344.1 707.2h1.6v1.6h-1.6zM331.5 657.8h1.6v1.6h-1.6zM330.4 658.7h1.6v1.6h-1.6zM340.7 697.9h1.6v1.6h-1.6zM325.9 629.1h1.6v1.6h-1.6zM344.0 718.0h1.6v1.6h-1.6zM325.2 657.2h1.6v1.6h-1.6zM320.9 662.1h1.6v1.6h-1.6zM308.3 627.0h1.6v1.6h-1.6zM347.3 714.5h1.6v1.6h-1.6zM327.3 699.1h1.6v1.6h-1.6zM331.8 670.3h1.6v1.6h-1.6zM323.6 660.5h1.6v1.6h-1.6zM333.6 667.6h1.6v1.6h-1.6zM306.2 620.9h1.6v1.6h-1.6zM338.3 688.5h1.6v1.6h-1.6zM303.1 641.7h1.6v1.6h-1.6zM320.4 674.5h1.6v1.6h-1.6zM332.9 671.6h1.6v1.6h-1.6zM333.6 700.1h1.6v1.6h-1.6zM334.4 682.4h1.6v1.6h-1.6zM340.8 713.2h1.6v1.6h-1.6zM312.9 618.7h1.6v1.6h-1.6zM333.2 676.4h1.6v1.6h-1.6zM321.2 648.8h1.6v1.6h-1.6zM326.5 648.7h1.6v1.6h-1.6zM348.9 715.8h1.6v1.6h-1.6zM313.5 651.9h1.6v1.6h-1.6zM340.1 696.9h1.6v1.6h-1.6zM332.7 676.2h1.6v1.6h-1.6zM323.9 646.3h1.6v1.6h-1.6zM331.2 708.7h1.6v1.6h-1.6zM319.6 647.4h1.6v1.6h-1.6zM347.3 716.6h1.6v1.6h-1.6zM310.4 644.6h1.6v1.6h-1.6zM335.3 684.8h1.6v1.6h-1.6zM328.8 686.6h1.6v1.6h-1.6zM324.3 626.8h1.6v1.6h-1.6zM321.8 642.1h1.6v1.6h-1.6zM315.3 631.9h1.6v1.6h-1.6zM328.2 679.2h1.6v1.6h-1.6zM302.4 646.6h1.6v1.6h-1.6zM306.9 665.7h1.6v1.6h-1.6zM333.5 689.8h1.6v1.6h-1.6zM326.2 644.0h1.6v1.6h-1.6zM339.8 710.8h1.6v1.6h-1.6zM331.5 666.5h1.6v1.6h-1.6zM312.9 624.6h1.6v1.6h-1.6zM320.9 641.7h1.6v1.6h-1.6zM314.8 619.3h1.6v1.6h-1.6zM298.7 658.2h1.6v1.6h-1.6zM322.2 687.1h1.6v1.6h-1.6zM334.9 712.8h1.6v1.6h-1.6zM338.4 678.8h1.6v1.6h-1.6zM308.1 640.6h1.6v1.6h-1.6zM349.9 714.8h1.6v1.6h-1.6zM327.7 636.5h1.6v1.6h-1.6zM326.0 663.4h1.6v1.6h-1.6zM299.9 623.2h1.6v1.6h-1.6zM322.3 669.9h1.6v1.6h-1.6zM321.7 626.4h1.6v1.6h-1.6zM322.0 635.6h1.6v1.6h-1.6zM347.5 713.7h1.6v1.6h-1.6zM326.9 668.4h1.6v1.6h-1.6zM324.2 633.4h1.6v1.6h-1.6zM314.1 667.4h1.6v1.6h-1.6zM302.8 629.4h1.6v1.6h-1.6zM332.9 659.3h1.6v1.6h-1.6zM325.1 647.3h1.6v1.6h-1.6zM314.9 674.9h1.6v1.6h-1.6zM338.1 685.6h1.6v1.6h-1.6zM303.0 654.2h1.6v1.6h-1.6zM335.0 699.4h1.6v1.6h-1.6zM315.9 651.8h1.6v1.6h-1.6zM317.2 688.4h1.6v1.6h-1.6zM339.9 685.2h1.6v1.6h-1.6zM338.0 702.5h1.6v1.6h-1.6zM318.0 650.5h1.6v1.6h-1.6zM328.7 682.1h1.6v1.6h-1.6zM321.3 662.8h1.6v1.6h-1.6zM335.3 680.4h1.6v1.6h-1.6zM335.7 691.3h1.6v1.6h-1.6zM332.4 669.0h1.6v1.6h-1.6zM324.9 633.5h1.6v1.6h-1.6zM326.2 697.5h1.6v1.6h-1.6zM318.8 656.2h1.6v1.6h-1.6zM312.2 640.3h1.6v1.6h-1.6zM308.3 659.8h1.6v1.6h-1.6zM332.9 681.0h1.6v1.6h-1.6zM329.4 653.2h1.6v1.6h-1.6zM340.8 701.2h1.6v1.6h-1.6zM341.8 694.8h1.6v1.6h-1.6zM327.9 687.4h1.6v1.6h-1.6zM332.5 672.0h1.6v1.6h-1.6zM324.8 632.2h1.6v1.6h-1.6zM335.6 672.1h1.6v1.6h-1.6zM318.2 681.6h1.6v1.6h-1.6zM340.7 716.5h1.6v1.6h-1.6zM323.3 668.7h1.6v1.6h-1.6zM325.8 655.5h1.6v1.6h-1.6zM298.5 655.0h1.6v1.6h-1.6zM338.1 695.1h1.6v1.6h-1.6zM328.3 638.5h1.6v1.6h-1.6zM350.9 719.0h1.6v1.6h-1.6zM313.9 638.7h1.6v1.6h-1.6zM331.7 671.7h1.6v1.6h-1.6zM323.8 650.6h1.6v1.6h-1.6zM331.7 708.6h1.6v1.6h-1.6zM349.2 712.2h1.6v1.6h-1.6zM334.0 690.8h1.6v1.6h-1.6zM331.9 657.2h1.6v1.6h-1.6zM318.9 673.9h1.6v1.6h-1.6zM341.7 708.3h1.6v1.6h-1.6zM321.8 635.8h1.6v1.6h-1.6zM346.5 712.3h1.6v1.6h-1.6zM309.5 643.1h1.6v1.6h-1.6zM334.9 668.4h1.6v1.6h-1.6zM323.6 635.1h1.6v1.6h-1.6zM342.0 693.5h1.6v1.6h-1.6zM306.9 628.2h1.6v1.6h-1.6zM329.6 659.8h1.6v1.6h-1.6zM330.7 646.4h1.6v1.6h-1.6zM317.5 648.6h1.6v1.6h-1.6zM325.5 651.1h1.6v1.6h-1.6zM309.9 645.4h1.6v1.6h-1.6zM316.1 659.6h1.6v1.6h-1.6zM337.0 674.4h1.6v1.6h-1.6zM340.7 682.1h1.6v1.6h-1.6zM337.1 716.2h1.6v1.6h-1.6zM325.8 628.4h1.6v1.6h-1.6zM328.7 681.4h1.6v1.6h-1.6zM332.4 711.2h1.6v1.6h-1.6zM335.5 701.7h1.6v1.6h-1.6zM321.5 624.6h1.6v1.6h-1.6zM310.7 672.3h1.6v1.6h-1.6zM333.6 666.9h1.6v1.6h-1.6zM340.4 699.0h1.6v1.6h-1.6zM321.2 672.8h1.6v1.6h-1.6zM330.7 665.3h1.6v1.6h-1.6zM329.4 689.4h1.6v1.6h-1.6zM325.3 686.8h1.6v1.6h-1.6zM301.5 651.9h1.6v1.6h-1.6zM323.7 635.6h1.6v1.6h-1.6zM323.9 628.6h1.6v1.6h-1.6zM340.2 708.0h1.6v1.6h-1.6zM332.1 654.4h1.6v1.6h-1.6zM331.4 684.8h1.6v1.6h-1.6zM324.4 654.3h1.6v1.6h-1.6zM332.0 659.9h1.6v1.6h-1.6zM325.7 663.8h1.6v1.6h-1.6zM318.0 624.6h1.6v1.6h-1.6zM338.0 679.0h1.6v1.6h-1.6zM322.8 661.1h1.6v1.6h-1.6zM332.0 699.2h1.6v1.6h-1.6zM343.8 705.3h1.6v1.6h-1.6zM328.7 667.4h1.6v1.6h-1.6zM325.3 651.5h1.6v1.6h-1.6zM323.6 666.3h1.6v1.6h-1.6zM305.6 632.7h1.6v1.6h-1.6zM337.6 711.8h1.6v1.6h-1.6zM341.2 697.3h1.6v1.6h-1.6zM349.7 710.8h1.6v1.6h-1.6zM342.2 690.9h1.6v1.6h-1.6zM340.8 707.7h1.6v1.6h-1.6zM334.5 666.8h1.6v1.6h-1.6zM349.9 715.2h1.6v1.6h-1.6zM337.8 701.6h1.6v1.6h-1.6zM330.7 688.2h1.6v1.6h-1.6zM345.6 712.4h1.6v1.6h-1.6zM344.0 691.0h1.6v1.6h-1.6zM317.6 664.0h1.6v1.6h-1.6zM325.4 644.5h1.6v1.6h-1.6zM334.6 667.3h1.6v1.6h-1.6zM312.9 643.5h1.6v1.6h-1.6zM301.2 625.0h1.6v1.6h-1.6zM322.4 652.9h1.6v1.6h-1.6zM297.6 635.5h1.6v1.6h-1.6zM307.5 656.4h1.6v1.6h-1.6zM323.0 625.4h1.6v1.6h-1.6zM311.7 638.8h1.6v1.6h-1.6zM329.1 664.0h1.6v1.6h-1.6zM342.3 686.8h1.6v1.6h-1.6zM344.2 711.3h1.6v1.6h-1.6zM336.8 710.6h1.6v1.6h-1.6zM328.6 713.8h1.6v1.6h-1.6zM345.2 714.6h1.6v1.6h-1.6zM333.5 696.6h1.6v1.6h-1.6zM315.7 668.1h1.6v1.6h-1.6zM338.4 689.4h1.6v1.6h-1.6zM339.7 697.4h1.6v1.6h-1.6zM325.7 676.2h1.6v1.6h-1.6zM335.0 684.0h1.6v1.6h-1.6zM315.9 634.1h1.6v1.6h-1.6zM322.3 627.4h1.6v1.6h-1.6zM352.0 716.4h1.6v1.6h-1.6zM315.7 637.5h1.6v1.6h-1.6zM335.2 691.4h1.6v1.6h-1.6zM335.0 678.9h1.6v1.6h-1.6zM327.2 697.0h1.6v1.6h-1.6zM339.6 678.9h1.6v1.6h-1.6zM315.4 642.3h1.6v1.6h-1.6zM328.0 652.9h1.6v1.6h-1.6zM318.3 652.7h1.6v1.6h-1.6zM319.6 658.8h1.6v1.6h-1.6zM322.9 656.4h1.6v1.6h-1.6zM311.5 623.9h1.6v1.6h-1.6zM331.6 681.3h1.6v1.6h-1.6zM316.2 635.7h1.6v1.6h-1.6zM340.6 683.5h1.6v1.6h-1.6zM339.1 695.1h1.6v1.6h-1.6zM318.3 643.8h1.6v1.6h-1.6zM340.9 693.3h1.6v1.6h-1.6zM337.3 696.2h1.6v1.6h-1.6zM342.8 697.1h1.6v1.6h-1.6zM332.2 682.0h1.6v1.6h-1.6zM336.4 707.6h1.6v1.6h-1.6zM328.6 677.7h1.6v1.6h-1.6zM312.4 632.8h1.6v1.6h-1.6zM313.9 670.2h1.6v1.6h-1.6zM335.1 674.6h1.6v1.6h-1.6zM340.4 688.3h1.6v1.6h-1.6zM346.4 713.3h1.6v1.6h-1.6zM336.7 712.8h1.6v1.6h-1.6zM324.6 684.8h1.6v1.6h-1.6zM313.8 668.4h1.6v1.6h-1.6zM315.7 667.2h1.6v1.6h-1.6zM347.2 717.8h1.6v1.6h-1.6zM327.8 668.7h1.6v1.6h-1.6zM307.1 670.2h1.6v1.6h-1.6zM314.7 658.6h1.6v1.6h-1.6zM319.8 682.8h1.6v1.6h-1.6zM333.7 683.9h1.6v1.6h-1.6zM328.9 664.1h1.6v1.6h-1.6zM306.2 636.4h1.6v1.6h-1.6zM333.8 671.8h1.6v1.6h-1.6zM325.7 654.7h1.6v1.6h-1.6zM322.6 671.2h1.6v1.6h-1.6zM317.2 620.5h1.6v1.6h-1.6zM324.1 669.2h1.6v1.6h-1.6zM336.9 671.0h1.6v1.6h-1.6zM320.8 691.9h1.6v1.6h-1.6zM320.5 663.7h1.6v1.6h-1.6zM326.2 696.6h1.6v1.6h-1.6zM316.7 672.3h1.6v1.6h-1.6zM327.0 651.1h1.6v1.6h-1.6zM339.9 703.1h1.6v1.6h-1.6zM323.4 653.0h1.6v1.6h-1.6zM347.7 718.0h1.6v1.6h-1.6zM312.0 630.2h1.6v1.6h-1.6zM324.9 675.9h1.6v1.6h-1.6zM307.4 623.9h1.6v1.6h-1.6zM338.9 680.1h1.6v1.6h-1.6zM325.3 697.3h1.6v1.6h-1.6zM327.8 681.6h1.6v1.6h-1.6zM320.7 695.7h1.6v1.6h-1.6zM326.3 685.9h1.6v1.6h-1.6zM337.1 702.2h1.6v1.6h-1.6zM328.9 659.3h1.6v1.6h-1.6zM320.9 686.4h1.6v1.6h-1.6zM328.5 644.7h1.6v1.6h-1.6zM322.5 653.1h1.6v1.6h-1.6zM325.7 692.2h1.6v1.6h-1.6zM319.0 647.0h1.6v1.6h-1.6zM341.3 711.4h1.6v1.6h-1.6zM341.7 686.9h1.6v1.6h-1.6zM331.4 702.6h1.6v1.6h-1.6zM324.7 676.1h1.6v1.6h-1.6zM332.9 673.9h1.6v1.6h-1.6zM310.8 660.2h1.6v1.6h-1.6zM300.2 631.5h1.6v1.6h-1.6zM331.7 667.6h1.6v1.6h-1.6zM347.1 714.3h1.6v1.6h-1.6zM348.0 707.4h1.6v1.6h-1.6zM328.5 658.4h1.6v1.6h-1.6zM329.2 642.7h1.6v1.6h-1.6zM330.6 653.2h1.6v1.6h-1.6zM332.5 667.8h1.6v1.6h-1.6zM308.3 678.9h1.6v1.6h-1.6zM324.0 659.8h1.6v1.6h-1.6zM336.3 685.4h1.6v1.6h-1.6zM325.7 653.8h1.6v1.6h-1.6zM332.0 655.3h1.6v1.6h-1.6zM313.4 621.5h1.6v1.6h-1.6zM339.0 680.5h1.6v1.6h-1.6zM323.3 665.4h1.6v1.6h-1.6zM321.0 645.2h1.6v1.6h-1.6zM317.6 655.2h1.6v1.6h-1.6zM329.4 669.6h1.6v1.6h-1.6zM343.1 688.9h1.6v1.6h-1.6zM317.5 693.4h1.6v1.6h-1.6zM326.6 634.4h1.6v1.6h-1.6zM334.6 681.0h1.6v1.6h-1.6zM315.2 653.5h1.6v1.6h-1.6zM351.3 714.0h1.6v1.6h-1.6zM334.0 668.4h1.6v1.6h-1.6zM339.5 701.2h1.6v1.6h-1.6zM323.3 646.4h1.6v1.6h-1.6zM330.9 653.5h1.6v1.6h-1.6zM308.8 644.0h1.6v1.6h-1.6zM331.5 659.2h1.6v1.6h-1.6zM346.3 702.4h1.6v1.6h-1.6zM317.7 632.9h1.6v1.6h-1.6zM324.4 662.1h1.6v1.6h-1.6zM315.5 650.1h1.6v1.6h-1.6zM312.9 669.4h1.6v1.6h-1.6zM335.1 696.0h1.6v1.6h-1.6zM322.7 664.2h1.6v1.6h-1.6zM337.5 694.0h1.6v1.6h-1.6zM335.4 685.8h1.6v1.6h-1.6zM306.8 640.5h1.6v1.6h-1.6zM318.9 632.8h1.6v1.6h-1.6zM339.6 697.6h1.6v1.6h-1.6zM324.1 648.1h1.6v1.6h-1.6zM314.4 627.1h1.6v1.6h-1.6zM326.5 656.8h1.6v1.6h-1.6zM320.3 648.4h1.6v1.6h-1.6zM315.3 627.6h1.6v1.6h-1.6zM315.1 683.4h1.6v1.6h-1.6zM324.8 656.1h1.6v1.6h-1.6zM332.4 700.8h1.6v1.6h-1.6zM317.7 695.9h1.6v1.6h-1.6zM348.6 712.3h1.6v1.6h-1.6zM326.8 660.1h1.6v1.6h-1.6zM325.4 637.4h1.6v1.6h-1.6zM318.7 658.7h1.6v1.6h-1.6zM319.4 644.8h1.6v1.6h-1.6zM327.8 676.2h1.6v1.6h-1.6zM313.0 686.8h1.6v1.6h-1.6zM334.7 708.5h1.6v1.6h-1.6zM329.5 682.3h1.6v1.6h-1.6zM308.5 635.7h1.6v1.6h-1.6zM329.6 657.3h1.6v1.6h-1.6zM305.4 629.6h1.6v1.6h-1.6zM336.6 687.6h1.6v1.6h-1.6zM309.1 634.6h1.6v1.6h-1.6zM301.5 623.2h1.6v1.6h-1.6zM332.8 699.8h1.6v1.6h-1.6zM343.4 711.2h1.6v1.6h-1.6zM292.8 647.7h1.6v1.6h-1.6zM325.3 649.7h1.6v1.6h-1.6zM332.3 680.3h1.6v1.6h-1.6zM329.5 668.7h1.6v1.6h-1.6zM324.2 628.6h1.6v1.6h-1.6zM328.3 693.4h1.6v1.6h-1.6zM348.4 709.7h1.6v1.6h-1.6zM317.4 634.8h1.6v1.6h-1.6zM338.7 691.8h1.6v1.6h-1.6zM304.8 660.1h1.6v1.6h-1.6zM338.0 712.5h1.6v1.6h-1.6zM327.4 642.4h1.6v1.6h-1.6zM338.8 703.6h1.6v1.6h-1.6zM302.7 650.0h1.6v1.6h-1.6zM324.6 646.8h1.6v1.6h-1.6zM338.1 676.7h1.6v1.6h-1.6zM325.3 689.7h1.6v1.6h-1.6zM328.3 642.5h1.6v1.6h-1.6zM325.5 659.3h1.6v1.6h-1.6zM300.9 623.6h1.6v1.6h-1.6zM324.5 687.3h1.6v1.6h-1.6zM339.1 678.4h1.6v1.6h-1.6zM321.9 659.4h1.6v1.6h-1.6zM326.7 693.1h1.6v1.6h-1.6zM316.6 646.4h1.6v1.6h-1.6zM313.4 614.1h1.6v1.6h-1.6zM350.4 714.6h1.6v1.6h-1.6zM319.7 672.9h1.6v1.6h-1.6zM307.4 613.7h1.6v1.6h-1.6zM315.9 639.6h1.6v1.6h-1.6zM315.0 637.7h1.6v1.6h-1.6zM303.5 617.3h1.6v1.6h-1.6zM337.3 678.7h1.6v1.6h-1.6zM351.6 716.9h1.6v1.6h-1.6zM340.4 705.0h1.6v1.6h-1.6zM337.8 685.7h1.6v1.6h-1.6zM328.3 658.5h1.6v1.6h-1.6zM330.3 675.0h1.6v1.6h-1.6zM346.9 709.0h1.6v1.6h-1.6zM324.2 655.5h1.6v1.6h-1.6zM328.9 655.4h1.6v1.6h-1.6zM319.0 653.1h1.6v1.6h-1.6zM336.7 678.2h1.6v1.6h-1.6zM318.3 667.6h1.6v1.6h-1.6zM317.1 653.8h1.6v1.6h-1.6zM308.4 661.8h1.6v1.6h-1.6zM304.0 622.2h1.6v1.6h-1.6zM314.5 659.7h1.6v1.6h-1.6zM323.4 667.1h1.6v1.6h-1.6zM318.4 642.6h1.6v1.6h-1.6zM320.9 653.1h1.6v1.6h-1.6zM336.7 709.3h1.6v1.6h-1.6zM340.2 686.2h1.6v1.6h-1.6zM327.6 633.7h1.6v1.6h-1.6zM307.2 627.5h1.6v1.6h-1.6zM331.2 678.0h1.6v1.6h-1.6zM345.2 703.1h1.6v1.6h-1.6zM317.2 673.6h1.6v1.6h-1.6zM310.0 656.1h1.6v1.6h-1.6zM326.0 686.3h1.6v1.6h-1.6zM345.0 707.5h1.6v1.6h-1.6zM347.4 709.6h1.6v1.6h-1.6zM317.9 651.2h1.6v1.6h-1.6zM311.9 645.0h1.6v1.6h-1.6zM335.7 703.0h1.6v1.6h-1.6zM317.2 635.7h1.6v1.6h-1.6zM333.8 680.9h1.6v1.6h-1.6zM309.0 638.9h1.6v1.6h-1.6zM282.2 666.3h1.6v1.6h-1.6zM343.8 700.2h1.6v1.6h-1.6zM324.6 636.4h1.6v1.6h-1.6zM300.2 657.9h1.6v1.6h-1.6zM336.7 703.8h1.6v1.6h-1.6zM315.1 613.9h1.6v1.6h-1.6zM324.6 640.2h1.6v1.6h-1.6zM333.0 676.8h1.6v1.6h-1.6zM322.0 649.4h1.6v1.6h-1.6zM311.8 646.7h1.6v1.6h-1.6zM338.8 688.8h1.6v1.6h-1.6zM344.7 701.6h1.6v1.6h-1.6zM347.3 705.9h1.6v1.6h-1.6zM330.9 662.4h1.6v1.6h-1.6zM324.2 665.7h1.6v1.6h-1.6zM307.8 691.3h1.6v1.6h-1.6zM333.5 694.8h1.6v1.6h-1.6zM332.9 688.2h1.6v1.6h-1.6zM336.3 695.8h1.6v1.6h-1.6zM331.7 690.3h1.6v1.6h-1.6zM328.5 651.4h1.6v1.6h-1.6zM318.4 628.1h1.6v1.6h-1.6zM301.7 640.2h1.6v1.6h-1.6zM325.1 678.6h1.6v1.6h-1.6zM321.2 621.0h1.6v1.6h-1.6zM325.3 634.7h1.6v1.6h-1.6zM332.4 676.0h1.6v1.6h-1.6zM288.4 665.4h1.6v1.6h-1.6zM336.4 696.8h1.6v1.6h-1.6zM316.5 643.5h1.6v1.6h-1.6zM347.0 711.8h1.6v1.6h-1.6zM311.7 662.4h1.6v1.6h-1.6zM324.2 677.9h1.6v1.6h-1.6zM323.9 686.4h1.6v1.6h-1.6zM312.5 706.8h1.6v1.6h-1.6zM318.5 642.6h1.6v1.6h-1.6zM333.1 668.4h1.6v1.6h-1.6zM330.3 644.8h1.6v1.6h-1.6zM329.5 685.4h1.6v1.6h-1.6zM330.8 663.8h1.6v1.6h-1.6zM321.9 667.8h1.6v1.6h-1.6zM300.2 622.2h1.6v1.6h-1.6zM318.5 641.0h1.6v1.6h-1.6zM296.7 644.7h1.6v1.6h-1.6zM291.0 627.3h1.6v1.6h-1.6zM307.6 648.7h1.6v1.6h-1.6zM329.2 665.4h1.6v1.6h-1.6zM334.9 682.0h1.6v1.6h-1.6zM344.9 713.9h1.6v1.6h-1.6zM325.3 685.4h1.6v1.6h-1.6zM302.9 637.9h1.6v1.6h-1.6zM339.2 705.3h1.6v1.6h-1.6zM320.8 634.1h1.6v1.6h-1.6zM332.3 656.0h1.6v1.6h-1.6zM328.3 680.0h1.6v1.6h-1.6zM326.2 639.0h1.6v1.6h-1.6zM320.7 670.8h1.6v1.6h-1.6zM315.5 623.7h1.6v1.6h-1.6zM306.0 636.8h1.6v1.6h-1.6zM334.9 676.8h1.6v1.6h-1.6zM313.5 639.2h1.6v1.6h-1.6zM339.0 707.8h1.6v1.6h-1.6zM325.5 653.3h1.6v1.6h-1.6zM338.2 677.4h1.6v1.6h-1.6zM324.9 641.7h1.6v1.6h-1.6zM336.3 695.3h1.6v1.6h-1.6zM320.9 627.9h1.6v1.6h-1.6zM299.6 643.5h1.6v1.6h-1.6zM341.2 692.2h1.6v1.6h-1.6zM332.3 666.9h1.6v1.6h-1.6zM339.5 696.0h1.6v1.6h-1.6zM343.7 715.6h1.6v1.6h-1.6zM335.4 690.8h1.6v1.6h-1.6zM307.4 620.4h1.6v1.6h-1.6zM322.2 631.6h1.6v1.6h-1.6zM293.4 646.5h1.6v1.6h-1.6zM319.5 663.8h1.6v1.6h-1.6zM328.1 689.0h1.6v1.6h-1.6zM328.7 705.6h1.6v1.6h-1.6zM331.1 663.1h1.6v1.6h-1.6zM317.4 631.9h1.6v1.6h-1.6zM330.7 684.6h1.6v1.6h-1.6zM346.0 698.2h1.6v1.6h-1.6zM332.9 690.2h1.6v1.6h-1.6zM338.0 699.5h1.6v1.6h-1.6zM335.3 682.5h1.6v1.6h-1.6zM343.5 702.8h1.6v1.6h-1.6zM326.4 688.5h1.6v1.6h-1.6zM283.4 625.2h1.6v1.6h-1.6zM343.4 700.5h1.6v1.6h-1.6zM334.7 670.1h1.6v1.6h-1.6zM325.9 637.7h1.6v1.6h-1.6zM330.2 696.3h1.6v1.6h-1.6zM316.8 638.8h1.6v1.6h-1.6zM312.3 670.1h1.6v1.6h-1.6zM336.7 679.3h1.6v1.6h-1.6zM309.8 656.6h1.6v1.6h-1.6zM318.4 631.0h1.6v1.6h-1.6zM336.3 689.8h1.6v1.6h-1.6zM348.1 704.2h1.6v1.6h-1.6zM333.7 681.5h1.6v1.6h-1.6zM339.2 701.9h1.6v1.6h-1.6zM321.2 660.6h1.6v1.6h-1.6zM343.5 711.5h1.6v1.6h-1.6zM324.1 666.1h1.6v1.6h-1.6zM337.6 686.6h1.6v1.6h-1.6zM307.0 621.8h1.6v1.6h-1.6zM312.5 623.7h1.6v1.6h-1.6zM315.7 663.7h1.6v1.6h-1.6zM331.5 659.9h1.6v1.6h-1.6zM324.4 691.5h1.6v1.6h-1.6zM346.8 706.0h1.6v1.6h-1.6zM332.6 677.6h1.6v1.6h-1.6zM319.9 648.0h1.6v1.6h-1.6zM322.3 651.3h1.6v1.6h-1.6zM330.1 647.1h1.6v1.6h-1.6zM312.7 650.6h1.6v1.6h-1.6zM331.1 666.7h1.6v1.6h-1.6zM322.4 630.6h1.6v1.6h-1.6zM321.7 692.1h1.6v1.6h-1.6zM308.5 630.8h1.6v1.6h-1.6zM333.7 707.2h1.6v1.6h-1.6zM337.4 686.6h1.6v1.6h-1.6zM338.4 696.7h1.6v1.6h-1.6zM333.8 688.5h1.6v1.6h-1.6zM345.1 696.3h1.6v1.6h-1.6zM291.3 617.8h1.6v1.6h-1.6zM345.0 697.2h1.6v1.6h-1.6zM323.1 656.5h1.6v1.6h-1.6zM325.2 655.5h1.6v1.6h-1.6zM311.1 624.7h1.6v1.6h-1.6zM313.5 624.1h1.6v1.6h-1.6zM335.2 664.2h1.6v1.6h-1.6zM329.0 665.6h1.6v1.6h-1.6zM327.9 685.2h1.6v1.6h-1.6zM339.0 709.8h1.6v1.6h-1.6zM335.6 686.2h1.6v1.6h-1.6zM334.0 703.1h1.6v1.6h-1.6zM309.5 657.1h1.6v1.6h-1.6zM326.6 640.0h1.6v1.6h-1.6zM338.7 698.3h1.6v1.6h-1.6zM331.8 678.9h1.6v1.6h-1.6zM332.8 665.4h1.6v1.6h-1.6zM305.8 659.0h1.6v1.6h-1.6zM335.2 666.3h1.6v1.6h-1.6zM314.6 654.9h1.6v1.6h-1.6zM336.5 666.4h1.6v1.6h-1.6zM339.0 708.8h1.6v1.6h-1.6zM335.7 705.4h1.6v1.6h-1.6zM327.7 698.8h1.6v1.6h-1.6zM325.5 646.7h1.6v1.6h-1.6zM343.1 713.3h1.6v1.6h-1.6zM347.6 714.6h1.6v1.6h-1.6zM330.0 660.6h1.6v1.6h-1.6zM331.7 706.9h1.6v1.6h-1.6zM318.6 673.3h1.6v1.6h-1.6zM315.7 619.1h1.6v1.6h-1.6zM328.2 672.8h1.6v1.6h-1.6zM347.0 713.5h1.6v1.6h-1.6zM338.3 681.9h1.6v1.6h-1.6zM309.5 631.3h1.6v1.6h-1.6zM323.5 624.8h1.6v1.6h-1.6zM317.4 648.9h1.6v1.6h-1.6zM342.5 704.3h1.6v1.6h-1.6zM305.6 633.8h1.6v1.6h-1.6zM321.0 662.1h1.6v1.6h-1.6zM331.1 660.4h1.6v1.6h-1.6zM322.4 623.6h1.6v1.6h-1.6zM320.6 672.5h1.6v1.6h-1.6zM317.9 661.6h1.6v1.6h-1.6zM327.4 664.8h1.6v1.6h-1.6zM311.6 664.0h1.6v1.6h-1.6zM310.0 624.4h1.6v1.6h-1.6zM320.0 658.8h1.6v1.6h-1.6zM342.6 688.2h1.6v1.6h-1.6zM326.6 664.4h1.6v1.6h-1.6zM316.8 656.3h1.6v1.6h-1.6zM327.9 640.2h1.6v1.6h-1.6zM331.7 670.6h1.6v1.6h-1.6zM328.4 700.8h1.6v1.6h-1.6zM302.7 639.1h1.6v1.6h-1.6zM320.4 668.0h1.6v1.6h-1.6zM319.1 656.0h1.6v1.6h-1.6zM313.2 624.7h1.6v1.6h-1.6zM340.3 678.8h1.6v1.6h-1.6zM326.4 635.0h1.6v1.6h-1.6zM299.7 635.0h1.6v1.6h-1.6zM334.8 674.1h1.6v1.6h-1.6zM309.0 654.3h1.6v1.6h-1.6zM316.9 658.2h1.6v1.6h-1.6zM325.1 665.2h1.6v1.6h-1.6zM350.5 712.5h1.6v1.6h-1.6zM336.4 702.2h1.6v1.6h-1.6zM324.7 694.0h1.6v1.6h-1.6zM336.3 681.3h1.6v1.6h-1.6zM324.2 640.3h1.6v1.6h-1.6zM344.3 693.2h1.6v1.6h-1.6zM308.2 660.9h1.6v1.6h-1.6zM335.0 713.4h1.6v1.6h-1.6zM333.5 690.6h1.6v1.6h-1.6zM334.7 699.1h1.6v1.6h-1.6zM340.2 708.5h1.6v1.6h-1.6zM324.2 638.5h1.6v1.6h-1.6zM327.3 696.3h1.6v1.6h-1.6zM345.1 710.9h1.6v1.6h-1.6zM315.6 640.6h1.6v1.6h-1.6zM320.3 651.4h1.6v1.6h-1.6zM342.0 706.2h1.6v1.6h-1.6zM337.9 698.3h1.6v1.6h-1.6zM340.9 700.7h1.6v1.6h-1.6zM320.1 649.1h1.6v1.6h-1.6zM319.1 675.6h1.6v1.6h-1.6zM318.2 632.1h1.6v1.6h-1.6zM342.8 690.3h1.6v1.6h-1.6zM344.5 714.9h1.6v1.6h-1.6zM335.6 666.1h1.6v1.6h-1.6zM329.1 684.8h1.6v1.6h-1.6zM333.3 692.2h1.6v1.6h-1.6zM335.8 685.9h1.6v1.6h-1.6zM299.5 626.8h1.6v1.6h-1.6zM333.2 713.7h1.6v1.6h-1.6zM335.5 693.4h1.6v1.6h-1.6zM337.4 697.7h1.6v1.6h-1.6zM317.8 631.3h1.6v1.6h-1.6zM332.5 705.0h1.6v1.6h-1.6zM308.9 633.6h1.6v1.6h-1.6zM344.4 708.0h1.6v1.6h-1.6zM310.1 633.0h1.6v1.6h-1.6zM320.8 688.9h1.6v1.6h-1.6zM308.5 647.6h1.6v1.6h-1.6zM320.4 690.2h1.6v1.6h-1.6zM318.8 662.0h1.6v1.6h-1.6zM312.9 628.5h1.6v1.6h-1.6zM326.7 647.4h1.6v1.6h-1.6zM336.7 690.1h1.6v1.6h-1.6zM315.6 656.2h1.6v1.6h-1.6zM335.2 688.8h1.6v1.6h-1.6zM336.9 691.5h1.6v1.6h-1.6zM322.2 665.6h1.6v1.6h-1.6zM325.4 666.8h1.6v1.6h-1.6zM336.2 705.3h1.6v1.6h-1.6zM332.2 674.2h1.6v1.6h-1.6zM328.6 674.1h1.6v1.6h-1.6zM340.6 689.6h1.6v1.6h-1.6zM327.7 699.8h1.6v1.6h-1.6zM329.9 680.8h1.6v1.6h-1.6zM323.9 654.1h1.6v1.6h-1.6zM349.4 719.0h1.6v1.6h-1.6zM352.6 717.8h1.6v1.6h-1.6zM324.8 661.9h1.6v1.6h-1.6zM317.6 686.1h1.6v1.6h-1.6zM348.5 711.8h1.6v1.6h-1.6zM337.4 669.8h1.6v1.6h-1.6zM341.5 683.6h1.6v1.6h-1.6zM335.9 680.1h1.6v1.6h-1.6zM334.5 689.8h1.6v1.6h-1.6zM326.1 678.8h1.6v1.6h-1.6zM333.4 666.6h1.6v1.6h-1.6zM317.1 640.0h1.6v1.6h-1.6zM284.7 623.5h1.6v1.6h-1.6zM314.0 675.5h1.6v1.6h-1.6zM335.0 675.5h1.6v1.6h-1.6zM328.0 647.0h1.6v1.6h-1.6zM319.5 652.7h1.6v1.6h-1.6zM321.9 643.4h1.6v1.6h-1.6zM312.5 675.8h1.6v1.6h-1.6zM320.9 659.1h1.6v1.6h-1.6zM312.5 629.8h1.6v1.6h-1.6zM322.9 668.0h1.6v1.6h-1.6zM328.1 641.3h1.6v1.6h-1.6zM345.1 698.7h1.6v1.6h-1.6zM301.7 625.0h1.6v1.6h-1.6zM350.2 717.2h1.6v1.6h-1.6zM317.9 656.7h1.6v1.6h-1.6zM333.1 686.3h1.6v1.6h-1.6zM314.4 632.5h1.6v1.6h-1.6zM310.8 669.4h1.6v1.6h-1.6zM308.9 658.1h1.6v1.6h-1.6zM335.8 693.9h1.6v1.6h-1.6zM329.8 645.7h1.6v1.6h-1.6zM339.6 709.4h1.6v1.6h-1.6zM314.1 641.1h1.6v1.6h-1.6zM299.7 664.8h1.6v1.6h-1.6zM336.9 697.8h1.6v1.6h-1.6zM332.4 707.0h1.6v1.6h-1.6zM334.6 699.5h1.6v1.6h-1.6zM327.4 648.6h1.6v1.6h-1.6zM334.0 696.2h1.6v1.6h-1.6zM324.8 710.3h1.6v1.6h-1.6zM326.4 658.6h1.6v1.6h-1.6zM330.5 668.3h1.6v1.6h-1.6zM332.7 680.7h1.6v1.6h-1.6zM330.6 677.7h1.6v1.6h-1.6zM337.1 672.2h1.6v1.6h-1.6zM321.3 633.1h1.6v1.6h-1.6zM315.9 643.3h1.6v1.6h-1.6zM335.4 696.5h1.6v1.6h-1.6zM297.9 688.5h1.6v1.6h-1.6zM332.4 670.2h1.6v1.6h-1.6zM342.1 704.1h1.6v1.6h-1.6zM301.5 643.3h1.6v1.6h-1.6zM338.6 710.3h1.6v1.6h-1.6zM323.1 618.5h1.6v1.6h-1.6zM323.1 642.9h1.6v1.6h-1.6zM316.3 634.3h1.6v1.6h-1.6zM345.3 709.0h1.6v1.6h-1.6zM341.5 710.7h1.6v1.6h-1.6zM331.9 687.1h1.6v1.6h-1.6zM321.8 646.5h1.6v1.6h-1.6zM329.4 673.2h1.6v1.6h-1.6zM325.9 634.3h1.6v1.6h-1.6zM312.0 630.6h1.6v1.6h-1.6zM330.6 681.4h1.6v1.6h-1.6zM337.5 675.5h1.6v1.6h-1.6zM336.8 672.8h1.6v1.6h-1.6zM332.4 658.3h1.6v1.6h-1.6zM335.0 667.7h1.6v1.6h-1.6zM322.8 669.5h1.6v1.6h-1.6zM309.4 618.0h1.6v1.6h-1.6zM335.0 699.5h1.6v1.6h-1.6zM303.9 621.9h1.6v1.6h-1.6zM321.7 631.2h1.6v1.6h-1.6zM323.6 625.5h1.6v1.6h-1.6zM345.1 705.3h1.6v1.6h-1.6zM350.8 717.0h1.6v1.6h-1.6zM334.6 690.0h1.6v1.6h-1.6zM304.1 667.5h1.6v1.6h-1.6zM325.3 644.3h1.6v1.6h-1.6zM329.1 647.2h1.6v1.6h-1.6zM291.0 629.4h1.6v1.6h-1.6zM332.3 673.2h1.6v1.6h-1.6zM307.8 652.8h1.6v1.6h-1.6zM334.9 663.3h1.6v1.6h-1.6zM320.1 655.6h1.6v1.6h-1.6zM318.6 650.3h1.6v1.6h-1.6zM323.4 638.7h1.6v1.6h-1.6zM315.4 653.0h1.6v1.6h-1.6zM332.6 681.9h1.6v1.6h-1.6zM339.5 685.6h1.6v1.6h-1.6zM307.1 686.9h1.6v1.6h-1.6zM343.2 707.6h1.6v1.6h-1.6zM329.6 647.6h1.6v1.6h-1.6zM316.6 649.3h1.6v1.6h-1.6zM313.2 635.6h1.6v1.6h-1.6zM320.6 675.0h1.6v1.6h-1.6zM301.9 620.4h1.6v1.6h-1.6zM318.6 639.8h1.6v1.6h-1.6zM324.5 638.2h1.6v1.6h-1.6zM302.5 639.5h1.6v1.6h-1.6zM325.6 627.0h1.6v1.6h-1.6zM325.1 702.3h1.6v1.6h-1.6zM321.6 669.4h1.6v1.6h-1.6zM331.0 677.0h1.6v1.6h-1.6zM330.5 690.5h1.6v1.6h-1.6zM313.7 659.9h1.6v1.6h-1.6zM314.6 678.2h1.6v1.6h-1.6zM336.2 677.8h1.6v1.6h-1.6zM322.5 643.3h1.6v1.6h-1.6zM340.9 702.9h1.6v1.6h-1.6zM315.5 654.5h1.6v1.6h-1.6zM321.5 620.4h1.6v1.6h-1.6zM341.3 683.9h1.6v1.6h-1.6zM321.0 624.8h1.6v1.6h-1.6zM296.1 634.0h1.6v1.6h-1.6zM329.2 650.9h1.6v1.6h-1.6zM320.7 636.1h1.6v1.6h-1.6zM322.7 637.3h1.6v1.6h-1.6zM340.3 706.9h1.6v1.6h-1.6zM319.1 654.6h1.6v1.6h-1.6zM331.1 667.5h1.6v1.6h-1.6zM321.7 625.8h1.6v1.6h-1.6zM340.4 704.1h1.6v1.6h-1.6zM323.4 684.1h1.6v1.6h-1.6zM336.8 667.8h1.6v1.6h-1.6zM320.0 650.4h1.6v1.6h-1.6zM347.8 710.3h1.6v1.6h-1.6zM309.7 629.6h1.6v1.6h-1.6zM324.0 670.7h1.6v1.6h-1.6zM352.5 717.2h1.6v1.6h-1.6zM318.5 661.5h1.6v1.6h-1.6zM311.2 659.2h1.6v1.6h-1.6zM327.5 660.2h1.6v1.6h-1.6zM338.7 694.6h1.6v1.6h-1.6zM339.2 708.4h1.6v1.6h-1.6zM318.6 645.1h1.6v1.6h-1.6zM299.2 644.0h1.6v1.6h-1.6zM330.9 669.7h1.6v1.6h-1.6zM329.6 689.8h1.6v1.6h-1.6zM343.8 718.0h1.6v1.6h-1.6zM336.6 710.2h1.6v1.6h-1.6zM303.9 633.6h1.6v1.6h-1.6zM309.7 663.3h1.6v1.6h-1.6zM329.1 681.8h1.6v1.6h-1.6zM332.2 691.8h1.6v1.6h-1.6zM337.1 697.1h1.6v1.6h-1.6zM320.4 636.8h1.6v1.6h-1.6zM338.5 678.4h1.6v1.6h-1.6zM316.7 682.4h1.6v1.6h-1.6zM287.0 650.7h1.6v1.6h-1.6zM333.7 670.1h1.6v1.6h-1.6zM326.4 633.4h1.6v1.6h-1.6zM334.2 677.8h1.6v1.6h-1.6zM322.5 632.5h1.6v1.6h-1.6zM336.5 701.2h1.6v1.6h-1.6zM328.2 702.6h1.6v1.6h-1.6zM333.8 705.1h1.6v1.6h-1.6zM343.7 703.0h1.6v1.6h-1.6zM325.2 670.1h1.6v1.6h-1.6zM322.9 631.2h1.6v1.6h-1.6zM313.4 674.7h1.6v1.6h-1.6zM323.1 667.6h1.6v1.6h-1.6zM334.6 692.4h1.6v1.6h-1.6zM335.8 685.2h1.6v1.6h-1.6zM321.1 657.1h1.6v1.6h-1.6zM325.0 643.8h1.6v1.6h-1.6zM330.5 672.2h1.6v1.6h-1.6zM319.2 621.0h1.6v1.6h-1.6zM326.3 651.8h1.6v1.6h-1.6zM322.2 644.7h1.6v1.6h-1.6zM313.3 680.5h1.6v1.6h-1.6zM320.3 632.2h1.6v1.6h-1.6zM286.7 628.7h1.6v1.6h-1.6zM322.4 647.7h1.6v1.6h-1.6zM310.1 648.2h1.6v1.6h-1.6zM311.3 644.2h1.6v1.6h-1.6zM323.6 672.2h1.6v1.6h-1.6zM324.2 632.9h1.6v1.6h-1.6zM307.2 643.7h1.6v1.6h-1.6zM314.5 629.4h1.6v1.6h-1.6zM333.9 683.1h1.6v1.6h-1.6zM318.1 653.1h1.6v1.6h-1.6zM333.2 663.7h1.6v1.6h-1.6zM340.1 684.5h1.6v1.6h-1.6zM323.1 685.6h1.6v1.6h-1.6zM343.4 714.2h1.6v1.6h-1.6zM326.7 652.9h1.6v1.6h-1.6zM328.6 680.2h1.6v1.6h-1.6zM348.8 712.6h1.6v1.6h-1.6zM283.6 617.0h1.6v1.6h-1.6zM318.0 663.8h1.6v1.6h-1.6zM316.3 654.6h1.6v1.6h-1.6zM316.5 661.5h1.6v1.6h-1.6zM331.4 703.2h1.6v1.6h-1.6zM323.2 633.3h1.6v1.6h-1.6zM308.4 638.6h1.6v1.6h-1.6zM343.6 699.0h1.6v1.6h-1.6zM331.1 700.6h1.6v1.6h-1.6zM295.0 660.9h1.6v1.6h-1.6zM302.9 627.6h1.6v1.6h-1.6zM291.8 651.6h1.6v1.6h-1.6zM343.1 712.2h1.6v1.6h-1.6zM306.1 631.8h1.6v1.6h-1.6zM321.4 671.9h1.6v1.6h-1.6zM346.7 717.8h1.6v1.6h-1.6zM345.0 700.5h1.6v1.6h-1.6zM331.4 661.4h1.6v1.6h-1.6zM314.1 616.8h1.6v1.6h-1.6zM343.0 711.5h1.6v1.6h-1.6zM320.6 654.7h1.6v1.6h-1.6zM328.0 689.5h1.6v1.6h-1.6zM314.3 656.1h1.6v1.6h-1.6zM327.4 633.7h1.6v1.6h-1.6zM319.2 688.2h1.6v1.6h-1.6zM328.2 636.6h1.6v1.6h-1.6zM316.3 623.5h1.6v1.6h-1.6zM319.2 685.4h1.6v1.6h-1.6zM316.5 625.2h1.6v1.6h-1.6zM323.1 664.8h1.6v1.6h-1.6zM326.5 636.9h1.6v1.6h-1.6zM333.3 660.3h1.6v1.6h-1.6zM327.6 642.4h1.6v1.6h-1.6zM327.7 638.8h1.6v1.6h-1.6zM341.8 684.7h1.6v1.6h-1.6zM333.7 661.5h1.6v1.6h-1.6zM332.6 687.9h1.6v1.6h-1.6zM327.4 661.3h1.6v1.6h-1.6zM305.1 645.6h1.6v1.6h-1.6zM319.3 687.6h1.6v1.6h-1.6zM344.4 711.8h1.6v1.6h-1.6zM322.8 643.5h1.6v1.6h-1.6zM311.9 658.4h1.6v1.6h-1.6zM317.1 649.1h1.6v1.6h-1.6zM328.0 660.4h1.6v1.6h-1.6zM307.4 637.3h1.6v1.6h-1.6zM310.6 633.0h1.6v1.6h-1.6zM312.1 668.5h1.6v1.6h-1.6zM315.6 628.6h1.6v1.6h-1.6zM325.4 711.0h1.6v1.6h-1.6zM314.7 629.8h1.6v1.6h-1.6zM305.8 623.5h1.6v1.6h-1.6zM344.1 713.6h1.6v1.6h-1.6zM346.8 705.5h1.6v1.6h-1.6zM312.5 648.5h1.6v1.6h-1.6zM315.7 663.4h1.6v1.6h-1.6zM335.4 685.0h1.6v1.6h-1.6zM329.6 648.7h1.6v1.6h-1.6zM329.7 671.8h1.6v1.6h-1.6zM330.7 687.6h1.6v1.6h-1.6zM287.7 633.0h1.6v1.6h-1.6zM344.3 702.6h1.6v1.6h-1.6zM333.6 670.8h1.6v1.6h-1.6zM303.3 659.4h1.6v1.6h-1.6zM328.2 666.9h1.6v1.6h-1.6zM323.7 662.4h1.6v1.6h-1.6zM300.9 617.5h1.6v1.6h-1.6zM331.0 666.3h1.6v1.6h-1.6zM317.3 638.1h1.6v1.6h-1.6zM324.3 632.4h1.6v1.6h-1.6zM338.3 692.8h1.6v1.6h-1.6zM328.0 682.6h1.6v1.6h-1.6zM311.4 627.0h1.6v1.6h-1.6zM329.2 645.9h1.6v1.6h-1.6zM317.6 678.4h1.6v1.6h-1.6zM335.6 691.6h1.6v1.6h-1.6zM347.9 704.6h1.6v1.6h-1.6zM309.6 672.8h1.6v1.6h-1.6zM331.1 657.5h1.6v1.6h-1.6zM340.9 685.6h1.6v1.6h-1.6zM322.0 679.6h1.6v1.6h-1.6zM322.5 694.3h1.6v1.6h-1.6zM320.2 682.9h1.6v1.6h-1.6zM317.6 626.2h1.6v1.6h-1.6zM325.9 636.7h1.6v1.6h-1.6zM331.5 688.6h1.6v1.6h-1.6zM342.6 688.7h1.6v1.6h-1.6zM306.5 638.8h1.6v1.6h-1.6zM344.5 693.2h1.6v1.6h-1.6zM344.1 713.0h1.6v1.6h-1.6zM333.9 688.2h1.6v1.6h-1.6zM316.9 664.6h1.6v1.6h-1.6zM328.1 639.0h1.6v1.6h-1.6zM313.8 635.9h1.6v1.6h-1.6zM332.7 699.4h1.6v1.6h-1.6zM338.7 684.3h1.6v1.6h-1.6zM333.8 679.1h1.6v1.6h-1.6zM326.9 666.5h1.6v1.6h-1.6zM344.9 697.5h1.6v1.6h-1.6zM328.5 683.6h1.6v1.6h-1.6zM314.9 624.7h1.6v1.6h-1.6zM317.6 675.7h1.6v1.6h-1.6zM334.0 689.3h1.6v1.6h-1.6zM325.8 647.3h1.6v1.6h-1.6zM331.5 654.5h1.6v1.6h-1.6zM317.5 643.1h1.6v1.6h-1.6zM331.4 660.7h1.6v1.6h-1.6zM341.0 684.9h1.6v1.6h-1.6zM343.3 689.4h1.6v1.6h-1.6zM343.5 689.9h1.6v1.6h-1.6zM337.6 698.5h1.6v1.6h-1.6zM341.4 688.6h1.6v1.6h-1.6zM324.1 686.1h1.6v1.6h-1.6zM327.6 694.2h1.6v1.6h-1.6zM330.4 663.9h1.6v1.6h-1.6zM345.0 699.2h1.6v1.6h-1.6zM326.9 678.2h1.6v1.6h-1.6zM338.3 701.4h1.6v1.6h-1.6zM318.4 672.8h1.6v1.6h-1.6zM294.0 663.2h1.6v1.6h-1.6zM318.3 669.0h1.6v1.6h-1.6zM340.9 711.2h1.6v1.6h-1.6zM322.6 622.8h1.6v1.6h-1.6zM323.0 658.1h1.6v1.6h-1.6zM343.1 710.4h1.6v1.6h-1.6zM324.4 689.3h1.6v1.6h-1.6zM326.1 661.2h1.6v1.6h-1.6zM322.6 665.6h1.6v1.6h-1.6zM308.0 674.6h1.6v1.6h-1.6zM317.3 690.0h1.6v1.6h-1.6zM308.1 640.4h1.6v1.6h-1.6zM328.8 652.5h1.6v1.6h-1.6zM331.7 656.1h1.6v1.6h-1.6zM314.5 657.1h1.6v1.6h-1.6zM346.1 714.1h1.6v1.6h-1.6zM344.0 692.5h1.6v1.6h-1.6zM333.2 696.4h1.6v1.6h-1.6zM318.3 662.2h1.6v1.6h-1.6zM324.1 654.9h1.6v1.6h-1.6zM335.0 673.5h1.6v1.6h-1.6zM294.5 632.4h1.6v1.6h-1.6zM328.8 642.0h1.6v1.6h-1.6zM317.3 651.6h1.6v1.6h-1.6zM323.7 685.9h1.6v1.6h-1.6zM323.1 632.4h1.6v1.6h-1.6zM312.3 679.0h1.6v1.6h-1.6zM314.4 644.9h1.6v1.6h-1.6zM320.6 699.3h1.6v1.6h-1.6zM326.5 659.6h1.6v1.6h-1.6zM344.2 714.3h1.6v1.6h-1.6zM304.7 681.1h1.6v1.6h-1.6zM312.6 660.9h1.6v1.6h-1.6zM336.2 671.4h1.6v1.6h-1.6zM322.1 631.3h1.6v1.6h-1.6zM317.8 678.7h1.6v1.6h-1.6zM320.7 630.9h1.6v1.6h-1.6zM328.3 651.7h1.6v1.6h-1.6zM330.7 691.8h1.6v1.6h-1.6zM345.4 706.8h1.6v1.6h-1.6zM291.5 682.9h1.6v1.6h-1.6zM319.3 662.8h1.6v1.6h-1.6zM345.4 719.0h1.6v1.6h-1.6zM321.4 651.8h1.6v1.6h-1.6zM323.1 655.9h1.6v1.6h-1.6zM315.4 649.9h1.6v1.6h-1.6zM319.5 680.7h1.6v1.6h-1.6zM308.6 654.4h1.6v1.6h-1.6zM331.7 673.5h1.6v1.6h-1.6zM328.8 653.0h1.6v1.6h-1.6zM308.5 641.4h1.6v1.6h-1.6zM325.6 674.5h1.6v1.6h-1.6zM329.1 655.7h1.6v1.6h-1.6zM350.3 718.1h1.6v1.6h-1.6zM301.1 676.2h1.6v1.6h-1.6zM336.4 679.0h1.6v1.6h-1.6zM296.6 631.7h1.6v1.6h-1.6zM334.2 716.4h1.6v1.6h-1.6zM315.9 679.9h1.6v1.6h-1.6zM329.4 659.8h1.6v1.6h-1.6zM318.4 655.8h1.6v1.6h-1.6zM341.8 714.5h1.6v1.6h-1.6zM293.7 648.8h1.6v1.6h-1.6zM341.2 696.4h1.6v1.6h-1.6zM292.7 629.5h1.6v1.6h-1.6zM318.4 661.3h1.6v1.6h-1.6zM342.3 694.5h1.6v1.6h-1.6zM340.2 681.0h1.6v1.6h-1.6zM342.1 706.9h1.6v1.6h-1.6zM342.3 710.8h1.6v1.6h-1.6zM309.3 627.2h1.6v1.6h-1.6zM345.9 704.2h1.6v1.6h-1.6zM331.9 678.2h1.6v1.6h-1.6zM335.8 682.8h1.6v1.6h-1.6zM302.1 644.5h1.6v1.6h-1.6zM311.4 681.9h1.6v1.6h-1.6zM342.4 705.6h1.6v1.6h-1.6zM344.7 709.9h1.6v1.6h-1.6zM341.7 707.8h1.6v1.6h-1.6zM390.2 650.2h1.6v1.6h-1.6zM368.2 692.3h1.6v1.6h-1.6zM364.2 710.1h1.6v1.6h-1.6zM376.6 700.2h1.6v1.6h-1.6zM381.1 661.4h1.6v1.6h-1.6zM371.8 698.0h1.6v1.6h-1.6zM360.5 707.7h1.6v1.6h-1.6zM392.5 651.3h1.6v1.6h-1.6zM380.6 679.8h1.6v1.6h-1.6zM368.4 693.8h1.6v1.6h-1.6zM362.3 701.9h1.6v1.6h-1.6zM365.4 694.7h1.6v1.6h-1.6zM379.5 681.5h1.6v1.6h-1.6zM365.0 691.3h1.6v1.6h-1.6zM359.0 716.6h1.6v1.6h-1.6zM426.5 643.6h1.6v1.6h-1.6zM372.2 683.4h1.6v1.6h-1.6zM373.3 682.9h1.6v1.6h-1.6zM367.8 705.2h1.6v1.6h-1.6zM373.0 665.3h1.6v1.6h-1.6zM370.1 711.9h1.6v1.6h-1.6zM381.5 691.1h1.6v1.6h-1.6zM384.3 674.5h1.6v1.6h-1.6zM362.3 705.6h1.6v1.6h-1.6zM367.1 690.8h1.6v1.6h-1.6zM364.0 706.5h1.6v1.6h-1.6zM374.9 668.3h1.6v1.6h-1.6zM379.8 644.8h1.6v1.6h-1.6zM357.7 714.6h1.6v1.6h-1.6zM398.1 695.4h1.6v1.6h-1.6zM381.3 665.4h1.6v1.6h-1.6zM386.3 704.4h1.6v1.6h-1.6zM359.3 712.0h1.6v1.6h-1.6zM368.6 695.7h1.6v1.6h-1.6zM366.1 699.6h1.6v1.6h-1.6zM377.0 657.4h1.6v1.6h-1.6zM394.2 633.1h1.6v1.6h-1.6zM363.2 718.3h1.6v1.6h-1.6zM390.6 646.4h1.6v1.6h-1.6zM394.0 691.9h1.6v1.6h-1.6zM359.8 715.6h1.6v1.6h-1.6zM386.1 688.0h1.6v1.6h-1.6zM361.7 715.1h1.6v1.6h-1.6zM380.1 694.0h1.6v1.6h-1.6zM376.7 637.0h1.6v1.6h-1.6zM406.2 689.5h1.6v1.6h-1.6zM364.6 696.6h1.6v1.6h-1.6zM364.9 704.2h1.6v1.6h-1.6zM371.3 667.4h1.6v1.6h-1.6zM368.3 705.8h1.6v1.6h-1.6zM381.5 680.9h1.6v1.6h-1.6zM367.6 706.8h1.6v1.6h-1.6zM381.4 652.1h1.6v1.6h-1.6zM366.2 686.1h1.6v1.6h-1.6zM362.0 705.2h1.6v1.6h-1.6zM360.5 717.1h1.6v1.6h-1.6zM379.6 680.7h1.6v1.6h-1.6zM383.5 690.6h1.6v1.6h-1.6zM365.9 688.4h1.6v1.6h-1.6zM415.2 675.2h1.6v1.6h-1.6zM382.3 670.5h1.6v1.6h-1.6zM385.0 651.0h1.6v1.6h-1.6zM369.3 695.7h1.6v1.6h-1.6zM374.2 667.0h1.6v1.6h-1.6zM373.2 688.2h1.6v1.6h-1.6zM365.7 700.2h1.6v1.6h-1.6zM360.9 709.4h1.6v1.6h-1.6zM400.8 635.2h1.6v1.6h-1.6zM385.3 657.9h1.6v1.6h-1.6zM372.8 673.2h1.6v1.6h-1.6zM390.5 643.0h1.6v1.6h-1.6zM359.1 711.4h1.6v1.6h-1.6zM369.9 686.9h1.6v1.6h-1.6zM377.3 663.8h1.6v1.6h-1.6zM372.7 701.2h1.6v1.6h-1.6zM381.9 670.9h1.6v1.6h-1.6zM383.5 671.7h1.6v1.6h-1.6zM378.2 637.8h1.6v1.6h-1.6zM360.9 702.2h1.6v1.6h-1.6zM365.7 697.8h1.6v1.6h-1.6zM369.2 686.4h1.6v1.6h-1.6zM371.2 704.4h1.6v1.6h-1.6zM380.4 677.8h1.6v1.6h-1.6zM370.2 662.9h1.6v1.6h-1.6zM370.5 697.1h1.6v1.6h-1.6zM380.9 702.9h1.6v1.6h-1.6zM392.8 701.2h1.6v1.6h-1.6zM367.3 689.6h1.6v1.6h-1.6zM367.2 683.9h1.6v1.6h-1.6zM361.3 715.4h1.6v1.6h-1.6zM377.8 687.4h1.6v1.6h-1.6zM382.3 700.8h1.6v1.6h-1.6zM371.6 673.3h1.6v1.6h-1.6zM393.6 672.2h1.6v1.6h-1.6zM367.2 701.6h1.6v1.6h-1.6zM366.8 688.5h1.6v1.6h-1.6zM367.4 697.3h1.6v1.6h-1.6zM366.4 700.4h1.6v1.6h-1.6zM371.0 696.9h1.6v1.6h-1.6zM381.2 689.3h1.6v1.6h-1.6zM365.2 688.5h1.6v1.6h-1.6zM358.6 717.8h1.6v1.6h-1.6zM388.1 679.0h1.6v1.6h-1.6zM367.2 693.6h1.6v1.6h-1.6zM395.6 626.1h1.6v1.6h-1.6zM381.4 671.3h1.6v1.6h-1.6zM376.9 686.7h1.6v1.6h-1.6zM360.3 714.7h1.6v1.6h-1.6zM358.9 715.3h1.6v1.6h-1.6zM387.7 658.6h1.6v1.6h-1.6zM366.5 681.7h1.6v1.6h-1.6zM379.8 663.5h1.6v1.6h-1.6zM366.2 696.7h1.6v1.6h-1.6zM365.0 712.5h1.6v1.6h-1.6zM369.5 683.5h1.6v1.6h-1.6zM393.9 671.6h1.6v1.6h-1.6zM367.2 704.1h1.6v1.6h-1.6zM358.7 715.5h1.6v1.6h-1.6zM380.1 686.9h1.6v1.6h-1.6zM417.8 678.1h1.6v1.6h-1.6zM371.7 668.8h1.6v1.6h-1.6zM396.0 650.9h1.6v1.6h-1.6zM400.8 642.1h1.6v1.6h-1.6zM364.2 703.1h1.6v1.6h-1.6zM379.3 648.2h1.6v1.6h-1.6zM366.5 702.8h1.6v1.6h-1.6zM373.3 686.3h1.6v1.6h-1.6zM359.8 718.8h1.6v1.6h-1.6zM359.3 718.0h1.6v1.6h-1.6zM371.9 686.8h1.6v1.6h-1.6zM362.2 708.5h1.6v1.6h-1.6zM371.4 686.7h1.6v1.6h-1.6zM371.9 709.9h1.6v1.6h-1.6zM358.7 716.1h1.6v1.6h-1.6zM368.9 696.9h1.6v1.6h-1.6zM375.1 695.9h1.6v1.6h-1.6zM369.1 697.6h1.6v1.6h-1.6zM364.4 709.5h1.6v1.6h-1.6zM371.5 664.3h1.6v1.6h-1.6zM380.9 677.5h1.6v1.6h-1.6zM391.9 649.0h1.6v1.6h-1.6zM384.2 667.1h1.6v1.6h-1.6zM375.3 643.4h1.6v1.6h-1.6zM363.9 706.8h1.6v1.6h-1.6zM375.4 654.5h1.6v1.6h-1.6zM369.3 713.0h1.6v1.6h-1.6zM383.1 695.1h1.6v1.6h-1.6zM360.7 718.7h1.6v1.6h-1.6zM374.3 693.0h1.6v1.6h-1.6zM377.5 632.4h1.6v1.6h-1.6zM358.8 709.4h1.6v1.6h-1.6zM364.4 704.3h1.6v1.6h-1.6zM378.2 700.8h1.6v1.6h-1.6zM416.6 647.4h1.6v1.6h-1.6zM355.4 719.2h1.6v1.6h-1.6zM380.4 693.2h1.6v1.6h-1.6zM356.4 719.2h1.6v1.6h-1.6zM384.4 689.2h1.6v1.6h-1.6zM366.0 698.3h1.6v1.6h-1.6zM369.4 708.3h1.6v1.6h-1.6zM377.5 668.0h1.6v1.6h-1.6zM375.7 682.4h1.6v1.6h-1.6zM359.4 715.5h1.6v1.6h-1.6zM372.8 693.4h1.6v1.6h-1.6zM373.2 652.1h1.6v1.6h-1.6zM373.1 663.6h1.6v1.6h-1.6zM368.6 677.2h1.6v1.6h-1.6zM369.6 694.2h1.6v1.6h-1.6zM378.1 681.1h1.6v1.6h-1.6zM368.5 680.0h1.6v1.6h-1.6zM363.2 714.4h1.6v1.6h-1.6zM370.9 692.9h1.6v1.6h-1.6zM370.5 672.7h1.6v1.6h-1.6zM386.4 654.7h1.6v1.6h-1.6zM381.2 651.5h1.6v1.6h-1.6zM376.7 664.3h1.6v1.6h-1.6zM362.4 709.1h1.6v1.6h-1.6zM367.5 696.3h1.6v1.6h-1.6zM375.9 717.2h1.6v1.6h-1.6zM399.4 640.4h1.6v1.6h-1.6zM369.1 690.5h1.6v1.6h-1.6zM413.6 640.8h1.6v1.6h-1.6zM373.0 692.9h1.6v1.6h-1.6zM383.8 663.7h1.6v1.6h-1.6zM399.0 638.5h1.6v1.6h-1.6zM364.5 702.8h1.6v1.6h-1.6zM357.4 716.2h1.6v1.6h-1.6zM380.8 649.8h1.6v1.6h-1.6zM367.3 688.6h1.6v1.6h-1.6zM369.1 684.7h1.6v1.6h-1.6zM377.2 655.9h1.6v1.6h-1.6zM372.9 688.0h1.6v1.6h-1.6zM377.5 624.3h1.6v1.6h-1.6zM381.4 628.7h1.6v1.6h-1.6zM379.5 687.8h1.6v1.6h-1.6zM381.6 676.9h1.6v1.6h-1.6zM369.0 687.4h1.6v1.6h-1.6zM356.7 718.6h1.6v1.6h-1.6zM379.4 681.3h1.6v1.6h-1.6zM375.4 661.1h1.6v1.6h-1.6zM372.3 693.7h1.6v1.6h-1.6zM356.3 716.5h1.6v1.6h-1.6zM360.7 710.5h1.6v1.6h-1.6zM392.9 636.6h1.6v1.6h-1.6zM411.2 672.0h1.6v1.6h-1.6zM366.8 703.2h1.6v1.6h-1.6zM389.0 634.1h1.6v1.6h-1.6zM383.8 628.4h1.6v1.6h-1.6zM398.8 631.2h1.6v1.6h-1.6zM380.6 631.1h1.6v1.6h-1.6zM362.0 699.5h1.6v1.6h-1.6zM390.5 639.1h1.6v1.6h-1.6zM393.0 621.1h1.6v1.6h-1.6zM383.5 683.1h1.6v1.6h-1.6zM393.9 645.1h1.6v1.6h-1.6zM380.2 640.3h1.6v1.6h-1.6zM361.6 709.9h1.6v1.6h-1.6zM368.1 708.5h1.6v1.6h-1.6zM361.0 708.5h1.6v1.6h-1.6zM386.5 669.2h1.6v1.6h-1.6zM398.2 680.0h1.6v1.6h-1.6zM369.5 674.3h1.6v1.6h-1.6zM371.4 693.5h1.6v1.6h-1.6zM383.8 622.5h1.6v1.6h-1.6zM365.8 699.6h1.6v1.6h-1.6zM364.8 708.1h1.6v1.6h-1.6zM368.6 675.5h1.6v1.6h-1.6zM418.5 646.8h1.6v1.6h-1.6zM359.9 714.4h1.6v1.6h-1.6zM379.7 676.8h1.6v1.6h-1.6zM371.2 689.2h1.6v1.6h-1.6zM373.4 704.3h1.6v1.6h-1.6zM378.0 631.7h1.6v1.6h-1.6zM374.2 662.6h1.6v1.6h-1.6zM388.4 633.1h1.6v1.6h-1.6zM395.9 659.0h1.6v1.6h-1.6zM381.4 656.6h1.6v1.6h-1.6zM384.6 678.6h1.6v1.6h-1.6zM373.3 687.4h1.6v1.6h-1.6zM391.4 632.6h1.6v1.6h-1.6zM383.2 652.6h1.6v1.6h-1.6zM380.3 677.4h1.6v1.6h-1.6zM386.1 681.1h1.6v1.6h-1.6zM378.5 630.1h1.6v1.6h-1.6zM398.9 630.7h1.6v1.6h-1.6zM380.6 645.6h1.6v1.6h-1.6zM385.0 674.9h1.6v1.6h-1.6zM356.4 717.7h1.6v1.6h-1.6zM356.2 715.8h1.6v1.6h-1.6zM371.5 696.5h1.6v1.6h-1.6zM362.8 699.1h1.6v1.6h-1.6zM361.4 717.3h1.6v1.6h-1.6zM390.3 631.8h1.6v1.6h-1.6zM380.4 699.2h1.6v1.6h-1.6zM396.5 640.0h1.6v1.6h-1.6zM361.0 713.5h1.6v1.6h-1.6zM385.6 687.7h1.6v1.6h-1.6zM390.3 654.5h1.6v1.6h-1.6zM377.4 705.5h1.6v1.6h-1.6zM390.8 665.8h1.6v1.6h-1.6zM362.3 702.9h1.6v1.6h-1.6zM375.0 657.8h1.6v1.6h-1.6zM366.6 689.3h1.6v1.6h-1.6zM375.2 671.4h1.6v1.6h-1.6zM416.6 642.3h1.6v1.6h-1.6zM363.5 698.3h1.6v1.6h-1.6zM373.5 651.9h1.6v1.6h-1.6zM365.2 697.8h1.6v1.6h-1.6zM354.2 719.3h1.6v1.6h-1.6zM366.1 707.5h1.6v1.6h-1.6zM360.0 706.6h1.6v1.6h-1.6zM366.1 694.4h1.6v1.6h-1.6zM384.6 693.8h1.6v1.6h-1.6zM380.1 703.4h1.6v1.6h-1.6zM365.7 700.7h1.6v1.6h-1.6zM374.2 646.6h1.6v1.6h-1.6zM391.1 642.3h1.6v1.6h-1.6zM387.8 664.9h1.6v1.6h-1.6zM372.0 655.2h1.6v1.6h-1.6zM371.9 704.1h1.6v1.6h-1.6zM362.0 713.3h1.6v1.6h-1.6zM363.4 706.1h1.6v1.6h-1.6zM371.1 663.2h1.6v1.6h-1.6zM400.1 654.3h1.6v1.6h-1.6zM368.9 705.8h1.6v1.6h-1.6zM371.7 678.5h1.6v1.6h-1.6zM388.6 643.8h1.6v1.6h-1.6zM375.7 676.1h1.6v1.6h-1.6zM376.7 681.7h1.6v1.6h-1.6zM381.1 662.2h1.6v1.6h-1.6zM357.9 717.8h1.6v1.6h-1.6zM365.5 707.7h1.6v1.6h-1.6zM385.4 688.1h1.6v1.6h-1.6zM379.0 643.9h1.6v1.6h-1.6zM404.4 631.3h1.6v1.6h-1.6zM361.3 714.2h1.6v1.6h-1.6zM380.1 652.9h1.6v1.6h-1.6zM363.2 715.6h1.6v1.6h-1.6zM358.5 714.1h1.6v1.6h-1.6zM434.9 648.7h1.6v1.6h-1.6zM383.4 671.4h1.6v1.6h-1.6zM357.1 718.0h1.6v1.6h-1.6zM380.9 660.9h1.6v1.6h-1.6zM357.4 714.7h1.6v1.6h-1.6zM367.9 713.6h1.6v1.6h-1.6zM369.9 686.2h1.6v1.6h-1.6zM365.0 702.2h1.6v1.6h-1.6zM381.5 628.7h1.6v1.6h-1.6zM381.3 638.5h1.6v1.6h-1.6zM376.0 667.6h1.6v1.6h-1.6zM377.1 647.4h1.6v1.6h-1.6zM360.7 713.7h1.6v1.6h-1.6zM374.7 674.3h1.6v1.6h-1.6zM382.9 666.9h1.6v1.6h-1.6zM370.0 702.7h1.6v1.6h-1.6zM396.8 653.2h1.6v1.6h-1.6zM369.1 677.1h1.6v1.6h-1.6zM367.3 686.8h1.6v1.6h-1.6zM376.6 685.1h1.6v1.6h-1.6zM366.9 694.7h1.6v1.6h-1.6zM383.4 653.0h1.6v1.6h-1.6zM360.4 717.3h1.6v1.6h-1.6zM370.0 712.6h1.6v1.6h-1.6zM375.9 636.6h1.6v1.6h-1.6zM366.0 702.2h1.6v1.6h-1.6zM373.0 684.1h1.6v1.6h-1.6zM375.4 700.1h1.6v1.6h-1.6zM380.4 645.6h1.6v1.6h-1.6zM384.6 650.2h1.6v1.6h-1.6zM374.7 670.1h1.6v1.6h-1.6zM386.2 662.6h1.6v1.6h-1.6zM369.9 672.0h1.6v1.6h-1.6zM376.2 644.1h1.6v1.6h-1.6zM376.1 690.1h1.6v1.6h-1.6zM375.2 670.7h1.6v1.6h-1.6zM361.0 713.2h1.6v1.6h-1.6zM391.8 627.5h1.6v1.6h-1.6zM376.8 670.3h1.6v1.6h-1.6zM399.4 650.9h1.6v1.6h-1.6zM402.7 672.4h1.6v1.6h-1.6zM366.8 703.7h1.6v1.6h-1.6zM374.5 683.8h1.6v1.6h-1.6zM362.1 706.4h1.6v1.6h-1.6zM378.4 689.1h1.6v1.6h-1.6zM411.5 646.3h1.6v1.6h-1.6zM389.2 663.1h1.6v1.6h-1.6zM385.6 630.4h1.6v1.6h-1.6zM382.1 688.5h1.6v1.6h-1.6zM373.5 687.5h1.6v1.6h-1.6zM387.7 658.2h1.6v1.6h-1.6zM375.6 662.2h1.6v1.6h-1.6zM376.4 658.2h1.6v1.6h-1.6zM379.8 679.9h1.6v1.6h-1.6zM411.2 638.2h1.6v1.6h-1.6zM369.8 679.9h1.6v1.6h-1.6zM396.8 658.6h1.6v1.6h-1.6zM393.0 699.3h1.6v1.6h-1.6zM379.6 640.3h1.6v1.6h-1.6zM391.3 652.8h1.6v1.6h-1.6zM385.3 693.4h1.6v1.6h-1.6zM368.1 717.0h1.6v1.6h-1.6zM369.1 709.1h1.6v1.6h-1.6zM363.9 709.8h1.6v1.6h-1.6zM377.5 662.2h1.6v1.6h-1.6zM365.5 701.0h1.6v1.6h-1.6zM383.1 662.0h1.6v1.6h-1.6zM369.3 668.2h1.6v1.6h-1.6zM375.4 660.6h1.6v1.6h-1.6zM382.5 659.4h1.6v1.6h-1.6zM377.5 706.4h1.6v1.6h-1.6zM366.8 680.0h1.6v1.6h-1.6zM381.5 643.6h1.6v1.6h-1.6zM385.8 660.9h1.6v1.6h-1.6zM370.8 698.7h1.6v1.6h-1.6zM373.9 666.1h1.6v1.6h-1.6zM371.7 670.3h1.6v1.6h-1.6zM367.5 707.6h1.6v1.6h-1.6zM369.3 710.1h1.6v1.6h-1.6zM378.6 647.4h1.6v1.6h-1.6zM375.3 657.4h1.6v1.6h-1.6zM375.1 704.5h1.6v1.6h-1.6zM408.6 637.6h1.6v1.6h-1.6zM375.1 659.1h1.6v1.6h-1.6zM365.1 693.2h1.6v1.6h-1.6zM386.2 677.3h1.6v1.6h-1.6zM383.7 676.7h1.6v1.6h-1.6zM369.0 696.5h1.6v1.6h-1.6zM382.4 681.5h1.6v1.6h-1.6zM389.5 624.7h1.6v1.6h-1.6zM377.0 697.3h1.6v1.6h-1.6zM386.0 655.2h1.6v1.6h-1.6zM375.4 640.7h1.6v1.6h-1.6zM372.4 682.5h1.6v1.6h-1.6zM364.7 711.1h1.6v1.6h-1.6zM365.6 710.0h1.6v1.6h-1.6zM378.9 629.4h1.6v1.6h-1.6zM360.3 707.0h1.6v1.6h-1.6zM374.7 659.1h1.6v1.6h-1.6zM378.0 635.4h1.6v1.6h-1.6zM376.5 664.6h1.6v1.6h-1.6zM377.9 679.0h1.6v1.6h-1.6zM368.2 695.3h1.6v1.6h-1.6zM372.9 657.2h1.6v1.6h-1.6zM380.6 659.9h1.6v1.6h-1.6zM364.8 697.1h1.6v1.6h-1.6zM374.4 666.5h1.6v1.6h-1.6zM372.9 694.9h1.6v1.6h-1.6zM387.0 646.8h1.6v1.6h-1.6zM357.3 717.1h1.6v1.6h-1.6zM373.2 669.5h1.6v1.6h-1.6zM408.2 683.6h1.6v1.6h-1.6zM383.8 677.8h1.6v1.6h-1.6zM369.7 695.7h1.6v1.6h-1.6zM382.5 654.6h1.6v1.6h-1.6zM395.9 674.3h1.6v1.6h-1.6zM379.2 659.5h1.6v1.6h-1.6zM358.3 719.1h1.6v1.6h-1.6zM380.5 666.8h1.6v1.6h-1.6zM394.0 666.1h1.6v1.6h-1.6zM394.1 648.7h1.6v1.6h-1.6zM359.8 711.1h1.6v1.6h-1.6zM363.2 713.8h1.6v1.6h-1.6zM393.1 661.2h1.6v1.6h-1.6zM373.7 682.1h1.6v1.6h-1.6zM381.6 678.8h1.6v1.6h-1.6zM377.7 647.0h1.6v1.6h-1.6zM363.0 703.7h1.6v1.6h-1.6zM358.2 718.2h1.6v1.6h-1.6zM376.2 648.4h1.6v1.6h-1.6zM374.4 688.4h1.6v1.6h-1.6zM374.8 678.1h1.6v1.6h-1.6zM373.8 673.3h1.6v1.6h-1.6zM414.1 639.4h1.6v1.6h-1.6zM360.0 710.1h1.6v1.6h-1.6zM372.1 665.1h1.6v1.6h-1.6zM361.8 708.9h1.6v1.6h-1.6zM380.5 695.9h1.6v1.6h-1.6zM422.1 625.9h1.6v1.6h-1.6zM364.2 698.2h1.6v1.6h-1.6zM374.7 655.0h1.6v1.6h-1.6zM374.5 715.1h1.6v1.6h-1.6zM372.7 661.4h1.6v1.6h-1.6zM355.6 718.2h1.6v1.6h-1.6zM361.6 703.3h1.6v1.6h-1.6zM362.4 704.3h1.6v1.6h-1.6zM375.3 699.2h1.6v1.6h-1.6zM384.8 701.4h1.6v1.6h-1.6zM372.8 667.3h1.6v1.6h-1.6zM367.7 705.6h1.6v1.6h-1.6zM380.8 692.5h1.6v1.6h-1.6zM370.8 709.6h1.6v1.6h-1.6zM357.8 715.3h1.6v1.6h-1.6zM364.3 698.7h1.6v1.6h-1.6zM379.9 680.1h1.6v1.6h-1.6zM381.9 641.6h1.6v1.6h-1.6zM375.2 696.4h1.6v1.6h-1.6zM387.9 641.9h1.6v1.6h-1.6zM397.3 656.6h1.6v1.6h-1.6zM387.3 635.9h1.6v1.6h-1.6zM379.4 674.7h1.6v1.6h-1.6zM378.1 661.3h1.6v1.6h-1.6zM371.4 697.0h1.6v1.6h-1.6zM373.8 647.6h1.6v1.6h-1.6zM379.5 627.5h1.6v1.6h-1.6zM401.2 655.1h1.6v1.6h-1.6zM358.6 711.7h1.6v1.6h-1.6zM371.9 692.8h1.6v1.6h-1.6zM373.8 690.5h1.6v1.6h-1.6zM384.2 630.2h1.6v1.6h-1.6zM359.9 717.6h1.6v1.6h-1.6zM388.5 682.8h1.6v1.6h-1.6zM377.2 636.9h1.6v1.6h-1.6zM362.6 713.6h1.6v1.6h-1.6zM376.6 660.4h1.6v1.6h-1.6zM381.3 637.6h1.6v1.6h-1.6zM377.6 661.8h1.6v1.6h-1.6zM376.5 667.4h1.6v1.6h-1.6zM378.1 672.6h1.6v1.6h-1.6zM380.8 687.4h1.6v1.6h-1.6zM362.2 702.2h1.6v1.6h-1.6zM377.0 703.1h1.6v1.6h-1.6zM400.6 634.4h1.6v1.6h-1.6zM376.6 670.8h1.6v1.6h-1.6zM372.5 663.3h1.6v1.6h-1.6zM376.9 678.9h1.6v1.6h-1.6zM374.7 677.2h1.6v1.6h-1.6zM399.2 697.2h1.6v1.6h-1.6zM372.4 695.8h1.6v1.6h-1.6zM372.5 656.3h1.6v1.6h-1.6zM370.9 707.2h1.6v1.6h-1.6zM365.0 707.5h1.6v1.6h-1.6zM370.1 674.0h1.6v1.6h-1.6zM390.6 639.8h1.6v1.6h-1.6zM363.8 707.4h1.6v1.6h-1.6zM395.8 664.5h1.6v1.6h-1.6zM381.7 660.9h1.6v1.6h-1.6zM378.8 641.6h1.6v1.6h-1.6zM355.8 717.6h1.6v1.6h-1.6zM398.7 626.1h1.6v1.6h-1.6zM366.7 683.3h1.6v1.6h-1.6zM383.6 679.2h1.6v1.6h-1.6zM366.8 711.5h1.6v1.6h-1.6zM371.2 685.5h1.6v1.6h-1.6zM389.7 651.5h1.6v1.6h-1.6zM377.1 658.3h1.6v1.6h-1.6zM389.5 637.6h1.6v1.6h-1.6zM364.4 697.8h1.6v1.6h-1.6zM364.9 707.5h1.6v1.6h-1.6zM373.2 661.4h1.6v1.6h-1.6zM364.9 698.3h1.6v1.6h-1.6zM394.2 694.1h1.6v1.6h-1.6zM379.2 623.5h1.6v1.6h-1.6zM382.1 690.6h1.6v1.6h-1.6zM376.7 683.5h1.6v1.6h-1.6zM398.9 659.6h1.6v1.6h-1.6zM389.3 669.0h1.6v1.6h-1.6zM406.1 674.7h1.6v1.6h-1.6zM370.4 695.1h1.6v1.6h-1.6zM359.6 713.5h1.6v1.6h-1.6zM379.4 664.0h1.6v1.6h-1.6zM389.3 647.3h1.6v1.6h-1.6zM388.2 664.5h1.6v1.6h-1.6zM382.0 663.5h1.6v1.6h-1.6zM372.0 685.5h1.6v1.6h-1.6zM381.4 688.1h1.6v1.6h-1.6zM369.2 706.2h1.6v1.6h-1.6zM356.8 716.1h1.6v1.6h-1.6zM372.6 702.2h1.6v1.6h-1.6zM365.2 706.4h1.6v1.6h-1.6zM371.7 668.2h1.6v1.6h-1.6zM370.7 690.5h1.6v1.6h-1.6zM361.0 710.5h1.6v1.6h-1.6zM381.7 716.0h1.6v1.6h-1.6zM377.4 638.8h1.6v1.6h-1.6zM371.7 694.3h1.6v1.6h-1.6zM389.2 645.8h1.6v1.6h-1.6zM388.5 622.6h1.6v1.6h-1.6zM363.8 702.4h1.6v1.6h-1.6zM364.2 695.8h1.6v1.6h-1.6zM381.1 619.4h1.6v1.6h-1.6zM369.4 702.3h1.6v1.6h-1.6zM397.8 663.2h1.6v1.6h-1.6zM360.9 709.7h1.6v1.6h-1.6zM378.2 682.5h1.6v1.6h-1.6zM357.3 719.1h1.6v1.6h-1.6zM386.9 689.9h1.6v1.6h-1.6zM363.6 717.2h1.6v1.6h-1.6zM368.7 699.2h1.6v1.6h-1.6zM362.4 710.1h1.6v1.6h-1.6zM363.6 712.8h1.6v1.6h-1.6zM374.2 686.5h1.6v1.6h-1.6zM358.5 717.4h1.6v1.6h-1.6zM373.7 661.9h1.6v1.6h-1.6zM377.8 654.2h1.6v1.6h-1.6zM368.3 707.4h1.6v1.6h-1.6zM381.6 636.5h1.6v1.6h-1.6zM368.9 700.0h1.6v1.6h-1.6zM371.9 675.3h1.6v1.6h-1.6zM373.9 689.4h1.6v1.6h-1.6zM369.5 707.3h1.6v1.6h-1.6zM381.0 635.1h1.6v1.6h-1.6zM392.8 696.6h1.6v1.6h-1.6zM383.7 633.7h1.6v1.6h-1.6zM389.4 617.1h1.6v1.6h-1.6zM396.9 647.1h1.6v1.6h-1.6zM378.3 707.7h1.6v1.6h-1.6zM369.5 692.5h1.6v1.6h-1.6zM388.5 687.6h1.6v1.6h-1.6zM393.8 647.1h1.6v1.6h-1.6zM387.9 675.8h1.6v1.6h-1.6zM371.4 675.7h1.6v1.6h-1.6zM373.3 675.6h1.6v1.6h-1.6zM387.4 644.0h1.6v1.6h-1.6zM372.7 688.9h1.6v1.6h-1.6zM390.0 642.0h1.6v1.6h-1.6zM377.4 662.8h1.6v1.6h-1.6zM386.7 649.4h1.6v1.6h-1.6zM376.8 643.6h1.6v1.6h-1.6zM384.1 698.5h1.6v1.6h-1.6zM386.3 667.1h1.6v1.6h-1.6zM374.4 713.8h1.6v1.6h-1.6zM387.5 678.7h1.6v1.6h-1.6zM365.5 703.2h1.6v1.6h-1.6zM376.7 661.5h1.6v1.6h-1.6zM382.0 677.4h1.6v1.6h-1.6zM374.3 685.3h1.6v1.6h-1.6zM376.3 703.3h1.6v1.6h-1.6zM378.7 682.1h1.6v1.6h-1.6zM376.4 688.5h1.6v1.6h-1.6zM372.8 685.3h1.6v1.6h-1.6zM373.5 692.2h1.6v1.6h-1.6zM387.5 626.9h1.6v1.6h-1.6zM375.0 645.7h1.6v1.6h-1.6zM376.8 678.3h1.6v1.6h-1.6zM361.8 716.9h1.6v1.6h-1.6zM383.4 679.8h1.6v1.6h-1.6zM381.3 655.1h1.6v1.6h-1.6zM377.4 659.5h1.6v1.6h-1.6zM365.6 715.6h1.6v1.6h-1.6zM389.7 640.8h1.6v1.6h-1.6zM397.0 663.0h1.6v1.6h-1.6zM383.2 642.5h1.6v1.6h-1.6zM370.6 660.9h1.6v1.6h-1.6zM370.2 666.3h1.6v1.6h-1.6zM379.3 689.9h1.6v1.6h-1.6zM445.5 633.6h1.6v1.6h-1.6zM383.4 639.9h1.6v1.6h-1.6zM362.3 701.1h1.6v1.6h-1.6zM360.6 706.6h1.6v1.6h-1.6zM388.3 664.3h1.6v1.6h-1.6zM363.8 700.4h1.6v1.6h-1.6zM368.8 683.5h1.6v1.6h-1.6zM356.6 716.7h1.6v1.6h-1.6zM365.4 699.5h1.6v1.6h-1.6zM375.6 649.2h1.6v1.6h-1.6zM363.4 700.0h1.6v1.6h-1.6zM377.4 680.5h1.6v1.6h-1.6zM365.1 690.6h1.6v1.6h-1.6zM383.1 644.4h1.6v1.6h-1.6zM386.9 657.3h1.6v1.6h-1.6zM378.3 665.6h1.6v1.6h-1.6zM379.9 626.4h1.6v1.6h-1.6zM378.8 644.1h1.6v1.6h-1.6zM360.3 715.5h1.6v1.6h-1.6zM383.1 700.5h1.6v1.6h-1.6zM382.0 679.4h1.6v1.6h-1.6zM375.7 691.4h1.6v1.6h-1.6zM382.4 666.0h1.6v1.6h-1.6zM368.7 711.3h1.6v1.6h-1.6zM405.6 627.8h1.6v1.6h-1.6zM358.4 715.3h1.6v1.6h-1.6zM371.2 697.5h1.6v1.6h-1.6zM396.4 670.7h1.6v1.6h-1.6zM398.8 671.6h1.6v1.6h-1.6zM373.6 679.1h1.6v1.6h-1.6zM379.2 685.6h1.6v1.6h-1.6zM390.2 670.1h1.6v1.6h-1.6zM384.2 659.7h1.6v1.6h-1.6zM376.6 655.6h1.6v1.6h-1.6zM372.6 691.6h1.6v1.6h-1.6zM375.4 679.4h1.6v1.6h-1.6zM387.4 625.7h1.6v1.6h-1.6zM365.5 697.1h1.6v1.6h-1.6zM388.4 646.7h1.6v1.6h-1.6zM390.9 657.4h1.6v1.6h-1.6zM378.2 651.0h1.6v1.6h-1.6zM373.7 677.2h1.6v1.6h-1.6zM371.4 670.3h1.6v1.6h-1.6zM383.7 692.4h1.6v1.6h-1.6zM377.8 682.8h1.6v1.6h-1.6zM403.4 656.1h1.6v1.6h-1.6zM364.5 691.5h1.6v1.6h-1.6zM395.3 681.8h1.6v1.6h-1.6zM366.4 690.6h1.6v1.6h-1.6zM376.0 695.6h1.6v1.6h-1.6zM356.7 718.2h1.6v1.6h-1.6zM397.5 659.1h1.6v1.6h-1.6zM374.1 668.5h1.6v1.6h-1.6zM364.4 714.2h1.6v1.6h-1.6zM377.0 629.5h1.6v1.6h-1.6zM361.0 712.1h1.6v1.6h-1.6zM374.4 674.1h1.6v1.6h-1.6zM361.8 701.2h1.6v1.6h-1.6zM365.6 704.6h1.6v1.6h-1.6zM377.9 673.2h1.6v1.6h-1.6zM398.6 612.5h1.6v1.6h-1.6zM368.5 678.0h1.6v1.6h-1.6zM361.1 709.1h1.6v1.6h-1.6zM387.3 680.2h1.6v1.6h-1.6zM376.0 702.5h1.6v1.6h-1.6zM402.6 639.1h1.6v1.6h-1.6zM377.5 648.6h1.6v1.6h-1.6zM395.2 670.8h1.6v1.6h-1.6zM361.6 704.5h1.6v1.6h-1.6zM365.3 695.3h1.6v1.6h-1.6zM362.3 710.8h1.6v1.6h-1.6zM368.4 707.5h1.6v1.6h-1.6zM366.6 706.3h1.6v1.6h-1.6zM383.1 625.3h1.6v1.6h-1.6zM375.4 679.9h1.6v1.6h-1.6zM369.3 710.8h1.6v1.6h-1.6zM381.6 704.5h1.6v1.6h-1.6zM371.9 673.8h1.6v1.6h-1.6zM371.2 669.9h1.6v1.6h-1.6zM388.7 682.1h1.6v1.6h-1.6zM380.6 644.6h1.6v1.6h-1.6zM387.5 665.8h1.6v1.6h-1.6zM372.7 682.9h1.6v1.6h-1.6zM354.8 719.1h1.6v1.6h-1.6zM383.7 640.3h1.6v1.6h-1.6zM380.2 649.5h1.6v1.6h-1.6zM385.7 641.6h1.6v1.6h-1.6zM356.0 718.8h1.6v1.6h-1.6zM377.4 693.4h1.6v1.6h-1.6zM372.1 668.8h1.6v1.6h-1.6zM362.2 712.9h1.6v1.6h-1.6zM370.0 682.6h1.6v1.6h-1.6zM366.4 708.4h1.6v1.6h-1.6zM392.5 673.0h1.6v1.6h-1.6zM358.0 713.9h1.6v1.6h-1.6zM383.0 656.6h1.6v1.6h-1.6zM364.3 708.7h1.6v1.6h-1.6zM402.3 634.3h1.6v1.6h-1.6zM388.4 631.7h1.6v1.6h-1.6zM384.7 665.9h1.6v1.6h-1.6zM374.6 651.9h1.6v1.6h-1.6zM380.3 686.3h1.6v1.6h-1.6zM384.7 704.1h1.6v1.6h-1.6zM370.1 713.3h1.6v1.6h-1.6zM382.8 680.1h1.6v1.6h-1.6zM373.4 662.3h1.6v1.6h-1.6zM363.9 693.4h1.6v1.6h-1.6zM371.3 672.3h1.6v1.6h-1.6zM359.3 709.4h1.6v1.6h-1.6zM363.4 695.2h1.6v1.6h-1.6zM384.9 668.6h1.6v1.6h-1.6zM366.9 696.1h1.6v1.6h-1.6zM389.1 659.4h1.6v1.6h-1.6zM379.7 675.4h1.6v1.6h-1.6zM419.6 650.5h1.6v1.6h-1.6zM386.4 660.1h1.6v1.6h-1.6zM393.3 669.4h1.6v1.6h-1.6zM379.1 668.2h1.6v1.6h-1.6zM383.5 669.9h1.6v1.6h-1.6zM392.6 687.8h1.6v1.6h-1.6zM369.0 699.7h1.6v1.6h-1.6zM369.4 671.4h1.6v1.6h-1.6zM396.0 645.2h1.6v1.6h-1.6zM375.9 693.2h1.6v1.6h-1.6zM388.8 637.9h1.6v1.6h-1.6zM377.1 696.5h1.6v1.6h-1.6zM374.4 671.9h1.6v1.6h-1.6zM373.2 697.2h1.6v1.6h-1.6zM374.9 644.5h1.6v1.6h-1.6zM370.0 675.6h1.6v1.6h-1.6zM372.1 700.2h1.6v1.6h-1.6zM362.8 715.5h1.6v1.6h-1.6zM363.3 710.0h1.6v1.6h-1.6zM384.0 630.7h1.6v1.6h-1.6zM383.8 640.7h1.6v1.6h-1.6zM370.5 672.1h1.6v1.6h-1.6zM364.8 693.6h1.6v1.6h-1.6zM393.4 626.4h1.6v1.6h-1.6zM376.2 672.7h1.6v1.6h-1.6zM402.2 635.8h1.6v1.6h-1.6zM387.1 653.8h1.6v1.6h-1.6zM368.5 685.9h1.6v1.6h-1.6zM383.7 637.9h1.6v1.6h-1.6zM388.6 649.9h1.6v1.6h-1.6zM404.4 657.9h1.6v1.6h-1.6zM357.1 716.6h1.6v1.6h-1.6zM374.4 643.1h1.6v1.6h-1.6zM367.4 677.1h1.6v1.6h-1.6zM366.8 705.7h1.6v1.6h-1.6zM372.1 669.1h1.6v1.6h-1.6zM376.0 651.8h1.6v1.6h-1.6zM379.5 697.5h1.6v1.6h-1.6zM361.0 709.9h1.6v1.6h-1.6zM407.0 636.7h1.6v1.6h-1.6zM385.5 632.3h1.6v1.6h-1.6zM387.0 627.2h1.6v1.6h-1.6zM354.8 718.7h1.6v1.6h-1.6zM393.6 654.7h1.6v1.6h-1.6zM364.5 696.4h1.6v1.6h-1.6zM377.9 691.8h1.6v1.6h-1.6zM372.5 656.9h1.6v1.6h-1.6zM370.3 673.4h1.6v1.6h-1.6zM386.3 640.2h1.6v1.6h-1.6zM362.5 708.7h1.6v1.6h-1.6zM398.9 639.7h1.6v1.6h-1.6zM379.2 635.8h1.6v1.6h-1.6zM363.5 710.2h1.6v1.6h-1.6zM369.3 702.9h1.6v1.6h-1.6zM367.7 704.8h1.6v1.6h-1.6zM367.1 691.4h1.6v1.6h-1.6zM377.7 660.2h1.6v1.6h-1.6zM383.1 655.9h1.6v1.6h-1.6zM368.5 714.0h1.6v1.6h-1.6zM374.3 665.4h1.6v1.6h-1.6zM388.4 640.6h1.6v1.6h-1.6zM381.7 671.0h1.6v1.6h-1.6zM363.3 698.4h1.6v1.6h-1.6zM361.4 711.1h1.6v1.6h-1.6zM377.1 668.4h1.6v1.6h-1.6zM383.1 667.3h1.6v1.6h-1.6zM377.9 653.0h1.6v1.6h-1.6zM390.6 669.7h1.6v1.6h-1.6zM391.9 645.9h1.6v1.6h-1.6zM365.0 692.5h1.6v1.6h-1.6zM368.4 689.7h1.6v1.6h-1.6zM401.9 642.7h1.6v1.6h-1.6zM396.2 658.1h1.6v1.6h-1.6zM377.2 634.0h1.6v1.6h-1.6zM376.0 649.8h1.6v1.6h-1.6zM359.3 717.4h1.6v1.6h-1.6zM374.9 667.9h1.6v1.6h-1.6zM391.0 689.6h1.6v1.6h-1.6zM377.6 689.7h1.6v1.6h-1.6zM401.3 638.2h1.6v1.6h-1.6zM358.2 712.7h1.6v1.6h-1.6zM365.9 705.4h1.6v1.6h-1.6zM390.8 622.7h1.6v1.6h-1.6zM375.2 685.1h1.6v1.6h-1.6zM366.7 712.7h1.6v1.6h-1.6zM370.8 674.6h1.6v1.6h-1.6zM385.6 672.3h1.6v1.6h-1.6zM390.8 640.5h1.6v1.6h-1.6zM384.8 661.8h1.6v1.6h-1.6zM377.6 688.4h1.6v1.6h-1.6zM406.7 624.5h1.6v1.6h-1.6zM418.1 633.7h1.6v1.6h-1.6zM369.7 676.2h1.6v1.6h-1.6zM362.1 712.1h1.6v1.6h-1.6zM388.3 635.5h1.6v1.6h-1.6zM389.6 633.8h1.6v1.6h-1.6zM379.0 659.4h1.6v1.6h-1.6zM366.6 699.4h1.6v1.6h-1.6zM369.5 706.2h1.6v1.6h-1.6zM376.3 667.0h1.6v1.6h-1.6zM386.1 671.4h1.6v1.6h-1.6zM377.2 667.9h1.6v1.6h-1.6zM357.2 714.0h1.6v1.6h-1.6zM368.8 681.8h1.6v1.6h-1.6zM364.7 694.7h1.6v1.6h-1.6zM387.8 676.7h1.6v1.6h-1.6zM369.9 667.3h1.6v1.6h-1.6zM376.5 695.0h1.6v1.6h-1.6zM376.9 628.2h1.6v1.6h-1.6zM368.2 684.6h1.6v1.6h-1.6zM389.7 655.2h1.6v1.6h-1.6zM383.4 648.4h1.6v1.6h-1.6zM376.4 642.0h1.6v1.6h-1.6zM368.8 705.0h1.6v1.6h-1.6zM370.2 693.6h1.6v1.6h-1.6zM368.8 670.9h1.6v1.6h-1.6zM372.5 705.7h1.6v1.6h-1.6zM385.7 671.5h1.6v1.6h-1.6zM373.5 676.5h1.6v1.6h-1.6zM373.7 674.7h1.6v1.6h-1.6zM366.9 698.2h1.6v1.6h-1.6zM371.4 673.1h1.6v1.6h-1.6zM377.8 645.4h1.6v1.6h-1.6zM387.0 640.7h1.6v1.6h-1.6zM373.0 685.9h1.6v1.6h-1.6zM363.7 695.6h1.6v1.6h-1.6zM370.5 683.5h1.6v1.6h-1.6zM394.7 624.3h1.6v1.6h-1.6zM369.8 697.9h1.6v1.6h-1.6zM362.8 714.9h1.6v1.6h-1.6zM389.2 672.3h1.6v1.6h-1.6zM372.7 671.4h1.6v1.6h-1.6zM364.2 699.0h1.6v1.6h-1.6zM397.6 638.4h1.6v1.6h-1.6zM370.8 693.8h1.6v1.6h-1.6zM361.8 711.4h1.6v1.6h-1.6zM364.8 702.3h1.6v1.6h-1.6zM379.9 698.1h1.6v1.6h-1.6zM387.7 668.6h1.6v1.6h-1.6zM375.8 671.0h1.6v1.6h-1.6zM370.5 668.2h1.6v1.6h-1.6zM375.5 645.0h1.6v1.6h-1.6zM380.7 627.1h1.6v1.6h-1.6zM381.1 652.9h1.6v1.6h-1.6zM374.4 676.1h1.6v1.6h-1.6zM385.8 666.7h1.6v1.6h-1.6zM373.2 651.9h1.6v1.6h-1.6zM379.8 703.2h1.6v1.6h-1.6zM382.1 676.3h1.6v1.6h-1.6zM389.6 660.1h1.6v1.6h-1.6zM374.8 655.8h1.6v1.6h-1.6zM368.6 689.8h1.6v1.6h-1.6zM370.7 673.2h1.6v1.6h-1.6zM409.3 681.4h1.6v1.6h-1.6zM385.3 630.3h1.6v1.6h-1.6zM379.5 694.2h1.6v1.6h-1.6zM355.3 717.6h1.6v1.6h-1.6zM367.5 698.9h1.6v1.6h-1.6zM371.4 678.4h1.6v1.6h-1.6zM368.0 702.7h1.6v1.6h-1.6zM376.1 646.0h1.6v1.6h-1.6zM378.9 645.0h1.6v1.6h-1.6zM386.3 633.8h1.6v1.6h-1.6zM372.5 698.1h1.6v1.6h-1.6zM382.9 665.7h1.6v1.6h-1.6zM381.7 680.0h1.6v1.6h-1.6zM375.8 647.5h1.6v1.6h-1.6zM362.5 714.1h1.6v1.6h-1.6zM370.0 677.1h1.6v1.6h-1.6zM389.7 662.6h1.6v1.6h-1.6zM370.4 670.5h1.6v1.6h-1.6zM376.5 659.7h1.6v1.6h-1.6zM375.4 664.1h1.6v1.6h-1.6zM365.0 710.6h1.6v1.6h-1.6zM379.3 661.6h1.6v1.6h-1.6zM369.0 707.9h1.6v1.6h-1.6zM391.4 674.5h1.6v1.6h-1.6zM399.9 635.8h1.6v1.6h-1.6zM369.6 665.0h1.6v1.6h-1.6zM386.5 667.8h1.6v1.6h-1.6zM377.6 630.0h1.6v1.6h-1.6zM385.1 677.2h1.6v1.6h-1.6zM383.8 647.5h1.6v1.6h-1.6zM384.1 677.6h1.6v1.6h-1.6zM389.0 648.6h1.6v1.6h-1.6zM376.9 665.1h1.6v1.6h-1.6zM362.8 699.9h1.6v1.6h-1.6zM376.3 640.3h1.6v1.6h-1.6zM373.5 652.0h1.6v1.6h-1.6zM384.2 642.6h1.6v1.6h-1.6zM369.5 696.8h1.6v1.6h-1.6zM368.9 710.8h1.6v1.6h-1.6zM383.6 680.0h1.6v1.6h-1.6zM369.5 705.3h1.6v1.6h-1.6zM383.3 652.4h1.6v1.6h-1.6zM361.6 716.3h1.6v1.6h-1.6zM374.9 650.7h1.6v1.6h-1.6zM368.3 686.7h1.6v1.6h-1.6zM384.0 673.4h1.6v1.6h-1.6zM387.5 673.4h1.6v1.6h-1.6zM378.9 687.5h1.6v1.6h-1.6zM377.4 645.8h1.6v1.6h-1.6zM365.0 699.1h1.6v1.6h-1.6zM413.3 663.7h1.6v1.6h-1.6zM385.9 633.6h1.6v1.6h-1.6zM375.0 705.6h1.6v1.6h-1.6zM370.4 694.9h1.6v1.6h-1.6zM373.6 684.0h1.6v1.6h-1.6zM376.5 663.7h1.6v1.6h-1.6zM371.2 687.4h1.6v1.6h-1.6zM387.8 633.6h1.6v1.6h-1.6zM376.2 685.2h1.6v1.6h-1.6zM399.8 668.0h1.6v1.6h-1.6zM363.1 711.7h1.6v1.6h-1.6zM375.1 691.4h1.6v1.6h-1.6zM360.6 711.0h1.6v1.6h-1.6zM375.0 674.8h1.6v1.6h-1.6zM359.1 714.4h1.6v1.6h-1.6zM373.6 647.4h1.6v1.6h-1.6zM361.3 707.1h1.6v1.6h-1.6zM360.6 716.9h1.6v1.6h-1.6zM374.8 693.6h1.6v1.6h-1.6zM377.8 692.4h1.6v1.6h-1.6zM380.8 693.9h1.6v1.6h-1.6zM364.4 697.3h1.6v1.6h-1.6zM385.9 651.3h1.6v1.6h-1.6zM364.0 705.8h1.6v1.6h-1.6zM366.3 718.3h1.6v1.6h-1.6zM358.8 716.7h1.6v1.6h-1.6zM401.1 688.0h1.6v1.6h-1.6zM386.9 655.7h1.6v1.6h-1.6zM383.9 655.7h1.6v1.6h-1.6zM369.7 690.9h1.6v1.6h-1.6zM384.6 659.4h1.6v1.6h-1.6zM373.4 674.4h1.6v1.6h-1.6zM365.9 688.9h1.6v1.6h-1.6zM363.0 704.3h1.6v1.6h-1.6zM376.4 698.7h1.6v1.6h-1.6zM373.4 700.2h1.6v1.6h-1.6zM363.6 704.3h1.6v1.6h-1.6zM372.4 657.9h1.6v1.6h-1.6zM415.3 633.2h1.6v1.6h-1.6zM364.7 710.0h1.6v1.6h-1.6zM390.0 678.3h1.6v1.6h-1.6zM367.2 706.3h1.6v1.6h-1.6zM367.4 686.4h1.6v1.6h-1.6zM382.7 632.3h1.6v1.6h-1.6zM368.5 689.0h1.6v1.6h-1.6zM386.0 663.5h1.6v1.6h-1.6zM385.0 664.2h1.6v1.6h-1.6zM379.7 635.0h1.6v1.6h-1.6zM362.2 716.8h1.6v1.6h-1.6zM370.5 675.3h1.6v1.6h-1.6zM365.9 707.3h1.6v1.6h-1.6zM376.6 684.6h1.6v1.6h-1.6zM411.1 642.8h1.6v1.6h-1.6zM368.0 685.5h1.6v1.6h-1.6zM399.3 654.8h1.6v1.6h-1.6zM373.8 662.9h1.6v1.6h-1.6zM374.0 678.2h1.6v1.6h-1.6zM372.7 672.4h1.6v1.6h-1.6zM395.6 685.9h1.6v1.6h-1.6zM383.7 674.0h1.6v1.6h-1.6zM379.4 641.1h1.6v1.6h-1.6zM368.0 691.8h1.6v1.6h-1.6zM377.5 676.0h1.6v1.6h-1.6zM391.3 681.1h1.6v1.6h-1.6zM381.2 714.5h1.6v1.6h-1.6zM381.7 665.5h1.6v1.6h-1.6zM385.5 692.8h1.6v1.6h-1.6zM384.3 651.7h1.6v1.6h-1.6zM375.6 654.8h1.6v1.6h-1.6zM366.1 685.0h1.6v1.6h-1.6zM360.0 714.3h1.6v1.6h-1.6zM359.5 715.2h1.6v1.6h-1.6zM399.1 661.7h1.6v1.6h-1.6zM356.8 714.5h1.6v1.6h-1.6zM374.1 677.9h1.6v1.6h-1.6zM396.2 640.5h1.6v1.6h-1.6zM367.6 690.1h1.6v1.6h-1.6zM374.1 684.0h1.6v1.6h-1.6zM387.6 681.5h1.6v1.6h-1.6zM389.2 677.9h1.6v1.6h-1.6zM384.4 649.7h1.6v1.6h-1.6zM374.7 669.7h1.6v1.6h-1.6zM374.6 685.0h1.6v1.6h-1.6zM388.7 698.3h1.6v1.6h-1.6zM369.1 691.2h1.6v1.6h-1.6zM383.4 626.2h1.6v1.6h-1.6zM381.9 690.7h1.6v1.6h-1.6zM365.9 695.2h1.6v1.6h-1.6zM376.5 680.8h1.6v1.6h-1.6zM365.3 696.2h1.6v1.6h-1.6zM364.8 711.5h1.6v1.6h-1.6zM404.6 650.8h1.6v1.6h-1.6zM384.4 668.1h1.6v1.6h-1.6zM381.0 667.9h1.6v1.6h-1.6zM379.1 664.8h1.6v1.6h-1.6zM386.0 670.7h1.6v1.6h-1.6zM386.8 642.1h1.6v1.6h-1.6zM383.1 674.4h1.6v1.6h-1.6zM378.0 663.3h1.6v1.6h-1.6zM388.2 674.4h1.6v1.6h-1.6zM378.7 664.7h1.6v1.6h-1.6zM370.0 691.9h1.6v1.6h-1.6zM383.0 628.3h1.6v1.6h-1.6zM376.7 710.2h1.6v1.6h-1.6zM381.7 651.7h1.6v1.6h-1.6zM388.6 662.5h1.6v1.6h-1.6zM383.2 656.4h1.6v1.6h-1.6zM368.8 678.6h1.6v1.6h-1.6zM372.6 689.3h1.6v1.6h-1.6zM383.6 652.0h1.6v1.6h-1.6zM375.5 672.7h1.6v1.6h-1.6zM384.9 658.5h1.6v1.6h-1.6zM375.1 664.5h1.6v1.6h-1.6zM382.3 688.0h1.6v1.6h-1.6zM365.8 710.5h1.6v1.6h-1.6zM374.0 703.8h1.6v1.6h-1.6zM380.8 630.3h1.6v1.6h-1.6zM375.5 653.3h1.6v1.6h-1.6zM381.6 700.4h1.6v1.6h-1.6zM384.7 700.2h1.6v1.6h-1.6zM357.6 718.4h1.6v1.6h-1.6zM378.1 683.3h1.6v1.6h-1.6zM376.7 675.1h1.6v1.6h-1.6zM366.2 681.0h1.6v1.6h-1.6zM392.7 634.9h1.6v1.6h-1.6zM390.6 644.1h1.6v1.6h-1.6zM375.8 645.8h1.6v1.6h-1.6zM373.9 645.9h1.6v1.6h-1.6zM368.4 680.0h1.6v1.6h-1.6zM356.3 716.3h1.6v1.6h-1.6zM383.9 672.3h1.6v1.6h-1.6zM366.0 689.4h1.6v1.6h-1.6zM365.4 715.2h1.6v1.6h-1.6zM366.6 699.9h1.6v1.6h-1.6zM363.0 707.1h1.6v1.6h-1.6zM363.7 691.8h1.6v1.6h-1.6zM390.7 625.0h1.6v1.6h-1.6zM366.9 696.8h1.6v1.6h-1.6zM357.6 716.2h1.6v1.6h-1.6zM381.4 682.5h1.6v1.6h-1.6zM365.2 713.1h1.6v1.6h-1.6zM360.6 708.5h1.6v1.6h-1.6zM364.8 709.4h1.6v1.6h-1.6zM402.1 631.3h1.6v1.6h-1.6zM371.1 695.9h1.6v1.6h-1.6zM370.5 696.7h1.6v1.6h-1.6zM383.0 645.3h1.6v1.6h-1.6zM384.6 715.9h1.6v1.6h-1.6zM370.5 669.5h1.6v1.6h-1.6zM366.5 692.0h1.6v1.6h-1.6zM364.0 695.4h1.6v1.6h-1.6zM360.3 711.7h1.6v1.6h-1.6zM372.3 685.2h1.6v1.6h-1.6zM371.6 690.8h1.6v1.6h-1.6zM371.7 676.4h1.6v1.6h-1.6zM363.6 700.6h1.6v1.6h-1.6zM363.9 696.8h1.6v1.6h-1.6zM411.1 628.4h1.6v1.6h-1.6zM410.4 631.6h1.6v1.6h-1.6zM374.1 648.8h1.6v1.6h-1.6zM387.4 649.1h1.6v1.6h-1.6zM370.3 688.7h1.6v1.6h-1.6zM433.2 633.4h1.6v1.6h-1.6zM369.4 712.1h1.6v1.6h-1.6zM378.5 686.1h1.6v1.6h-1.6zM366.9 686.8h1.6v1.6h-1.6zM372.8 712.7h1.6v1.6h-1.6zM392.6 647.4h1.6v1.6h-1.6zM371.2 690.2h1.6v1.6h-1.6zM365.4 703.6h1.6v1.6h-1.6zM373.9 668.3h1.6v1.6h-1.6zM394.6 683.9h1.6v1.6h-1.6zM395.3 631.5h1.6v1.6h-1.6zM376.4 671.1h1.6v1.6h-1.6zM379.7 641.8h1.6v1.6h-1.6zM379.0 689.4h1.6v1.6h-1.6zM369.2 689.2h1.6v1.6h-1.6zM359.5 717.4h1.6v1.6h-1.6zM388.5 674.6h1.6v1.6h-1.6zM383.9 666.8h1.6v1.6h-1.6zM361.8 703.7h1.6v1.6h-1.6zM379.4 660.6h1.6v1.6h-1.6zM393.6 673.2h1.6v1.6h-1.6zM377.1 689.4h1.6v1.6h-1.6zM367.0 696.8h1.6v1.6h-1.6zM367.6 714.4h1.6v1.6h-1.6zM364.2 701.0h1.6v1.6h-1.6zM373.8 699.8h1.6v1.6h-1.6zM395.2 703.0h1.6v1.6h-1.6zM364.3 712.3h1.6v1.6h-1.6zM369.1 703.8h1.6v1.6h-1.6zM359.8 705.6h1.6v1.6h-1.6zM376.7 688.4h1.6v1.6h-1.6zM374.7 682.8h1.6v1.6h-1.6zM364.3 712.8h1.6v1.6h-1.6zM377.4 662.4h1.6v1.6h-1.6zM362.7 703.7h1.6v1.6h-1.6zM379.1 713.3h1.6v1.6h-1.6zM383.7 667.0h1.6v1.6h-1.6zM369.2 711.9h1.6v1.6h-1.6zM363.6 698.9h1.6v1.6h-1.6zM372.8 660.7h1.6v1.6h-1.6zM386.3 629.9h1.6v1.6h-1.6zM360.0 717.5h1.6v1.6h-1.6zM375.1 680.4h1.6v1.6h-1.6zM365.4 706.6h1.6v1.6h-1.6zM413.3 658.0h1.6v1.6h-1.6zM405.3 639.9h1.6v1.6h-1.6zM387.2 675.7h1.6v1.6h-1.6zM364.2 701.6h1.6v1.6h-1.6zM398.3 670.9h1.6v1.6h-1.6zM368.1 710.4h1.6v1.6h-1.6zM399.2 627.7h1.6v1.6h-1.6zM369.6 688.5h1.6v1.6h-1.6zM380.7 679.2h1.6v1.6h-1.6zM372.6 654.8h1.6v1.6h-1.6zM376.0 637.7h1.6v1.6h-1.6zM372.2 665.9h1.6v1.6h-1.6zM358.0 714.6h1.6v1.6h-1.6zM383.0 643.2h1.6v1.6h-1.6zM370.9 684.9h1.6v1.6h-1.6zM372.8 681.8h1.6v1.6h-1.6zM379.8 678.1h1.6v1.6h-1.6zM374.6 703.7h1.6v1.6h-1.6zM368.7 687.9h1.6v1.6h-1.6zM357.9 711.8h1.6v1.6h-1.6zM385.6 664.0h1.6v1.6h-1.6zM403.1 642.0h1.6v1.6h-1.6zM362.3 708.3h1.6v1.6h-1.6zM383.4 643.7h1.6v1.6h-1.6zM379.2 693.1h1.6v1.6h-1.6zM381.1 630.9h1.6v1.6h-1.6zM366.6 690.4h1.6v1.6h-1.6zM416.5 672.9h1.6v1.6h-1.6zM373.8 676.4h1.6v1.6h-1.6zM379.2 632.4h1.6v1.6h-1.6zM385.2 661.9h1.6v1.6h-1.6zM373.3 667.5h1.6v1.6h-1.6zM391.0 641.6h1.6v1.6h-1.6zM372.2 693.4h1.6v1.6h-1.6zM373.6 708.9h1.6v1.6h-1.6zM357.9 716.9h1.6v1.6h-1.6zM396.7 633.3h1.6v1.6h-1.6zM406.6 638.8h1.6v1.6h-1.6zM379.1 646.6h1.6v1.6h-1.6zM370.4 705.6h1.6v1.6h-1.6zM387.4 665.8h1.6v1.6h-1.6zM379.0 658.8h1.6v1.6h-1.6zM374.5 653.6h1.6v1.6h-1.6zM391.0 653.5h1.6v1.6h-1.6zM382.2 680.4h1.6v1.6h-1.6zM382.9 651.7h1.6v1.6h-1.6zM394.0 654.7h1.6v1.6h-1.6zM375.7 687.7h1.6v1.6h-1.6zM361.6 706.9h1.6v1.6h-1.6zM359.7 712.1h1.6v1.6h-1.6zM391.7 629.7h1.6v1.6h-1.6zM359.5 706.6h1.6v1.6h-1.6zM381.4 649.7h1.6v1.6h-1.6zM412.0 680.7h1.6v1.6h-1.6zM374.7 700.0h1.6v1.6h-1.6zM379.0 658.1h1.6v1.6h-1.6zM369.6 685.6h1.6v1.6h-1.6zM373.5 667.5h1.6v1.6h-1.6zM378.8 655.3h1.6v1.6h-1.6zM381.8 651.1h1.6v1.6h-1.6zM380.2 661.9h1.6v1.6h-1.6zM362.8 711.8h1.6v1.6h-1.6zM380.9 682.6h1.6v1.6h-1.6zM375.6 703.3h1.6v1.6h-1.6zM369.5 704.3h1.6v1.6h-1.6zM375.8 676.9h1.6v1.6h-1.6zM360.0 716.3h1.6v1.6h-1.6zM378.9 626.3h1.6v1.6h-1.6zM374.9 666.7h1.6v1.6h-1.6zM365.7 685.5h1.6v1.6h-1.6zM389.4 672.7h1.6v1.6h-1.6zM377.8 674.3h1.6v1.6h-1.6zM371.3 681.0h1.6v1.6h-1.6zM386.4 637.1h1.6v1.6h-1.6zM362.9 709.3h1.6v1.6h-1.6zM366.1 691.7h1.6v1.6h-1.6zM386.6 640.1h1.6v1.6h-1.6zM372.2 663.0h1.6v1.6h-1.6zM377.3 692.2h1.6v1.6h-1.6zM377.4 686.9h1.6v1.6h-1.6zM392.5 644.2h1.6v1.6h-1.6zM364.8 705.0h1.6v1.6h-1.6zM366.1 694.8h1.6v1.6h-1.6zM378.5 673.2h1.6v1.6h-1.6zM366.3 711.9h1.6v1.6h-1.6zM389.4 676.7h1.6v1.6h-1.6zM380.2 637.1h1.6v1.6h-1.6zM371.9 710.3h1.6v1.6h-1.6zM383.7 665.5h1.6v1.6h-1.6zM387.1 633.7h1.6v1.6h-1.6zM367.2 689.2h1.6v1.6h-1.6zM378.7 660.4h1.6v1.6h-1.6zM366.6 712.3h1.6v1.6h-1.6zM380.5 697.6h1.6v1.6h-1.6zM401.4 640.1h1.6v1.6h-1.6zM377.3 673.9h1.6v1.6h-1.6zM371.5 693.0h1.6v1.6h-1.6zM364.6 707.3h1.6v1.6h-1.6zM358.1 714.2h1.6v1.6h-1.6zM367.1 700.3h1.6v1.6h-1.6zM379.2 699.9h1.6v1.6h-1.6zM374.7 682.4h1.6v1.6h-1.6zM356.7 715.2h1.6v1.6h-1.6zM359.6 707.2h1.6v1.6h-1.6zM370.0 697.4h1.6v1.6h-1.6zM403.6 632.1h1.6v1.6h-1.6zM380.0 650.8h1.6v1.6h-1.6zM376.3 638.9h1.6v1.6h-1.6zM378.0 678.2h1.6v1.6h-1.6zM391.1 700.8h1.6v1.6h-1.6zM366.1 693.3h1.6v1.6h-1.6zM365.0 687.6h1.6v1.6h-1.6zM361.8 710.8h1.6v1.6h-1.6zM416.9 661.1h1.6v1.6h-1.6zM361.1 706.2h1.6v1.6h-1.6zM376.2 664.7h1.6v1.6h-1.6zM357.2 717.8h1.6v1.6h-1.6zM393.8 627.6h1.6v1.6h-1.6zM381.9 677.7h1.6v1.6h-1.6zM379.1 647.0h1.6v1.6h-1.6zM397.5 692.2h1.6v1.6h-1.6zM376.9 655.3h1.6v1.6h-1.6zM374.0 669.0h1.6v1.6h-1.6zM377.8 633.2h1.6v1.6h-1.6zM374.6 642.0h1.6v1.6h-1.6zM412.5 614.8h1.6v1.6h-1.6zM362.5 710.3h1.6v1.6h-1.6zM382.4 634.3h1.6v1.6h-1.6zM381.0 660.3h1.6v1.6h-1.6zM364.9 718.3h1.6v1.6h-1.6zM394.4 670.4h1.6v1.6h-1.6zM366.6 687.6h1.6v1.6h-1.6zM375.3 673.9h1.6v1.6h-1.6zM363.9 706.4h1.6v1.6h-1.6zM391.0 697.0h1.6v1.6h-1.6zM365.5 713.1h1.6v1.6h-1.6zM388.2 649.4h1.6v1.6h-1.6zM374.1 683.4h1.6v1.6h-1.6zM381.4 698.3h1.6v1.6h-1.6zM378.1 692.4h1.6v1.6h-1.6zM390.6 626.2h1.6v1.6h-1.6zM368.0 699.5h1.6v1.6h-1.6zM387.4 613.8h1.6v1.6h-1.6zM369.1 674.5h1.6v1.6h-1.6zM385.5 637.8h1.6v1.6h-1.6zM361.5 707.9h1.6v1.6h-1.6zM389.4 664.9h1.6v1.6h-1.6zM369.7 669.2h1.6v1.6h-1.6zM373.4 671.4h1.6v1.6h-1.6zM378.6 672.1h1.6v1.6h-1.6zM381.8 656.5h1.6v1.6h-1.6zM372.0 673.2h1.6v1.6h-1.6zM373.7 684.8h1.6v1.6h-1.6zM388.8 632.6h1.6v1.6h-1.6zM394.7 625.6h1.6v1.6h-1.6zM395.7 666.4h1.6v1.6h-1.6zM386.6 656.7h1.6v1.6h-1.6zM369.2 675.6h1.6v1.6h-1.6zM368.3 700.3h1.6v1.6h-1.6zM392.4 688.2h1.6v1.6h-1.6zM363.4 708.8h1.6v1.6h-1.6zM365.0 698.6h1.6v1.6h-1.6zM359.2 710.2h1.6v1.6h-1.6zM394.7 663.4h1.6v1.6h-1.6zM371.2 698.9h1.6v1.6h-1.6zM390.2 645.9h1.6v1.6h-1.6zM379.9 677.6h1.6v1.6h-1.6zM363.8 693.6h1.6v1.6h-1.6zM364.9 706.6h1.6v1.6h-1.6zM375.7 652.2h1.6v1.6h-1.6zM379.0 645.4h1.6v1.6h-1.6zM362.4 711.2h1.6v1.6h-1.6zM370.3 691.0h1.6v1.6h-1.6zM369.5 703.8h1.6v1.6h-1.6zM387.5 661.7h1.6v1.6h-1.6zM357.5 717.4h1.6v1.6h-1.6zM382.5 679.9h1.6v1.6h-1.6zM396.5 676.9h1.6v1.6h-1.6zM370.8 689.2h1.6v1.6h-1.6zM380.6 689.3h1.6v1.6h-1.6zM366.5 684.7h1.6v1.6h-1.6zM393.2 634.1h1.6v1.6h-1.6zM378.3 655.1h1.6v1.6h-1.6zM370.6 671.5h1.6v1.6h-1.6zM368.3 712.1h1.6v1.6h-1.6zM404.5 661.3h1.6v1.6h-1.6zM370.3 714.5h1.6v1.6h-1.6zM361.6 711.9h1.6v1.6h-1.6zM363.6 703.4h1.6v1.6h-1.6zM380.2 689.0h1.6v1.6h-1.6zM387.3 667.2h1.6v1.6h-1.6zM383.7 687.2h1.6v1.6h-1.6zM377.8 685.8h1.6v1.6h-1.6zM382.7 686.8h1.6v1.6h-1.6zM363.1 705.2h1.6v1.6h-1.6zM377.6 650.0h1.6v1.6h-1.6zM390.2 634.1h1.6v1.6h-1.6zM377.9 694.5h1.6v1.6h-1.6zM384.8 633.3h1.6v1.6h-1.6zM367.8 683.5h1.6v1.6h-1.6zM358.4 712.0h1.6v1.6h-1.6zM391.6 619.7h1.6v1.6h-1.6zM375.4 658.9h1.6v1.6h-1.6zM375.6 695.0h1.6v1.6h-1.6zM378.2 625.0h1.6v1.6h-1.6zM382.1 634.8h1.6v1.6h-1.6zM382.8 634.5h1.6v1.6h-1.6zM399.2 682.9h1.6v1.6h-1.6zM371.4 682.9h1.6v1.6h-1.6zM391.9 637.2h1.6v1.6h-1.6zM377.4 656.0h1.6v1.6h-1.6zM377.0 697.6h1.6v1.6h-1.6zM397.5 639.3h1.6v1.6h-1.6zM378.8 644.6h1.6v1.6h-1.6zM370.7 689.6h1.6v1.6h-1.6zM378.7 642.0h1.6v1.6h-1.6zM369.9 677.2h1.6v1.6h-1.6zM370.3 689.0h1.6v1.6h-1.6zM392.4 645.4h1.6v1.6h-1.6zM361.9 713.7h1.6v1.6h-1.6zM381.2 695.6h1.6v1.6h-1.6zM368.1 696.6h1.6v1.6h-1.6zM381.9 677.4h1.6v1.6h-1.6zM367.6 711.6h1.6v1.6h-1.6zM392.0 652.4h1.6v1.6h-1.6zM379.9 665.8h1.6v1.6h-1.6zM372.8 690.0h1.6v1.6h-1.6zM384.3 624.1h1.6v1.6h-1.6zM378.4 672.4h1.6v1.6h-1.6zM368.6 696.1h1.6v1.6h-1.6zM379.7 675.8h1.6v1.6h-1.6zM363.5 697.0h1.6v1.6h-1.6zM365.8 702.4h1.6v1.6h-1.6zM375.3 639.2h1.6v1.6h-1.6zM367.9 696.5h1.6v1.6h-1.6zM365.1 686.2h1.6v1.6h-1.6zM382.1 641.4h1.6v1.6h-1.6zM367.9 684.2h1.6v1.6h-1.6zM374.1 696.5h1.6v1.6h-1.6zM382.7 652.3h1.6v1.6h-1.6zM372.6 669.0h1.6v1.6h-1.6zM381.6 693.6h1.6v1.6h-1.6zM372.0 678.4h1.6v1.6h-1.6zM374.9 693.1h1.6v1.6h-1.6zM382.3 665.0h1.6v1.6h-1.6zM359.7 710.5h1.6v1.6h-1.6zM395.4 677.4h1.6v1.6h-1.6zM377.6 680.3h1.6v1.6h-1.6zM381.9 708.1h1.6v1.6h-1.6zM369.5 698.2h1.6v1.6h-1.6zM373.3 672.2h1.6v1.6h-1.6zM388.5 691.2h1.6v1.6h-1.6zM372.7 652.2h1.6v1.6h-1.6zM364.0 690.1h1.6v1.6h-1.6zM383.2 650.8h1.6v1.6h-1.6zM385.3 623.7h1.6v1.6h-1.6zM390.1 646.7h1.6v1.6h-1.6zM362.5 696.1h1.6v1.6h-1.6zM365.0 714.6h1.6v1.6h-1.6zM374.4 669.7h1.6v1.6h-1.6zM361.9 706.4h1.6v1.6h-1.6zM355.5 718.8h1.6v1.6h-1.6zM386.9 638.4h1.6v1.6h-1.6zM367.9 700.7h1.6v1.6h-1.6zM365.2 692.0h1.6v1.6h-1.6zM391.3 640.9h1.6v1.6h-1.6zM374.7 685.6h1.6v1.6h-1.6zM358.0 716.9h1.6v1.6h-1.6zM365.6 704.1h1.6v1.6h-1.6zM368.0 691.2h1.6v1.6h-1.6zM365.8 709.1h1.6v1.6h-1.6zM375.0 647.5h1.6v1.6h-1.6zM385.0 637.9h1.6v1.6h-1.6zM358.3 715.7h1.6v1.6h-1.6zM372.4 692.4h1.6v1.6h-1.6zM363.8 711.1h1.6v1.6h-1.6zM392.6 625.3h1.6v1.6h-1.6zM373.0 697.6h1.6v1.6h-1.6zM359.6 714.9h1.6v1.6h-1.6zM370.9 670.3h1.6v1.6h-1.6zM386.1 666.1h1.6v1.6h-1.6zM355.6 719.2h1.6v1.6h-1.6zM385.2 646.7h1.6v1.6h-1.6zM383.3 639.0h1.6v1.6h-1.6zM401.3 634.6h1.6v1.6h-1.6zM362.0 716.2h1.6v1.6h-1.6zM363.2 710.7h1.6v1.6h-1.6zM372.7 685.8h1.6v1.6h-1.6zM381.3 638.2h1.6v1.6h-1.6zM358.7 714.7h1.6v1.6h-1.6zM379.2 694.0h1.6v1.6h-1.6zM376.3 694.0h1.6v1.6h-1.6zM382.0 694.2h1.6v1.6h-1.6zM370.4 707.0h1.6v1.6h-1.6zM400.8 635.9h1.6v1.6h-1.6zM368.2 690.5h1.6v1.6h-1.6zM377.6 640.8h1.6v1.6h-1.6zM378.9 627.1h1.6v1.6h-1.6zM378.2 657.6h1.6v1.6h-1.6zM385.6 660.3h1.6v1.6h-1.6zM371.4 661.4h1.6v1.6h-1.6zM366.3 700.7h1.6v1.6h-1.6zM359.3 709.5h1.6v1.6h-1.6zM366.6 708.4h1.6v1.6h-1.6zM387.2 626.2h1.6v1.6h-1.6zM383.0 672.3h1.6v1.6h-1.6zM381.9 689.4h1.6v1.6h-1.6zM390.3 639.2h1.6v1.6h-1.6zM392.6 691.2h1.6v1.6h-1.6zM401.9 634.2h1.6v1.6h-1.6zM362.5 716.1h1.6v1.6h-1.6zM394.9 655.7h1.6v1.6h-1.6zM387.6 683.4h1.6v1.6h-1.6zM366.5 708.6h1.6v1.6h-1.6zM392.0 709.7h1.6v1.6h-1.6zM388.9 681.7h1.6v1.6h-1.6zM378.4 673.9h1.6v1.6h-1.6zM376.6 695.7h1.6v1.6h-1.6zM373.6 693.2h1.6v1.6h-1.6zM372.9 708.2h1.6v1.6h-1.6zM384.5 665.0h1.6v1.6h-1.6zM367.6 689.5h1.6v1.6h-1.6zM360.6 714.3h1.6v1.6h-1.6zM387.5 682.1h1.6v1.6h-1.6zM369.9 691.9h1.6v1.6h-1.6zM391.0 640.1h1.6v1.6h-1.6zM386.3 657.0h1.6v1.6h-1.6zM382.1 689.8h1.6v1.6h-1.6zM369.5 700.6h1.6v1.6h-1.6zM355.1 718.1h1.6v1.6h-1.6zM393.9 629.1h1.6v1.6h-1.6zM370.1 685.9h1.6v1.6h-1.6zM379.2 654.2h1.6v1.6h-1.6zM358.4 717.3h1.6v1.6h-1.6zM386.0 645.7h1.6v1.6h-1.6zM372.5 692.3h1.6v1.6h-1.6zM371.1 660.6h1.6v1.6h-1.6zM370.6 706.3h1.6v1.6h-1.6zM370.5 664.2h1.6v1.6h-1.6zM370.7 669.4h1.6v1.6h-1.6zM377.7 659.8h1.6v1.6h-1.6zM385.2 654.6h1.6v1.6h-1.6zM375.8 638.2h1.6v1.6h-1.6zM390.7 670.0h1.6v1.6h-1.6zM376.5 699.4h1.6v1.6h-1.6zM399.2 700.3h1.6v1.6h-1.6zM373.3 677.3h1.6v1.6h-1.6zM373.4 669.4h1.6v1.6h-1.6zM375.6 691.8h1.6v1.6h-1.6zM379.4 678.4h1.6v1.6h-1.6zM366.8 701.5h1.6v1.6h-1.6zM381.7 676.0h1.6v1.6h-1.6zM386.9 653.9h1.6v1.6h-1.6zM361.4 711.9h1.6v1.6h-1.6zM377.7 634.3h1.6v1.6h-1.6zM394.1 699.7h1.6v1.6h-1.6zM377.8 693.4h1.6v1.6h-1.6zM374.1 652.4h1.6v1.6h-1.6zM384.0 676.0h1.6v1.6h-1.6zM366.0 698.5h1.6v1.6h-1.6zM381.2 648.7h1.6v1.6h-1.6zM384.4 673.6h1.6v1.6h-1.6zM364.2 706.2h1.6v1.6h-1.6zM393.0 653.2h1.6v1.6h-1.6zM404.6 653.2h1.6v1.6h-1.6zM374.0 657.6h1.6v1.6h-1.6zM372.1 708.7h1.6v1.6h-1.6zM385.2 655.9h1.6v1.6h-1.6zM387.3 674.4h1.6v1.6h-1.6zM403.5 663.5h1.6v1.6h-1.6zM370.9 698.3h1.6v1.6h-1.6zM385.3 679.8h1.6v1.6h-1.6zM378.3 635.7h1.6v1.6h-1.6zM381.7 638.5h1.6v1.6h-1.6zM367.0 705.0h1.6v1.6h-1.6zM380.7 642.7h1.6v1.6h-1.6zM394.1 690.0h1.6v1.6h-1.6zM374.5 654.6h1.6v1.6h-1.6zM374.5 697.3h1.6v1.6h-1.6zM357.0 718.5h1.6v1.6h-1.6zM387.4 642.2h1.6v1.6h-1.6zM391.1 693.0h1.6v1.6h-1.6zM384.6 646.9h1.6v1.6h-1.6zM419.2 620.8h1.6v1.6h-1.6zM385.6 684.5h1.6v1.6h-1.6zM393.5 621.8h1.6v1.6h-1.6zM391.2 672.5h1.6v1.6h-1.6zM358.6 713.6h1.6v1.6h-1.6zM388.1 627.6h1.6v1.6h-1.6zM379.9 645.1h1.6v1.6h-1.6zM415.1 652.7h1.6v1.6h-1.6zM389.9 663.5h1.6v1.6h-1.6zM373.5 659.7h1.6v1.6h-1.6zM367.4 699.3h1.6v1.6h-1.6zM374.5 669.1h1.6v1.6h-1.6zM363.1 709.3h1.6v1.6h-1.6zM381.3 669.8h1.6v1.6h-1.6zM363.3 704.8h1.6v1.6h-1.6zM379.5 630.6h1.6v1.6h-1.6zM387.9 643.7h1.6v1.6h-1.6zM393.1 656.3h1.6v1.6h-1.6zM371.6 711.0h1.6v1.6h-1.6zM362.9 704.5h1.6v1.6h-1.6zM362.0 711.6h1.6v1.6h-1.6zM381.6 670.1h1.6v1.6h-1.6zM400.5 623.8h1.6v1.6h-1.6zM371.3 687.8h1.6v1.6h-1.6zM383.3 634.6h1.6v1.6h-1.6zM375.9 654.2h1.6v1.6h-1.6zM387.5 636.7h1.6v1.6h-1.6zM372.4 680.6h1.6v1.6h-1.6zM378.4 674.1h1.6v1.6h-1.6zM364.1 703.7h1.6v1.6h-1.6zM363.1 714.5h1.6v1.6h-1.6zM384.4 702.5h1.6v1.6h-1.6zM382.4 638.4h1.6v1.6h-1.6zM376.9 658.5h1.6v1.6h-1.6zM372.7 657.7h1.6v1.6h-1.6zM377.1 713.1h1.6v1.6h-1.6zM390.1 668.0h1.6v1.6h-1.6zM383.3 675.5h1.6v1.6h-1.6zM375.9 656.3h1.6v1.6h-1.6zM367.5 685.6h1.6v1.6h-1.6zM387.0 656.7h1.6v1.6h-1.6zM361.8 709.0h1.6v1.6h-1.6zM362.6 702.0h1.6v1.6h-1.6zM401.4 624.9h1.6v1.6h-1.6zM369.4 669.8h1.6v1.6h-1.6zM369.7 676.9h1.6v1.6h-1.6zM363.3 696.1h1.6v1.6h-1.6zM376.3 665.9h1.6v1.6h-1.6zM363.4 702.1h1.6v1.6h-1.6zM374.0 679.4h1.6v1.6h-1.6zM380.9 699.9h1.6v1.6h-1.6zM376.0 707.5h1.6v1.6h-1.6zM368.5 684.0h1.6v1.6h-1.6zM372.6 676.9h1.6v1.6h-1.6zM363.2 705.9h1.6v1.6h-1.6zM374.2 680.7h1.6v1.6h-1.6zM365.0 697.4h1.6v1.6h-1.6zM359.9 706.1h1.6v1.6h-1.6zM366.8 707.2h1.6v1.6h-1.6zM414.3 638.7h1.6v1.6h-1.6zM372.0 668.3h1.6v1.6h-1.6zM378.3 661.5h1.6v1.6h-1.6zM370.9 664.9h1.6v1.6h-1.6zM373.7 714.0h1.6v1.6h-1.6zM381.1 639.7h1.6v1.6h-1.6zM369.6 703.1h1.6v1.6h-1.6zM383.6 647.4h1.6v1.6h-1.6zM363.6 710.6h1.6v1.6h-1.6zM375.0 662.6h1.6v1.6h-1.6zM375.4 687.8h1.6v1.6h-1.6zM378.5 649.9h1.6v1.6h-1.6zM399.9 658.3h1.6v1.6h-1.6zM375.7 689.7h1.6v1.6h-1.6zM390.7 638.3h1.6v1.6h-1.6zM415.9 688.9h1.6v1.6h-1.6zM374.1 670.3h1.6v1.6h-1.6zM367.8 694.8h1.6v1.6h-1.6zM397.1 629.8h1.6v1.6h-1.6zM379.5 629.4h1.6v1.6h-1.6zM372.6 684.5h1.6v1.6h-1.6zM370.5 665.6h1.6v1.6h-1.6zM412.0 660.0h1.6v1.6h-1.6zM372.2 653.1h1.6v1.6h-1.6zM364.4 707.6h1.6v1.6h-1.6zM378.1 679.7h1.6v1.6h-1.6zM383.3 693.4h1.6v1.6h-1.6zM402.5 636.2h1.6v1.6h-1.6zM399.0 676.1h1.6v1.6h-1.6zM400.1 649.4h1.6v1.6h-1.6zM379.3 633.6h1.6v1.6h-1.6zM379.5 647.7h1.6v1.6h-1.6zM381.9 687.3h1.6v1.6h-1.6zM388.2 676.0h1.6v1.6h-1.6zM379.8 634.6h1.6v1.6h-1.6zM366.3 697.5h1.6v1.6h-1.6zM380.6 637.6h1.6v1.6h-1.6zM367.6 714.5h1.6v1.6h-1.6zM370.0 708.6h1.6v1.6h-1.6zM377.5 628.5h1.6v1.6h-1.6zM389.4 656.1h1.6v1.6h-1.6zM378.0 652.2h1.6v1.6h-1.6zM377.1 664.9h1.6v1.6h-1.6zM372.4 686.4h1.6v1.6h-1.6zM370.3 700.6h1.6v1.6h-1.6zM364.1 690.6h1.6v1.6h-1.6zM382.7 645.4h1.6v1.6h-1.6zM382.0 654.6h1.6v1.6h-1.6zM376.7 697.9h1.6v1.6h-1.6zM363.4 712.5h1.6v1.6h-1.6zM397.5 686.3h1.6v1.6h-1.6zM360.7 705.9h1.6v1.6h-1.6zM380.5 660.0h1.6v1.6h-1.6zM378.6 695.2h1.6v1.6h-1.6zM397.2 697.0h1.6v1.6h-1.6zM363.4 700.6h1.6v1.6h-1.6zM372.5 664.1h1.6v1.6h-1.6zM373.0 678.8h1.6v1.6h-1.6zM373.9 681.4h1.6v1.6h-1.6zM379.7 659.4h1.6v1.6h-1.6zM367.2 684.0h1.6v1.6h-1.6zM380.2 684.3h1.6v1.6h-1.6zM382.7 673.3h1.6v1.6h-1.6zM380.5 644.2h1.6v1.6h-1.6zM392.8 639.2h1.6v1.6h-1.6zM381.8 672.5h1.6v1.6h-1.6zM373.6 654.2h1.6v1.6h-1.6zM372.6 677.1h1.6v1.6h-1.6zM356.4 717.3h1.6v1.6h-1.6zM403.5 665.2h1.6v1.6h-1.6zM365.4 709.1h1.6v1.6h-1.6zM382.9 658.6h1.6v1.6h-1.6zM372.8 663.6h1.6v1.6h-1.6zM370.5 713.5h1.6v1.6h-1.6zM372.4 674.7h1.6v1.6h-1.6zM385.0 613.0h1.6v1.6h-1.6zM370.2 709.1h1.6v1.6h-1.6zM359.7 712.9h1.6v1.6h-1.6zM373.0 662.6h1.6v1.6h-1.6zM368.0 701.6h1.6v1.6h-1.6zM383.3 624.1h1.6v1.6h-1.6zM375.9 690.3h1.6v1.6h-1.6zM374.1 661.8h1.6v1.6h-1.6zM385.1 658.0h1.6v1.6h-1.6zM368.7 683.2h1.6v1.6h-1.6zM393.8 631.7h1.6v1.6h-1.6zM373.4 686.8h1.6v1.6h-1.6zM367.4 692.8h1.6v1.6h-1.6zM369.8 696.2h1.6v1.6h-1.6zM367.5 699.3h1.6v1.6h-1.6zM397.1 636.6h1.6v1.6h-1.6zM377.9 665.4h1.6v1.6h-1.6zM389.2 644.0h1.6v1.6h-1.6zM380.1 653.3h1.6v1.6h-1.6zM384.7 651.1h1.6v1.6h-1.6zM363.3 702.6h1.6v1.6h-1.6zM387.3 639.8h1.6v1.6h-1.6zM396.6 645.5h1.6v1.6h-1.6zM411.2 627.8h1.6v1.6h-1.6zM371.2 671.7h1.6v1.6h-1.6zM365.4 705.4h1.6v1.6h-1.6zM369.2 707.0h1.6v1.6h-1.6zM357.1 715.1h1.6v1.6h-1.6zM399.6 633.0h1.6v1.6h-1.6zM371.7 677.2h1.6v1.6h-1.6zM388.8 630.4h1.6v1.6h-1.6zM398.4 659.6h1.6v1.6h-1.6zM366.0 703.1h1.6v1.6h-1.6zM400.5 623.1h1.6v1.6h-1.6zM372.6 668.5h1.6v1.6h-1.6zM384.4 631.5h1.6v1.6h-1.6zM363.3 701.8h1.6v1.6h-1.6zM368.7 702.8h1.6v1.6h-1.6zM380.3 655.0h1.6v1.6h-1.6zM359.6 718.1h1.6v1.6h-1.6zM411.7 678.2h1.6v1.6h-1.6zM373.0 671.8h1.6v1.6h-1.6zM382.5 651.0h1.6v1.6h-1.6zM370.2 678.2h1.6v1.6h-1.6zM371.7 666.8h1.6v1.6h-1.6zM372.9 649.1h1.6v1.6h-1.6zM375.8 656.7h1.6v1.6h-1.6zM369.5 694.9h1.6v1.6h-1.6zM386.5 673.2h1.6v1.6h-1.6zM394.0 699.1h1.6v1.6h-1.6zM378.3 694.4h1.6v1.6h-1.6zM372.2 683.6h1.6v1.6h-1.6zM357.2 715.5h1.6v1.6h-1.6zM387.5 672.5h1.6v1.6h-1.6zM368.7 673.7h1.6v1.6h-1.6zM385.7 685.8h1.6v1.6h-1.6zM360.9 704.0h1.6v1.6h-1.6zM372.8 680.7h1.6v1.6h-1.6zM371.4 689.6h1.6v1.6h-1.6zM369.9 713.4h1.6v1.6h-1.6zM363.6 715.3h1.6v1.6h-1.6zM371.8 664.6h1.6v1.6h-1.6zM382.5 633.9h1.6v1.6h-1.6zM397.5 650.3h1.6v1.6h-1.6zM373.6 696.9h1.6v1.6h-1.6zM391.3 646.0h1.6v1.6h-1.6zM379.1 649.2h1.6v1.6h-1.6zM371.4 662.8h1.6v1.6h-1.6zM376.0 675.9h1.6v1.6h-1.6zM380.5 668.8h1.6v1.6h-1.6zM379.0 639.7h1.6v1.6h-1.6zM415.1 668.9h1.6v1.6h-1.6zM370.2 684.9h1.6v1.6h-1.6zM369.2 708.5h1.6v1.6h-1.6zM368.7 707.8h1.6v1.6h-1.6zM377.7 628.1h1.6v1.6h-1.6zM369.2 685.1h1.6v1.6h-1.6zM381.3 657.7h1.6v1.6h-1.6zM360.5 712.5h1.6v1.6h-1.6zM369.9 668.7h1.6v1.6h-1.6zM367.0 699.6h1.6v1.6h-1.6zM378.2 655.5h1.6v1.6h-1.6zM374.1 657.0h1.6v1.6h-1.6zM360.4 707.7h1.6v1.6h-1.6zM369.3 695.1h1.6v1.6h-1.6zM368.8 682.9h1.6v1.6h-1.6zM358.2 711.6h1.6v1.6h-1.6zM388.0 687.2h1.6v1.6h-1.6zM378.4 662.7h1.6v1.6h-1.6zM376.7 689.7h1.6v1.6h-1.6zM375.7 648.0h1.6v1.6h-1.6zM379.7 643.5h1.6v1.6h-1.6zM388.2 648.8h1.6v1.6h-1.6zM370.9 694.0h1.6v1.6h-1.6zM380.4 667.0h1.6v1.6h-1.6zM365.4 687.3h1.6v1.6h-1.6zM367.7 688.4h1.6v1.6h-1.6zM380.7 690.7h1.6v1.6h-1.6zM382.9 633.0h1.6v1.6h-1.6zM372.1 666.9h1.6v1.6h-1.6zM381.3 674.8h1.6v1.6h-1.6zM385.7 649.9h1.6v1.6h-1.6zM382.2 692.7h1.6v1.6h-1.6zM380.6 687.5h1.6v1.6h-1.6zM367.4 683.2h1.6v1.6h-1.6zM387.0 662.9h1.6v1.6h-1.6zM393.5 633.4h1.6v1.6h-1.6zM391.6 709.5h1.6v1.6h-1.6zM373.6 678.1h1.6v1.6h-1.6zM365.5 702.6h1.6v1.6h-1.6zM361.5 710.3h1.6v1.6h-1.6zM376.1 668.6h1.6v1.6h-1.6zM379.8 692.4h1.6v1.6h-1.6zM392.3 679.4h1.6v1.6h-1.6zM367.7 689.3h1.6v1.6h-1.6zM375.3 684.5h1.6v1.6h-1.6zM386.8 642.7h1.6v1.6h-1.6zM357.2 713.6h1.6v1.6h-1.6zM389.3 635.3h1.6v1.6h-1.6zM387.7 659.2h1.6v1.6h-1.6zM382.5 655.0h1.6v1.6h-1.6zM368.4 706.3h1.6v1.6h-1.6zM386.3 705.6h1.6v1.6h-1.6zM372.0 696.4h1.6v1.6h-1.6zM366.3 715.7h1.6v1.6h-1.6zM379.1 676.7h1.6v1.6h-1.6zM369.6 678.4h1.6v1.6h-1.6zM373.6 679.6h1.6v1.6h-1.6zM379.9 651.9h1.6v1.6h-1.6zM374.8 646.5h1.6v1.6h-1.6zM390.2 655.1h1.6v1.6h-1.6zM401.2 661.7h1.6v1.6h-1.6zM363.6 702.5h1.6v1.6h-1.6zM374.6 686.5h1.6v1.6h-1.6zM371.7 697.6h1.6v1.6h-1.6zM376.7 684.2h1.6v1.6h-1.6zM390.2 689.7h1.6v1.6h-1.6zM384.1 709.6h1.6v1.6h-1.6zM361.5 715.8h1.6v1.6h-1.6zM362.8 712.1h1.6v1.6h-1.6zM368.3 680.7h1.6v1.6h-1.6zM422.0 639.1h1.6v1.6h-1.6zM392.9 643.0h1.6v1.6h-1.6zM398.7 627.8h1.6v1.6h-1.6zM440.0 648.1h1.6v1.6h-1.6zM383.8 642.2h1.6v1.6h-1.6zM446.3 628.8h1.6v1.6h-1.6zM369.4 685.8h1.6v1.6h-1.6zM384.1 690.4h1.6v1.6h-1.6zM376.9 658.1h1.6v1.6h-1.6zM373.9 703.7h1.6v1.6h-1.6zM374.0 663.5h1.6v1.6h-1.6zM383.1 637.4h1.6v1.6h-1.6zM376.3 651.1h1.6v1.6h-1.6zM372.8 670.6h1.6v1.6h-1.6zM405.0 648.5h1.6v1.6h-1.6zM376.6 663.3h1.6v1.6h-1.6zM426.0 650.5h1.6v1.6h-1.6zM371.6 655.8h1.6v1.6h-1.6zM394.9 653.7h1.6v1.6h-1.6zM373.7 666.9h1.6v1.6h-1.6zM365.9 691.1h1.6v1.6h-1.6zM362.5 706.5h1.6v1.6h-1.6zM381.5 652.4h1.6v1.6h-1.6zM374.6 690.1h1.6v1.6h-1.6zM395.0 669.5h1.6v1.6h-1.6zM373.1 699.7h1.6v1.6h-1.6zM366.0 696.1h1.6v1.6h-1.6zM373.4 673.7h1.6v1.6h-1.6zM360.2 713.2h1.6v1.6h-1.6zM401.6 675.9h1.6v1.6h-1.6zM391.9 635.6h1.6v1.6h-1.6zM378.5 622.0h1.6v1.6h-1.6zM381.2 626.7h1.6v1.6h-1.6zM379.1 653.0h1.6v1.6h-1.6zM375.8 699.1h1.6v1.6h-1.6zM384.7 690.4h1.6v1.6h-1.6zM376.6 673.5h1.6v1.6h-1.6zM379.5 686.4h1.6v1.6h-1.6zM380.1 673.5h1.6v1.6h-1.6zM374.2 680.4h1.6v1.6h-1.6zM380.2 689.9h1.6v1.6h-1.6zM376.6 644.9h1.6v1.6h-1.6zM386.4 613.7h1.6v1.6h-1.6zM372.7 711.0h1.6v1.6h-1.6zM376.6 675.6h1.6v1.6h-1.6zM389.6 675.6h1.6v1.6h-1.6zM362.5 708.0h1.6v1.6h-1.6zM364.8 701.1h1.6v1.6h-1.6zM373.4 699.4h1.6v1.6h-1.6zM393.8 650.6h1.6v1.6h-1.6zM376.5 657.9h1.6v1.6h-1.6zM401.2 663.9h1.6v1.6h-1.6zM374.5 707.8h1.6v1.6h-1.6zM383.6 662.7h1.6v1.6h-1.6zM367.4 698.2h1.6v1.6h-1.6zM389.9 676.8h1.6v1.6h-1.6zM391.5 620.9h1.6v1.6h-1.6zM378.4 696.2h1.6v1.6h-1.6zM365.7 706.4h1.6v1.6h-1.6zM382.2 687.8h1.6v1.6h-1.6zM360.1 716.8h1.6v1.6h-1.6zM387.1 693.7h1.6v1.6h-1.6zM374.6 660.6h1.6v1.6h-1.6zM380.3 680.5h1.6v1.6h-1.6zM384.0 660.3h1.6v1.6h-1.6zM375.2 707.0h1.6v1.6h-1.6zM384.6 707.0h1.6v1.6h-1.6zM374.3 667.8h1.6v1.6h-1.6zM386.2 646.6h1.6v1.6h-1.6zM368.4 685.3h1.6v1.6h-1.6zM369.0 700.8h1.6v1.6h-1.6zM388.9 641.8h1.6v1.6h-1.6zM374.6 710.3h1.6v1.6h-1.6zM375.0 702.1h1.6v1.6h-1.6zM384.0 662.4h1.6v1.6h-1.6zM362.8 707.5h1.6v1.6h-1.6zM377.6 695.4h1.6v1.6h-1.6zM397.6 663.7h1.6v1.6h-1.6zM378.2 701.8h1.6v1.6h-1.6zM367.4 714.6h1.6v1.6h-1.6zM389.5 656.2h1.6v1.6h-1.6zM373.0 676.9h1.6v1.6h-1.6zM378.1 640.8h1.6v1.6h-1.6zM374.2 701.8h1.6v1.6h-1.6zM388.5 686.9h1.6v1.6h-1.6zM363.7 716.4h1.6v1.6h-1.6zM387.2 654.0h1.6v1.6h-1.6zM395.9 636.7h1.6v1.6h-1.6zM371.5 671.5h1.6v1.6h-1.6zM374.9 656.2h1.6v1.6h-1.6zM389.7 638.5h1.6v1.6h-1.6zM371.8 682.1h1.6v1.6h-1.6zM375.7 681.1h1.6v1.6h-1.6zM369.8 697.2h1.6v1.6h-1.6zM393.9 636.1h1.6v1.6h-1.6zM368.8 695.1h1.6v1.6h-1.6zM371.0 660.1h1.6v1.6h-1.6zM370.6 676.8h1.6v1.6h-1.6zM383.6 693.7h1.6v1.6h-1.6zM374.7 702.8h1.6v1.6h-1.6zM369.2 690.4h1.6v1.6h-1.6zM376.5 666.3h1.6v1.6h-1.6zM385.6 628.0h1.6v1.6h-1.6zM373.6 675.9h1.6v1.6h-1.6zM381.8 656.3h1.6v1.6h-1.6zM370.2 696.3h1.6v1.6h-1.6zM386.2 653.1h1.6v1.6h-1.6zM387.4 652.8h1.6v1.6h-1.6zM364.8 713.3h1.6v1.6h-1.6zM369.9 672.9h1.6v1.6h-1.6zM378.3 669.0h1.6v1.6h-1.6zM378.5 650.0h1.6v1.6h-1.6zM377.1 677.5h1.6v1.6h-1.6zM366.9 684.2h1.6v1.6h-1.6zM371.8 688.1h1.6v1.6h-1.6zM372.6 665.7h1.6v1.6h-1.6zM389.7 681.5h1.6v1.6h-1.6zM381.7 638.4h1.6v1.6h-1.6zM373.8 652.8h1.6v1.6h-1.6zM364.1 692.0h1.6v1.6h-1.6zM391.7 662.4h1.6v1.6h-1.6zM386.9 691.6h1.6v1.6h-1.6zM373.6 646.7h1.6v1.6h-1.6zM394.9 640.6h1.6v1.6h-1.6zM377.4 664.0h1.6v1.6h-1.6zM359.8 711.5h1.6v1.6h-1.6zM367.1 682.9h1.6v1.6h-1.6zM387.6 670.3h1.6v1.6h-1.6zM388.3 684.8h1.6v1.6h-1.6zM371.7 691.7h1.6v1.6h-1.6zM401.4 677.4h1.6v1.6h-1.6zM370.5 668.5h1.6v1.6h-1.6zM395.9 658.3h1.6v1.6h-1.6zM382.8 649.6h1.6v1.6h-1.6zM387.3 689.1h1.6v1.6h-1.6zM372.7 696.7h1.6v1.6h-1.6zM372.3 686.7h1.6v1.6h-1.6zM375.8 708.2h1.6v1.6h-1.6zM367.1 694.1h1.6v1.6h-1.6zM389.1 632.3h1.6v1.6h-1.6zM386.8 670.1h1.6v1.6h-1.6zM376.0 654.8h1.6v1.6h-1.6zM363.9 690.9h1.6v1.6h-1.6zM394.6 631.7h1.6v1.6h-1.6zM385.1 678.0h1.6v1.6h-1.6zM369.7 683.2h1.6v1.6h-1.6zM375.7 646.6h1.6v1.6h-1.6zM376.1 636.6h1.6v1.6h-1.6zM368.3 698.8h1.6v1.6h-1.6zM408.7 667.6h1.6v1.6h-1.6zM362.9 695.9h1.6v1.6h-1.6zM378.3 646.1h1.6v1.6h-1.6zM380.1 664.9h1.6v1.6h-1.6zM379.5 620.3h1.6v1.6h-1.6zM382.1 695.9h1.6v1.6h-1.6zM365.9 683.8h1.6v1.6h-1.6zM385.2 647.1h1.6v1.6h-1.6zM376.9 656.5h1.6v1.6h-1.6zM365.3 701.6h1.6v1.6h-1.6zM371.5 694.5h1.6v1.6h-1.6zM367.6 708.8h1.6v1.6h-1.6zM390.0 701.9h1.6v1.6h-1.6zM370.3 701.8h1.6v1.6h-1.6zM361.3 702.6h1.6v1.6h-1.6zM368.4 709.8h1.6v1.6h-1.6zM391.1 633.1h1.6v1.6h-1.6zM405.2 641.9h1.6v1.6h-1.6zM376.5 698.9h1.6v1.6h-1.6zM374.7 687.0h1.6v1.6h-1.6zM375.9 644.9h1.6v1.6h-1.6zM398.9 682.1h1.6v1.6h-1.6zM381.9 653.4h1.6v1.6h-1.6zM396.1 621.1h1.6v1.6h-1.6zM377.8 643.2h1.6v1.6h-1.6zM393.3 643.6h1.6v1.6h-1.6zM370.1 705.0h1.6v1.6h-1.6zM371.1 692.6h1.6v1.6h-1.6zM361.1 703.2h1.6v1.6h-1.6zM375.6 694.1h1.6v1.6h-1.6zM369.4 705.4h1.6v1.6h-1.6zM379.5 702.2h1.6v1.6h-1.6zM411.8 643.8h1.6v1.6h-1.6zM384.6 687.2h1.6v1.6h-1.6zM374.3 668.1h1.6v1.6h-1.6zM355.1 718.5h1.6v1.6h-1.6zM369.0 697.4h1.6v1.6h-1.6zM366.0 691.3h1.6v1.6h-1.6zM366.0 712.6h1.6v1.6h-1.6zM371.7 659.6h1.6v1.6h-1.6zM370.8 697.7h1.6v1.6h-1.6zM382.4 662.4h1.6v1.6h-1.6zM443.5 641.0h1.6v1.6h-1.6zM379.3 679.9h1.6v1.6h-1.6zM367.3 679.9h1.6v1.6h-1.6zM373.1 691.6h1.6v1.6h-1.6zM385.1 637.4h1.6v1.6h-1.6zM371.2 691.9h1.6v1.6h-1.6zM369.4 678.3h1.6v1.6h-1.6zM370.3 666.9h1.6v1.6h-1.6zM359.7 709.3h1.6v1.6h-1.6zM359.0 717.5h1.6v1.6h-1.6zM370.0 704.5h1.6v1.6h-1.6zM385.9 665.7h1.6v1.6h-1.6zM378.1 627.6h1.6v1.6h-1.6zM373.3 690.6h1.6v1.6h-1.6zM361.6 704.0h1.6v1.6h-1.6zM380.9 641.4h1.6v1.6h-1.6zM384.5 683.2h1.6v1.6h-1.6zM373.2 705.1h1.6v1.6h-1.6zM407.6 622.2h1.6v1.6h-1.6zM379.1 626.1h1.6v1.6h-1.6zM378.4 654.0h1.6v1.6h-1.6zM415.9 638.3h1.6v1.6h-1.6zM359.7 716.5h1.6v1.6h-1.6zM372.0 663.8h1.6v1.6h-1.6zM374.4 714.2h1.6v1.6h-1.6zM363.9 707.5h1.6v1.6h-1.6zM387.3 634.4h1.6v1.6h-1.6zM361.6 705.7h1.6v1.6h-1.6zM365.9 712.0h1.6v1.6h-1.6zM402.5 670.6h1.6v1.6h-1.6zM363.3 701.1h1.6v1.6h-1.6zM386.7 679.5h1.6v1.6h-1.6zM373.7 692.8h1.6v1.6h-1.6zM371.4 656.4h1.6v1.6h-1.6zM380.1 669.0h1.6v1.6h-1.6zM380.3 695.4h1.6v1.6h-1.6zM382.6 635.3h1.6v1.6h-1.6zM378.9 664.4h1.6v1.6h-1.6zM377.8 638.9h1.6v1.6h-1.6zM372.0 690.3h1.6v1.6h-1.6zM366.8 698.5h1.6v1.6h-1.6zM382.2 645.1h1.6v1.6h-1.6zM372.9 664.8h1.6v1.6h-1.6zM79.0 672.2h1.6v1.6h-1.6zM246.3 593.8h1.6v1.6h-1.6zM260.9 590.6h1.6v1.6h-1.6zM267.7 598.4h1.6v1.6h-1.6zM268.9 573.2h1.6v1.6h-1.6zM270.6 580.9h1.6v1.6h-1.6zM237.4 620.2h1.6v1.6h-1.6zM251.2 624.3h1.6v1.6h-1.6zM249.5 630.9h1.6v1.6h-1.6zM268.2 635.5h1.6v1.6h-1.6zM268.9 616.3h1.6v1.6h-1.6zM209.2 665.5h1.6v1.6h-1.6zM205.1 675.2h1.6v1.6h-1.6zM221.6 673.1h1.6v1.6h-1.6zM242.7 682.3h1.6v1.6h-1.6zM245.1 685.7h1.6v1.6h-1.6zM213.1 696.6h1.6v1.6h-1.6zM240.8 706.5h1.6v1.6h-1.6zM254.8 698.5h1.6v1.6h-1.6zM258.5 697.5h1.6v1.6h-1.6zM266.2 694.6h1.6v1.6h-1.6zM271.8 684.0h1.6v1.6h-1.6zM274.9 658.0h1.6v1.6h-1.6zM277.9 667.0h1.6v1.6h-1.6zM277.1 611.9h1.6v1.6h-1.6zM277.9 624.1h1.6v1.6h-1.6zM281.5 679.7h1.6v1.6h-1.6zM283.9 679.4h1.6v1.6h-1.6zM282.2 699.2h1.6v1.6h-1.6zM283.4 702.2h1.6v1.6h-1.6zM286.3 691.5h1.6v1.6h-1.6zM281.5 582.8h1.6v1.6h-1.6zM429.1 635.1h1.6v1.6h-1.6zM436.0 637.7h1.6v1.6h-1.6zM433.0 647.3h1.6v1.6h-1.6zM448.6 655.9h1.6v1.6h-1.6zM424.8 664.4h1.6v1.6h-1.6zM419.3 679.6h1.6v1.6h-1.6zM426.9 682.4h1.6v1.6h-1.6zM425.2 687.8h1.6v1.6h-1.6zM462.3 681.8h1.6v1.6h-1.6zM460.1 688.3h1.6v1.6h-1.6zM467.7 697.4h1.6v1.6h-1.6zM463.8 705.2h1.6v1.6h-1.6zM425.8 705.6h1.6v1.6h-1.6zM420.0 709.3h1.6v1.6h-1.6zM420.4 635.6h1.6v1.6h-1.6zM422.2 646.0h1.6v1.6h-1.6zM424.8 646.0h1.6v1.6h-1.6zM532.8 648.4h1.6v1.6h-1.6zM500.8 701.0h1.6v1.6h-1.6zM523.4 702.9h1.6v1.6h-1.6zM540.1 700.4h1.6v1.6h-1.6zM432.3 611.2h1.6v1.6h-1.6zM284.8 573.1h1.6v1.6h-1.6zM291.2 573.1h1.6v1.6h-1.6zM294.8 573.1h1.6v1.6h-1.6zM298.6 573.1h1.6v1.6h-1.6zM301.9 573.1h1.6v1.6h-1.6zM305.5 573.1h1.6v1.6h-1.6zM311.5 573.1h1.6v1.6h-1.6zM313.0 573.1h1.6v1.6h-1.6zM314.8 573.1h1.6v1.6h-1.6zM316.6 573.1h1.6v1.6h-1.6zM318.4 573.1h1.6v1.6h-1.6zM319.8 573.1h1.6v1.6h-1.6zM390.5 573.1h1.6v1.6h-1.6zM404.4 573.1h1.6v1.6h-1.6zM405.9 573.1h1.6v1.6h-1.6zM407.4 573.1h1.6v1.6h-1.6zM417.2 573.1h1.6v1.6h-1.6zM270.5 579.5h1.6v1.6h-1.6zM287.9 579.5h1.6v1.6h-1.6zM295.5 579.5h1.6v1.6h-1.6zM300.0 579.5h1.6v1.6h-1.6zM301.5 579.5h1.6v1.6h-1.6zM304.7 579.5h1.6v1.6h-1.6zM306.2 579.5h1.6v1.6h-1.6zM316.2 579.5h1.6v1.6h-1.6zM281.5 583.8h1.6v1.6h-1.6zM290.5 583.8h1.6v1.6h-1.6zM297.6 583.8h1.6v1.6h-1.6zM302.7 583.8h1.6v1.6h-1.6zM309.2 583.8h1.6v1.6h-1.6zM313.8 583.8h1.6v1.6h-1.6zM392.6 583.8h1.6v1.6h-1.6zM410.7 583.8h1.6v1.6h-1.6zM403.7 587.2h1.6v1.6h-1.6zM417.2 587.2h1.6v1.6h-1.6zM420.4 595.2h1.6v1.6h-1.6zM395.5 597.8h1.6v1.6h-1.6zM386.8 600.0h1.6v1.6h-1.6zM389.0 600.0h1.6v1.6h-1.6zM386.8 605.2h1.6v1.6h-1.6zM392.2 605.2h1.6v1.6h-1.6zM397.6 605.2h1.6v1.6h-1.6zM400.9 605.2h1.6v1.6h-1.6zM407.4 605.2h1.6v1.6h-1.6zM412.8 605.2h1.6v1.6h-1.6zM390.0 610.2h1.6v1.6h-1.6zM395.5 610.2h1.6v1.6h-1.6zM399.8 610.2h1.6v1.6h-1.6zM289.8 587.1h1.6v1.6h-1.6zM303.1 587.3h1.6v1.6h-1.6zM306.8 587.0h1.6v1.6h-1.6zM308.4 586.8h1.6v1.6h-1.6zM286.2 586.7h1.6v1.6h-1.6zM290.5 587.1h1.6v1.6h-1.6zM318.5 586.7h1.6v1.6h-1.6zM287.7 586.5h1.6v1.6h-1.6zM289.3 586.8h1.6v1.6h-1.6zM289.8 586.9h1.6v1.6h-1.6zM298.0 587.9h1.6v1.6h-1.6zM299.6 587.6h1.6v1.6h-1.6zM293.7 587.9h1.6v1.6h-1.6zM295.3 587.6h1.6v1.6h-1.6zM314.2 587.8h1.6v1.6h-1.6zM315.8 587.6h1.6v1.6h-1.6zM316.5 587.5h1.6v1.6h-1.6zM318.1 587.6h1.6v1.6h-1.6zM289.9 587.7h1.6v1.6h-1.6zM291.5 587.6h1.6v1.6h-1.6zM298.1 590.3h1.6v1.6h-1.6zM299.7 590.9h1.6v1.6h-1.6zM302.6 591.1h1.6v1.6h-1.6zM318.7 591.4h1.6v1.6h-1.6zM311.0 591.1h1.6v1.6h-1.6zM312.6 590.9h1.6v1.6h-1.6zM317.0 592.6h1.6v1.6h-1.6zM318.6 593.2h1.6v1.6h-1.6zM307.4 593.1h1.6v1.6h-1.6zM297.0 593.0h1.6v1.6h-1.6zM298.6 593.2h1.6v1.6h-1.6zM308.1 595.6h1.6v1.6h-1.6zM319.3 594.6h1.6v1.6h-1.6zM320.9 595.2h1.6v1.6h-1.6zM286.6 595.4h1.6v1.6h-1.6zM288.2 595.2h1.6v1.6h-1.6zM315.9 594.8h1.6v1.6h-1.6zM292.8 594.8h1.6v1.6h-1.6zM289.1 595.7h1.6v1.6h-1.6zM286.3 595.1h1.6v1.6h-1.6zM287.9 595.2h1.6v1.6h-1.6zM296.6 595.3h1.6v1.6h-1.6zM298.2 595.2h1.6v1.6h-1.6zM318.2 598.8h1.6v1.6h-1.6zM319.8 598.8h1.6v1.6h-1.6zM314.2 598.5h1.6v1.6h-1.6zM306.7 598.9h1.6v1.6h-1.6zM311.1 598.7h1.6v1.6h-1.6zM312.3 598.6h1.6v1.6h-1.6zM315.7 598.7h1.6v1.6h-1.6zM317.3 598.8h1.6v1.6h-1.6zM321.3 599.3h1.6v1.6h-1.6zM322.9 598.8h1.6v1.6h-1.6zM291.5 599.5h1.6v1.6h-1.6zM292.2 601.9h1.6v1.6h-1.6zM293.8 602.2h1.6v1.6h-1.6zM305.4 602.4h1.6v1.6h-1.6zM289.0 602.1h1.6v1.6h-1.6zM309.8 602.3h1.6v1.6h-1.6zM291.3 605.7h1.6v1.6h-1.6zM298.6 605.6h1.6v1.6h-1.6zM300.2 605.2h1.6v1.6h-1.6zM301.8 605.0h1.6v1.6h-1.6zM303.4 605.2h1.6v1.6h-1.6zM322.2 605.0h1.6v1.6h-1.6zM290.7 605.0h1.6v1.6h-1.6zM289.5 605.3h1.6v1.6h-1.6zM308.3 604.5h1.6v1.6h-1.6zM309.9 605.2h1.6v1.6h-1.6zM324.3 605.3h1.6v1.6h-1.6zM313.8 604.9h1.6v1.6h-1.6zM315.4 605.2h1.6v1.6h-1.6zM311.2 608.1h1.6v1.6h-1.6zM312.8 608.0h1.6v1.6h-1.6zM300.6 607.5h1.6v1.6h-1.6zM302.2 608.0h1.6v1.6h-1.6zM315.7 608.4h1.6v1.6h-1.6zM297.9 608.0h1.6v1.6h-1.6zM299.5 608.0h1.6v1.6h-1.6zM318.3 608.2h1.6v1.6h-1.6zM302.9 608.1h1.6v1.6h-1.6zM308.5 608.0h1.6v1.6h-1.6zM310.1 608.0h1.6v1.6h-1.6zM313.3 607.9h1.6v1.6h-1.6zM316.8 609.9h1.6v1.6h-1.6zM302.0 610.0h1.6v1.6h-1.6zM292.6 610.0h1.6v1.6h-1.6zM321.9 609.9h1.6v1.6h-1.6zM314.4 610.2h1.6v1.6h-1.6zM316.0 610.2h1.6v1.6h-1.6zM316.6 610.2h1.6v1.6h-1.6zM309.1 610.8h1.6v1.6h-1.6zM318.1 610.4h1.6v1.6h-1.6z" fill="#000"/>
<text x="174.6" y="80.0" class="gn" textLength="14.5" lengthAdjust="spacingAndGlyphs">GPS1</text>
<text x="299.3" y="80.1" class="gn" textLength="24.8" lengthAdjust="spacingAndGlyphs">TAMM41</text>
<text x="176.4" y="110.3" class="gn" textLength="25.0" lengthAdjust="spacingAndGlyphs">TAS2R13</text>
<text x="331.7" y="139.0" class="gn" textLength="16.4" lengthAdjust="spacingAndGlyphs">MZB1</text>
<text x="333.3" y="166.6" class="gn" textLength="17.1" lengthAdjust="spacingAndGlyphs">TXNIP</text>
<text x="338.6" y="177.3" class="gn" textLength="17.8" lengthAdjust="spacingAndGlyphs">SKAP1</text>
<text x="172.3" y="176.6" class="gn" textLength="20.7" lengthAdjust="spacingAndGlyphs">ABCB8</text>
<text x="192.5" y="176.8" class="gn" textLength="20.8" lengthAdjust="spacingAndGlyphs">ATP5BPL</text>
<text x="199.8" y="179.6" class="gn" textLength="18.3" lengthAdjust="spacingAndGlyphs">SNRB2</text>
<text x="172.9" y="200.1" class="gn" textLength="27.1" lengthAdjust="spacingAndGlyphs">C19orf46</text>
<text x="203.1" y="208.9" class="gn" textLength="19.4" lengthAdjust="spacingAndGlyphs">CCNA2</text>
<text x="174.6" y="215.5" class="gn" textLength="21.4" lengthAdjust="spacingAndGlyphs">RAB3D</text>
<text x="192.0" y="215.5" class="gn" textLength="30.5" lengthAdjust="spacingAndGlyphs">B3GALT6</text>
<text x="146.0" y="223.9" class="gn" textLength="12.2" lengthAdjust="spacingAndGlyphs">RIT2</text>
<text x="296.9" y="201.5" class="gn" textLength="14.5" lengthAdjust="spacingAndGlyphs">ROR1</text>
<text x="291.4" y="213.7" class="gn" textLength="26.5" lengthAdjust="spacingAndGlyphs">ST3GAL2</text>
<text x="305.7" y="223.6" class="gn" textLength="24.0" lengthAdjust="spacingAndGlyphs">SH2D3A</text>
<text x="262.9" y="516.7" class="gn" textLength="30.2" lengthAdjust="spacingAndGlyphs">NPIPAM13A</text>
<text x="301.1" y="516.7" class="gn" textLength="19.6" lengthAdjust="spacingAndGlyphs">CCNA2</text>
<text x="258.8" y="522.2" class="gn" textLength="17.7" lengthAdjust="spacingAndGlyphs">LCE1B</text>
<text x="279.7" y="522.2" class="gn" textLength="16.3" lengthAdjust="spacingAndGlyphs">AURKA</text>
<text x="287.0" y="522.2" class="gn" textLength="20.9" lengthAdjust="spacingAndGlyphs">ARHGAP2</text>
<text x="285.7" y="558.1" class="gn" textLength="31.8" lengthAdjust="spacingAndGlyphs">RNASEH2B</text>
<text x="291.0" y="562.9" class="gn" textLength="15.0" lengthAdjust="spacingAndGlyphs">THBD</text>
<text x="300.0" y="562.9" class="gn" textLength="25.6" lengthAdjust="spacingAndGlyphs">KRBOX3</text>
<text x="298.2" y="568.2" class="gn" textLength="26.1" lengthAdjust="spacingAndGlyphs">C20orf14</text>
<text x="406.8" y="474.8" class="gn" textLength="23.6" lengthAdjust="spacingAndGlyphs">MRPL13</text>
<text x="392.9" y="538.2" class="gn" textLength="24.6" lengthAdjust="spacingAndGlyphs">DNTTIP1</text>
<text x="408.5" y="555.2" class="gn" textLength="24.6" lengthAdjust="spacingAndGlyphs">CHRNA6</text>
<text x="404.6" y="557.1" class="gn" textLength="9.4" lengthAdjust="spacingAndGlyphs">TAS</text>
<text x="398.9" y="561.2" class="gn" textLength="22.9" lengthAdjust="spacingAndGlyphs">NLRP12</text>
<text x="463.1" y="560.7" class="gn" textLength="27.2" lengthAdjust="spacingAndGlyphs">FLJ36785</text>
</svg></body></html>
